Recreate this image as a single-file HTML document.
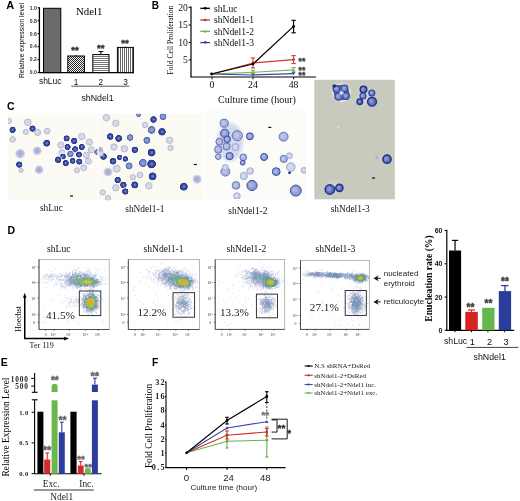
<!DOCTYPE html>
<html><head><meta charset="utf-8"><style>
html,body{margin:0;padding:0;background:#fff;width:520px;height:501px;overflow:hidden;font-family:"Liberation Sans",sans-serif;}
svg{display:block;will-change:transform;filter:blur(0.3px);}
</style></head><body>
<svg width="520" height="501" viewBox="0 0 520 501"><defs>
<pattern id="pCross" width="2" height="2" patternUnits="userSpaceOnUse"><rect width="2" height="2" fill="#fff"/><rect width="1" height="1" fill="#222"/><rect x="1" y="1" width="1" height="1" fill="#222"/></pattern>
<pattern id="pHor" width="2" height="2" patternUnits="userSpaceOnUse"><rect width="2" height="2" fill="#fff"/><rect width="2" height="0.9" fill="#666"/></pattern>
<pattern id="pVer" width="2" height="2" patternUnits="userSpaceOnUse"><rect width="2" height="2" fill="#fff"/><rect width="0.9" height="2" fill="#555"/></pattern>
<filter id="b1" x="-50%" y="-50%" width="200%" height="200%"><feGaussianBlur stdDeviation="0.6"/></filter>
<filter id="b2" x="-50%" y="-50%" width="200%" height="200%"><feGaussianBlur stdDeviation="1.5"/></filter>
<filter id="b3" x="-50%" y="-50%" width="200%" height="200%"><feGaussianBlur stdDeviation="3"/></filter>
<filter id="b05" x="-50%" y="-50%" width="200%" height="200%"><feGaussianBlur stdDeviation="0.35"/></filter>
</defs>
<text x="6.3" y="9" font-family="'Liberation Sans', sans-serif" font-size="11" text-anchor="start" font-weight="bold" fill="#000" >A</text>
<line x1="39.4" y1="7.3" x2="39.4" y2="72.6" stroke="#000" stroke-width="1.3" />
<line x1="38.8" y1="72.6" x2="134" y2="72.6" stroke="#000" stroke-width="1.3" />
<line x1="37.5" y1="7.8" x2="39.4" y2="7.8" stroke="#000" stroke-width="1" />
<text x="36.9" y="9.6" font-family="'Liberation Sans', sans-serif" font-size="5.1" text-anchor="end" font-weight="bold" fill="#333" >1.0</text>
<line x1="37.5" y1="20.76" x2="39.4" y2="20.76" stroke="#000" stroke-width="1" />
<text x="36.9" y="22.560000000000002" font-family="'Liberation Sans', sans-serif" font-size="5.1" text-anchor="end" font-weight="bold" fill="#333" >0.8</text>
<line x1="37.5" y1="33.72" x2="39.4" y2="33.72" stroke="#000" stroke-width="1" />
<text x="36.9" y="35.519999999999996" font-family="'Liberation Sans', sans-serif" font-size="5.1" text-anchor="end" font-weight="bold" fill="#333" >0.6</text>
<line x1="37.5" y1="46.68" x2="39.4" y2="46.68" stroke="#000" stroke-width="1" />
<text x="36.9" y="48.48" font-family="'Liberation Sans', sans-serif" font-size="5.1" text-anchor="end" font-weight="bold" fill="#333" >0.4</text>
<line x1="37.5" y1="59.64" x2="39.4" y2="59.64" stroke="#000" stroke-width="1" />
<text x="36.9" y="61.44" font-family="'Liberation Sans', sans-serif" font-size="5.1" text-anchor="end" font-weight="bold" fill="#333" >0.2</text>
<line x1="37.5" y1="72.60000000000001" x2="39.4" y2="72.60000000000001" stroke="#000" stroke-width="1" />
<text x="36.9" y="74.4" font-family="'Liberation Sans', sans-serif" font-size="5.1" text-anchor="end" font-weight="bold" fill="#333" >0.0</text>
<text x="0" y="0" font-family="'Liberation Sans', sans-serif" font-size="6.8" text-anchor="middle" fill="#000" transform="translate(23.6,40.5) rotate(-90)" fill="#222">Relative expression level</text>
<rect x="43.5" y="8.3" width="17.3" height="64.3" fill="#6a6a6a" stroke="#000" stroke-width="1" />
<rect x="67.8" y="56" width="16.6" height="16.6" fill="url(#pCross)" stroke="#000" stroke-width="1" />
<rect x="92.8" y="54.6" width="16.2" height="18" fill="url(#pHor)" stroke="#000" stroke-width="1" />
<rect x="117.4" y="47.4" width="16" height="25.2" fill="url(#pVer)" stroke="#000" stroke-width="1" />
<line x1="100.9" y1="51.6" x2="100.9" y2="54.6" stroke="#000" stroke-width="1" />
<line x1="98.5" y1="51.6" x2="103.3" y2="51.6" stroke="#000" stroke-width="1" />
<line x1="76" y1="55" x2="76" y2="56" stroke="#000" stroke-width="1" />
<line x1="125.5" y1="46.8" x2="125.5" y2="47.4" stroke="#000" stroke-width="1" />
<text x="75.05" y="53.49" font-family="'Liberation Sans', sans-serif" font-size="9.59" text-anchor="middle" font-weight="bold" fill="#333" stroke="#333" stroke-width="0.45">**</text>
<text x="100.7" y="51.39" font-family="'Liberation Sans', sans-serif" font-size="9.59" text-anchor="middle" font-weight="bold" fill="#333" stroke="#333" stroke-width="0.45">**</text>
<text x="124.95" y="46.29" font-family="'Liberation Sans', sans-serif" font-size="9.59" text-anchor="middle" font-weight="bold" fill="#333" stroke="#333" stroke-width="0.45">**</text>
<text x="50" y="16" font-family="'Liberation Sans', sans-serif" font-size="1" text-anchor="start" fill="#000" ></text>
<text x="76" y="15.2" font-family="'Liberation Serif', serif" font-size="10.8" text-anchor="start" fill="#000" >Ndel1</text>
<text x="38.9" y="83.7" font-family="'Liberation Sans', sans-serif" font-size="8.5" text-anchor="start" fill="#111" >shLuc</text>
<text x="76.1" y="84.8" font-family="'Liberation Sans', sans-serif" font-size="8.2" text-anchor="middle" fill="#111" >1</text>
<text x="100.9" y="84.8" font-family="'Liberation Sans', sans-serif" font-size="8.2" text-anchor="middle" fill="#111" >2</text>
<text x="125.6" y="84.8" font-family="'Liberation Sans', sans-serif" font-size="8.2" text-anchor="middle" fill="#111" >3</text>
<line x1="71.3" y1="86.2" x2="129.4" y2="86.2" stroke="#444" stroke-width="0.9" />
<text x="81.4" y="100.6" font-family="'Liberation Sans', sans-serif" font-size="8.8" text-anchor="start" fill="#111" >shNdel1</text>
<text x="151.8" y="9.2" font-family="'Liberation Sans', sans-serif" font-size="10" text-anchor="start" font-weight="bold" fill="#000" >B</text>
<line x1="191" y1="6.5" x2="191" y2="77.2" stroke="#000" stroke-width="1.2" />
<line x1="190.4" y1="77" x2="316" y2="77" stroke="#000" stroke-width="1.2" />
<line x1="188.6" y1="7.3" x2="191" y2="7.3" stroke="#000" stroke-width="1" />
<text x="187.8" y="10.6" font-family="'Liberation Serif', serif" font-size="9.6" text-anchor="end" fill="#111" >20</text>
<line x1="188.6" y1="25" x2="191" y2="25" stroke="#000" stroke-width="1" />
<text x="187.8" y="28.3" font-family="'Liberation Serif', serif" font-size="9.6" text-anchor="end" fill="#111" >15</text>
<line x1="188.6" y1="42.4" x2="191" y2="42.4" stroke="#000" stroke-width="1" />
<text x="187.8" y="45.699999999999996" font-family="'Liberation Serif', serif" font-size="9.6" text-anchor="end" fill="#111" >10</text>
<line x1="188.6" y1="59.9" x2="191" y2="59.9" stroke="#000" stroke-width="1" />
<text x="187.8" y="63.199999999999996" font-family="'Liberation Serif', serif" font-size="9.6" text-anchor="end" fill="#111" >5</text>
<line x1="212" y1="77" x2="212" y2="79.3" stroke="#000" stroke-width="1" />
<text x="212" y="88.4" font-family="'Liberation Serif', serif" font-size="9.8" text-anchor="middle" fill="#111" >0</text>
<line x1="253" y1="77" x2="253" y2="79.3" stroke="#000" stroke-width="1" />
<text x="253" y="88.4" font-family="'Liberation Serif', serif" font-size="9.8" text-anchor="middle" fill="#111" >24</text>
<line x1="293.6" y1="77" x2="293.6" y2="79.3" stroke="#000" stroke-width="1" />
<text x="293.6" y="88.4" font-family="'Liberation Serif', serif" font-size="9.8" text-anchor="middle" fill="#111" >48</text>
<text x="257" y="103" font-family="'Liberation Serif', serif" font-size="10" text-anchor="middle" fill="#111" >Culture time (hour)</text>
<text x="0" y="0" font-family="'Liberation Serif', serif" font-size="7.6" text-anchor="middle" fill="#000" transform="translate(173.3,40) rotate(-90)" fill="#222">Fold Cell Proliferation</text>
<line x1="200.3" y1="8.3" x2="210" y2="8.3" stroke="#000" stroke-width="1.3" />
<circle cx="205.2" cy="8.3" r="1.36" fill="#000"/>
<text x="214" y="11.5" font-family="'Liberation Serif', serif" font-size="9.6" text-anchor="start" fill="#111" >shLuc</text>
<line x1="200.3" y1="20" x2="210" y2="20" stroke="#d03030" stroke-width="1.3" />
<circle cx="205.2" cy="20" r="1.36" fill="#d03030"/>
<text x="214" y="23.2" font-family="'Liberation Serif', serif" font-size="9.6" text-anchor="start" fill="#111" >shNdel1-1</text>
<line x1="200.3" y1="31.3" x2="210" y2="31.3" stroke="#70b850" stroke-width="1.3" />
<path d="M203.60,32.58 L205.20,29.70 L206.80,32.58 Z" fill="#70b850"/>
<text x="214" y="34.5" font-family="'Liberation Serif', serif" font-size="9.6" text-anchor="start" fill="#111" >shNdel1-2</text>
<line x1="200.3" y1="42.6" x2="210" y2="42.6" stroke="#3040a0" stroke-width="1.3" />
<path d="M203.60,41.32 L205.20,44.20 L206.80,41.32 Z" fill="#3040a0"/>
<text x="214" y="45.800000000000004" font-family="'Liberation Serif', serif" font-size="9.6" text-anchor="start" fill="#111" >shNdel1-3</text>
<polyline points="211.6,74 253,72.3 293.6,69.8" fill="none" stroke="#78b858" stroke-width="1.2"/>
<polyline points="211.6,74 253,75 293.6,73.6" fill="none" stroke="#3848a8" stroke-width="1.2"/>
<polyline points="211.6,74 253,63 293.6,59.6" fill="none" stroke="#d03838" stroke-width="1.2"/>
<polyline points="211.6,74 253,64 293.6,26.4" fill="none" stroke="#000" stroke-width="1.2"/>
<line x1="253" y1="58" x2="253" y2="68" stroke="#d03838" stroke-width="1.1" />
<line x1="250.8" y1="58" x2="255.2" y2="58" stroke="#d03838" stroke-width="1.1" />
<line x1="250.8" y1="68" x2="255.2" y2="68" stroke="#d03838" stroke-width="1.1" />
<line x1="293.6" y1="55.6" x2="293.6" y2="63.6" stroke="#d03838" stroke-width="1.1" />
<line x1="291.40000000000003" y1="55.6" x2="295.8" y2="55.6" stroke="#d03838" stroke-width="1.1" />
<line x1="291.40000000000003" y1="63.6" x2="295.8" y2="63.6" stroke="#d03838" stroke-width="1.1" />
<line x1="293.6" y1="20.3" x2="293.6" y2="32.8" stroke="#000" stroke-width="1.1" />
<line x1="291.40000000000003" y1="20.3" x2="295.8" y2="20.3" stroke="#000" stroke-width="1.1" />
<line x1="291.40000000000003" y1="32.8" x2="295.8" y2="32.8" stroke="#000" stroke-width="1.1" />
<line x1="293.6" y1="67.5" x2="293.6" y2="72" stroke="#78b858" stroke-width="1.1" />
<line x1="291.40000000000003" y1="67.5" x2="295.8" y2="67.5" stroke="#78b858" stroke-width="1.1" />
<line x1="291.40000000000003" y1="72" x2="295.8" y2="72" stroke="#78b858" stroke-width="1.1" />
<line x1="253" y1="70.5" x2="253" y2="74" stroke="#78b858" stroke-width="1.1" />
<line x1="250.8" y1="70.5" x2="255.2" y2="70.5" stroke="#78b858" stroke-width="1.1" />
<line x1="250.8" y1="74" x2="255.2" y2="74" stroke="#78b858" stroke-width="1.1" />
<circle cx="253" cy="63" r="1.44" fill="#d03838"/>
<circle cx="293.6" cy="59.6" r="1.44" fill="#d03838"/>
<circle cx="253" cy="64" r="1.44" fill="#000"/>
<circle cx="293.6" cy="26.4" r="1.44" fill="#000"/>
<path d="M251.30,73.66 L253.00,70.60 L254.70,73.66 Z" fill="#78b858"/>
<path d="M291.90,71.16 L293.60,68.10 L295.30,71.16 Z" fill="#78b858"/>
<path d="M251.30,73.64 L253.00,76.70 L254.70,73.64 Z" fill="#3848a8"/>
<path d="M291.90,72.24 L293.60,75.30 L295.30,72.24 Z" fill="#3848a8"/>
<circle cx="211.6" cy="74" r="1.44" fill="#000"/>
<text x="301.9" y="64.42" font-family="'Liberation Sans', sans-serif" font-size="8.49" text-anchor="middle" font-weight="bold" fill="#444" stroke="#444" stroke-width="0.45">**</text>
<text x="301.9" y="73.22" font-family="'Liberation Sans', sans-serif" font-size="8.49" text-anchor="middle" font-weight="bold" fill="#444" stroke="#444" stroke-width="0.45">**</text>
<text x="301.9" y="78.22" font-family="'Liberation Sans', sans-serif" font-size="8.49" text-anchor="middle" font-weight="bold" fill="#444" stroke="#444" stroke-width="0.45">**</text>
<text x="7" y="110.3" font-family="'Liberation Sans', sans-serif" font-size="10.5" text-anchor="start" font-weight="bold" fill="#000" >C</text>
<defs>
<radialGradient id="gD"><stop offset="0" stop-color="#6272b4"/><stop offset="0.4" stop-color="#3c4c9e"/><stop offset="0.8" stop-color="#2c3c92"/><stop offset="0.92" stop-color="#32429a"/><stop offset="1" stop-color="#7080b8" stop-opacity="0.3"/></radialGradient>
<radialGradient id="gM"><stop offset="0" stop-color="#a0abd6"/><stop offset="0.6" stop-color="#7482c2"/><stop offset="0.88" stop-color="#5566b0"/><stop offset="1" stop-color="#8090c8" stop-opacity="0.3"/></radialGradient>
<radialGradient id="gL"><stop offset="0" stop-color="#dcdee8"/><stop offset="0.6" stop-color="#c8ccdc"/><stop offset="0.86" stop-color="#a6adc8"/><stop offset="1" stop-color="#c4c8d8" stop-opacity="0.3"/></radialGradient>
<radialGradient id="gF"><stop offset="0" stop-color="#98a2d2" stop-opacity="0.95"/><stop offset="0.65" stop-color="#a8b0da" stop-opacity="0.8"/><stop offset="1" stop-color="#c4c9e4" stop-opacity="0"/></radialGradient>
<radialGradient id="gO"><stop offset="0" stop-color="#a8b2e0"/><stop offset="0.55" stop-color="#8e9ad4"/><stop offset="0.78" stop-color="#5363b2"/><stop offset="0.9" stop-color="#34449c"/><stop offset="1" stop-color="#7080c0" stop-opacity="0.3"/></radialGradient>
<radialGradient id="gOL"><stop offset="0" stop-color="#c4cbea"/><stop offset="0.6" stop-color="#a9b3e0"/><stop offset="0.85" stop-color="#7684c4"/><stop offset="1" stop-color="#a0aad8" stop-opacity="0.3"/></radialGradient>
<radialGradient id="gOLL"><stop offset="0" stop-color="#dadff0"/><stop offset="0.6" stop-color="#c8cfea"/><stop offset="0.86" stop-color="#a2acd8"/><stop offset="1" stop-color="#c0c8e4" stop-opacity="0.2"/></radialGradient>
<radialGradient id="g4"><stop offset="0" stop-color="#8494d2"/><stop offset="0.45" stop-color="#5a6cc0"/><stop offset="0.8" stop-color="#3244a2"/><stop offset="0.92" stop-color="#2a3a96"/><stop offset="1" stop-color="#6878b8" stop-opacity="0.3"/></radialGradient>
<radialGradient id="gH"><stop offset="0" stop-color="#e2e4de" stop-opacity="0.9"/><stop offset="1" stop-color="#d6d8d0" stop-opacity="0"/></radialGradient>
<clipPath id="c1"><rect x="8" y="114.7" width="89.5" height="85.5"/></clipPath>
<clipPath id="c2"><rect x="98.8" y="113.8" width="104" height="86.5"/></clipPath>
<clipPath id="c3"><rect x="204.5" y="110" width="101.5" height="89"/></clipPath>
<clipPath id="c4"><rect x="314.3" y="79.8" width="80.5" height="119.5"/></clipPath>
</defs>
<rect x="8" y="114.7" width="89.5" height="85.5" fill="#fbfaf4" stroke="none" stroke-width="0" />
<g clip-path="url(#c1)" filter="url(#b05)">
<circle cx="20.2" cy="153.6" r="5.5" fill="url(#gF)" filter="url(#b1)"/>
<circle cx="37.2" cy="150.8" r="5.0" fill="url(#gF)" filter="url(#b1)"/>
<circle cx="39.1" cy="169.7" r="5.0" fill="url(#gF)" filter="url(#b1)"/>
<circle cx="12.6" cy="129.9" r="4.2" fill="#ffffff" opacity="0.75"/>
<circle cx="12.6" cy="129.9" r="3.3" fill="url(#gD)"/>
<circle cx="12.8" cy="129.8" r="1.1" fill="#8090c8" opacity="0.55"/>
<circle cx="12.6" cy="139.4" r="2.9" fill="#d6d9e6" stroke="#a0a8c6" stroke-width="0.7"/>
<circle cx="27.8" cy="122.3" r="3.4" fill="#d6d9e6" stroke="#a0a8c6" stroke-width="0.7"/>
<circle cx="25.9" cy="131.8" r="2.6" fill="#d6d9e6" stroke="#a0a8c6" stroke-width="0.7"/>
<circle cx="32.5" cy="128.6" r="4.2" fill="#ffffff" opacity="0.75"/>
<circle cx="32.5" cy="128.6" r="3.3" fill="url(#gD)"/>
<circle cx="32.7" cy="128.5" r="1.1" fill="#8090c8" opacity="0.55"/>
<circle cx="37.6" cy="132.4" r="3.1" fill="#d6d9e6" stroke="#a0a8c6" stroke-width="0.7"/>
<circle cx="47.1" cy="131.2" r="2.9" fill="#d6d9e6" stroke="#a0a8c6" stroke-width="0.7"/>
<circle cx="46.7" cy="143.2" r="4.5" fill="#ffffff" opacity="0.75"/>
<circle cx="46.7" cy="143.2" r="3.6" fill="url(#gD)"/>
<circle cx="46.9" cy="143.1" r="1.2" fill="#8090c8" opacity="0.55"/>
<circle cx="19.2" cy="164.6" r="4.2" fill="#ffffff" opacity="0.75"/>
<circle cx="19.2" cy="164.6" r="3.3" fill="url(#gD)"/>
<circle cx="19.4" cy="164.5" r="1.1" fill="#8090c8" opacity="0.55"/>
<circle cx="21.1" cy="170.3" r="2.1" fill="#d6d9e6" stroke="#a0a8c6" stroke-width="0.7"/>
<circle cx="9.0" cy="121.0" r="2.6" fill="#d6d9e6" stroke="#a0a8c6" stroke-width="0.7"/>
<circle cx="66.6" cy="138.4" r="4.1" fill="#ffffff" opacity="0.75"/>
<circle cx="66.6" cy="138.4" r="3.2" fill="url(#gD)"/>
<circle cx="66.8" cy="138.3" r="1.1" fill="#8090c8" opacity="0.55"/>
<circle cx="74.2" cy="140.9" r="4.2" fill="#ffffff" opacity="0.75"/>
<circle cx="74.2" cy="140.9" r="3.3" fill="url(#gD)"/>
<circle cx="74.4" cy="140.8" r="1.1" fill="#8090c8" opacity="0.55"/>
<circle cx="81.8" cy="136.5" r="3.2" fill="#d6d9e6" stroke="#a0a8c6" stroke-width="0.7"/>
<circle cx="89.4" cy="142.2" r="3.1" fill="#d6d9e6" stroke="#a0a8c6" stroke-width="0.7"/>
<circle cx="67.6" cy="147.0" r="4.1" fill="#ffffff" opacity="0.75"/>
<circle cx="67.6" cy="147.0" r="3.2" fill="url(#gD)"/>
<circle cx="67.8" cy="146.9" r="1.1" fill="#8090c8" opacity="0.55"/>
<circle cx="75.2" cy="149.4" r="4.2" fill="#ffffff" opacity="0.75"/>
<circle cx="75.2" cy="149.4" r="3.3" fill="url(#gD)"/>
<circle cx="75.4" cy="149.3" r="1.1" fill="#8090c8" opacity="0.55"/>
<circle cx="81.8" cy="147.0" r="4.1" fill="#ffffff" opacity="0.75"/>
<circle cx="81.8" cy="147.0" r="3.2" fill="url(#gD)"/>
<circle cx="82.0" cy="146.9" r="1.1" fill="#8090c8" opacity="0.55"/>
<circle cx="60.9" cy="145.1" r="3.1" fill="#d6d9e6" stroke="#a0a8c6" stroke-width="0.7"/>
<circle cx="91.3" cy="149.8" r="3.1" fill="#d6d9e6" stroke="#a0a8c6" stroke-width="0.7"/>
<circle cx="61.9" cy="152.7" r="3.0" fill="#d6d9e6" stroke="#a0a8c6" stroke-width="0.7"/>
<circle cx="62.8" cy="156.5" r="4.0" fill="#ffffff" opacity="0.75"/>
<circle cx="62.8" cy="156.5" r="3.1" fill="url(#gD)"/>
<circle cx="63.0" cy="156.4" r="1.0" fill="#8090c8" opacity="0.55"/>
<circle cx="70.4" cy="154.0" r="4.3" fill="#ffffff" opacity="0.75"/>
<circle cx="70.4" cy="154.0" r="3.4" fill="url(#gM)"/>
<circle cx="79.0" cy="154.6" r="4.1" fill="#ffffff" opacity="0.75"/>
<circle cx="79.0" cy="154.6" r="3.2" fill="url(#gD)"/>
<circle cx="79.2" cy="154.5" r="1.1" fill="#8090c8" opacity="0.55"/>
<circle cx="86.5" cy="155.1" r="3.0" fill="#d6d9e6" stroke="#a0a8c6" stroke-width="0.7"/>
<circle cx="58.1" cy="159.7" r="4.3" fill="#ffffff" opacity="0.75"/>
<circle cx="58.1" cy="159.7" r="3.4" fill="url(#gD)"/>
<circle cx="58.3" cy="159.6" r="1.1" fill="#8090c8" opacity="0.55"/>
<circle cx="65.7" cy="163.1" r="4.2" fill="#ffffff" opacity="0.75"/>
<circle cx="65.7" cy="163.1" r="3.3" fill="url(#gD)"/>
<circle cx="65.9" cy="163.0" r="1.1" fill="#8090c8" opacity="0.55"/>
<circle cx="72.7" cy="160.8" r="4.0" fill="#ffffff" opacity="0.75"/>
<circle cx="72.7" cy="160.8" r="3.1" fill="url(#gD)"/>
<circle cx="72.9" cy="160.7" r="1.0" fill="#8090c8" opacity="0.55"/>
<circle cx="79.3" cy="161.6" r="4.1" fill="#ffffff" opacity="0.75"/>
<circle cx="79.3" cy="161.6" r="3.2" fill="url(#gD)"/>
<circle cx="79.5" cy="161.5" r="1.1" fill="#8090c8" opacity="0.55"/>
<circle cx="88.4" cy="161.2" r="3.0" fill="#d6d9e6" stroke="#a0a8c6" stroke-width="0.7"/>
<circle cx="77.0" cy="170.3" r="2.6" fill="#d6d9e6" stroke="#a0a8c6" stroke-width="0.7"/>
<circle cx="83.7" cy="167.8" r="3.0" fill="#d6d9e6" stroke="#a0a8c6" stroke-width="0.7"/>
<circle cx="97.0" cy="152.0" r="3.9" fill="#ffffff" opacity="0.75"/>
<circle cx="97.0" cy="152.0" r="3.0" fill="url(#gM)"/>
</g>
<rect x="70" y="195.4" width="3" height="1.2" fill="#111" stroke="none" stroke-width="0" />
<rect x="98.8" y="113.8" width="104" height="86.5" fill="#fbfaf2" stroke="none" stroke-width="0" />
<g clip-path="url(#c2)" filter="url(#b05)">
<circle cx="197.1" cy="179.2" r="5.1" fill="url(#gF)" filter="url(#b1)"/>
<circle cx="100.0" cy="150.0" r="4.1" fill="url(#gF)" filter="url(#b1)"/>
<circle cx="108.0" cy="172.0" r="5.1" fill="url(#gF)" filter="url(#b1)"/>
<circle cx="110.2" cy="136.5" r="4.4" fill="#ffffff" opacity="0.75"/>
<circle cx="110.2" cy="136.5" r="3.5" fill="url(#gD)"/>
<circle cx="110.4" cy="136.4" r="1.1" fill="#8090c8" opacity="0.55"/>
<circle cx="118.7" cy="138.4" r="4.5" fill="#ffffff" opacity="0.75"/>
<circle cx="118.7" cy="138.4" r="3.6" fill="url(#gD)"/>
<circle cx="118.9" cy="138.3" r="1.2" fill="#8090c8" opacity="0.55"/>
<circle cx="130.1" cy="137.5" r="4.4" fill="#ffffff" opacity="0.75"/>
<circle cx="130.1" cy="137.5" r="3.5" fill="url(#gM)"/>
<circle cx="114.0" cy="147.0" r="3.2" fill="#d6d9e6" stroke="#a0a8c6" stroke-width="0.7"/>
<circle cx="124.4" cy="148.8" r="3.3" fill="#d6d9e6" stroke="#a0a8c6" stroke-width="0.7"/>
<circle cx="134.8" cy="149.8" r="4.3" fill="#ffffff" opacity="0.75"/>
<circle cx="134.8" cy="149.8" r="3.4" fill="url(#gD)"/>
<circle cx="135.0" cy="149.7" r="1.1" fill="#8090c8" opacity="0.55"/>
<circle cx="103.5" cy="156.4" r="4.4" fill="#ffffff" opacity="0.75"/>
<circle cx="103.5" cy="156.4" r="3.5" fill="url(#gD)"/>
<circle cx="103.7" cy="156.3" r="1.1" fill="#8090c8" opacity="0.55"/>
<circle cx="100.7" cy="153.6" r="2.7" fill="#d6d9e6" stroke="#a0a8c6" stroke-width="0.7"/>
<circle cx="119.6" cy="157.4" r="3.8" fill="#ffffff" opacity="0.75"/>
<circle cx="119.6" cy="157.4" r="2.9" fill="url(#gD)"/>
<circle cx="119.8" cy="157.3" r="0.9" fill="#8090c8" opacity="0.55"/>
<circle cx="125.3" cy="158.9" r="3.8" fill="#ffffff" opacity="0.75"/>
<circle cx="125.3" cy="158.9" r="2.9" fill="url(#gD)"/>
<circle cx="125.5" cy="158.8" r="0.9" fill="#8090c8" opacity="0.55"/>
<circle cx="113.0" cy="161.2" r="4.4" fill="#ffffff" opacity="0.75"/>
<circle cx="113.0" cy="161.2" r="3.5" fill="url(#gD)"/>
<circle cx="113.2" cy="161.1" r="1.1" fill="#8090c8" opacity="0.55"/>
<circle cx="116.8" cy="168.7" r="3.5" fill="#d6d9e6" stroke="#a0a8c6" stroke-width="0.7"/>
<circle cx="129.1" cy="165.9" r="4.6" fill="#ffffff" opacity="0.75"/>
<circle cx="129.1" cy="165.9" r="3.7" fill="url(#gM)"/>
<circle cx="117.7" cy="180.1" r="4.3" fill="#ffffff" opacity="0.75"/>
<circle cx="117.7" cy="180.1" r="3.4" fill="url(#gD)"/>
<circle cx="117.9" cy="180.0" r="1.1" fill="#8090c8" opacity="0.55"/>
<circle cx="123.4" cy="184.9" r="4.3" fill="#ffffff" opacity="0.75"/>
<circle cx="123.4" cy="184.9" r="3.4" fill="url(#gD)"/>
<circle cx="123.6" cy="184.8" r="1.1" fill="#8090c8" opacity="0.55"/>
<circle cx="134.8" cy="184.9" r="4.6" fill="#ffffff" opacity="0.75"/>
<circle cx="134.8" cy="184.9" r="3.7" fill="url(#gD)"/>
<circle cx="135.0" cy="184.8" r="1.2" fill="#8090c8" opacity="0.55"/>
<circle cx="125.3" cy="191.5" r="4.2" fill="#ffffff" opacity="0.75"/>
<circle cx="125.3" cy="191.5" r="3.3" fill="url(#gD)"/>
<circle cx="125.5" cy="191.4" r="1.1" fill="#8090c8" opacity="0.55"/>
<circle cx="132.9" cy="177.3" r="2.7" fill="#d6d9e6" stroke="#a0a8c6" stroke-width="0.7"/>
<circle cx="115.8" cy="187.7" r="3.2" fill="#d6d9e6" stroke="#a0a8c6" stroke-width="0.7"/>
<circle cx="102.6" cy="192.4" r="2.7" fill="#d6d9e6" stroke="#a0a8c6" stroke-width="0.7"/>
<circle cx="106.4" cy="117.6" r="3.2" fill="#d6d9e6" stroke="#a0a8c6" stroke-width="0.7"/>
<circle cx="115.8" cy="123.3" r="3.2" fill="#d6d9e6" stroke="#a0a8c6" stroke-width="0.7"/>
<circle cx="138.6" cy="114.7" r="3.4" fill="#ffffff" opacity="0.75"/>
<circle cx="138.6" cy="114.7" r="2.5" fill="url(#gM)"/>
<circle cx="153.5" cy="119.5" r="4.3" fill="#ffffff" opacity="0.75"/>
<circle cx="153.5" cy="119.5" r="3.4" fill="url(#gD)"/>
<circle cx="153.7" cy="119.4" r="1.1" fill="#8090c8" opacity="0.55"/>
<circle cx="163.0" cy="116.6" r="4.5" fill="#ffffff" opacity="0.75"/>
<circle cx="163.0" cy="116.6" r="3.6" fill="url(#gM)"/>
<circle cx="151.6" cy="129.9" r="5.0" fill="#ffffff" opacity="0.75"/>
<circle cx="151.6" cy="129.9" r="4.1" fill="url(#gM)"/>
<circle cx="162.0" cy="131.8" r="4.8" fill="#ffffff" opacity="0.75"/>
<circle cx="162.0" cy="131.8" r="3.9" fill="url(#gD)"/>
<circle cx="162.2" cy="131.7" r="1.3" fill="#8090c8" opacity="0.55"/>
<circle cx="169.6" cy="140.3" r="3.2" fill="#d6d9e6" stroke="#a0a8c6" stroke-width="0.7"/>
<circle cx="170.6" cy="147.9" r="2.7" fill="#d6d9e6" stroke="#a0a8c6" stroke-width="0.7"/>
<circle cx="146.9" cy="140.3" r="4.6" fill="#ffffff" opacity="0.75"/>
<circle cx="146.9" cy="140.3" r="3.7" fill="url(#gM)"/>
<circle cx="151.6" cy="152.6" r="5.0" fill="#ffffff" opacity="0.75"/>
<circle cx="151.6" cy="152.6" r="4.1" fill="url(#gD)"/>
<circle cx="151.8" cy="152.5" r="1.3" fill="#8090c8" opacity="0.55"/>
<circle cx="143.0" cy="163.0" r="5.2" fill="#ffffff" opacity="0.75"/>
<circle cx="143.0" cy="163.0" r="4.3" fill="url(#gM)"/>
<circle cx="151.6" cy="164.0" r="5.5" fill="#ffffff" opacity="0.75"/>
<circle cx="151.6" cy="164.0" r="4.6" fill="url(#gD)"/>
<circle cx="151.8" cy="163.9" r="1.5" fill="#8090c8" opacity="0.55"/>
<circle cx="152.6" cy="176.3" r="5.0" fill="#ffffff" opacity="0.75"/>
<circle cx="152.6" cy="176.3" r="4.1" fill="url(#gD)"/>
<circle cx="152.8" cy="176.2" r="1.3" fill="#8090c8" opacity="0.55"/>
<circle cx="148.8" cy="185.8" r="3.3" fill="#d6d9e6" stroke="#a0a8c6" stroke-width="0.7"/>
<circle cx="183.8" cy="186.7" r="5.0" fill="#ffffff" opacity="0.75"/>
<circle cx="183.8" cy="186.7" r="4.1" fill="url(#gD)"/>
<circle cx="184.0" cy="186.6" r="1.3" fill="#8090c8" opacity="0.55"/>
<circle cx="140.0" cy="175.0" r="2.9" fill="#d6d9e6" stroke="#a0a8c6" stroke-width="0.7"/>
<circle cx="145.0" cy="125.0" r="2.7" fill="#d6d9e6" stroke="#a0a8c6" stroke-width="0.7"/>
<circle cx="108.0" cy="198.0" r="2.7" fill="#d6d9e6" stroke="#a0a8c6" stroke-width="0.7"/>
</g>
<rect x="193.8" y="163.9" width="3" height="1.2" fill="#111" stroke="none" stroke-width="0" />
<rect x="204.5" y="110" width="101.5" height="89" fill="#fbfbf8" stroke="none" stroke-width="0" />
<g clip-path="url(#c3)" filter="url(#b05)">
<ellipse cx="230" cy="142" rx="13" ry="19" fill="#c5cbe8" opacity="0.7" filter="url(#b2)"/>
<circle cx="224.2" cy="123.2" r="4.1" fill="#a9b3e0" stroke="#5464b0" stroke-width="0.85"/>
<circle cx="223.5" cy="122.8" r="2.0" fill="#ffffff" opacity="0.25"/>
<circle cx="224.8" cy="133.4" r="4.2" fill="#8f9bd6" stroke="#3848a0" stroke-width="1.0"/>
<circle cx="224.1" cy="132.9" r="2.1" fill="#ffffff" opacity="0.25"/>
<circle cx="237.3" cy="135.7" r="5.1" fill="#a9b3e0" stroke="#5464b0" stroke-width="0.85"/>
<circle cx="236.5" cy="135.2" r="2.5" fill="#ffffff" opacity="0.25"/>
<circle cx="249.9" cy="136.3" r="3.5" fill="#8f9bd6" stroke="#3848a0" stroke-width="1.0"/>
<circle cx="249.3" cy="135.9" r="1.8" fill="#ffffff" opacity="0.25"/>
<circle cx="219.4" cy="141.7" r="3.5" fill="#a9b3e0" stroke="#5464b0" stroke-width="0.85"/>
<circle cx="218.8" cy="141.3" r="1.8" fill="#ffffff" opacity="0.25"/>
<circle cx="227.2" cy="139.3" r="3.3" fill="#8f9bd6" stroke="#3848a0" stroke-width="1.0"/>
<circle cx="226.6" cy="138.9" r="1.7" fill="#ffffff" opacity="0.25"/>
<circle cx="218.2" cy="149.5" r="3.7" fill="#a9b3e0" stroke="#5464b0" stroke-width="0.85"/>
<circle cx="217.6" cy="149.1" r="1.9" fill="#ffffff" opacity="0.25"/>
<circle cx="226.6" cy="146.5" r="3.6" fill="#a9b3e0" stroke="#5464b0" stroke-width="0.85"/>
<circle cx="226.0" cy="146.1" r="1.8" fill="#ffffff" opacity="0.25"/>
<circle cx="235.5" cy="147.1" r="3.5" fill="#c9cfec" stroke="#8a96cc" stroke-width="0.7"/>
<circle cx="234.9" cy="146.7" r="1.7" fill="#ffffff" opacity="0.25"/>
<circle cx="229.6" cy="156.1" r="3.6" fill="#8f9bd6" stroke="#3848a0" stroke-width="1.0"/>
<circle cx="229.0" cy="155.7" r="1.9" fill="#ffffff" opacity="0.25"/>
<circle cx="218.2" cy="156.7" r="2.8" fill="#a9b3e0" stroke="#5464b0" stroke-width="0.85"/>
<circle cx="217.7" cy="156.4" r="1.5" fill="#ffffff" opacity="0.25"/>
<circle cx="243.3" cy="157.3" r="3.4" fill="#a9b3e0" stroke="#5464b0" stroke-width="0.85"/>
<circle cx="242.7" cy="156.9" r="1.7" fill="#ffffff" opacity="0.25"/>
<circle cx="242.7" cy="162.7" r="2.4" fill="#8f9bd6" stroke="#3848a0" stroke-width="1.0"/>
<circle cx="242.3" cy="162.4" r="1.3" fill="#ffffff" opacity="0.25"/>
<circle cx="264.1" cy="157.0" r="3.5" fill="#8f9bd6" stroke="#3848a0" stroke-width="1.0"/>
<circle cx="263.5" cy="156.6" r="1.8" fill="#ffffff" opacity="0.25"/>
<circle cx="283.6" cy="136.7" r="4.5" fill="#a9b3e0" stroke="#5464b0" stroke-width="0.85"/>
<circle cx="282.9" cy="136.2" r="2.2" fill="#ffffff" opacity="0.25"/>
<circle cx="283.8" cy="158.9" r="3.6" fill="#a9b3e0" stroke="#5464b0" stroke-width="0.85"/>
<circle cx="283.2" cy="158.5" r="1.8" fill="#ffffff" opacity="0.25"/>
<circle cx="289.5" cy="155.7" r="2.9" fill="#c9cfec" stroke="#8a96cc" stroke-width="0.7"/>
<circle cx="289.0" cy="155.4" r="1.5" fill="#ffffff" opacity="0.25"/>
<circle cx="290.8" cy="167.1" r="4.4" fill="#c9cfec" stroke="#8a96cc" stroke-width="0.7"/>
<circle cx="290.1" cy="166.6" r="2.1" fill="#ffffff" opacity="0.25"/>
<circle cx="276.2" cy="171.6" r="3.9" fill="#8f9bd6" stroke="#3848a0" stroke-width="1.0"/>
<circle cx="275.5" cy="171.2" r="2.0" fill="#ffffff" opacity="0.25"/>
<circle cx="225.4" cy="171.6" r="4.5" fill="#a9b3e0" stroke="#5464b0" stroke-width="0.85"/>
<circle cx="224.7" cy="171.1" r="2.2" fill="#ffffff" opacity="0.25"/>
<circle cx="243.8" cy="176.0" r="3.7" fill="#c9cfec" stroke="#8a96cc" stroke-width="0.7"/>
<circle cx="243.2" cy="175.6" r="1.8" fill="#ffffff" opacity="0.25"/>
<circle cx="250.2" cy="171.0" r="3.3" fill="#c9cfec" stroke="#8a96cc" stroke-width="0.7"/>
<circle cx="249.6" cy="170.6" r="1.7" fill="#ffffff" opacity="0.25"/>
<circle cx="236.0" cy="185.4" r="3.8" fill="#a9b3e0" stroke="#5464b0" stroke-width="0.85"/>
<circle cx="235.4" cy="185.0" r="1.9" fill="#ffffff" opacity="0.25"/>
<circle cx="252.0" cy="185.5" r="5.1" fill="#8f9bd6" stroke="#3848a0" stroke-width="1.0"/>
<circle cx="251.2" cy="184.9" r="2.5" fill="#ffffff" opacity="0.25"/>
<circle cx="295.8" cy="190.6" r="5.5" fill="#8f9bd6" stroke="#3848a0" stroke-width="1.0"/>
<circle cx="294.9" cy="190.0" r="2.7" fill="#ffffff" opacity="0.25"/>
<circle cx="237.0" cy="196.0" r="3.3" fill="#c9cfec" stroke="#8a96cc" stroke-width="0.7"/>
<circle cx="236.4" cy="195.6" r="1.7" fill="#ffffff" opacity="0.25"/>
<circle cx="304.0" cy="170.3" r="2.9" fill="#c9cfec" stroke="#8a96cc" stroke-width="0.7"/>
<circle cx="303.5" cy="170.0" r="1.5" fill="#ffffff" opacity="0.25"/>
<circle cx="225.4" cy="167.5" r="3.0" fill="#c9cfec" stroke="#8a96cc" stroke-width="0.7"/>
<circle cx="224.9" cy="167.2" r="1.5" fill="#ffffff" opacity="0.25"/>
<circle cx="289.5" cy="172.8" r="1.4" fill="#233590"/>
</g>
<rect x="268.3" y="126.8" width="3" height="1.2" fill="#111" stroke="none" stroke-width="0" />
<rect x="314.3" y="79.8" width="80.5" height="119.5" fill="#c7cabd" stroke="none" stroke-width="0" />
<circle cx="338.3" cy="127.2" r="0.8" fill="#f4f4ee"/>
<g clip-path="url(#c4)" filter="url(#b05)">
<circle cx="341.0" cy="92.0" r="12.0" fill="url(#gH)" filter="url(#b2)"/>
<circle cx="366.0" cy="96.0" r="12.0" fill="url(#gH)" filter="url(#b2)"/>
<circle cx="386.0" cy="159.0" r="7.0" fill="url(#gH)" filter="url(#b2)"/>
<circle cx="334.0" cy="188.0" r="9.0" fill="url(#gH)" filter="url(#b2)"/>
<circle cx="341.5" cy="92.5" r="9.2" fill="#ffffff" opacity="0.75"/>
<circle cx="341.5" cy="92.5" r="8.3" fill="url(#gM)"/>
<circle cx="336.5" cy="89.0" r="3.3" fill="#7080c6" stroke="#34449c" stroke-width="1.2"/>
<circle cx="335.9" cy="88.6" r="1.8" fill="#ffffff" opacity="0.25"/>
<circle cx="344.5" cy="88.5" r="3.4" fill="#7080c6" stroke="#34449c" stroke-width="1.2"/>
<circle cx="343.9" cy="88.1" r="1.8" fill="#ffffff" opacity="0.25"/>
<circle cx="338.5" cy="96.5" r="3.7" fill="#7080c6" stroke="#34449c" stroke-width="1.2"/>
<circle cx="337.9" cy="96.1" r="1.9" fill="#ffffff" opacity="0.25"/>
<circle cx="346.0" cy="96.0" r="3.4" fill="#7080c6" stroke="#34449c" stroke-width="1.2"/>
<circle cx="345.4" cy="95.6" r="1.8" fill="#ffffff" opacity="0.25"/>
<circle cx="341.5" cy="93.0" r="2.1" fill="#c9cfec" stroke="#8a96cc" stroke-width="0.7"/>
<circle cx="341.1" cy="92.8" r="1.1" fill="#ffffff" opacity="0.25"/>
<circle cx="363.5" cy="89.5" r="3.3" fill="#5e6ebc" stroke="#24328c" stroke-width="1.5"/>
<circle cx="362.9" cy="89.1" r="1.8" fill="#ffffff" opacity="0.25"/>
<circle cx="363.0" cy="96.0" r="3.0" fill="#7080c6" stroke="#34449c" stroke-width="1.2"/>
<circle cx="362.5" cy="95.6" r="1.6" fill="#ffffff" opacity="0.25"/>
<circle cx="371.8" cy="93.0" r="3.0" fill="#7080c6" stroke="#34449c" stroke-width="1.2"/>
<circle cx="371.3" cy="92.6" r="1.6" fill="#ffffff" opacity="0.25"/>
<circle cx="359.8" cy="101.7" r="2.7" fill="#5e6ebc" stroke="#24328c" stroke-width="1.5"/>
<circle cx="359.3" cy="101.4" r="1.6" fill="#ffffff" opacity="0.25"/>
<circle cx="372.0" cy="101.7" r="4.4" fill="#5e6ebc" stroke="#24328c" stroke-width="1.5"/>
<circle cx="371.2" cy="101.2" r="2.3" fill="#ffffff" opacity="0.25"/>
<circle cx="376.6" cy="157.5" r="2.0" fill="url(#gF)" filter="url(#b1)"/>
<circle cx="387.0" cy="159.2" r="4.1" fill="#5e6ebc" stroke="#24328c" stroke-width="1.5"/>
<circle cx="386.3" cy="158.7" r="2.2" fill="#ffffff" opacity="0.25"/>
<circle cx="329.9" cy="189.5" r="4.7" fill="#5e6ebc" stroke="#24328c" stroke-width="1.5"/>
<circle cx="329.1" cy="189.0" r="2.5" fill="#ffffff" opacity="0.25"/>
<circle cx="339.4" cy="187.8" r="3.6" fill="#5e6ebc" stroke="#24328c" stroke-width="1.5"/>
<circle cx="338.7" cy="187.4" r="2.0" fill="#ffffff" opacity="0.25"/>
<circle cx="334.2" cy="86" r="1.8" fill="#1e2a78"/>
</g>
<rect x="372" y="177.4" width="3" height="1.2" fill="#111" stroke="none" stroke-width="0" />
<text x="51.4" y="210.5" font-family="'Liberation Serif', serif" font-size="9.4" text-anchor="middle" fill="#111" >shLuc</text>
<text x="144.8" y="211.6" font-family="'Liberation Serif', serif" font-size="9.4" text-anchor="middle" fill="#111" >shNdel1-1</text>
<text x="247.9" y="213.6" font-family="'Liberation Serif', serif" font-size="9.4" text-anchor="middle" fill="#111" >shNdel1-2</text>
<text x="350.2" y="211.8" font-family="'Liberation Serif', serif" font-size="9.4" text-anchor="middle" fill="#111" >shNdel1-3</text>
<text x="7.5" y="233.6" font-family="'Liberation Sans', sans-serif" font-size="10.5" text-anchor="start" font-weight="bold" fill="#000" >D</text>
<rect x="39" y="259.6" width="70.2" height="69.89999999999998" fill="#fff" stroke="#999" stroke-width="0.7" />
<line x1="39" y1="259.6" x2="39" y2="329.5" stroke="#333" stroke-width="0.8" />
<line x1="39" y1="329.5" x2="109.2" y2="329.5" stroke="#333" stroke-width="0.8" />
<path d="M56.8 281.4h1v1h-1zM56.6 283.0h1v1h-1zM55.3 282.9h1v1h-1zM94.7 272.7h1v1h-1zM65.5 266.2h1v1h-1zM62.7 272.2h1v1h-1zM71.7 290.4h1v1h-1zM104.8 277.6h1v1h-1zM56.6 284.9h1v1h-1zM103.9 270.5h1v1h-1zM75.4 292.7h1v1h-1zM78.1 266.7h1v1h-1zM73.2 269.1h1v1h-1zM100.7 275.8h1v1h-1zM88.7 269.6h1v1h-1zM59.6 273.2h1v1h-1zM55.5 284.0h1v1h-1zM101.9 284.8h1v1h-1zM85.8 270.1h1v1h-1zM98.0 273.9h1v1h-1zM72.1 269.7h1v1h-1zM54.5 273.6h1v1h-1zM64.4 287.8h1v1h-1zM45.9 282.1h1v1h-1zM102.5 277.2h1v1h-1zM51.2 282.1h1v1h-1zM90.1 270.7h1v1h-1zM105.2 282.6h1v1h-1zM54.0 285.3h1v1h-1zM66.7 290.2h1v1h-1zM80.8 289.5h1v1h-1zM73.9 268.6h1v1h-1zM54.6 282.9h1v1h-1zM43.0 278.7h1v1h-1zM105.0 282.9h1v1h-1zM103.3 284.1h1v1h-1zM53.2 270.8h1v1h-1zM65.0 287.5h1v1h-1zM95.5 267.7h1v1h-1zM105.0 283.7h1v1h-1zM102.5 278.0h1v1h-1zM55.3 280.4h1v1h-1zM47.5 282.7h1v1h-1zM79.4 268.1h1v1h-1zM95.3 272.0h1v1h-1zM67.2 288.6h1v1h-1zM60.2 288.2h1v1h-1zM58.5 283.1h1v1h-1zM46.6 282.3h1v1h-1zM87.7 269.2h1v1h-1zM69.9 287.6h1v1h-1zM100.8 268.6h1v1h-1zM85.0 267.2h1v1h-1zM72.3 288.0h1v1h-1zM83.2 288.8h1v1h-1zM43.2 274.4h1v1h-1zM41.6 277.6h1v1h-1zM43.0 277.2h1v1h-1zM45.6 279.2h1v1h-1zM48.6 280.8h1v1h-1zM46.0 273.8h1v1h-1zM42.1 281.3h1v1h-1zM104.3 279.9h1v1h-1zM105.3 283.2h1v1h-1zM92.2 315.5h1v1h-1zM83.1 311.0h1v1h-1zM102.8 300.1h1v1h-1zM91.4 314.9h1v1h-1zM98.3 309.6h1v1h-1zM95.4 291.9h1v1h-1zM100.8 299.0h1v1h-1zM87.5 313.8h1v1h-1zM95.1 311.9h1v1h-1zM83.1 313.8h1v1h-1zM99.4 291.8h1v1h-1zM79.3 296.0h1v1h-1zM80.4 290.6h1v1h-1zM96.0 313.0h1v1h-1zM88.0 314.3h1v1h-1zM102.2 298.0h1v1h-1zM92.1 314.6h1v1h-1zM96.2 311.8h1v1h-1zM83.6 311.5h1v1h-1zM99.8 296.4h1v1h-1zM79.7 293.5h1v1h-1zM98.6 310.1h1v1h-1zM95.8 289.1h1v1h-1zM72.6 298.7h1v1h-1zM68.0 301.7h1v1h-1zM72.4 305.7h1v1h-1zM68.9 303.9h1v1h-1zM68.1 302.6h1v1h-1zM73.3 305.9h1v1h-1zM69.5 306.2h1v1h-1zM68.8 299.2h1v1h-1zM67.9 301.5h1v1h-1zM75.8 305.6h1v1h-1zM60.7 303.0h1v1h-1zM76.6 305.8h1v1h-1zM75.9 296.8h1v1h-1zM68.1 297.5h1v1h-1zM65.5 297.1h1v1h-1zM67.8 304.9h1v1h-1zM64.1 295.3h1v1h-1zM65.6 300.6h1v1h-1zM62.7 301.6h1v1h-1zM66.1 307.6h1v1h-1zM73.7 304.3h1v1h-1zM70.7 296.8h1v1h-1zM66.0 306.0h1v1h-1zM70.0 306.6h1v1h-1zM72.6 298.9h1v1h-1zM74.4 304.2h1v1h-1zM77.6 268.2h1v1h-1zM50.7 270.9h1v1h-1zM101.9 320.7h1v1h-1zM60.4 294.2h1v1h-1zM103.3 299.8h1v1h-1zM43.2 322.2h1v1h-1zM75.5 317.0h1v1h-1zM107.0 276.9h1v1h-1zM42.6 305.8h1v1h-1zM66.8 297.7h1v1h-1zM44.8 319.2h1v1h-1zM46.0 286.8h1v1h-1zM98.9 317.3h1v1h-1zM41.2 281.6h1v1h-1zM42.6 316.4h1v1h-1zM104.6 278.9h1v1h-1zM54.2 310.8h1v1h-1zM68.9 323.8h1v1h-1zM65.0 299.4h1v1h-1zM100.3 289.3h1v1h-1zM68.1 320.4h1v1h-1zM61.9 324.8h1v1h-1zM96.1 269.5h1v1h-1zM102.6 275.9h1v1h-1zM43.3 308.9h1v1h-1zM78.5 324.2h1v1h-1zM84.8 291.0h1v1h-1zM72.5 296.1h1v1h-1zM104.3 303.6h1v1h-1zM76.2 317.7h1v1h-1zM75.9 295.4h1v1h-1zM43.9 322.4h1v1h-1zM50.0 291.7h1v1h-1zM44.4 298.5h1v1h-1zM52.4 301.9h1v1h-1zM100.4 273.5h1v1h-1zM67.4 321.0h1v1h-1zM44.2 282.9h1v1h-1zM58.3 317.7h1v1h-1zM75.1 319.8h1v1h-1zM100.5 308.9h1v1h-1zM59.4 314.5h1v1h-1zM51.9 299.1h1v1h-1zM102.3 321.9h1v1h-1zM88.7 267.6h1v1h-1zM77.0 322.5h1v1h-1zM98.2 269.4h1v1h-1zM52.7 284.2h1v1h-1zM73.6 315.8h1v1h-1zM78.8 321.4h1v1h-1zM76.7 322.5h1v1h-1zM47.6 270.1h1v1h-1zM57.2 294.7h1v1h-1zM54.8 268.0h1v1h-1zM49.7 299.8h1v1h-1z" fill="rgb(140, 152, 199)" opacity="0.34"/>
<path d="M51.2 274.9h1v1h-1zM66.9 285.0h1v1h-1zM75.5 269.5h1v1h-1zM48.3 275.7h1v1h-1zM60.5 285.3h1v1h-1zM80.9 271.2h1v1h-1zM68.3 285.7h1v1h-1zM69.8 272.7h1v1h-1zM51.8 275.6h1v1h-1zM60.8 286.1h1v1h-1zM90.1 288.0h1v1h-1zM60.0 274.2h1v1h-1zM59.8 280.2h1v1h-1zM74.4 286.9h1v1h-1zM54.1 276.1h1v1h-1zM64.3 275.7h1v1h-1zM67.7 284.7h1v1h-1zM99.5 276.4h1v1h-1zM96.5 275.2h1v1h-1zM85.8 288.0h1v1h-1zM64.0 282.8h1v1h-1zM62.0 274.7h1v1h-1zM56.0 277.1h1v1h-1zM94.9 274.3h1v1h-1zM100.8 277.9h1v1h-1zM88.8 271.9h1v1h-1zM79.7 271.8h1v1h-1zM61.1 282.5h1v1h-1zM69.3 272.5h1v1h-1zM65.4 283.8h1v1h-1zM89.8 272.6h1v1h-1zM57.5 276.7h1v1h-1zM76.7 269.8h1v1h-1zM59.4 279.6h1v1h-1zM65.1 283.4h1v1h-1zM102.1 279.5h1v1h-1zM83.9 287.5h1v1h-1zM90.8 272.6h1v1h-1zM58.7 276.9h1v1h-1zM61.9 274.4h1v1h-1zM68.6 285.1h1v1h-1zM97.4 285.3h1v1h-1zM63.9 287.3h1v1h-1zM60.2 283.9h1v1h-1zM64.3 276.9h1v1h-1zM61.5 275.7h1v1h-1zM65.6 272.5h1v1h-1zM94.3 274.3h1v1h-1zM68.7 271.9h1v1h-1zM75.2 270.0h1v1h-1zM92.1 274.5h1v1h-1zM58.0 279.6h1v1h-1zM79.7 289.0h1v1h-1zM92.3 289.2h1v1h-1zM64.0 277.5h1v1h-1zM99.3 276.6h1v1h-1zM56.6 278.4h1v1h-1zM88.3 271.1h1v1h-1zM64.0 282.3h1v1h-1zM66.4 285.7h1v1h-1zM71.8 271.8h1v1h-1zM66.7 273.0h1v1h-1zM59.4 276.1h1v1h-1zM61.4 283.8h1v1h-1zM89.1 287.5h1v1h-1zM61.6 278.7h1v1h-1zM64.9 285.5h1v1h-1zM63.4 275.1h1v1h-1zM63.2 279.2h1v1h-1zM95.0 275.9h1v1h-1zM95.7 274.5h1v1h-1zM75.2 269.9h1v1h-1zM93.1 274.8h1v1h-1zM65.2 274.8h1v1h-1zM62.5 280.1h1v1h-1zM60.0 273.6h1v1h-1zM90.2 272.5h1v1h-1zM73.0 286.0h1v1h-1zM55.2 275.4h1v1h-1zM89.0 272.5h1v1h-1zM69.7 286.1h1v1h-1zM91.3 274.1h1v1h-1zM66.5 273.4h1v1h-1zM75.6 271.2h1v1h-1zM86.6 270.8h1v1h-1zM64.0 279.7h1v1h-1zM59.5 281.5h1v1h-1zM95.3 276.1h1v1h-1zM85.9 271.6h1v1h-1zM92.8 274.9h1v1h-1zM63.3 282.9h1v1h-1zM62.7 285.8h1v1h-1zM56.1 278.1h1v1h-1zM62.9 279.6h1v1h-1zM72.0 272.4h1v1h-1zM63.2 286.1h1v1h-1zM64.6 273.2h1v1h-1zM77.3 287.4h1v1h-1zM76.6 287.2h1v1h-1zM58.8 276.6h1v1h-1zM64.5 281.4h1v1h-1zM60.5 279.6h1v1h-1zM59.9 278.7h1v1h-1zM100.0 284.4h1v1h-1zM65.6 284.7h1v1h-1zM64.4 276.6h1v1h-1zM63.1 285.4h1v1h-1zM74.9 272.1h1v1h-1zM61.4 276.1h1v1h-1zM72.7 271.2h1v1h-1zM62.3 279.0h1v1h-1zM72.3 286.2h1v1h-1zM59.1 278.9h1v1h-1zM78.7 272.2h1v1h-1zM95.1 274.9h1v1h-1zM60.0 279.1h1v1h-1zM64.5 282.1h1v1h-1zM91.5 289.3h1v1h-1zM61.8 287.1h1v1h-1zM60.8 276.6h1v1h-1zM80.7 271.5h1v1h-1zM89.2 288.9h1v1h-1zM79.0 270.8h1v1h-1zM61.5 285.8h1v1h-1zM60.9 274.8h1v1h-1zM60.6 285.6h1v1h-1zM62.2 279.3h1v1h-1zM72.0 286.0h1v1h-1zM57.8 274.8h1v1h-1zM52.9 278.3h1v1h-1zM52.5 279.1h1v1h-1zM45.6 274.4h1v1h-1zM51.3 276.2h1v1h-1zM58.1 278.7h1v1h-1zM45.1 275.9h1v1h-1zM50.5 276.1h1v1h-1zM54.2 275.9h1v1h-1zM49.4 277.1h1v1h-1zM47.0 274.2h1v1h-1zM47.6 277.4h1v1h-1zM48.7 278.9h1v1h-1zM49.0 275.9h1v1h-1zM58.0 275.4h1v1h-1zM44.5 276.1h1v1h-1zM46.9 275.6h1v1h-1zM51.6 275.2h1v1h-1zM45.0 276.2h1v1h-1zM47.9 276.0h1v1h-1zM47.7 275.6h1v1h-1zM52.7 276.3h1v1h-1zM46.3 278.3h1v1h-1zM52.3 278.8h1v1h-1zM51.7 276.3h1v1h-1zM49.3 279.5h1v1h-1zM56.2 275.0h1v1h-1zM50.1 274.9h1v1h-1zM44.1 274.7h1v1h-1zM51.5 278.2h1v1h-1zM50.6 273.9h1v1h-1zM49.8 274.2h1v1h-1zM51.2 279.6h1v1h-1zM61.7 280.4h1v1h-1zM51.2 279.7h1v1h-1zM52.3 274.0h1v1h-1zM48.8 277.0h1v1h-1zM56.6 278.7h1v1h-1zM49.7 277.2h1v1h-1zM43.9 276.3h1v1h-1zM52.6 273.6h1v1h-1zM53.7 274.5h1v1h-1zM46.4 278.3h1v1h-1zM99.9 283.7h1v1h-1zM100.6 280.8h1v1h-1zM76.6 288.0h1v1h-1zM99.9 283.6h1v1h-1zM99.9 276.6h1v1h-1zM101.1 281.2h1v1h-1zM94.3 287.2h1v1h-1zM100.8 278.8h1v1h-1zM99.9 283.1h1v1h-1zM101.2 282.8h1v1h-1zM96.5 285.7h1v1h-1zM87.4 290.8h1v1h-1zM87.7 312.9h1v1h-1zM98.6 295.0h1v1h-1zM85.4 311.1h1v1h-1zM90.2 290.6h1v1h-1zM90.3 288.5h1v1h-1zM89.0 312.0h1v1h-1zM83.2 295.0h1v1h-1zM97.2 293.4h1v1h-1zM81.1 296.8h1v1h-1zM84.2 293.9h1v1h-1zM90.9 289.5h1v1h-1zM92.9 290.0h1v1h-1zM82.0 293.7h1v1h-1zM87.6 289.2h1v1h-1zM91.0 312.0h1v1h-1zM98.4 295.8h1v1h-1zM83.7 308.8h1v1h-1zM92.4 289.1h1v1h-1zM89.1 290.2h1v1h-1zM79.4 299.8h1v1h-1zM99.1 301.1h1v1h-1zM79.6 288.1h1v1h-1zM86.6 312.1h1v1h-1zM81.0 298.9h1v1h-1zM95.1 310.3h1v1h-1zM83.1 308.9h1v1h-1zM98.4 307.2h1v1h-1zM99.2 302.0h1v1h-1zM83.4 308.6h1v1h-1zM86.4 291.2h1v1h-1zM81.0 303.8h1v1h-1zM92.5 288.2h1v1h-1zM90.8 313.4h1v1h-1zM86.2 293.3h1v1h-1zM99.8 302.8h1v1h-1zM88.7 291.4h1v1h-1zM90.3 312.5h1v1h-1zM97.1 294.1h1v1h-1zM85.4 293.8h1v1h-1zM87.0 311.4h1v1h-1zM92.0 311.7h1v1h-1zM96.8 294.2h1v1h-1zM84.9 311.4h1v1h-1zM98.1 294.4h1v1h-1zM83.3 293.4h1v1h-1zM80.8 299.7h1v1h-1zM74.5 299.8h1v1h-1zM76.8 300.4h1v1h-1zM78.9 298.5h1v1h-1zM70.1 298.2h1v1h-1zM78.5 301.3h1v1h-1zM78.3 298.3h1v1h-1zM78.2 300.4h1v1h-1zM77.6 299.5h1v1h-1zM74.8 300.1h1v1h-1zM70.8 301.8h1v1h-1zM80.0 304.4h1v1h-1zM69.8 302.4h1v1h-1zM78.0 301.7h1v1h-1zM76.1 301.2h1v1h-1zM78.3 298.5h1v1h-1zM73.7 302.4h1v1h-1zM73.7 301.7h1v1h-1zM78.0 299.1h1v1h-1zM71.5 301.0h1v1h-1zM75.8 301.3h1v1h-1zM78.4 302.0h1v1h-1zM70.6 299.4h1v1h-1zM79.0 300.7h1v1h-1zM70.1 298.7h1v1h-1zM77.1 300.7h1v1h-1zM76.0 298.2h1v1h-1zM80.8 297.1h1v1h-1zM70.8 299.8h1v1h-1zM76.6 301.0h1v1h-1zM77.7 303.2h1v1h-1zM75.9 299.1h1v1h-1zM79.2 298.4h1v1h-1zM75.4 298.2h1v1h-1zM75.6 303.3h1v1h-1zM81.3 305.4h1v1h-1zM72.9 302.4h1v1h-1zM99.7 297.1h1v1h-1zM81.5 287.5h1v1h-1zM69.4 301.9h1v1h-1z" fill="rgb(122, 137, 187)" opacity="0.43"/>
<path d="M99.4 280.8h1v1h-1zM72.0 273.7h1v1h-1zM75.6 272.8h1v1h-1zM83.1 273.3h1v1h-1zM72.7 273.1h1v1h-1zM75.2 273.1h1v1h-1zM88.7 274.6h1v1h-1zM67.9 274.5h1v1h-1zM66.7 284.1h1v1h-1zM89.7 286.1h1v1h-1zM75.7 273.7h1v1h-1zM67.9 274.3h1v1h-1zM68.4 275.9h1v1h-1zM67.0 274.6h1v1h-1zM92.8 286.7h1v1h-1zM69.6 284.9h1v1h-1zM92.4 286.6h1v1h-1zM64.9 280.7h1v1h-1zM83.7 273.8h1v1h-1zM80.4 286.1h1v1h-1zM93.7 276.1h1v1h-1zM90.3 286.9h1v1h-1zM66.7 276.9h1v1h-1zM73.2 272.9h1v1h-1zM65.7 280.8h1v1h-1zM87.0 274.4h1v1h-1zM79.4 273.7h1v1h-1zM67.9 281.6h1v1h-1zM65.5 280.4h1v1h-1zM75.1 272.4h1v1h-1zM91.3 276.1h1v1h-1zM67.0 279.0h1v1h-1zM66.0 277.4h1v1h-1zM71.1 284.4h1v1h-1zM67.4 280.9h1v1h-1zM69.7 283.6h1v1h-1zM83.4 272.4h1v1h-1zM77.6 273.4h1v1h-1zM79.7 273.3h1v1h-1zM65.6 274.9h1v1h-1zM68.2 274.1h1v1h-1zM88.4 275.7h1v1h-1zM86.8 274.1h1v1h-1zM81.8 272.8h1v1h-1zM69.5 274.6h1v1h-1zM65.9 276.6h1v1h-1zM81.8 272.5h1v1h-1zM87.0 274.3h1v1h-1zM73.0 273.3h1v1h-1zM66.1 281.4h1v1h-1zM72.9 273.8h1v1h-1zM66.4 283.4h1v1h-1zM66.7 275.7h1v1h-1zM79.1 286.8h1v1h-1zM84.4 286.3h1v1h-1zM68.4 283.9h1v1h-1zM70.8 284.6h1v1h-1zM65.2 279.1h1v1h-1zM65.5 275.6h1v1h-1zM82.3 272.4h1v1h-1zM86.3 272.8h1v1h-1zM93.0 286.1h1v1h-1zM85.4 273.3h1v1h-1zM66.9 282.4h1v1h-1zM79.3 287.1h1v1h-1zM64.6 276.3h1v1h-1zM69.6 284.4h1v1h-1zM82.9 272.5h1v1h-1zM72.5 284.3h1v1h-1zM70.7 283.6h1v1h-1zM96.2 285.4h1v1h-1zM89.1 274.0h1v1h-1zM65.3 282.2h1v1h-1zM96.6 278.4h1v1h-1zM85.1 273.5h1v1h-1zM65.1 278.9h1v1h-1zM78.4 273.1h1v1h-1zM65.6 275.6h1v1h-1zM87.4 274.3h1v1h-1zM68.9 274.3h1v1h-1zM68.0 275.4h1v1h-1zM67.1 276.1h1v1h-1zM67.6 277.9h1v1h-1zM74.7 272.3h1v1h-1zM69.4 274.1h1v1h-1zM90.5 275.3h1v1h-1zM76.6 286.1h1v1h-1zM94.0 277.3h1v1h-1zM66.2 276.7h1v1h-1zM69.2 283.8h1v1h-1zM76.8 286.5h1v1h-1zM77.4 272.8h1v1h-1zM83.8 273.7h1v1h-1zM67.0 275.7h1v1h-1zM73.7 273.7h1v1h-1zM87.7 274.8h1v1h-1zM87.1 273.9h1v1h-1zM67.1 280.0h1v1h-1zM66.5 283.6h1v1h-1zM74.2 285.1h1v1h-1zM94.6 275.8h1v1h-1zM65.3 278.8h1v1h-1zM67.9 282.5h1v1h-1zM99.0 280.9h1v1h-1zM89.5 275.5h1v1h-1zM72.7 274.3h1v1h-1zM93.2 275.9h1v1h-1zM87.9 274.6h1v1h-1zM68.2 276.8h1v1h-1zM66.9 282.4h1v1h-1zM68.1 282.3h1v1h-1zM66.1 280.0h1v1h-1zM97.3 278.8h1v1h-1zM95.3 278.2h1v1h-1zM67.1 279.0h1v1h-1zM76.2 286.7h1v1h-1zM66.8 274.6h1v1h-1zM93.6 276.0h1v1h-1zM96.3 278.7h1v1h-1zM98.2 284.4h1v1h-1zM98.3 280.8h1v1h-1zM96.5 284.7h1v1h-1zM77.5 286.7h1v1h-1zM93.5 286.7h1v1h-1zM98.5 284.2h1v1h-1zM99.6 283.3h1v1h-1zM94.2 286.3h1v1h-1zM99.2 280.4h1v1h-1zM84.5 286.6h1v1h-1zM96.9 278.9h1v1h-1zM99.7 280.5h1v1h-1zM99.0 281.6h1v1h-1zM99.3 283.3h1v1h-1zM94.3 294.3h1v1h-1zM85.6 310.0h1v1h-1zM82.1 300.7h1v1h-1zM88.3 311.0h1v1h-1zM97.4 306.4h1v1h-1zM87.7 293.6h1v1h-1zM84.2 307.4h1v1h-1zM82.4 306.9h1v1h-1zM86.0 309.3h1v1h-1zM82.9 296.6h1v1h-1zM82.8 305.6h1v1h-1zM98.3 305.1h1v1h-1zM89.1 292.1h1v1h-1zM97.0 298.0h1v1h-1zM84.7 295.9h1v1h-1zM82.9 307.2h1v1h-1zM83.3 295.4h1v1h-1zM94.2 309.4h1v1h-1zM82.6 298.3h1v1h-1zM95.8 295.9h1v1h-1zM87.2 310.1h1v1h-1zM98.1 307.0h1v1h-1zM89.6 310.9h1v1h-1zM83.3 307.4h1v1h-1zM98.2 299.5h1v1h-1zM82.0 305.4h1v1h-1zM84.7 295.1h1v1h-1zM86.7 293.4h1v1h-1zM97.9 303.4h1v1h-1zM87.7 293.6h1v1h-1zM97.5 305.2h1v1h-1zM98.5 304.7h1v1h-1zM98.3 305.2h1v1h-1zM86.6 311.0h1v1h-1zM97.6 299.2h1v1h-1zM83.9 294.6h1v1h-1zM82.4 299.3h1v1h-1zM81.9 302.5h1v1h-1zM98.3 300.9h1v1h-1zM91.7 292.1h1v1h-1zM97.7 303.1h1v1h-1zM82.8 297.4h1v1h-1zM97.2 297.3h1v1h-1zM96.5 308.9h1v1h-1zM98.0 299.8h1v1h-1zM90.0 292.9h1v1h-1zM92.2 291.3h1v1h-1zM93.4 310.5h1v1h-1zM93.6 310.5h1v1h-1zM97.2 298.4h1v1h-1zM81.7 303.2h1v1h-1zM88.0 293.8h1v1h-1zM83.4 295.1h1v1h-1zM82.0 298.1h1v1h-1zM96.9 296.8h1v1h-1zM97.8 299.4h1v1h-1zM95.8 308.3h1v1h-1zM96.1 295.8h1v1h-1zM87.5 293.2h1v1h-1zM91.9 310.7h1v1h-1zM83.8 296.2h1v1h-1zM94.6 293.5h1v1h-1zM92.6 292.6h1v1h-1zM93.0 292.3h1v1h-1zM91.8 291.1h1v1h-1zM97.9 305.3h1v1h-1zM81.5 303.2h1v1h-1zM82.4 300.2h1v1h-1zM88.9 293.1h1v1h-1zM85.6 295.2h1v1h-1zM91.9 292.2h1v1h-1zM89.6 293.2h1v1h-1zM90.2 291.5h1v1h-1zM92.4 310.5h1v1h-1zM95.8 295.4h1v1h-1zM82.5 305.1h1v1h-1zM83.3 295.9h1v1h-1zM83.0 298.4h1v1h-1zM81.1 303.1h1v1h-1zM82.0 298.7h1v1h-1zM82.4 304.4h1v1h-1zM81.6 303.0h1v1h-1zM98.3 279.1h1v1h-1zM76.7 286.4h1v1h-1z" fill="rgb(104, 122, 175)" opacity="0.52"/>
<path d="M73.2 274.9h1v1h-1zM68.9 276.7h1v1h-1zM74.3 275.4h1v1h-1zM98.3 281.9h1v1h-1zM88.5 276.3h1v1h-1zM68.7 282.5h1v1h-1zM74.9 276.5h1v1h-1zM87.3 276.4h1v1h-1zM85.4 275.3h1v1h-1zM84.1 274.3h1v1h-1zM83.2 274.5h1v1h-1zM81.7 276.4h1v1h-1zM74.1 275.0h1v1h-1zM85.9 275.7h1v1h-1zM80.3 275.0h1v1h-1zM69.7 278.1h1v1h-1zM76.8 274.6h1v1h-1zM69.6 280.9h1v1h-1zM69.5 282.3h1v1h-1zM70.6 277.3h1v1h-1zM68.2 279.3h1v1h-1zM72.2 275.5h1v1h-1zM81.5 274.6h1v1h-1zM79.5 275.3h1v1h-1zM69.8 281.4h1v1h-1zM73.0 275.3h1v1h-1zM69.4 278.6h1v1h-1zM95.8 279.2h1v1h-1zM72.9 276.4h1v1h-1zM77.7 275.2h1v1h-1zM79.5 274.3h1v1h-1zM95.1 284.8h1v1h-1zM80.0 274.8h1v1h-1zM69.4 282.9h1v1h-1zM72.1 275.0h1v1h-1zM76.0 274.8h1v1h-1zM76.3 285.3h1v1h-1zM73.2 275.0h1v1h-1zM75.2 284.2h1v1h-1zM72.1 276.0h1v1h-1zM80.2 275.9h1v1h-1zM70.3 281.7h1v1h-1zM84.2 275.3h1v1h-1zM93.6 278.4h1v1h-1zM97.2 283.2h1v1h-1zM72.0 276.7h1v1h-1zM70.8 276.5h1v1h-1zM87.8 276.0h1v1h-1zM94.0 285.6h1v1h-1zM80.8 275.2h1v1h-1zM67.9 281.0h1v1h-1zM81.7 274.1h1v1h-1zM70.8 275.6h1v1h-1zM69.9 277.1h1v1h-1zM71.5 276.8h1v1h-1zM71.2 276.9h1v1h-1zM69.5 278.4h1v1h-1zM73.8 283.6h1v1h-1zM79.9 275.6h1v1h-1zM71.3 275.4h1v1h-1zM96.2 283.5h1v1h-1zM75.4 284.2h1v1h-1zM87.0 276.6h1v1h-1zM86.5 274.7h1v1h-1zM68.1 279.7h1v1h-1zM93.1 277.7h1v1h-1zM70.4 276.4h1v1h-1zM83.7 275.2h1v1h-1zM74.4 284.6h1v1h-1zM82.8 275.2h1v1h-1zM85.9 276.1h1v1h-1zM72.3 283.7h1v1h-1zM88.7 276.9h1v1h-1zM79.0 275.1h1v1h-1zM83.1 274.4h1v1h-1zM84.7 275.3h1v1h-1zM70.5 283.0h1v1h-1zM73.0 282.8h1v1h-1zM77.6 275.0h1v1h-1zM73.9 274.5h1v1h-1zM75.7 274.8h1v1h-1zM73.4 276.7h1v1h-1zM77.9 274.3h1v1h-1zM98.2 280.9h1v1h-1zM68.9 279.1h1v1h-1zM68.1 278.8h1v1h-1zM74.7 285.0h1v1h-1zM81.1 274.2h1v1h-1zM95.8 283.5h1v1h-1zM76.5 285.0h1v1h-1zM84.1 274.0h1v1h-1zM96.1 279.5h1v1h-1zM68.7 278.5h1v1h-1zM71.7 275.6h1v1h-1zM83.4 275.3h1v1h-1zM69.8 281.4h1v1h-1zM86.0 275.8h1v1h-1zM85.4 274.2h1v1h-1zM86.2 274.6h1v1h-1zM90.9 277.4h1v1h-1zM75.2 285.1h1v1h-1zM70.4 283.5h1v1h-1zM75.6 274.1h1v1h-1zM81.6 274.2h1v1h-1zM68.6 279.0h1v1h-1zM77.8 274.2h1v1h-1zM79.7 275.2h1v1h-1zM74.9 274.6h1v1h-1zM69.6 276.9h1v1h-1zM83.6 285.8h1v1h-1zM80.8 285.3h1v1h-1zM69.4 281.3h1v1h-1zM72.8 283.2h1v1h-1zM69.2 278.6h1v1h-1zM76.3 275.4h1v1h-1zM72.7 276.9h1v1h-1zM74.3 275.7h1v1h-1zM69.0 278.9h1v1h-1zM69.7 276.2h1v1h-1zM92.0 277.7h1v1h-1zM96.1 279.2h1v1h-1zM77.1 274.5h1v1h-1zM80.7 275.1h1v1h-1zM96.5 280.5h1v1h-1zM83.0 274.7h1v1h-1zM77.8 285.5h1v1h-1zM74.2 276.0h1v1h-1zM76.3 285.6h1v1h-1zM80.4 286.0h1v1h-1zM92.3 277.1h1v1h-1zM80.7 275.7h1v1h-1zM79.4 275.2h1v1h-1zM70.8 276.4h1v1h-1zM74.2 277.3h1v1h-1zM75.7 274.8h1v1h-1zM69.1 280.1h1v1h-1zM84.9 274.6h1v1h-1zM69.2 276.8h1v1h-1zM83.0 275.2h1v1h-1zM72.4 282.9h1v1h-1zM71.5 282.4h1v1h-1zM75.4 276.2h1v1h-1zM75.7 285.2h1v1h-1zM85.4 285.8h1v1h-1zM80.1 276.0h1v1h-1zM79.6 275.8h1v1h-1zM69.7 280.7h1v1h-1zM78.7 285.3h1v1h-1zM93.7 285.5h1v1h-1zM92.9 285.0h1v1h-1zM93.7 277.3h1v1h-1zM70.2 281.5h1v1h-1zM81.6 285.6h1v1h-1zM93.5 285.7h1v1h-1zM97.5 281.9h1v1h-1zM98.0 281.5h1v1h-1zM88.7 285.4h1v1h-1zM98.3 281.3h1v1h-1zM96.5 283.1h1v1h-1zM86.6 285.8h1v1h-1zM95.3 278.4h1v1h-1zM93.4 278.4h1v1h-1zM97.1 280.8h1v1h-1zM91.9 277.1h1v1h-1zM97.1 279.9h1v1h-1zM97.8 282.4h1v1h-1zM97.6 282.0h1v1h-1zM95.0 284.8h1v1h-1zM79.3 285.1h1v1h-1zM87.2 286.1h1v1h-1zM95.3 283.8h1v1h-1zM90.8 285.8h1v1h-1zM96.1 279.6h1v1h-1zM79.7 286.0h1v1h-1zM92.9 286.0h1v1h-1zM90.7 276.7h1v1h-1zM96.4 282.6h1v1h-1zM93.2 285.3h1v1h-1zM96.8 282.3h1v1h-1zM95.1 284.1h1v1h-1zM95.5 283.5h1v1h-1zM97.3 301.2h1v1h-1zM96.7 303.2h1v1h-1zM97.2 303.6h1v1h-1zM82.6 301.3h1v1h-1zM88.2 310.2h1v1h-1zM93.5 294.9h1v1h-1zM96.4 306.4h1v1h-1zM85.3 295.9h1v1h-1zM96.3 306.9h1v1h-1zM91.0 310.1h1v1h-1zM92.9 294.4h1v1h-1zM93.2 309.3h1v1h-1zM89.3 293.9h1v1h-1zM97.5 300.5h1v1h-1zM96.4 306.3h1v1h-1zM96.5 304.8h1v1h-1zM83.1 301.2h1v1h-1zM84.3 305.7h1v1h-1zM86.9 309.2h1v1h-1zM93.0 294.1h1v1h-1zM92.3 294.3h1v1h-1zM88.0 309.9h1v1h-1zM91.0 293.9h1v1h-1zM87.9 294.3h1v1h-1zM95.5 307.7h1v1h-1zM96.8 300.5h1v1h-1zM83.9 305.5h1v1h-1zM88.7 309.4h1v1h-1zM85.5 296.3h1v1h-1zM88.5 295.1h1v1h-1zM86.2 295.9h1v1h-1zM89.7 294.8h1v1h-1zM93.2 294.8h1v1h-1zM85.9 295.9h1v1h-1zM93.9 294.9h1v1h-1zM96.4 307.1h1v1h-1zM96.6 303.5h1v1h-1zM82.7 304.3h1v1h-1zM91.9 294.3h1v1h-1zM88.8 293.9h1v1h-1zM83.1 305.6h1v1h-1zM93.1 293.8h1v1h-1zM84.1 305.4h1v1h-1zM96.3 307.8h1v1h-1zM92.0 293.9h1v1h-1zM87.4 294.9h1v1h-1zM85.5 307.3h1v1h-1zM87.9 309.7h1v1h-1zM83.0 298.8h1v1h-1zM95.5 307.8h1v1h-1zM96.1 296.5h1v1h-1zM95.8 307.3h1v1h-1zM88.7 309.6h1v1h-1zM87.2 295.3h1v1h-1zM93.0 294.7h1v1h-1zM86.6 295.1h1v1h-1zM90.1 310.6h1v1h-1zM94.1 295.4h1v1h-1zM86.8 309.6h1v1h-1zM97.0 299.1h1v1h-1zM92.3 285.9h1v1h-1zM90.9 292.9h1v1h-1zM83.4 304.5h1v1h-1zM84.1 305.7h1v1h-1zM92.5 309.2h1v1h-1zM96.4 307.6h1v1h-1zM94.2 308.5h1v1h-1zM84.3 306.6h1v1h-1zM91.2 309.9h1v1h-1zM92.1 293.7h1v1h-1zM95.6 297.2h1v1h-1zM90.3 293.5h1v1h-1zM89.4 310.0h1v1h-1zM89.2 293.8h1v1h-1zM96.5 304.9h1v1h-1zM82.8 302.6h1v1h-1zM96.8 300.2h1v1h-1zM85.0 296.9h1v1h-1zM91.5 310.2h1v1h-1zM97.1 306.3h1v1h-1zM91.9 293.0h1v1h-1zM95.3 296.4h1v1h-1zM89.9 294.3h1v1h-1zM95.3 308.0h1v1h-1zM92.9 293.5h1v1h-1zM83.8 306.7h1v1h-1zM84.4 297.5h1v1h-1zM77.4 285.2h1v1h-1zM85.2 275.1h1v1h-1zM90.6 293.3h1v1h-1z" fill="rgb(90, 120, 165)" opacity="0.61"/>
<path d="M71.0 277.9h1v1h-1zM73.9 281.4h1v1h-1zM75.9 284.1h1v1h-1zM83.7 276.9h1v1h-1zM84.1 276.5h1v1h-1zM79.0 284.4h1v1h-1zM73.3 281.7h1v1h-1zM72.8 279.2h1v1h-1zM81.4 276.8h1v1h-1zM71.6 281.7h1v1h-1zM95.7 281.4h1v1h-1zM85.9 276.8h1v1h-1zM71.3 279.7h1v1h-1zM69.6 279.8h1v1h-1zM80.4 284.7h1v1h-1zM84.0 276.1h1v1h-1zM74.7 278.8h1v1h-1zM93.7 279.7h1v1h-1zM71.6 278.4h1v1h-1zM75.9 277.0h1v1h-1zM92.4 278.4h1v1h-1zM76.0 276.3h1v1h-1zM93.8 283.5h1v1h-1zM74.8 283.0h1v1h-1zM83.1 277.7h1v1h-1zM79.2 284.4h1v1h-1zM74.5 278.7h1v1h-1zM73.7 278.0h1v1h-1zM89.4 277.5h1v1h-1zM72.2 280.8h1v1h-1zM74.0 282.8h1v1h-1zM85.7 276.8h1v1h-1zM71.8 279.3h1v1h-1zM82.0 284.9h1v1h-1zM77.8 284.0h1v1h-1zM95.0 280.7h1v1h-1zM71.0 280.9h1v1h-1zM89.0 277.9h1v1h-1zM71.2 278.5h1v1h-1zM70.5 278.6h1v1h-1zM84.6 277.2h1v1h-1zM89.8 284.8h1v1h-1zM76.1 278.1h1v1h-1zM78.4 276.1h1v1h-1zM77.2 277.0h1v1h-1zM96.3 282.1h1v1h-1zM72.4 280.7h1v1h-1zM96.6 281.1h1v1h-1zM74.3 283.0h1v1h-1zM85.5 277.2h1v1h-1zM72.2 279.7h1v1h-1zM80.1 285.0h1v1h-1zM71.2 277.3h1v1h-1zM83.7 277.2h1v1h-1zM73.3 280.0h1v1h-1zM73.1 278.9h1v1h-1zM71.4 277.7h1v1h-1zM80.1 277.1h1v1h-1zM90.3 277.8h1v1h-1zM71.1 280.8h1v1h-1zM77.0 277.6h1v1h-1zM70.6 281.7h1v1h-1zM76.8 275.8h1v1h-1zM72.6 279.0h1v1h-1zM77.3 276.2h1v1h-1zM73.0 277.6h1v1h-1zM74.0 282.1h1v1h-1zM72.8 277.6h1v1h-1zM76.4 277.1h1v1h-1zM93.0 278.8h1v1h-1zM69.8 279.2h1v1h-1zM93.7 279.1h1v1h-1zM84.1 285.2h1v1h-1zM76.5 276.9h1v1h-1zM73.7 280.6h1v1h-1zM73.3 281.4h1v1h-1zM77.4 276.4h1v1h-1zM90.3 277.8h1v1h-1zM77.1 275.8h1v1h-1zM77.0 275.8h1v1h-1zM79.5 276.3h1v1h-1zM77.7 275.9h1v1h-1zM74.9 277.0h1v1h-1zM82.0 277.3h1v1h-1zM79.9 277.6h1v1h-1zM73.7 283.2h1v1h-1zM70.7 281.0h1v1h-1zM77.6 277.7h1v1h-1zM77.5 275.9h1v1h-1zM72.7 279.9h1v1h-1zM81.4 276.7h1v1h-1zM82.7 284.4h1v1h-1zM75.2 278.9h1v1h-1zM75.2 277.6h1v1h-1zM94.9 282.3h1v1h-1zM73.1 278.5h1v1h-1zM91.3 278.5h1v1h-1zM72.9 279.0h1v1h-1zM77.8 275.9h1v1h-1zM89.1 277.7h1v1h-1zM73.5 280.7h1v1h-1zM70.2 279.2h1v1h-1zM73.5 281.6h1v1h-1zM70.5 281.2h1v1h-1zM76.4 278.0h1v1h-1zM71.3 277.5h1v1h-1zM74.6 282.3h1v1h-1zM72.4 281.3h1v1h-1zM80.0 276.2h1v1h-1zM73.4 279.2h1v1h-1zM70.6 277.8h1v1h-1zM77.2 276.2h1v1h-1zM76.6 284.0h1v1h-1zM88.6 277.4h1v1h-1zM71.9 279.6h1v1h-1zM95.0 282.5h1v1h-1zM83.2 285.1h1v1h-1zM87.7 277.3h1v1h-1zM72.2 282.0h1v1h-1zM78.8 284.3h1v1h-1zM81.9 284.8h1v1h-1zM85.7 276.2h1v1h-1zM80.2 285.1h1v1h-1zM79.5 276.7h1v1h-1zM96.6 281.3h1v1h-1zM82.9 277.7h1v1h-1zM72.3 279.3h1v1h-1zM72.6 279.4h1v1h-1zM86.5 276.8h1v1h-1zM77.0 276.5h1v1h-1zM93.6 284.4h1v1h-1zM81.0 277.5h1v1h-1zM73.5 278.1h1v1h-1zM71.6 282.2h1v1h-1zM84.3 285.1h1v1h-1zM70.3 278.3h1v1h-1zM70.5 280.8h1v1h-1zM76.7 277.2h1v1h-1zM71.1 281.7h1v1h-1zM69.9 279.9h1v1h-1zM95.4 282.6h1v1h-1zM95.0 280.3h1v1h-1zM83.3 277.1h1v1h-1zM86.9 285.0h1v1h-1zM83.3 285.1h1v1h-1zM81.6 284.9h1v1h-1zM82.7 284.7h1v1h-1zM95.5 283.0h1v1h-1zM95.1 280.0h1v1h-1zM75.8 283.9h1v1h-1zM81.5 277.5h1v1h-1zM91.2 278.1h1v1h-1zM90.1 284.7h1v1h-1zM74.0 281.4h1v1h-1zM93.2 279.4h1v1h-1zM93.5 283.6h1v1h-1zM95.8 281.7h1v1h-1zM90.9 277.6h1v1h-1zM95.8 283.1h1v1h-1zM71.9 281.8h1v1h-1zM90.4 284.8h1v1h-1zM95.9 281.4h1v1h-1zM85.7 285.3h1v1h-1zM91.4 277.8h1v1h-1zM91.7 284.5h1v1h-1zM75.4 283.2h1v1h-1zM95.3 283.3h1v1h-1zM93.1 279.3h1v1h-1zM93.2 284.6h1v1h-1zM95.7 280.6h1v1h-1zM80.6 284.4h1v1h-1zM91.7 284.4h1v1h-1zM95.8 281.2h1v1h-1zM73.0 280.6h1v1h-1zM75.4 283.5h1v1h-1zM77.2 283.8h1v1h-1zM95.8 280.2h1v1h-1zM73.9 283.3h1v1h-1zM74.6 278.9h1v1h-1zM93.4 284.6h1v1h-1zM82.4 284.6h1v1h-1zM95.8 280.5h1v1h-1zM93.1 283.9h1v1h-1zM91.4 278.5h1v1h-1zM73.1 281.8h1v1h-1zM94.6 280.6h1v1h-1zM93.4 283.7h1v1h-1zM84.0 284.5h1v1h-1zM92.3 278.8h1v1h-1zM83.9 302.0h1v1h-1zM84.2 303.7h1v1h-1zM88.8 309.1h1v1h-1zM96.1 301.6h1v1h-1zM94.7 296.7h1v1h-1zM91.3 309.0h1v1h-1zM95.3 305.9h1v1h-1zM96.1 301.4h1v1h-1zM96.3 300.7h1v1h-1zM94.3 296.1h1v1h-1zM83.9 302.5h1v1h-1zM93.6 307.9h1v1h-1zM85.3 305.8h1v1h-1zM92.2 295.5h1v1h-1zM88.8 296.0h1v1h-1zM84.4 298.6h1v1h-1zM95.9 306.3h1v1h-1zM95.1 306.3h1v1h-1zM86.6 308.0h1v1h-1zM84.0 299.7h1v1h-1zM96.1 298.3h1v1h-1zM91.7 295.1h1v1h-1zM95.3 305.4h1v1h-1zM94.8 307.8h1v1h-1zM85.1 298.1h1v1h-1zM88.9 295.7h1v1h-1zM92.8 295.3h1v1h-1zM95.0 306.3h1v1h-1zM86.4 307.9h1v1h-1zM85.4 306.0h1v1h-1zM89.9 309.2h1v1h-1zM91.6 294.5h1v1h-1zM85.5 307.1h1v1h-1zM85.5 297.2h1v1h-1zM94.4 297.0h1v1h-1zM89.4 295.9h1v1h-1zM88.2 296.2h1v1h-1zM96.1 305.3h1v1h-1zM83.9 304.3h1v1h-1zM96.0 306.0h1v1h-1zM86.2 307.0h1v1h-1zM94.4 307.2h1v1h-1zM94.2 296.0h1v1h-1zM85.8 306.6h1v1h-1zM96.5 301.0h1v1h-1zM94.2 307.1h1v1h-1zM96.1 298.3h1v1h-1zM96.0 303.9h1v1h-1zM87.4 308.1h1v1h-1zM95.4 304.9h1v1h-1zM84.1 299.6h1v1h-1zM90.5 308.9h1v1h-1zM96.0 302.5h1v1h-1zM86.0 307.3h1v1h-1zM86.9 307.7h1v1h-1zM94.9 296.6h1v1h-1zM89.7 296.0h1v1h-1zM83.7 303.7h1v1h-1zM83.8 304.1h1v1h-1zM94.8 296.3h1v1h-1zM90.7 295.8h1v1h-1zM86.8 307.5h1v1h-1zM95.7 304.9h1v1h-1zM86.7 308.0h1v1h-1zM83.6 301.2h1v1h-1zM83.9 304.3h1v1h-1zM86.8 308.3h1v1h-1zM95.5 305.3h1v1h-1zM96.0 302.6h1v1h-1zM96.1 300.0h1v1h-1zM89.0 308.7h1v1h-1zM85.3 298.1h1v1h-1zM90.6 309.1h1v1h-1zM90.3 309.1h1v1h-1zM89.8 296.0h1v1h-1zM93.3 295.4h1v1h-1zM92.7 294.8h1v1h-1zM90.1 308.9h1v1h-1zM91.4 309.5h1v1h-1zM83.9 300.0h1v1h-1zM83.8 301.5h1v1h-1zM84.0 302.5h1v1h-1zM92.5 308.3h1v1h-1zM92.3 308.6h1v1h-1zM91.0 295.4h1v1h-1zM83.9 302.3h1v1h-1zM86.7 308.3h1v1h-1zM95.0 306.6h1v1h-1zM84.8 297.9h1v1h-1zM85.2 297.3h1v1h-1zM95.8 304.9h1v1h-1zM84.0 300.1h1v1h-1zM95.7 303.4h1v1h-1zM84.2 304.0h1v1h-1zM84.0 300.2h1v1h-1z" fill="rgb(80, 130, 155)" opacity="0.71"/>
<path d="M75.7 279.0h1v1h-1zM75.0 279.4h1v1h-1zM94.2 282.8h1v1h-1zM76.1 282.2h1v1h-1zM75.4 279.8h1v1h-1zM78.3 278.4h1v1h-1zM77.4 282.4h1v1h-1zM75.8 279.9h1v1h-1zM89.9 278.9h1v1h-1zM74.6 279.9h1v1h-1zM75.4 282.3h1v1h-1zM86.6 277.9h1v1h-1zM79.4 278.7h1v1h-1zM84.8 284.6h1v1h-1zM75.0 281.8h1v1h-1zM80.8 284.2h1v1h-1zM76.6 282.6h1v1h-1zM76.0 282.0h1v1h-1zM76.4 279.2h1v1h-1zM79.1 283.6h1v1h-1zM76.1 283.0h1v1h-1zM85.9 284.7h1v1h-1zM78.3 278.8h1v1h-1zM76.9 282.4h1v1h-1zM91.5 284.4h1v1h-1zM75.8 280.0h1v1h-1zM76.6 279.5h1v1h-1zM77.7 282.8h1v1h-1zM81.2 284.2h1v1h-1zM74.6 281.3h1v1h-1zM93.6 280.1h1v1h-1zM93.2 279.6h1v1h-1zM79.2 283.1h1v1h-1zM86.8 284.7h1v1h-1zM84.1 284.3h1v1h-1zM74.5 280.5h1v1h-1zM94.1 280.6h1v1h-1zM85.0 277.7h1v1h-1zM80.7 278.6h1v1h-1zM79.7 283.9h1v1h-1zM88.3 278.6h1v1h-1zM91.4 278.8h1v1h-1zM78.9 283.0h1v1h-1zM83.7 277.8h1v1h-1zM77.7 278.5h1v1h-1zM76.4 279.1h1v1h-1zM80.2 278.8h1v1h-1zM87.0 278.3h1v1h-1zM79.0 278.1h1v1h-1zM80.9 278.6h1v1h-1zM75.9 282.6h1v1h-1zM85.1 278.2h1v1h-1zM83.7 277.7h1v1h-1zM83.4 278.2h1v1h-1zM82.2 278.5h1v1h-1zM74.1 281.2h1v1h-1zM75.7 279.1h1v1h-1zM82.2 278.3h1v1h-1zM80.6 283.9h1v1h-1zM82.7 278.8h1v1h-1zM75.7 282.4h1v1h-1zM77.7 282.6h1v1h-1zM86.6 278.2h1v1h-1zM79.9 278.7h1v1h-1zM74.5 279.9h1v1h-1zM75.9 281.9h1v1h-1zM76.5 283.0h1v1h-1zM81.9 278.0h1v1h-1zM92.1 283.7h1v1h-1zM74.4 280.7h1v1h-1zM81.6 278.5h1v1h-1zM77.7 282.6h1v1h-1zM82.3 278.5h1v1h-1zM75.4 279.2h1v1h-1zM75.8 282.9h1v1h-1zM74.1 280.7h1v1h-1zM90.3 278.3h1v1h-1zM80.7 278.9h1v1h-1zM83.9 277.6h1v1h-1zM78.4 282.9h1v1h-1zM87.0 284.8h1v1h-1zM80.8 284.1h1v1h-1zM76.1 281.6h1v1h-1zM87.5 284.6h1v1h-1zM86.1 278.2h1v1h-1zM79.2 283.7h1v1h-1zM94.3 281.2h1v1h-1zM93.6 280.1h1v1h-1zM86.1 284.7h1v1h-1zM75.7 281.5h1v1h-1zM94.4 281.5h1v1h-1zM80.3 278.7h1v1h-1zM78.1 283.5h1v1h-1zM92.9 279.8h1v1h-1zM91.6 283.9h1v1h-1zM85.8 284.3h1v1h-1zM93.9 280.6h1v1h-1zM88.5 284.5h1v1h-1zM81.2 284.0h1v1h-1zM91.1 283.9h1v1h-1zM87.5 284.7h1v1h-1zM93.4 282.9h1v1h-1zM90.5 278.5h1v1h-1zM88.3 284.5h1v1h-1zM79.8 284.1h1v1h-1zM93.2 282.9h1v1h-1zM88.0 284.3h1v1h-1zM93.1 280.4h1v1h-1zM94.6 280.8h1v1h-1zM93.0 279.8h1v1h-1zM93.3 281.8h1v1h-1zM93.3 281.8h1v1h-1zM82.7 278.1h1v1h-1zM84.3 284.1h1v1h-1zM87.5 278.3h1v1h-1zM86.5 278.3h1v1h-1zM93.8 282.3h1v1h-1zM94.7 282.1h1v1h-1zM81.0 283.5h1v1h-1zM91.2 278.6h1v1h-1zM83.8 283.9h1v1h-1zM91.9 279.1h1v1h-1zM94.3 281.6h1v1h-1zM90.6 279.0h1v1h-1zM93.4 280.7h1v1h-1zM93.4 281.7h1v1h-1zM87.1 284.5h1v1h-1zM89.3 296.7h1v1h-1zM91.7 296.6h1v1h-1zM85.4 304.8h1v1h-1zM84.6 303.4h1v1h-1zM91.3 296.2h1v1h-1zM93.0 296.6h1v1h-1zM89.5 296.7h1v1h-1zM95.0 303.2h1v1h-1zM87.9 307.7h1v1h-1zM91.6 308.4h1v1h-1zM95.6 299.7h1v1h-1zM90.2 308.1h1v1h-1zM93.8 306.3h1v1h-1zM85.5 298.9h1v1h-1zM87.7 296.9h1v1h-1zM86.3 306.4h1v1h-1zM84.6 302.2h1v1h-1zM90.5 296.6h1v1h-1zM92.2 307.4h1v1h-1zM88.6 296.5h1v1h-1zM84.4 299.9h1v1h-1zM95.4 299.0h1v1h-1zM95.8 299.8h1v1h-1zM86.4 306.6h1v1h-1zM95.6 299.9h1v1h-1zM95.5 299.9h1v1h-1zM85.6 298.0h1v1h-1zM87.6 307.8h1v1h-1zM94.1 305.5h1v1h-1zM88.9 308.2h1v1h-1zM93.8 306.8h1v1h-1zM93.8 306.6h1v1h-1zM91.5 308.1h1v1h-1zM85.6 298.6h1v1h-1zM92.2 308.0h1v1h-1zM94.6 304.7h1v1h-1zM95.7 301.3h1v1h-1zM92.7 296.5h1v1h-1zM94.3 298.0h1v1h-1zM89.5 307.7h1v1h-1zM92.9 296.2h1v1h-1zM94.5 297.8h1v1h-1zM89.4 308.5h1v1h-1zM95.0 298.5h1v1h-1zM90.3 308.6h1v1h-1zM93.9 306.5h1v1h-1zM94.3 304.2h1v1h-1zM92.2 308.0h1v1h-1zM93.5 307.2h1v1h-1zM92.5 307.9h1v1h-1zM87.6 307.6h1v1h-1zM85.6 298.4h1v1h-1zM85.6 305.5h1v1h-1zM89.9 308.5h1v1h-1zM94.6 297.7h1v1h-1zM87.0 306.8h1v1h-1zM95.1 301.1h1v1h-1zM90.0 296.3h1v1h-1zM94.4 305.1h1v1h-1zM87.7 297.3h1v1h-1zM94.9 304.3h1v1h-1zM87.3 307.2h1v1h-1zM95.3 300.4h1v1h-1zM93.9 306.7h1v1h-1zM94.8 302.5h1v1h-1zM86.2 305.8h1v1h-1zM91.0 295.8h1v1h-1zM92.2 307.9h1v1h-1zM88.7 296.9h1v1h-1zM94.6 306.0h1v1h-1zM95.2 299.2h1v1h-1zM85.9 298.5h1v1h-1zM91.3 308.0h1v1h-1zM95.3 301.6h1v1h-1zM94.8 306.1h1v1h-1zM95.7 300.8h1v1h-1zM93.2 296.7h1v1h-1zM84.9 298.9h1v1h-1zM86.9 297.4h1v1h-1zM90.9 308.0h1v1h-1zM95.2 300.3h1v1h-1zM93.8 306.9h1v1h-1zM89.9 308.5h1v1h-1zM95.1 299.0h1v1h-1zM88.0 297.1h1v1h-1zM94.0 297.6h1v1h-1zM90.5 308.3h1v1h-1zM87.8 296.9h1v1h-1zM84.5 300.8h1v1h-1zM91.0 308.3h1v1h-1zM77.0 278.3h1v1h-1z" fill="rgb(86, 144, 133)" opacity="0.79"/>
<path d="M80.4 280.0h1v1h-1zM78.3 279.7h1v1h-1zM83.7 279.4h1v1h-1zM85.0 279.1h1v1h-1zM92.8 282.3h1v1h-1zM80.0 279.2h1v1h-1zM84.1 283.1h1v1h-1zM78.6 279.2h1v1h-1zM77.8 279.8h1v1h-1zM81.7 279.6h1v1h-1zM78.0 279.8h1v1h-1zM81.1 282.5h1v1h-1zM79.6 279.1h1v1h-1zM83.5 282.9h1v1h-1zM79.2 282.5h1v1h-1zM76.4 280.2h1v1h-1zM86.8 284.0h1v1h-1zM88.9 279.6h1v1h-1zM79.6 281.9h1v1h-1zM76.5 281.0h1v1h-1zM86.4 278.7h1v1h-1zM84.9 283.6h1v1h-1zM77.8 279.8h1v1h-1zM77.3 280.5h1v1h-1zM79.5 279.0h1v1h-1zM77.4 279.4h1v1h-1zM79.3 282.3h1v1h-1zM84.5 279.2h1v1h-1zM76.7 279.4h1v1h-1zM90.7 283.3h1v1h-1zM80.5 283.2h1v1h-1zM77.0 281.3h1v1h-1zM90.5 279.7h1v1h-1zM77.1 280.3h1v1h-1zM78.5 279.6h1v1h-1zM85.0 278.7h1v1h-1zM76.9 280.3h1v1h-1zM89.6 279.7h1v1h-1zM86.3 279.0h1v1h-1zM77.2 281.5h1v1h-1zM79.4 282.2h1v1h-1zM84.1 279.1h1v1h-1zM83.8 279.0h1v1h-1zM78.8 281.5h1v1h-1zM80.1 279.8h1v1h-1zM76.7 279.6h1v1h-1zM78.1 280.1h1v1h-1zM77.9 280.8h1v1h-1zM86.2 279.0h1v1h-1zM87.0 278.6h1v1h-1zM76.9 280.7h1v1h-1zM76.5 281.4h1v1h-1zM92.4 281.3h1v1h-1zM91.9 281.3h1v1h-1zM85.4 283.6h1v1h-1zM78.8 279.7h1v1h-1zM81.5 280.2h1v1h-1zM81.2 282.4h1v1h-1zM79.7 280.0h1v1h-1zM77.7 281.6h1v1h-1zM91.7 279.8h1v1h-1zM77.2 280.6h1v1h-1zM80.2 280.0h1v1h-1zM82.9 278.9h1v1h-1zM81.1 283.1h1v1h-1zM81.0 279.8h1v1h-1zM83.2 279.6h1v1h-1zM76.4 280.9h1v1h-1zM87.1 279.2h1v1h-1zM92.4 280.9h1v1h-1zM88.6 279.3h1v1h-1zM78.4 279.6h1v1h-1zM82.7 279.8h1v1h-1zM86.0 279.1h1v1h-1zM78.1 281.2h1v1h-1zM77.4 279.9h1v1h-1zM77.5 279.8h1v1h-1zM79.3 279.5h1v1h-1zM83.7 278.6h1v1h-1zM80.2 282.2h1v1h-1zM77.5 280.3h1v1h-1zM80.8 279.7h1v1h-1zM82.7 283.1h1v1h-1zM78.5 281.9h1v1h-1zM80.4 282.3h1v1h-1zM76.8 280.5h1v1h-1zM77.5 279.4h1v1h-1zM79.1 280.0h1v1h-1zM90.7 280.2h1v1h-1zM91.4 280.4h1v1h-1zM76.4 280.3h1v1h-1zM91.0 283.3h1v1h-1zM90.1 283.4h1v1h-1zM91.8 282.3h1v1h-1zM80.9 282.7h1v1h-1zM91.9 280.9h1v1h-1zM83.5 278.8h1v1h-1zM90.3 283.4h1v1h-1zM85.6 283.8h1v1h-1zM93.1 281.7h1v1h-1zM82.8 283.3h1v1h-1zM80.8 282.9h1v1h-1zM79.2 281.8h1v1h-1zM78.9 279.0h1v1h-1zM81.6 282.7h1v1h-1zM84.2 283.3h1v1h-1zM84.4 283.8h1v1h-1zM85.7 283.9h1v1h-1zM87.6 278.6h1v1h-1zM86.3 284.3h1v1h-1zM78.9 282.0h1v1h-1zM81.7 283.2h1v1h-1zM86.5 283.9h1v1h-1zM78.0 280.4h1v1h-1zM81.1 283.1h1v1h-1zM92.7 282.8h1v1h-1zM87.6 279.3h1v1h-1zM77.8 282.3h1v1h-1zM82.3 280.0h1v1h-1zM92.5 282.0h1v1h-1zM88.9 279.3h1v1h-1zM84.2 279.3h1v1h-1zM90.6 283.4h1v1h-1zM82.6 279.6h1v1h-1zM82.2 282.5h1v1h-1zM90.6 279.4h1v1h-1zM87.7 279.3h1v1h-1zM80.9 282.7h1v1h-1zM91.9 280.0h1v1h-1zM91.7 280.7h1v1h-1zM91.9 282.8h1v1h-1zM89.8 283.9h1v1h-1zM92.8 281.2h1v1h-1zM87.9 283.9h1v1h-1zM84.3 279.3h1v1h-1zM91.5 280.0h1v1h-1zM91.3 283.5h1v1h-1zM80.8 282.6h1v1h-1zM92.7 281.7h1v1h-1zM77.2 281.6h1v1h-1zM91.8 282.4h1v1h-1zM88.2 284.0h1v1h-1zM90.9 279.7h1v1h-1zM81.9 279.8h1v1h-1zM89.3 279.3h1v1h-1zM92.4 282.8h1v1h-1zM80.1 279.1h1v1h-1zM89.6 283.5h1v1h-1zM80.0 282.8h1v1h-1zM92.6 282.6h1v1h-1zM83.9 279.4h1v1h-1zM91.6 283.0h1v1h-1zM91.6 283.5h1v1h-1zM91.3 283.6h1v1h-1zM91.9 282.5h1v1h-1zM80.6 282.6h1v1h-1zM88.2 306.6h1v1h-1zM88.3 307.3h1v1h-1zM87.6 297.7h1v1h-1zM94.7 302.2h1v1h-1zM86.6 298.4h1v1h-1zM91.1 307.1h1v1h-1zM94.4 302.5h1v1h-1zM91.8 307.0h1v1h-1zM86.4 298.5h1v1h-1zM92.5 306.8h1v1h-1zM91.8 296.9h1v1h-1zM88.9 307.2h1v1h-1zM94.1 305.2h1v1h-1zM87.8 297.8h1v1h-1zM94.7 301.8h1v1h-1zM84.9 302.1h1v1h-1zM85.6 299.2h1v1h-1zM87.4 306.4h1v1h-1zM94.3 303.8h1v1h-1zM94.1 298.0h1v1h-1zM84.8 301.4h1v1h-1zM92.1 297.6h1v1h-1zM94.6 299.3h1v1h-1zM92.9 305.5h1v1h-1zM85.8 304.3h1v1h-1zM85.5 300.2h1v1h-1zM85.5 300.1h1v1h-1zM85.3 301.1h1v1h-1zM90.7 307.1h1v1h-1zM92.8 297.4h1v1h-1zM93.7 306.0h1v1h-1zM93.6 303.6h1v1h-1zM94.3 301.9h1v1h-1zM93.7 305.7h1v1h-1zM86.1 304.7h1v1h-1zM94.4 300.5h1v1h-1zM92.1 297.4h1v1h-1zM89.9 297.3h1v1h-1zM90.8 306.9h1v1h-1zM91.3 297.3h1v1h-1zM84.9 303.0h1v1h-1zM94.3 300.3h1v1h-1zM87.2 306.0h1v1h-1zM85.0 302.0h1v1h-1zM91.3 306.7h1v1h-1zM90.4 297.6h1v1h-1zM94.1 298.7h1v1h-1zM94.1 302.1h1v1h-1zM93.5 297.4h1v1h-1zM92.5 297.1h1v1h-1zM90.7 296.9h1v1h-1zM94.7 302.2h1v1h-1zM94.3 299.9h1v1h-1zM86.0 299.2h1v1h-1zM94.2 304.4h1v1h-1zM90.9 296.8h1v1h-1zM93.7 298.6h1v1h-1zM90.8 306.9h1v1h-1zM85.9 305.0h1v1h-1zM91.2 296.7h1v1h-1zM85.4 301.1h1v1h-1zM86.1 298.8h1v1h-1zM94.6 299.5h1v1h-1zM90.9 307.2h1v1h-1zM89.7 297.5h1v1h-1zM88.1 297.5h1v1h-1zM89.2 297.6h1v1h-1zM93.9 298.3h1v1h-1zM94.2 303.7h1v1h-1zM88.9 306.8h1v1h-1zM85.0 303.1h1v1h-1zM87.7 306.2h1v1h-1zM95.1 300.5h1v1h-1zM88.2 307.2h1v1h-1zM85.3 303.8h1v1h-1zM93.5 305.6h1v1h-1zM87.0 306.0h1v1h-1zM88.8 306.8h1v1h-1zM86.9 297.9h1v1h-1zM92.6 297.4h1v1h-1zM87.6 297.8h1v1h-1zM88.2 306.4h1v1h-1zM94.5 298.8h1v1h-1zM84.8 301.8h1v1h-1zM94.9 300.0h1v1h-1zM85.7 298.9h1v1h-1zM84.8 301.1h1v1h-1zM85.9 304.0h1v1h-1zM93.5 297.7h1v1h-1zM88.6 306.6h1v1h-1zM93.7 297.6h1v1h-1zM93.7 305.2h1v1h-1zM91.4 297.1h1v1h-1zM86.2 298.6h1v1h-1zM86.7 298.2h1v1h-1z" fill="rgb(108, 164, 100)" opacity="0.89"/>
<path d="M82.4 282.1h1v1h-1zM88.1 279.4h1v1h-1zM85.8 283.2h1v1h-1zM80.4 281.3h1v1h-1zM90.7 283.0h1v1h-1zM83.6 281.5h1v1h-1zM89.2 283.3h1v1h-1zM78.5 281.1h1v1h-1zM83.1 281.4h1v1h-1zM79.8 280.2h1v1h-1zM81.8 280.4h1v1h-1zM83.6 280.2h1v1h-1zM78.4 281.2h1v1h-1zM85.6 283.3h1v1h-1zM83.6 280.5h1v1h-1zM80.0 281.3h1v1h-1zM78.3 280.9h1v1h-1zM87.3 279.6h1v1h-1zM81.0 280.9h1v1h-1zM85.9 283.4h1v1h-1zM81.1 282.1h1v1h-1zM82.9 282.1h1v1h-1zM86.3 283.3h1v1h-1zM80.4 280.9h1v1h-1zM88.9 279.7h1v1h-1zM91.5 281.3h1v1h-1zM84.3 282.4h1v1h-1zM89.3 279.8h1v1h-1zM83.5 280.8h1v1h-1zM80.0 280.6h1v1h-1zM89.8 280.6h1v1h-1zM78.8 280.6h1v1h-1zM88.3 280.3h1v1h-1zM84.4 280.3h1v1h-1zM91.7 282.1h1v1h-1zM82.0 281.6h1v1h-1zM78.1 280.8h1v1h-1zM81.2 280.8h1v1h-1zM90.2 280.5h1v1h-1zM90.9 280.9h1v1h-1zM90.9 282.4h1v1h-1zM88.1 283.5h1v1h-1zM87.0 279.5h1v1h-1zM86.4 279.4h1v1h-1zM87.3 283.4h1v1h-1zM81.4 281.5h1v1h-1zM80.2 280.9h1v1h-1zM78.3 281.1h1v1h-1zM78.9 280.3h1v1h-1zM84.1 282.9h1v1h-1zM86.7 279.8h1v1h-1zM81.7 281.2h1v1h-1zM83.7 282.2h1v1h-1zM86.7 283.1h1v1h-1zM87.5 283.4h1v1h-1zM82.6 281.8h1v1h-1zM83.5 282.0h1v1h-1zM87.5 283.3h1v1h-1zM85.5 279.4h1v1h-1zM85.8 283.4h1v1h-1zM87.1 283.5h1v1h-1zM90.5 280.2h1v1h-1zM79.5 280.7h1v1h-1zM83.4 281.4h1v1h-1zM88.5 283.4h1v1h-1zM84.4 283.2h1v1h-1zM82.5 282.3h1v1h-1zM81.1 280.8h1v1h-1zM89.2 283.5h1v1h-1zM83.4 281.0h1v1h-1zM83.2 281.4h1v1h-1zM81.3 282.3h1v1h-1zM91.4 281.5h1v1h-1zM91.2 280.7h1v1h-1zM91.6 282.4h1v1h-1zM83.8 282.9h1v1h-1zM90.5 282.4h1v1h-1zM83.0 280.6h1v1h-1zM80.5 280.4h1v1h-1zM83.1 281.2h1v1h-1zM81.1 282.3h1v1h-1zM83.1 281.8h1v1h-1zM88.3 279.9h1v1h-1zM84.0 282.6h1v1h-1zM80.8 281.5h1v1h-1zM90.2 281.1h1v1h-1zM89.5 280.1h1v1h-1zM84.7 279.4h1v1h-1zM80.2 280.6h1v1h-1zM91.0 281.3h1v1h-1zM79.3 280.4h1v1h-1zM81.8 280.8h1v1h-1zM79.9 281.3h1v1h-1zM90.2 283.0h1v1h-1zM82.4 281.3h1v1h-1zM88.0 279.8h1v1h-1zM79.6 281.8h1v1h-1zM83.4 282.1h1v1h-1zM89.2 280.2h1v1h-1zM81.4 282.0h1v1h-1zM82.8 280.1h1v1h-1zM91.0 282.8h1v1h-1zM88.6 283.5h1v1h-1zM88.9 279.7h1v1h-1zM83.6 280.3h1v1h-1zM88.4 283.0h1v1h-1zM91.4 281.9h1v1h-1zM91.3 281.3h1v1h-1zM90.6 281.2h1v1h-1zM86.8 279.2h1v1h-1zM91.6 282.3h1v1h-1zM82.2 281.0h1v1h-1zM82.3 281.3h1v1h-1zM88.2 280.3h1v1h-1zM89.0 282.9h1v1h-1zM83.4 280.4h1v1h-1zM87.7 283.5h1v1h-1zM82.3 281.4h1v1h-1zM89.3 283.1h1v1h-1zM84.3 283.0h1v1h-1zM87.9 283.0h1v1h-1zM91.8 282.0h1v1h-1zM84.7 283.2h1v1h-1zM89.5 280.1h1v1h-1zM88.4 280.3h1v1h-1zM91.1 280.6h1v1h-1zM90.7 282.9h1v1h-1zM89.3 280.4h1v1h-1zM85.0 283.2h1v1h-1zM85.5 283.1h1v1h-1zM82.9 281.0h1v1h-1zM84.5 282.7h1v1h-1zM85.8 279.3h1v1h-1zM91.3 282.5h1v1h-1zM81.6 281.9h1v1h-1zM87.6 298.7h1v1h-1zM88.7 298.2h1v1h-1zM85.3 302.2h1v1h-1zM92.4 305.8h1v1h-1zM88.0 306.2h1v1h-1zM86.5 299.7h1v1h-1zM93.3 300.4h1v1h-1zM86.2 303.1h1v1h-1zM92.2 305.4h1v1h-1zM94.0 301.7h1v1h-1zM86.6 303.8h1v1h-1zM93.4 300.9h1v1h-1zM93.6 298.9h1v1h-1zM91.0 306.2h1v1h-1zM92.6 304.8h1v1h-1zM85.7 300.5h1v1h-1zM92.2 305.9h1v1h-1zM89.0 298.1h1v1h-1zM88.9 298.5h1v1h-1zM91.3 297.8h1v1h-1zM93.0 298.6h1v1h-1zM91.3 298.2h1v1h-1zM91.4 306.5h1v1h-1zM91.9 305.9h1v1h-1zM89.1 306.3h1v1h-1zM89.1 305.9h1v1h-1zM93.6 299.5h1v1h-1zM89.8 306.5h1v1h-1zM92.0 305.2h1v1h-1zM92.2 298.0h1v1h-1zM87.4 305.7h1v1h-1zM89.6 298.2h1v1h-1zM93.2 303.2h1v1h-1zM91.3 298.3h1v1h-1zM85.8 302.7h1v1h-1zM91.3 297.9h1v1h-1zM91.5 306.6h1v1h-1zM90.7 306.6h1v1h-1zM88.7 298.3h1v1h-1zM85.9 301.1h1v1h-1zM92.5 304.0h1v1h-1zM93.5 301.3h1v1h-1zM87.3 299.1h1v1h-1zM89.3 305.8h1v1h-1zM86.2 304.3h1v1h-1zM93.0 304.1h1v1h-1zM86.9 304.2h1v1h-1zM93.8 299.5h1v1h-1zM86.6 304.1h1v1h-1zM90.2 305.9h1v1h-1zM88.6 305.7h1v1h-1zM92.6 299.0h1v1h-1zM86.3 299.9h1v1h-1zM93.5 298.9h1v1h-1zM93.0 303.2h1v1h-1zM93.2 304.0h1v1h-1zM93.8 301.8h1v1h-1zM92.4 298.1h1v1h-1zM94.0 300.3h1v1h-1zM89.5 298.5h1v1h-1zM89.5 306.0h1v1h-1zM89.7 298.2h1v1h-1zM93.4 300.8h1v1h-1zM87.6 298.4h1v1h-1zM86.7 299.0h1v1h-1zM91.2 306.2h1v1h-1zM93.8 301.0h1v1h-1zM92.3 298.0h1v1h-1zM92.3 305.9h1v1h-1zM90.1 306.7h1v1h-1zM86.1 303.8h1v1h-1zM87.6 305.5h1v1h-1zM89.8 305.9h1v1h-1zM93.8 301.4h1v1h-1zM85.8 302.3h1v1h-1zM91.7 306.4h1v1h-1zM85.5 302.8h1v1h-1zM87.2 298.8h1v1h-1zM85.4 302.4h1v1h-1zM93.2 300.4h1v1h-1zM93.1 303.6h1v1h-1zM92.0 298.3h1v1h-1zM93.2 299.2h1v1h-1zM93.8 301.6h1v1h-1zM87.9 298.4h1v1h-1zM93.1 303.1h1v1h-1zM93.7 301.2h1v1h-1zM91.7 305.7h1v1h-1zM92.7 297.9h1v1h-1zM92.3 305.0h1v1h-1zM90.5 306.6h1v1h-1zM92.6 298.5h1v1h-1zM93.3 301.8h1v1h-1zM86.8 298.8h1v1h-1zM86.0 302.4h1v1h-1zM86.7 304.8h1v1h-1zM91.5 298.2h1v1h-1zM93.2 299.8h1v1h-1zM89.6 298.2h1v1h-1zM85.6 302.0h1v1h-1zM86.4 303.5h1v1h-1zM91.9 297.7h1v1h-1zM93.6 301.4h1v1h-1zM86.0 303.6h1v1h-1zM86.2 300.4h1v1h-1zM91.7 306.2h1v1h-1zM88.0 305.5h1v1h-1zM88.5 298.0h1v1h-1zM89.9 297.7h1v1h-1zM87.7 305.5h1v1h-1zM94.2 300.8h1v1h-1zM89.7 298.5h1v1h-1zM86.7 303.9h1v1h-1zM90.4 298.3h1v1h-1zM92.0 298.5h1v1h-1zM90.9 297.6h1v1h-1zM91.7 305.3h1v1h-1zM88.6 306.1h1v1h-1zM88.6 306.2h1v1h-1zM90.8 306.3h1v1h-1zM87.2 298.9h1v1h-1zM93.4 303.8h1v1h-1zM92.7 303.7h1v1h-1zM87.3 304.7h1v1h-1zM87.0 304.4h1v1h-1zM92.6 298.7h1v1h-1zM87.5 305.7h1v1h-1zM78.6 280.8h1v1h-1zM89.0 282.9h1v1h-1z" fill="rgb(147, 178, 77)" opacity="0.90"/>
<path d="M85.2 281.1h1v1h-1zM86.0 279.9h1v1h-1zM85.5 281.4h1v1h-1zM85.9 282.0h1v1h-1zM84.7 280.9h1v1h-1zM86.1 282.0h1v1h-1zM84.9 280.4h1v1h-1zM86.9 280.3h1v1h-1zM86.5 281.5h1v1h-1zM87.0 280.8h1v1h-1zM86.0 281.1h1v1h-1zM84.5 280.8h1v1h-1zM85.7 280.7h1v1h-1zM85.5 281.9h1v1h-1zM88.4 281.4h1v1h-1zM87.7 281.4h1v1h-1zM86.2 282.6h1v1h-1zM85.7 280.2h1v1h-1zM84.1 281.5h1v1h-1zM89.3 281.0h1v1h-1zM86.1 281.8h1v1h-1zM86.4 282.2h1v1h-1zM88.4 281.2h1v1h-1zM87.0 281.6h1v1h-1zM86.7 282.6h1v1h-1zM85.6 282.4h1v1h-1zM86.7 281.7h1v1h-1zM86.2 279.9h1v1h-1zM86.3 280.8h1v1h-1zM89.3 282.4h1v1h-1zM89.4 282.3h1v1h-1zM85.9 280.4h1v1h-1zM85.3 281.1h1v1h-1zM89.2 280.9h1v1h-1zM87.3 283.0h1v1h-1zM84.3 280.6h1v1h-1zM85.5 280.9h1v1h-1zM85.4 281.5h1v1h-1zM84.3 281.6h1v1h-1zM89.4 281.9h1v1h-1zM87.6 281.5h1v1h-1zM89.0 282.5h1v1h-1zM89.0 282.5h1v1h-1zM86.9 280.2h1v1h-1zM89.2 281.5h1v1h-1zM85.4 281.2h1v1h-1zM87.9 282.9h1v1h-1zM89.0 281.8h1v1h-1zM85.9 280.1h1v1h-1zM87.1 281.1h1v1h-1zM85.4 281.9h1v1h-1zM89.5 282.1h1v1h-1zM87.4 280.9h1v1h-1zM90.2 282.0h1v1h-1zM88.0 281.6h1v1h-1zM84.9 280.9h1v1h-1zM89.1 281.1h1v1h-1zM88.5 281.4h1v1h-1zM88.9 280.7h1v1h-1zM86.4 280.2h1v1h-1zM84.1 281.8h1v1h-1zM86.4 280.8h1v1h-1zM89.3 282.0h1v1h-1zM88.8 281.1h1v1h-1zM84.8 281.0h1v1h-1zM86.9 280.9h1v1h-1zM87.1 280.3h1v1h-1zM87.9 282.8h1v1h-1zM85.2 282.5h1v1h-1zM87.8 283.0h1v1h-1zM85.2 280.0h1v1h-1zM85.6 280.5h1v1h-1zM84.6 281.1h1v1h-1zM88.7 281.4h1v1h-1zM88.2 281.9h1v1h-1zM90.2 282.0h1v1h-1zM87.5 282.8h1v1h-1zM86.5 281.2h1v1h-1zM85.4 280.8h1v1h-1zM86.8 282.3h1v1h-1zM87.9 281.7h1v1h-1zM88.8 282.4h1v1h-1zM87.6 282.2h1v1h-1zM88.8 282.4h1v1h-1zM85.6 280.0h1v1h-1zM89.4 282.1h1v1h-1zM86.7 281.8h1v1h-1zM88.5 280.5h1v1h-1zM86.3 282.6h1v1h-1zM89.1 281.6h1v1h-1zM85.5 280.4h1v1h-1zM86.7 282.6h1v1h-1zM89.3 282.5h1v1h-1zM83.7 281.4h1v1h-1zM89.9 281.7h1v1h-1zM87.6 281.5h1v1h-1zM89.3 282.0h1v1h-1zM84.8 280.9h1v1h-1zM89.2 282.4h1v1h-1zM86.6 281.2h1v1h-1zM87.2 282.1h1v1h-1zM89.8 282.3h1v1h-1zM89.9 281.9h1v1h-1zM84.7 280.6h1v1h-1zM85.6 282.4h1v1h-1zM88.4 281.8h1v1h-1zM85.5 280.2h1v1h-1zM86.3 282.0h1v1h-1zM86.5 281.5h1v1h-1zM91.5 300.6h1v1h-1zM91.1 298.6h1v1h-1zM91.3 299.0h1v1h-1zM89.9 304.7h1v1h-1zM92.1 303.6h1v1h-1zM87.2 299.5h1v1h-1zM88.7 304.9h1v1h-1zM92.5 302.3h1v1h-1zM91.7 299.6h1v1h-1zM92.3 302.7h1v1h-1zM88.8 299.3h1v1h-1zM88.3 304.4h1v1h-1zM91.4 304.2h1v1h-1zM86.6 300.1h1v1h-1zM93.0 302.1h1v1h-1zM91.6 299.3h1v1h-1zM92.5 302.6h1v1h-1zM86.6 301.5h1v1h-1zM88.5 304.9h1v1h-1zM91.4 304.5h1v1h-1zM93.2 300.3h1v1h-1zM89.0 299.3h1v1h-1zM89.2 299.1h1v1h-1zM91.8 304.5h1v1h-1zM91.1 305.6h1v1h-1zM86.9 303.6h1v1h-1zM91.6 303.9h1v1h-1zM92.2 302.3h1v1h-1zM91.9 300.9h1v1h-1zM92.3 299.8h1v1h-1zM91.9 299.1h1v1h-1zM90.4 299.6h1v1h-1zM92.2 300.7h1v1h-1zM86.3 302.1h1v1h-1zM88.1 304.7h1v1h-1zM86.8 302.0h1v1h-1zM92.6 299.3h1v1h-1zM91.2 305.5h1v1h-1zM92.1 300.8h1v1h-1zM91.6 300.0h1v1h-1zM87.5 299.5h1v1h-1zM92.0 303.4h1v1h-1zM91.5 304.8h1v1h-1zM90.3 305.0h1v1h-1zM93.0 301.5h1v1h-1zM92.4 299.1h1v1h-1zM91.6 300.2h1v1h-1zM87.5 304.7h1v1h-1zM92.4 303.1h1v1h-1zM86.3 303.0h1v1h-1zM92.2 301.7h1v1h-1zM91.4 304.9h1v1h-1zM86.4 301.3h1v1h-1zM91.8 300.9h1v1h-1zM88.1 304.0h1v1h-1zM91.6 303.1h1v1h-1zM91.5 304.1h1v1h-1zM88.1 299.3h1v1h-1zM87.5 304.7h1v1h-1zM90.2 305.2h1v1h-1zM89.4 304.6h1v1h-1zM86.2 302.5h1v1h-1zM87.1 304.0h1v1h-1zM92.0 302.2h1v1h-1zM92.1 298.8h1v1h-1zM91.7 303.3h1v1h-1zM92.9 302.3h1v1h-1zM89.8 299.2h1v1h-1zM90.6 298.6h1v1h-1zM92.2 302.9h1v1h-1zM91.3 305.2h1v1h-1zM90.7 305.6h1v1h-1zM86.2 301.7h1v1h-1zM92.7 301.4h1v1h-1zM91.1 305.7h1v1h-1zM92.9 301.6h1v1h-1zM88.5 305.1h1v1h-1zM88.0 304.1h1v1h-1zM91.1 298.9h1v1h-1zM91.9 301.5h1v1h-1zM87.5 299.3h1v1h-1zM92.3 303.5h1v1h-1zM91.0 304.4h1v1h-1zM89.3 304.4h1v1h-1zM90.2 299.1h1v1h-1zM92.9 299.9h1v1h-1zM88.2 305.1h1v1h-1zM92.3 302.8h1v1h-1zM91.5 304.2h1v1h-1zM91.1 299.3h1v1h-1zM88.9 304.6h1v1h-1zM87.7 299.4h1v1h-1zM90.3 299.2h1v1h-1zM92.1 299.5h1v1h-1zM86.7 302.8h1v1h-1zM92.0 304.8h1v1h-1zM92.0 302.7h1v1h-1zM91.7 298.8h1v1h-1zM90.3 304.5h1v1h-1zM92.7 299.9h1v1h-1zM86.7 301.9h1v1h-1zM91.9 304.5h1v1h-1zM91.6 298.6h1v1h-1zM93.2 301.7h1v1h-1zM87.6 303.9h1v1h-1zM91.5 304.9h1v1h-1zM91.6 304.1h1v1h-1zM87.1 299.8h1v1h-1zM86.0 302.1h1v1h-1zM86.9 300.1h1v1h-1zM86.4 302.1h1v1h-1zM90.3 304.8h1v1h-1zM88.1 304.1h1v1h-1zM88.9 305.1h1v1h-1zM90.9 305.2h1v1h-1zM89.5 304.5h1v1h-1zM93.2 301.5h1v1h-1zM92.9 300.4h1v1h-1zM88.7 304.6h1v1h-1zM92.9 302.1h1v1h-1zM88.3 304.9h1v1h-1zM89.9 305.1h1v1h-1zM91.5 300.0h1v1h-1zM91.0 304.4h1v1h-1zM86.2 301.9h1v1h-1zM91.1 304.1h1v1h-1zM92.0 301.0h1v1h-1zM91.2 299.6h1v1h-1zM89.3 304.6h1v1h-1zM91.8 299.9h1v1h-1zM91.7 304.4h1v1h-1zM92.1 303.1h1v1h-1zM88.5 304.3h1v1h-1zM87.0 303.4h1v1h-1zM87.4 303.5h1v1h-1zM86.6 302.0h1v1h-1zM86.5 301.2h1v1h-1zM86.8 299.8h1v1h-1zM92.0 300.7h1v1h-1z" fill="rgb(195, 190, 60)" opacity="0.90"/>
<path d="M89.5 303.0h1v1h-1zM89.4 300.0h1v1h-1zM88.3 303.8h1v1h-1zM90.4 303.1h1v1h-1zM88.6 303.3h1v1h-1zM87.4 301.8h1v1h-1zM91.1 303.0h1v1h-1zM90.3 300.5h1v1h-1zM89.3 300.9h1v1h-1zM89.2 301.6h1v1h-1zM90.6 302.1h1v1h-1zM88.0 303.9h1v1h-1zM88.2 300.8h1v1h-1zM89.6 302.5h1v1h-1zM87.3 301.3h1v1h-1zM88.1 303.8h1v1h-1zM88.3 299.8h1v1h-1zM87.2 302.0h1v1h-1zM89.7 303.3h1v1h-1zM89.7 300.7h1v1h-1zM87.2 302.1h1v1h-1zM91.0 303.5h1v1h-1zM89.9 304.4h1v1h-1zM91.3 301.1h1v1h-1zM87.4 303.0h1v1h-1zM90.9 303.0h1v1h-1zM91.1 300.6h1v1h-1zM89.7 303.4h1v1h-1zM87.8 303.1h1v1h-1zM90.2 301.8h1v1h-1zM87.3 301.5h1v1h-1zM89.7 300.4h1v1h-1zM89.5 303.8h1v1h-1zM88.3 299.8h1v1h-1zM88.2 303.3h1v1h-1zM89.7 299.7h1v1h-1zM87.7 300.2h1v1h-1zM90.7 300.7h1v1h-1zM89.3 300.6h1v1h-1zM87.5 300.7h1v1h-1zM91.4 303.3h1v1h-1zM88.5 299.9h1v1h-1zM88.5 301.5h1v1h-1zM89.8 301.9h1v1h-1zM88.9 299.8h1v1h-1zM89.0 304.2h1v1h-1zM90.7 303.4h1v1h-1zM91.2 300.4h1v1h-1zM89.2 299.7h1v1h-1zM89.9 303.3h1v1h-1zM89.0 301.0h1v1h-1zM88.2 301.4h1v1h-1zM89.4 301.7h1v1h-1zM89.0 303.0h1v1h-1zM86.8 302.0h1v1h-1zM88.6 300.7h1v1h-1zM89.8 299.6h1v1h-1zM91.6 302.1h1v1h-1zM88.2 301.7h1v1h-1zM90.8 301.7h1v1h-1zM88.5 303.8h1v1h-1zM89.6 299.9h1v1h-1zM87.9 302.7h1v1h-1zM89.3 299.8h1v1h-1zM88.8 301.7h1v1h-1zM89.2 301.7h1v1h-1zM88.2 300.0h1v1h-1zM88.0 300.3h1v1h-1zM90.4 301.5h1v1h-1zM88.7 301.2h1v1h-1zM88.1 301.8h1v1h-1zM88.5 302.4h1v1h-1zM90.6 301.9h1v1h-1zM88.7 301.4h1v1h-1zM88.3 303.2h1v1h-1zM89.0 300.6h1v1h-1zM89.4 301.4h1v1h-1zM88.0 300.3h1v1h-1zM87.1 301.5h1v1h-1zM89.8 303.5h1v1h-1zM88.4 300.1h1v1h-1zM88.7 301.6h1v1h-1zM89.5 301.9h1v1h-1zM91.6 302.7h1v1h-1zM90.7 300.4h1v1h-1zM87.8 301.1h1v1h-1zM89.1 303.1h1v1h-1zM90.8 301.5h1v1h-1zM90.2 302.6h1v1h-1zM90.6 302.3h1v1h-1zM88.9 299.5h1v1h-1zM89.9 302.2h1v1h-1zM89.7 301.3h1v1h-1zM88.5 303.1h1v1h-1zM87.5 302.6h1v1h-1zM88.7 301.0h1v1h-1zM87.9 302.4h1v1h-1zM89.2 299.7h1v1h-1zM87.6 302.2h1v1h-1zM90.7 302.5h1v1h-1zM90.2 304.3h1v1h-1zM91.2 300.8h1v1h-1zM87.2 300.5h1v1h-1zM90.0 300.4h1v1h-1zM91.4 302.1h1v1h-1zM88.5 301.6h1v1h-1zM87.2 301.1h1v1h-1zM89.7 302.3h1v1h-1zM91.0 301.5h1v1h-1zM88.5 301.5h1v1h-1zM89.2 304.2h1v1h-1zM90.5 299.8h1v1h-1zM87.1 303.0h1v1h-1zM87.3 300.3h1v1h-1zM91.4 301.9h1v1h-1zM87.1 300.6h1v1h-1zM87.8 302.7h1v1h-1zM90.7 303.1h1v1h-1zM87.8 301.1h1v1h-1zM89.1 300.9h1v1h-1zM89.6 300.1h1v1h-1zM90.2 300.4h1v1h-1zM87.8 300.8h1v1h-1zM89.1 301.0h1v1h-1zM87.2 302.6h1v1h-1zM89.9 300.0h1v1h-1zM87.3 300.4h1v1h-1zM89.5 301.9h1v1h-1zM89.4 303.0h1v1h-1zM90.7 303.0h1v1h-1zM87.2 301.3h1v1h-1zM88.9 300.3h1v1h-1zM90.4 303.2h1v1h-1zM86.8 301.9h1v1h-1zM89.5 301.9h1v1h-1zM88.6 303.3h1v1h-1zM87.5 300.6h1v1h-1z" fill="rgb(211, 163, 46)" opacity="0.90"/>
<rect x="79.3" y="291" width="21.5" height="24.600000000000023" fill="none" stroke="#222" stroke-width="0.9" />
<text x="46" y="318.6" font-family="'Liberation Serif', serif" font-size="11.2" text-anchor="start" fill="#222" >41.5%</text>
<text x="58.8" y="252" font-family="'Liberation Serif', serif" font-size="9.6" text-anchor="middle" fill="#111" >shLuc</text>
<line x1="37.8" y1="267.2" x2="39" y2="267.2" stroke="#333" stroke-width="0.7" />
<text x="36.4" y="268.6" font-family="Liberation Serif, serif" font-size="3.8" text-anchor="end" fill="#333">10<tspan font-size="2.8" dy="-1.3">5</tspan></text>
<line x1="37.8" y1="282.6" x2="39" y2="282.6" stroke="#333" stroke-width="0.7" />
<text x="36.4" y="284.0" font-family="Liberation Serif, serif" font-size="3.8" text-anchor="end" fill="#333">10<tspan font-size="2.8" dy="-1.3">4</tspan></text>
<line x1="37.8" y1="298.2" x2="39" y2="298.2" stroke="#333" stroke-width="0.7" />
<text x="36.4" y="299.6" font-family="Liberation Serif, serif" font-size="3.8" text-anchor="end" fill="#333">10<tspan font-size="2.8" dy="-1.3">3</tspan></text>
<line x1="37.8" y1="314.6" x2="39" y2="314.6" stroke="#333" stroke-width="0.7" />
<text x="36.4" y="316.0" font-family="Liberation Serif, serif" font-size="3.8" text-anchor="end" fill="#333">10<tspan font-size="2.8" dy="-1.3">2</tspan></text>
<text x="35.0" y="323.7" font-family="Liberation Serif, serif" font-size="3.8" text-anchor="end" fill="#333">0</text>
<line x1="37.8" y1="322.3" x2="39" y2="322.3" stroke="#333" stroke-width="0.7" />
<line x1="45.6" y1="329.5" x2="45.6" y2="330.7" stroke="#333" stroke-width="0.7" />
<text x="45.6" y="336.4" font-family="Liberation Serif, serif" font-size="3.8" text-anchor="middle" fill="#333">0</text>
<line x1="53.9" y1="329.5" x2="53.9" y2="330.7" stroke="#333" stroke-width="0.7" />
<text x="53.3" y="336.4" font-family="Liberation Serif, serif" font-size="3.8" text-anchor="middle" fill="#333">10<tspan font-size="2.8" dy="-1.3">2</tspan></text>
<line x1="69.2" y1="329.5" x2="69.2" y2="330.7" stroke="#333" stroke-width="0.7" />
<text x="68.6" y="336.4" font-family="Liberation Serif, serif" font-size="3.8" text-anchor="middle" fill="#333">10<tspan font-size="2.8" dy="-1.3">3</tspan></text>
<line x1="85.8" y1="329.5" x2="85.8" y2="330.7" stroke="#333" stroke-width="0.7" />
<text x="85.2" y="336.4" font-family="Liberation Serif, serif" font-size="3.8" text-anchor="middle" fill="#333">10<tspan font-size="2.8" dy="-1.3">4</tspan></text>
<line x1="98.2" y1="329.5" x2="98.2" y2="330.7" stroke="#333" stroke-width="0.7" />
<text x="97.6" y="336.4" font-family="Liberation Serif, serif" font-size="3.8" text-anchor="middle" fill="#333">10<tspan font-size="2.8" dy="-1.3">5</tspan></text>
<rect x="128.3" y="259.5" width="71.19999999999999" height="70.0" fill="#fff" stroke="#999" stroke-width="0.7" />
<line x1="128.3" y1="259.5" x2="128.3" y2="329.5" stroke="#333" stroke-width="0.8" />
<line x1="128.3" y1="329.5" x2="199.5" y2="329.5" stroke="#333" stroke-width="0.8" />
<path d="M196.7 291.0h1v1h-1zM153.0 278.5h1v1h-1zM147.8 277.4h1v1h-1zM147.3 269.9h1v1h-1zM160.2 263.4h1v1h-1zM147.9 272.0h1v1h-1zM196.2 287.1h1v1h-1zM146.4 281.4h1v1h-1zM157.7 282.3h1v1h-1zM188.7 271.7h1v1h-1zM195.3 286.4h1v1h-1zM150.4 278.0h1v1h-1zM155.5 270.6h1v1h-1zM171.0 267.5h1v1h-1zM185.5 270.9h1v1h-1zM157.4 267.1h1v1h-1zM168.3 266.2h1v1h-1zM196.9 280.4h1v1h-1zM195.1 273.3h1v1h-1zM182.7 268.2h1v1h-1zM161.4 284.6h1v1h-1zM195.0 284.4h1v1h-1zM186.2 269.1h1v1h-1zM152.4 272.2h1v1h-1zM187.7 270.1h1v1h-1zM153.5 279.7h1v1h-1zM152.5 273.3h1v1h-1zM197.9 281.9h1v1h-1zM157.1 283.5h1v1h-1zM170.7 267.2h1v1h-1zM167.9 265.9h1v1h-1zM171.5 290.4h1v1h-1zM146.9 275.8h1v1h-1zM184.7 268.1h1v1h-1zM160.2 284.8h1v1h-1zM174.4 267.7h1v1h-1zM165.3 287.0h1v1h-1zM152.7 281.7h1v1h-1zM154.1 278.4h1v1h-1zM190.8 289.8h1v1h-1zM152.6 279.3h1v1h-1zM154.3 283.5h1v1h-1zM192.4 274.3h1v1h-1zM148.6 271.0h1v1h-1zM150.0 272.9h1v1h-1zM148.6 272.5h1v1h-1zM149.7 271.1h1v1h-1zM150.2 278.5h1v1h-1zM146.6 277.0h1v1h-1zM167.0 288.5h1v1h-1zM151.0 280.2h1v1h-1zM145.2 275.8h1v1h-1zM152.7 265.2h1v1h-1zM154.4 270.1h1v1h-1zM188.0 270.2h1v1h-1zM152.9 274.3h1v1h-1zM183.8 267.8h1v1h-1zM156.7 269.2h1v1h-1zM192.4 288.8h1v1h-1zM145.5 278.4h1v1h-1zM160.8 262.9h1v1h-1zM164.5 286.4h1v1h-1zM160.4 268.3h1v1h-1zM174.1 266.8h1v1h-1zM151.0 277.5h1v1h-1zM195.5 277.0h1v1h-1zM191.3 290.0h1v1h-1zM157.5 285.4h1v1h-1zM142.2 276.9h1v1h-1zM153.5 266.7h1v1h-1zM157.5 283.5h1v1h-1zM192.0 274.3h1v1h-1zM176.5 267.2h1v1h-1zM193.7 276.9h1v1h-1zM174.3 267.2h1v1h-1zM152.0 273.4h1v1h-1zM166.2 266.4h1v1h-1zM150.1 276.1h1v1h-1zM196.8 287.0h1v1h-1zM153.3 275.6h1v1h-1zM146.0 268.6h1v1h-1zM179.8 291.3h1v1h-1zM192.8 288.9h1v1h-1zM195.5 282.7h1v1h-1zM197.7 283.0h1v1h-1zM196.9 280.0h1v1h-1zM197.1 281.8h1v1h-1zM187.6 292.5h1v1h-1zM174.9 313.7h1v1h-1zM172.4 309.4h1v1h-1zM173.5 302.9h1v1h-1zM184.2 317.2h1v1h-1zM188.4 313.8h1v1h-1zM173.2 300.5h1v1h-1zM168.2 306.1h1v1h-1zM174.8 313.9h1v1h-1zM187.3 313.8h1v1h-1zM193.4 288.9h1v1h-1zM191.3 296.5h1v1h-1zM184.5 316.3h1v1h-1zM193.3 312.8h1v1h-1zM182.5 317.4h1v1h-1zM179.7 316.0h1v1h-1zM181.2 319.3h1v1h-1zM172.8 313.5h1v1h-1zM181.0 314.2h1v1h-1zM178.3 294.0h1v1h-1zM193.0 306.6h1v1h-1zM191.0 308.6h1v1h-1zM189.4 311.4h1v1h-1zM189.7 312.8h1v1h-1zM182.6 317.3h1v1h-1zM185.3 315.0h1v1h-1zM172.8 293.4h1v1h-1zM180.3 314.4h1v1h-1zM177.7 313.5h1v1h-1zM187.6 293.3h1v1h-1zM175.6 296.1h1v1h-1zM173.2 309.3h1v1h-1zM173.6 300.4h1v1h-1zM175.7 313.9h1v1h-1zM176.9 294.1h1v1h-1zM192.4 302.8h1v1h-1zM174.5 297.3h1v1h-1zM189.5 295.3h1v1h-1zM171.7 296.4h1v1h-1zM190.3 298.7h1v1h-1zM176.5 317.2h1v1h-1zM176.1 293.3h1v1h-1zM174.1 299.4h1v1h-1zM191.4 306.2h1v1h-1zM154.1 291.6h1v1h-1zM185.7 291.5h1v1h-1zM174.1 314.8h1v1h-1zM139.7 307.5h1v1h-1zM153.3 302.6h1v1h-1zM166.8 321.7h1v1h-1zM134.7 294.9h1v1h-1zM140.0 272.2h1v1h-1zM139.3 301.7h1v1h-1zM147.9 285.7h1v1h-1zM179.6 318.9h1v1h-1zM132.4 289.4h1v1h-1zM136.2 299.2h1v1h-1zM139.8 301.0h1v1h-1zM149.3 309.8h1v1h-1zM157.9 302.4h1v1h-1zM195.2 273.7h1v1h-1zM155.5 294.9h1v1h-1zM168.4 294.8h1v1h-1zM176.2 320.3h1v1h-1zM133.9 289.6h1v1h-1zM138.0 283.3h1v1h-1zM140.4 279.7h1v1h-1zM150.9 267.5h1v1h-1zM149.8 312.3h1v1h-1zM193.0 271.3h1v1h-1zM139.0 280.7h1v1h-1zM154.2 286.4h1v1h-1zM157.0 313.5h1v1h-1zM139.7 280.4h1v1h-1zM156.7 297.3h1v1h-1zM142.8 303.6h1v1h-1zM135.2 286.1h1v1h-1zM154.9 314.3h1v1h-1zM136.7 315.2h1v1h-1zM192.2 308.8h1v1h-1zM189.2 317.1h1v1h-1zM134.3 324.6h1v1h-1zM163.5 306.8h1v1h-1zM169.6 288.7h1v1h-1zM174.6 321.1h1v1h-1zM145.7 320.3h1v1h-1zM148.2 275.0h1v1h-1zM171.4 317.9h1v1h-1zM145.6 307.4h1v1h-1zM192.2 319.4h1v1h-1zM153.2 300.9h1v1h-1zM150.5 306.5h1v1h-1zM141.8 324.3h1v1h-1zM154.7 280.9h1v1h-1zM133.1 287.2h1v1h-1z" fill="rgb(140, 152, 199)" opacity="0.34"/>
<path d="M156.5 278.0h1v1h-1zM157.5 276.5h1v1h-1zM192.9 286.2h1v1h-1zM168.9 285.8h1v1h-1zM158.9 272.3h1v1h-1zM189.4 274.4h1v1h-1zM157.6 274.1h1v1h-1zM175.9 288.0h1v1h-1zM171.9 269.3h1v1h-1zM159.5 269.9h1v1h-1zM171.1 270.3h1v1h-1zM194.9 281.0h1v1h-1zM179.7 270.0h1v1h-1zM155.7 272.9h1v1h-1zM176.3 287.9h1v1h-1zM154.6 275.3h1v1h-1zM175.7 289.2h1v1h-1zM173.8 287.5h1v1h-1zM179.4 271.0h1v1h-1zM162.6 268.8h1v1h-1zM157.6 269.6h1v1h-1zM189.3 273.5h1v1h-1zM154.6 276.2h1v1h-1zM173.3 287.2h1v1h-1zM157.7 275.3h1v1h-1zM169.6 268.1h1v1h-1zM159.6 280.2h1v1h-1zM191.1 276.8h1v1h-1zM155.4 275.9h1v1h-1zM175.1 269.5h1v1h-1zM161.1 270.6h1v1h-1zM189.2 298.5h1v1h-1zM168.4 268.6h1v1h-1zM170.2 288.3h1v1h-1zM166.1 267.6h1v1h-1zM181.7 271.3h1v1h-1zM164.6 285.3h1v1h-1zM157.7 279.4h1v1h-1zM165.0 284.8h1v1h-1zM161.7 270.0h1v1h-1zM181.4 295.0h1v1h-1zM157.0 279.8h1v1h-1zM176.5 270.1h1v1h-1zM157.6 278.6h1v1h-1zM185.5 271.9h1v1h-1zM167.4 285.6h1v1h-1zM175.0 270.0h1v1h-1zM174.5 270.5h1v1h-1zM184.7 290.0h1v1h-1zM157.8 278.5h1v1h-1zM173.8 288.8h1v1h-1zM158.7 273.9h1v1h-1zM191.0 276.0h1v1h-1zM166.1 284.7h1v1h-1zM163.4 283.2h1v1h-1zM159.5 271.8h1v1h-1zM181.9 272.2h1v1h-1zM157.4 276.3h1v1h-1zM159.2 272.6h1v1h-1zM180.6 270.2h1v1h-1zM158.4 272.8h1v1h-1zM192.1 275.3h1v1h-1zM169.8 286.8h1v1h-1zM182.7 271.6h1v1h-1zM169.6 288.0h1v1h-1zM188.1 288.9h1v1h-1zM157.2 279.5h1v1h-1zM159.9 271.6h1v1h-1zM182.3 288.7h1v1h-1zM162.9 268.5h1v1h-1zM181.2 270.8h1v1h-1zM155.2 275.1h1v1h-1zM164.1 269.1h1v1h-1zM178.6 269.9h1v1h-1zM180.5 290.5h1v1h-1zM161.3 270.9h1v1h-1zM164.2 267.5h1v1h-1zM182.4 272.5h1v1h-1zM159.6 280.0h1v1h-1zM166.5 284.5h1v1h-1zM186.7 274.0h1v1h-1zM173.9 287.8h1v1h-1zM191.8 287.1h1v1h-1zM168.0 269.2h1v1h-1zM189.0 274.2h1v1h-1zM172.3 269.0h1v1h-1zM184.3 273.1h1v1h-1zM158.4 270.5h1v1h-1zM162.7 282.0h1v1h-1zM170.6 287.0h1v1h-1zM162.0 282.8h1v1h-1zM157.7 270.5h1v1h-1zM158.8 280.7h1v1h-1zM158.4 280.7h1v1h-1zM167.6 284.8h1v1h-1zM181.8 270.2h1v1h-1zM156.1 270.6h1v1h-1zM157.5 273.9h1v1h-1zM162.9 281.8h1v1h-1zM182.3 272.7h1v1h-1zM189.6 288.6h1v1h-1zM183.2 289.2h1v1h-1zM167.8 268.1h1v1h-1zM154.7 272.6h1v1h-1zM186.0 273.0h1v1h-1zM185.2 272.4h1v1h-1zM180.1 270.4h1v1h-1zM171.0 270.5h1v1h-1zM160.8 280.5h1v1h-1zM158.1 270.6h1v1h-1zM162.3 283.7h1v1h-1zM154.8 275.8h1v1h-1zM169.2 267.1h1v1h-1zM173.1 270.6h1v1h-1zM158.7 272.9h1v1h-1zM158.2 273.1h1v1h-1zM170.8 288.3h1v1h-1zM164.9 268.2h1v1h-1zM156.0 273.5h1v1h-1zM160.6 272.3h1v1h-1zM155.7 272.4h1v1h-1zM154.1 273.5h1v1h-1zM155.4 277.5h1v1h-1zM165.3 285.2h1v1h-1zM161.5 281.1h1v1h-1zM164.7 285.3h1v1h-1zM159.7 272.4h1v1h-1zM169.3 287.9h1v1h-1zM176.1 289.3h1v1h-1zM195.7 279.5h1v1h-1zM195.4 278.9h1v1h-1zM178.2 289.8h1v1h-1zM193.6 278.5h1v1h-1zM187.0 289.0h1v1h-1zM192.2 285.6h1v1h-1zM193.4 283.0h1v1h-1zM192.1 288.2h1v1h-1zM190.6 274.6h1v1h-1zM195.2 279.9h1v1h-1zM194.3 281.2h1v1h-1zM184.3 289.7h1v1h-1zM184.3 288.6h1v1h-1zM183.7 312.2h1v1h-1zM190.5 302.4h1v1h-1zM181.3 311.0h1v1h-1zM176.9 309.2h1v1h-1zM178.8 289.2h1v1h-1zM187.6 300.6h1v1h-1zM186.3 310.3h1v1h-1zM183.1 312.0h1v1h-1zM181.6 294.3h1v1h-1zM188.2 308.8h1v1h-1zM189.8 309.4h1v1h-1zM175.9 302.0h1v1h-1zM186.5 310.4h1v1h-1zM190.3 301.9h1v1h-1zM175.1 306.0h1v1h-1zM177.9 311.2h1v1h-1zM190.8 301.3h1v1h-1zM179.2 295.9h1v1h-1zM189.4 302.1h1v1h-1zM175.6 305.8h1v1h-1zM175.3 297.7h1v1h-1zM188.3 311.4h1v1h-1zM180.2 292.4h1v1h-1zM174.0 304.5h1v1h-1zM187.7 312.5h1v1h-1zM174.8 305.5h1v1h-1zM185.9 295.5h1v1h-1zM188.5 300.2h1v1h-1zM181.0 310.1h1v1h-1zM184.3 313.1h1v1h-1zM184.7 292.8h1v1h-1zM181.5 313.1h1v1h-1zM182.7 312.9h1v1h-1zM181.5 290.5h1v1h-1zM179.8 295.7h1v1h-1zM189.1 304.1h1v1h-1zM182.1 310.6h1v1h-1zM184.4 292.9h1v1h-1zM178.8 295.9h1v1h-1zM175.8 297.9h1v1h-1zM178.8 312.6h1v1h-1zM183.3 294.9h1v1h-1zM180.4 312.6h1v1h-1zM177.3 311.2h1v1h-1zM176.4 311.4h1v1h-1zM180.7 310.8h1v1h-1zM176.9 307.6h1v1h-1zM186.4 310.1h1v1h-1zM188.2 312.7h1v1h-1zM176.1 306.8h1v1h-1zM177.6 295.7h1v1h-1zM187.2 294.2h1v1h-1zM185.5 297.3h1v1h-1zM187.3 296.2h1v1h-1zM175.2 304.2h1v1h-1zM186.8 296.6h1v1h-1zM190.5 302.0h1v1h-1zM184.3 310.9h1v1h-1zM188.2 301.1h1v1h-1zM175.2 307.7h1v1h-1zM186.9 299.8h1v1h-1zM177.5 308.9h1v1h-1zM178.4 309.3h1v1h-1zM177.3 311.7h1v1h-1zM190.8 307.9h1v1h-1zM188.0 298.2h1v1h-1zM182.5 294.1h1v1h-1zM185.7 298.4h1v1h-1zM184.0 294.8h1v1h-1zM188.5 306.2h1v1h-1zM190.7 308.3h1v1h-1zM177.2 298.5h1v1h-1zM183.4 295.0h1v1h-1zM187.9 309.4h1v1h-1zM181.0 295.0h1v1h-1zM187.7 297.9h1v1h-1zM176.5 308.7h1v1h-1zM186.3 295.5h1v1h-1zM174.1 307.2h1v1h-1zM180.9 292.1h1v1h-1zM185.1 295.1h1v1h-1zM188.8 297.5h1v1h-1zM175.7 310.4h1v1h-1zM183.1 311.4h1v1h-1zM182.5 291.0h1v1h-1zM182.8 311.0h1v1h-1zM176.0 305.3h1v1h-1zM181.2 295.2h1v1h-1zM178.0 294.5h1v1h-1zM181.7 310.2h1v1h-1zM180.3 292.0h1v1h-1zM176.1 307.0h1v1h-1zM178.5 296.4h1v1h-1zM178.4 312.9h1v1h-1zM180.1 309.3h1v1h-1zM188.7 298.4h1v1h-1zM182.2 312.7h1v1h-1zM183.6 295.2h1v1h-1zM175.6 308.6h1v1h-1zM187.9 294.7h1v1h-1zM190.1 307.8h1v1h-1zM180.6 309.6h1v1h-1zM186.6 293.6h1v1h-1zM186.6 295.3h1v1h-1zM181.9 290.4h1v1h-1zM190.2 305.4h1v1h-1zM189.9 300.5h1v1h-1zM189.7 299.3h1v1h-1zM175.3 305.5h1v1h-1zM190.4 303.4h1v1h-1zM190.4 302.1h1v1h-1zM189.4 306.3h1v1h-1zM189.8 306.7h1v1h-1zM184.2 293.8h1v1h-1zM188.6 313.2h1v1h-1zM160.8 282.3h1v1h-1zM174.5 288.4h1v1h-1zM172.4 269.5h1v1h-1zM188.2 313.3h1v1h-1zM176.8 311.3h1v1h-1zM181.5 312.5h1v1h-1zM167.4 267.9h1v1h-1zM180.8 271.9h1v1h-1z" fill="rgb(122, 137, 187)" opacity="0.43"/>
<path d="M191.4 277.8h1v1h-1zM184.9 273.9h1v1h-1zM165.1 270.8h1v1h-1zM161.2 277.5h1v1h-1zM158.4 277.3h1v1h-1zM170.4 286.3h1v1h-1zM163.2 279.7h1v1h-1zM182.2 287.5h1v1h-1zM165.0 281.9h1v1h-1zM168.1 283.1h1v1h-1zM165.8 269.0h1v1h-1zM168.4 284.2h1v1h-1zM192.8 280.9h1v1h-1zM159.5 276.3h1v1h-1zM163.4 271.9h1v1h-1zM164.3 283.6h1v1h-1zM192.1 279.1h1v1h-1zM182.4 273.3h1v1h-1zM174.6 286.0h1v1h-1zM168.3 270.8h1v1h-1zM160.6 277.1h1v1h-1zM162.7 271.7h1v1h-1zM188.0 276.0h1v1h-1zM162.3 277.9h1v1h-1zM158.9 276.9h1v1h-1zM185.2 287.8h1v1h-1zM173.6 285.3h1v1h-1zM163.1 271.2h1v1h-1zM193.2 279.4h1v1h-1zM162.5 278.8h1v1h-1zM169.7 271.5h1v1h-1zM185.1 274.2h1v1h-1zM159.5 276.7h1v1h-1zM162.9 279.8h1v1h-1zM162.8 272.0h1v1h-1zM171.4 285.3h1v1h-1zM162.0 274.9h1v1h-1zM166.3 271.3h1v1h-1zM158.5 276.3h1v1h-1zM164.3 282.5h1v1h-1zM159.3 275.2h1v1h-1zM171.7 284.9h1v1h-1zM164.1 283.2h1v1h-1zM173.6 271.1h1v1h-1zM173.8 272.7h1v1h-1zM178.1 272.9h1v1h-1zM162.0 271.4h1v1h-1zM168.1 270.4h1v1h-1zM178.7 272.6h1v1h-1zM191.3 278.8h1v1h-1zM165.6 270.0h1v1h-1zM161.3 275.7h1v1h-1zM188.8 276.4h1v1h-1zM169.7 270.8h1v1h-1zM166.5 269.8h1v1h-1zM191.1 284.6h1v1h-1zM161.2 279.1h1v1h-1zM159.6 276.0h1v1h-1zM188.7 288.0h1v1h-1zM165.8 283.0h1v1h-1zM190.3 278.0h1v1h-1zM171.6 285.1h1v1h-1zM169.7 271.7h1v1h-1zM165.1 281.4h1v1h-1zM183.0 274.4h1v1h-1zM175.5 272.0h1v1h-1zM170.0 284.3h1v1h-1zM165.3 269.8h1v1h-1zM176.0 271.5h1v1h-1zM163.3 271.4h1v1h-1zM159.7 276.9h1v1h-1zM166.7 271.4h1v1h-1zM170.8 284.7h1v1h-1zM173.9 286.2h1v1h-1zM171.8 271.3h1v1h-1zM158.4 276.9h1v1h-1zM184.8 274.4h1v1h-1zM163.8 282.5h1v1h-1zM169.8 270.7h1v1h-1zM186.2 274.4h1v1h-1zM164.9 269.7h1v1h-1zM164.0 270.4h1v1h-1zM177.8 272.3h1v1h-1zM187.5 275.5h1v1h-1zM161.1 279.4h1v1h-1zM170.3 284.1h1v1h-1zM159.3 274.5h1v1h-1zM169.8 284.3h1v1h-1zM162.4 279.1h1v1h-1zM177.5 271.1h1v1h-1zM166.9 270.3h1v1h-1zM164.4 281.9h1v1h-1zM160.2 278.1h1v1h-1zM165.3 283.3h1v1h-1zM190.6 277.1h1v1h-1zM174.2 271.4h1v1h-1zM184.9 287.6h1v1h-1zM161.6 276.2h1v1h-1zM168.3 284.3h1v1h-1zM162.4 273.0h1v1h-1zM164.5 283.3h1v1h-1zM173.9 270.9h1v1h-1zM166.0 270.1h1v1h-1zM169.5 270.9h1v1h-1zM187.5 288.3h1v1h-1zM163.0 269.9h1v1h-1zM158.5 276.4h1v1h-1zM159.9 278.6h1v1h-1zM182.1 274.3h1v1h-1zM184.8 275.1h1v1h-1zM162.4 279.0h1v1h-1zM162.1 280.1h1v1h-1zM192.1 284.4h1v1h-1zM162.5 274.1h1v1h-1zM169.6 285.0h1v1h-1zM175.7 271.4h1v1h-1zM162.2 270.4h1v1h-1zM164.7 281.5h1v1h-1zM166.6 270.2h1v1h-1zM166.6 282.9h1v1h-1zM171.9 272.1h1v1h-1zM188.2 287.7h1v1h-1zM178.5 287.3h1v1h-1zM163.3 270.3h1v1h-1zM186.8 275.4h1v1h-1zM187.5 274.9h1v1h-1zM160.8 277.4h1v1h-1zM171.8 285.1h1v1h-1zM175.4 287.8h1v1h-1zM160.2 277.6h1v1h-1zM161.0 272.5h1v1h-1zM158.5 274.6h1v1h-1zM169.0 283.6h1v1h-1zM165.6 268.8h1v1h-1zM175.9 286.8h1v1h-1zM173.2 272.4h1v1h-1zM163.4 271.0h1v1h-1zM179.6 272.7h1v1h-1zM181.7 287.6h1v1h-1zM171.7 285.6h1v1h-1zM171.8 284.9h1v1h-1zM191.9 283.2h1v1h-1zM170.0 285.8h1v1h-1zM168.8 283.3h1v1h-1zM161.4 276.2h1v1h-1zM178.1 271.3h1v1h-1zM167.2 269.2h1v1h-1zM163.7 271.3h1v1h-1zM178.9 272.4h1v1h-1zM168.6 269.8h1v1h-1zM165.6 269.5h1v1h-1zM169.6 285.9h1v1h-1zM165.3 269.0h1v1h-1zM168.2 271.0h1v1h-1zM186.1 287.4h1v1h-1zM167.1 282.8h1v1h-1zM192.7 280.9h1v1h-1zM191.5 278.3h1v1h-1zM176.1 271.2h1v1h-1zM163.7 279.4h1v1h-1zM162.4 273.0h1v1h-1zM163.3 271.0h1v1h-1zM172.8 272.2h1v1h-1zM192.3 281.4h1v1h-1zM165.4 283.2h1v1h-1zM158.0 277.9h1v1h-1zM158.1 278.6h1v1h-1zM158.9 278.5h1v1h-1zM160.4 273.7h1v1h-1zM161.4 279.6h1v1h-1zM184.3 288.2h1v1h-1zM182.4 274.4h1v1h-1zM176.6 271.8h1v1h-1zM169.2 284.9h1v1h-1zM159.6 275.3h1v1h-1zM164.0 283.4h1v1h-1zM162.0 274.0h1v1h-1zM164.9 281.0h1v1h-1zM176.6 271.8h1v1h-1zM161.4 278.4h1v1h-1zM190.8 277.2h1v1h-1zM192.4 280.7h1v1h-1zM185.6 287.7h1v1h-1zM188.9 276.7h1v1h-1zM187.3 287.8h1v1h-1zM186.6 287.6h1v1h-1zM175.5 287.6h1v1h-1zM170.5 284.6h1v1h-1zM192.1 279.3h1v1h-1zM179.5 287.7h1v1h-1zM186.5 275.5h1v1h-1zM175.5 287.5h1v1h-1zM189.5 276.6h1v1h-1zM192.8 282.6h1v1h-1zM190.8 278.6h1v1h-1zM192.3 281.3h1v1h-1zM179.6 287.9h1v1h-1zM190.3 277.9h1v1h-1zM191.4 283.8h1v1h-1zM193.8 280.6h1v1h-1zM193.0 280.3h1v1h-1zM190.7 286.5h1v1h-1zM187.4 288.3h1v1h-1zM193.2 282.2h1v1h-1zM178.0 300.8h1v1h-1zM176.7 304.9h1v1h-1zM178.6 307.3h1v1h-1zM187.0 309.1h1v1h-1zM187.6 308.2h1v1h-1zM184.1 309.1h1v1h-1zM178.0 300.8h1v1h-1zM179.7 299.3h1v1h-1zM185.2 299.8h1v1h-1zM185.5 297.6h1v1h-1zM183.9 308.6h1v1h-1zM179.8 308.9h1v1h-1zM186.3 308.1h1v1h-1zM186.7 307.9h1v1h-1zM177.4 303.1h1v1h-1zM177.3 302.5h1v1h-1zM179.7 306.2h1v1h-1zM178.4 306.2h1v1h-1zM186.6 309.7h1v1h-1zM180.5 306.7h1v1h-1zM177.6 300.3h1v1h-1zM183.1 310.7h1v1h-1zM183.3 296.9h1v1h-1zM180.5 306.3h1v1h-1zM184.5 298.2h1v1h-1zM183.4 296.1h1v1h-1zM184.1 310.5h1v1h-1zM187.3 306.0h1v1h-1zM186.9 305.0h1v1h-1zM176.2 301.2h1v1h-1zM176.2 301.4h1v1h-1zM180.4 308.2h1v1h-1zM184.8 297.1h1v1h-1zM181.3 297.2h1v1h-1zM182.6 297.4h1v1h-1zM176.5 303.0h1v1h-1zM178.7 305.1h1v1h-1zM178.0 305.9h1v1h-1zM183.1 298.0h1v1h-1zM187.2 309.2h1v1h-1zM179.6 308.7h1v1h-1zM184.6 308.1h1v1h-1zM177.8 300.4h1v1h-1zM176.5 305.7h1v1h-1zM179.0 298.6h1v1h-1zM178.8 308.5h1v1h-1zM177.4 300.8h1v1h-1zM185.4 299.9h1v1h-1zM178.3 297.7h1v1h-1zM184.4 308.6h1v1h-1zM178.7 305.0h1v1h-1zM178.3 304.7h1v1h-1zM187.7 303.4h1v1h-1zM183.9 310.0h1v1h-1zM181.6 296.2h1v1h-1zM180.6 298.0h1v1h-1zM188.2 303.5h1v1h-1zM176.9 299.4h1v1h-1zM179.5 298.8h1v1h-1zM180.0 308.3h1v1h-1zM180.3 298.3h1v1h-1zM178.2 299.9h1v1h-1zM185.0 297.1h1v1h-1zM184.3 308.4h1v1h-1zM178.1 300.0h1v1h-1zM177.8 307.8h1v1h-1zM176.2 302.4h1v1h-1zM177.3 299.5h1v1h-1zM181.8 298.7h1v1h-1zM176.4 301.8h1v1h-1zM186.8 300.0h1v1h-1zM186.5 307.8h1v1h-1zM182.6 297.0h1v1h-1zM184.1 297.4h1v1h-1zM186.4 305.5h1v1h-1zM177.2 301.3h1v1h-1zM178.2 298.3h1v1h-1zM188.3 301.8h1v1h-1zM183.0 298.5h1v1h-1zM180.3 298.5h1v1h-1zM182.8 295.8h1v1h-1zM187.3 305.0h1v1h-1zM177.9 301.5h1v1h-1zM181.1 296.6h1v1h-1zM188.2 304.5h1v1h-1zM179.9 306.2h1v1h-1zM186.9 306.0h1v1h-1zM182.0 296.3h1v1h-1zM178.9 306.0h1v1h-1zM178.2 304.8h1v1h-1zM177.9 298.1h1v1h-1zM187.4 308.9h1v1h-1zM179.0 307.6h1v1h-1zM181.9 307.1h1v1h-1zM185.4 297.3h1v1h-1zM185.3 309.6h1v1h-1zM186.7 301.5h1v1h-1zM188.5 303.7h1v1h-1zM183.0 309.7h1v1h-1zM183.1 310.0h1v1h-1zM185.3 309.0h1v1h-1zM182.5 309.9h1v1h-1zM180.5 308.0h1v1h-1zM181.3 306.8h1v1h-1zM180.6 296.2h1v1h-1zM187.0 308.9h1v1h-1zM184.3 308.8h1v1h-1zM180.1 297.3h1v1h-1zM180.4 299.4h1v1h-1zM187.9 303.5h1v1h-1zM184.8 297.9h1v1h-1zM180.5 297.0h1v1h-1zM177.6 307.1h1v1h-1zM179.6 297.2h1v1h-1zM186.9 306.0h1v1h-1zM184.9 287.8h1v1h-1zM179.6 306.7h1v1h-1zM177.4 300.2h1v1h-1zM179.8 307.4h1v1h-1zM176.5 304.2h1v1h-1zM185.4 307.8h1v1h-1zM187.4 301.3h1v1h-1zM178.2 299.3h1v1h-1zM179.8 306.3h1v1h-1zM183.3 295.7h1v1h-1zM184.7 307.6h1v1h-1zM183.3 307.2h1v1h-1zM178.4 306.6h1v1h-1zM178.0 298.9h1v1h-1zM158.0 278.1h1v1h-1zM176.2 305.0h1v1h-1zM186.9 302.5h1v1h-1zM187.7 306.4h1v1h-1zM181.8 298.7h1v1h-1z" fill="rgb(104, 122, 175)" opacity="0.52"/>
<path d="M189.0 286.6h1v1h-1zM168.7 282.1h1v1h-1zM166.9 276.4h1v1h-1zM165.8 280.5h1v1h-1zM167.7 277.7h1v1h-1zM166.6 273.5h1v1h-1zM163.2 275.3h1v1h-1zM169.5 272.4h1v1h-1zM173.8 273.2h1v1h-1zM168.2 273.6h1v1h-1zM163.8 272.9h1v1h-1zM169.3 283.0h1v1h-1zM174.2 273.3h1v1h-1zM164.9 272.3h1v1h-1zM179.0 286.7h1v1h-1zM169.2 273.6h1v1h-1zM169.5 273.0h1v1h-1zM184.6 275.2h1v1h-1zM191.0 280.2h1v1h-1zM180.4 274.3h1v1h-1zM163.7 278.0h1v1h-1zM174.5 284.7h1v1h-1zM169.2 281.3h1v1h-1zM164.9 273.0h1v1h-1zM163.3 276.9h1v1h-1zM164.3 275.8h1v1h-1zM180.1 287.2h1v1h-1zM168.2 281.7h1v1h-1zM165.6 273.3h1v1h-1zM169.7 282.7h1v1h-1zM162.6 277.0h1v1h-1zM167.2 273.4h1v1h-1zM165.8 276.9h1v1h-1zM183.0 275.5h1v1h-1zM167.5 278.0h1v1h-1zM164.1 277.0h1v1h-1zM164.8 272.6h1v1h-1zM177.2 272.8h1v1h-1zM171.3 283.7h1v1h-1zM181.2 274.3h1v1h-1zM176.4 272.8h1v1h-1zM189.0 286.0h1v1h-1zM176.6 272.5h1v1h-1zM170.3 272.5h1v1h-1zM164.5 278.5h1v1h-1zM162.8 273.7h1v1h-1zM169.4 273.2h1v1h-1zM166.4 276.7h1v1h-1zM177.7 273.2h1v1h-1zM175.3 273.3h1v1h-1zM172.8 274.3h1v1h-1zM172.4 282.9h1v1h-1zM172.1 283.9h1v1h-1zM165.5 279.5h1v1h-1zM170.0 281.7h1v1h-1zM163.2 274.7h1v1h-1zM168.9 274.4h1v1h-1zM181.4 274.8h1v1h-1zM165.5 273.5h1v1h-1zM165.8 272.9h1v1h-1zM175.9 272.4h1v1h-1zM165.5 279.5h1v1h-1zM166.4 277.1h1v1h-1zM165.4 279.5h1v1h-1zM166.0 273.2h1v1h-1zM167.5 281.0h1v1h-1zM167.0 280.5h1v1h-1zM168.0 279.3h1v1h-1zM170.7 273.7h1v1h-1zM168.8 272.8h1v1h-1zM166.5 276.8h1v1h-1zM172.7 282.7h1v1h-1zM167.8 273.7h1v1h-1zM164.6 278.0h1v1h-1zM189.8 278.6h1v1h-1zM186.9 276.2h1v1h-1zM168.3 281.5h1v1h-1zM177.9 274.6h1v1h-1zM164.1 272.2h1v1h-1zM172.5 284.6h1v1h-1zM179.1 286.5h1v1h-1zM166.3 281.0h1v1h-1zM173.7 274.0h1v1h-1zM166.9 280.8h1v1h-1zM162.6 275.0h1v1h-1zM168.0 272.2h1v1h-1zM167.3 275.5h1v1h-1zM174.6 284.1h1v1h-1zM165.7 271.7h1v1h-1zM183.5 275.1h1v1h-1zM164.9 278.5h1v1h-1zM169.3 282.3h1v1h-1zM164.7 278.4h1v1h-1zM179.5 274.8h1v1h-1zM176.6 272.2h1v1h-1zM165.9 280.8h1v1h-1zM180.8 274.2h1v1h-1zM166.1 281.0h1v1h-1zM180.8 274.5h1v1h-1zM168.3 274.3h1v1h-1zM176.7 286.5h1v1h-1zM166.2 280.6h1v1h-1zM169.0 273.9h1v1h-1zM167.3 281.5h1v1h-1zM181.4 275.2h1v1h-1zM171.6 283.5h1v1h-1zM179.8 274.1h1v1h-1zM175.8 274.2h1v1h-1zM187.9 277.3h1v1h-1zM173.5 283.5h1v1h-1zM173.6 284.5h1v1h-1zM167.3 273.2h1v1h-1zM179.9 274.6h1v1h-1zM188.1 276.8h1v1h-1zM176.4 285.8h1v1h-1zM163.4 276.8h1v1h-1zM170.8 283.0h1v1h-1zM167.8 280.3h1v1h-1zM163.1 276.3h1v1h-1zM163.4 273.6h1v1h-1zM167.6 272.7h1v1h-1zM184.4 275.8h1v1h-1zM180.4 275.0h1v1h-1zM169.8 273.8h1v1h-1zM187.4 286.4h1v1h-1zM163.8 274.4h1v1h-1zM162.6 275.4h1v1h-1zM168.2 280.9h1v1h-1zM170.9 273.2h1v1h-1zM167.4 275.8h1v1h-1zM163.9 273.5h1v1h-1zM176.9 272.1h1v1h-1zM175.4 286.1h1v1h-1zM162.7 277.5h1v1h-1zM166.6 272.7h1v1h-1zM177.4 274.3h1v1h-1zM167.7 280.5h1v1h-1zM175.9 272.9h1v1h-1zM167.2 279.8h1v1h-1zM172.4 283.9h1v1h-1zM165.9 279.7h1v1h-1zM173.9 283.6h1v1h-1zM177.7 273.6h1v1h-1zM167.3 278.6h1v1h-1zM164.8 279.1h1v1h-1zM169.7 273.1h1v1h-1zM171.0 272.9h1v1h-1zM171.7 284.6h1v1h-1zM166.1 279.7h1v1h-1zM179.4 274.8h1v1h-1zM164.6 272.5h1v1h-1zM163.6 277.6h1v1h-1zM175.8 285.2h1v1h-1zM168.9 280.6h1v1h-1zM163.1 274.6h1v1h-1zM175.9 272.3h1v1h-1zM179.2 274.6h1v1h-1zM167.5 277.4h1v1h-1zM167.8 274.3h1v1h-1zM182.1 274.8h1v1h-1zM175.6 272.1h1v1h-1zM165.8 273.4h1v1h-1zM182.0 274.6h1v1h-1zM165.5 277.1h1v1h-1zM168.0 276.7h1v1h-1zM167.7 276.7h1v1h-1zM165.5 276.2h1v1h-1zM163.8 278.2h1v1h-1zM167.3 278.2h1v1h-1zM163.7 278.2h1v1h-1zM167.5 273.4h1v1h-1zM164.3 276.6h1v1h-1zM166.8 281.4h1v1h-1zM165.9 281.4h1v1h-1zM177.4 273.9h1v1h-1zM173.3 284.1h1v1h-1zM176.9 273.4h1v1h-1zM170.5 273.7h1v1h-1zM177.1 274.5h1v1h-1zM170.5 273.9h1v1h-1zM166.2 277.9h1v1h-1zM168.2 273.5h1v1h-1zM170.2 273.7h1v1h-1zM169.0 274.7h1v1h-1zM169.9 274.0h1v1h-1zM172.5 273.4h1v1h-1zM191.9 279.9h1v1h-1zM168.4 279.8h1v1h-1zM164.3 275.6h1v1h-1zM175.2 274.2h1v1h-1zM190.6 279.6h1v1h-1zM165.6 279.4h1v1h-1zM169.1 280.9h1v1h-1zM163.1 276.6h1v1h-1zM166.3 277.6h1v1h-1zM168.4 272.4h1v1h-1zM178.2 274.4h1v1h-1zM189.7 278.0h1v1h-1zM164.7 276.5h1v1h-1zM167.2 273.0h1v1h-1zM166.4 281.2h1v1h-1zM164.0 275.3h1v1h-1zM174.4 284.6h1v1h-1zM162.7 276.9h1v1h-1zM164.2 274.0h1v1h-1zM185.7 276.1h1v1h-1zM167.0 276.7h1v1h-1zM176.9 273.1h1v1h-1zM164.5 274.0h1v1h-1zM167.4 273.9h1v1h-1zM182.0 274.8h1v1h-1zM175.4 273.3h1v1h-1zM166.7 279.0h1v1h-1zM168.6 272.8h1v1h-1zM178.6 274.8h1v1h-1zM167.1 272.9h1v1h-1zM181.4 274.8h1v1h-1zM171.6 273.8h1v1h-1zM175.2 273.5h1v1h-1zM164.4 274.1h1v1h-1zM163.6 278.2h1v1h-1zM166.0 276.5h1v1h-1zM175.6 285.5h1v1h-1zM165.7 279.9h1v1h-1zM173.8 283.5h1v1h-1zM176.0 272.9h1v1h-1zM174.9 285.0h1v1h-1zM165.0 273.2h1v1h-1zM167.3 280.4h1v1h-1zM164.6 278.5h1v1h-1zM174.5 285.1h1v1h-1zM172.6 273.5h1v1h-1zM175.9 274.2h1v1h-1zM166.6 281.0h1v1h-1zM167.5 275.7h1v1h-1zM188.4 286.5h1v1h-1zM171.5 283.1h1v1h-1zM189.4 285.5h1v1h-1zM181.0 274.5h1v1h-1zM191.8 281.9h1v1h-1zM182.9 286.9h1v1h-1zM188.8 285.8h1v1h-1zM184.5 286.8h1v1h-1zM190.0 284.8h1v1h-1zM191.2 281.4h1v1h-1zM188.2 286.9h1v1h-1zM191.6 282.1h1v1h-1zM190.5 284.2h1v1h-1zM186.0 276.2h1v1h-1zM189.7 285.5h1v1h-1zM186.4 286.9h1v1h-1zM187.6 277.2h1v1h-1zM190.3 284.5h1v1h-1zM187.7 277.0h1v1h-1zM189.7 286.0h1v1h-1zM190.2 284.5h1v1h-1zM177.8 286.0h1v1h-1zM187.2 286.9h1v1h-1zM190.0 285.2h1v1h-1zM191.0 280.7h1v1h-1zM189.9 285.7h1v1h-1zM176.2 286.0h1v1h-1zM181.2 286.8h1v1h-1zM183.5 287.1h1v1h-1zM188.2 286.8h1v1h-1zM191.7 282.6h1v1h-1zM173.3 284.0h1v1h-1zM185.1 275.8h1v1h-1zM179.7 287.3h1v1h-1zM176.2 285.9h1v1h-1zM191.8 281.0h1v1h-1zM191.9 280.2h1v1h-1zM178.3 286.9h1v1h-1zM187.9 277.3h1v1h-1zM181.3 287.2h1v1h-1zM191.3 280.1h1v1h-1zM181.1 303.0h1v1h-1zM178.2 303.1h1v1h-1zM180.2 302.4h1v1h-1zM182.3 299.8h1v1h-1zM183.8 306.1h1v1h-1zM184.1 305.9h1v1h-1zM185.0 303.7h1v1h-1zM179.5 302.1h1v1h-1zM185.3 302.4h1v1h-1zM185.5 304.8h1v1h-1zM186.8 304.2h1v1h-1zM178.7 303.3h1v1h-1zM183.3 301.3h1v1h-1zM182.7 304.7h1v1h-1zM180.3 301.1h1v1h-1zM186.7 304.7h1v1h-1zM182.0 299.2h1v1h-1zM182.6 299.3h1v1h-1zM181.2 299.8h1v1h-1zM185.8 302.0h1v1h-1zM183.0 303.7h1v1h-1zM184.7 303.6h1v1h-1zM179.5 300.1h1v1h-1zM180.9 303.9h1v1h-1zM178.5 302.1h1v1h-1zM183.8 306.0h1v1h-1zM181.1 301.4h1v1h-1zM181.8 303.3h1v1h-1zM184.0 306.5h1v1h-1zM186.2 301.8h1v1h-1zM184.7 306.7h1v1h-1zM184.9 304.7h1v1h-1zM186.7 303.4h1v1h-1zM181.7 300.1h1v1h-1zM180.8 304.6h1v1h-1zM180.3 303.4h1v1h-1zM180.1 301.3h1v1h-1zM183.7 303.9h1v1h-1zM180.4 304.5h1v1h-1zM181.3 302.0h1v1h-1zM179.6 303.6h1v1h-1zM185.7 302.8h1v1h-1zM185.5 306.8h1v1h-1zM184.3 306.0h1v1h-1zM181.3 300.9h1v1h-1zM183.0 305.3h1v1h-1zM181.8 300.6h1v1h-1zM184.6 300.7h1v1h-1zM179.8 304.0h1v1h-1zM184.7 307.1h1v1h-1zM180.9 303.1h1v1h-1zM181.7 303.6h1v1h-1zM186.7 303.5h1v1h-1zM183.9 301.9h1v1h-1zM181.5 303.3h1v1h-1zM183.1 306.4h1v1h-1zM181.0 303.1h1v1h-1zM180.6 302.5h1v1h-1zM179.8 303.6h1v1h-1zM186.7 304.2h1v1h-1zM180.3 302.2h1v1h-1zM183.4 299.3h1v1h-1zM184.1 301.4h1v1h-1zM184.9 307.0h1v1h-1zM183.0 305.8h1v1h-1zM181.4 303.2h1v1h-1zM182.4 304.4h1v1h-1zM185.3 303.6h1v1h-1zM183.4 301.3h1v1h-1zM178.1 301.9h1v1h-1zM179.0 303.2h1v1h-1zM185.1 301.9h1v1h-1zM182.7 306.3h1v1h-1zM180.5 304.2h1v1h-1zM186.3 301.8h1v1h-1zM181.4 305.0h1v1h-1zM185.3 301.5h1v1h-1zM178.8 303.7h1v1h-1zM182.7 300.7h1v1h-1zM182.7 299.1h1v1h-1zM183.5 299.7h1v1h-1zM183.0 304.9h1v1h-1zM186.6 303.0h1v1h-1zM179.4 300.8h1v1h-1zM182.1 305.8h1v1h-1zM179.3 301.1h1v1h-1zM181.0 305.6h1v1h-1zM182.6 306.3h1v1h-1zM185.2 303.6h1v1h-1zM178.8 304.3h1v1h-1zM178.2 303.3h1v1h-1zM182.8 299.8h1v1h-1zM182.6 300.5h1v1h-1zM184.7 304.9h1v1h-1zM178.2 302.7h1v1h-1zM185.6 303.3h1v1h-1zM185.1 305.4h1v1h-1zM182.0 300.0h1v1h-1zM181.8 300.6h1v1h-1zM186.1 302.3h1v1h-1zM180.3 301.5h1v1h-1zM185.5 303.0h1v1h-1zM185.0 302.0h1v1h-1zM184.0 306.3h1v1h-1zM180.0 301.9h1v1h-1zM182.4 300.5h1v1h-1zM184.7 303.6h1v1h-1zM183.1 299.9h1v1h-1zM185.9 303.1h1v1h-1zM183.5 299.3h1v1h-1zM179.3 303.9h1v1h-1zM185.5 306.2h1v1h-1zM178.8 302.6h1v1h-1zM183.9 299.9h1v1h-1zM184.7 305.8h1v1h-1zM185.3 302.1h1v1h-1zM185.4 307.1h1v1h-1zM182.5 305.4h1v1h-1zM184.5 305.2h1v1h-1zM180.6 304.9h1v1h-1zM185.1 306.2h1v1h-1zM182.3 287.2h1v1h-1zM168.1 275.8h1v1h-1z" fill="rgb(90, 120, 165)" opacity="0.61"/>
<path d="M178.8 276.1h1v1h-1zM178.6 276.6h1v1h-1zM175.1 276.1h1v1h-1zM179.2 286.1h1v1h-1zM170.4 275.7h1v1h-1zM172.0 281.2h1v1h-1zM177.1 275.4h1v1h-1zM173.8 282.1h1v1h-1zM164.8 275.6h1v1h-1zM174.9 283.8h1v1h-1zM173.1 280.3h1v1h-1zM175.4 275.4h1v1h-1zM170.9 277.9h1v1h-1zM171.5 281.8h1v1h-1zM187.0 277.0h1v1h-1zM170.9 278.1h1v1h-1zM168.1 278.9h1v1h-1zM164.9 274.2h1v1h-1zM170.6 281.0h1v1h-1zM174.4 275.6h1v1h-1zM172.7 275.2h1v1h-1zM165.2 274.5h1v1h-1zM169.2 276.4h1v1h-1zM173.3 275.6h1v1h-1zM170.4 280.7h1v1h-1zM170.1 278.8h1v1h-1zM172.2 280.7h1v1h-1zM171.2 275.7h1v1h-1zM170.3 277.5h1v1h-1zM182.9 276.5h1v1h-1zM173.1 276.1h1v1h-1zM170.4 279.4h1v1h-1zM166.3 274.4h1v1h-1zM178.4 275.3h1v1h-1zM169.2 278.2h1v1h-1zM173.1 281.3h1v1h-1zM172.1 275.3h1v1h-1zM172.5 282.5h1v1h-1zM165.8 275.9h1v1h-1zM166.4 274.9h1v1h-1zM165.0 274.1h1v1h-1zM171.2 274.5h1v1h-1zM179.8 276.7h1v1h-1zM164.5 275.3h1v1h-1zM168.6 277.4h1v1h-1zM189.5 284.4h1v1h-1zM169.2 278.5h1v1h-1zM170.5 274.6h1v1h-1zM175.2 283.7h1v1h-1zM186.8 277.2h1v1h-1zM189.3 284.4h1v1h-1zM177.5 276.6h1v1h-1zM165.3 275.7h1v1h-1zM165.9 274.1h1v1h-1zM164.4 274.8h1v1h-1zM170.5 277.0h1v1h-1zM166.6 274.9h1v1h-1zM177.6 275.7h1v1h-1zM169.0 276.2h1v1h-1zM170.5 277.9h1v1h-1zM169.5 277.3h1v1h-1zM171.2 280.2h1v1h-1zM171.6 274.7h1v1h-1zM178.3 275.8h1v1h-1zM176.6 284.3h1v1h-1zM171.0 279.6h1v1h-1zM171.2 279.8h1v1h-1zM171.3 274.8h1v1h-1zM165.0 275.8h1v1h-1zM177.5 285.3h1v1h-1zM190.3 280.5h1v1h-1zM172.5 280.8h1v1h-1zM170.4 277.3h1v1h-1zM174.4 283.5h1v1h-1zM176.0 275.2h1v1h-1zM175.5 276.1h1v1h-1zM170.4 280.8h1v1h-1zM170.1 277.3h1v1h-1zM171.6 280.9h1v1h-1zM174.0 281.8h1v1h-1zM181.2 276.9h1v1h-1zM171.2 277.1h1v1h-1zM175.9 275.5h1v1h-1zM181.0 276.5h1v1h-1zM182.9 276.4h1v1h-1zM179.9 275.9h1v1h-1zM170.2 280.9h1v1h-1zM172.3 275.2h1v1h-1zM165.8 273.9h1v1h-1zM184.3 276.4h1v1h-1zM172.6 275.4h1v1h-1zM172.9 280.1h1v1h-1zM173.2 276.3h1v1h-1zM170.4 277.5h1v1h-1zM177.0 275.1h1v1h-1zM168.4 276.6h1v1h-1zM172.5 280.2h1v1h-1zM169.5 279.0h1v1h-1zM175.2 275.5h1v1h-1zM170.2 276.7h1v1h-1zM168.4 278.7h1v1h-1zM172.9 275.1h1v1h-1zM175.9 275.2h1v1h-1zM169.0 279.2h1v1h-1zM169.8 276.1h1v1h-1zM168.7 277.5h1v1h-1zM168.7 278.0h1v1h-1zM172.8 281.2h1v1h-1zM173.3 275.8h1v1h-1zM172.2 274.6h1v1h-1zM171.1 279.7h1v1h-1zM171.6 281.4h1v1h-1zM180.7 276.1h1v1h-1zM170.9 280.1h1v1h-1zM184.0 276.9h1v1h-1zM167.9 277.9h1v1h-1zM187.2 278.0h1v1h-1zM170.3 274.7h1v1h-1zM172.1 281.9h1v1h-1zM170.1 274.6h1v1h-1zM170.9 275.5h1v1h-1zM169.0 279.9h1v1h-1zM170.0 274.8h1v1h-1zM185.8 276.9h1v1h-1zM178.7 276.6h1v1h-1zM175.1 275.1h1v1h-1zM188.6 278.3h1v1h-1zM170.0 280.7h1v1h-1zM165.4 275.7h1v1h-1zM177.7 285.2h1v1h-1zM171.2 281.6h1v1h-1zM166.6 274.0h1v1h-1zM170.6 281.3h1v1h-1zM175.6 284.6h1v1h-1zM174.0 275.1h1v1h-1zM169.6 277.3h1v1h-1zM178.0 275.5h1v1h-1zM183.2 286.1h1v1h-1zM172.8 274.9h1v1h-1zM171.0 277.3h1v1h-1zM176.8 276.6h1v1h-1zM171.5 274.5h1v1h-1zM171.1 281.2h1v1h-1zM173.4 275.8h1v1h-1zM170.1 277.6h1v1h-1zM173.2 275.2h1v1h-1zM178.8 275.6h1v1h-1zM164.7 275.3h1v1h-1zM173.9 275.6h1v1h-1zM177.9 285.9h1v1h-1zM168.9 280.0h1v1h-1zM184.7 276.9h1v1h-1zM173.6 275.3h1v1h-1zM170.9 281.0h1v1h-1zM169.5 278.3h1v1h-1zM171.2 276.8h1v1h-1zM187.1 277.1h1v1h-1zM169.4 276.9h1v1h-1zM172.3 275.4h1v1h-1zM180.9 276.9h1v1h-1zM172.6 275.2h1v1h-1zM172.1 280.7h1v1h-1zM171.8 276.7h1v1h-1zM173.3 280.7h1v1h-1zM170.3 274.3h1v1h-1zM171.2 279.5h1v1h-1zM186.4 286.2h1v1h-1zM175.2 275.6h1v1h-1zM173.5 281.7h1v1h-1zM172.7 280.5h1v1h-1zM171.4 281.5h1v1h-1zM170.9 279.3h1v1h-1zM171.3 281.6h1v1h-1zM171.4 275.3h1v1h-1zM170.4 278.6h1v1h-1zM170.9 275.2h1v1h-1zM173.1 280.9h1v1h-1zM173.8 282.9h1v1h-1zM168.7 277.8h1v1h-1zM170.7 275.4h1v1h-1zM181.7 276.5h1v1h-1zM173.0 281.2h1v1h-1zM165.1 274.2h1v1h-1zM173.9 274.6h1v1h-1zM171.0 278.9h1v1h-1zM187.7 278.5h1v1h-1zM189.7 283.3h1v1h-1zM190.7 280.3h1v1h-1zM190.5 281.7h1v1h-1zM186.3 277.1h1v1h-1zM179.9 286.3h1v1h-1zM189.3 284.8h1v1h-1zM185.3 286.2h1v1h-1zM173.2 282.5h1v1h-1zM177.4 285.1h1v1h-1zM174.0 282.9h1v1h-1zM184.6 276.5h1v1h-1zM190.5 281.5h1v1h-1zM182.6 276.5h1v1h-1zM188.1 278.4h1v1h-1zM174.0 282.2h1v1h-1zM190.2 280.6h1v1h-1zM190.1 280.0h1v1h-1zM189.9 279.9h1v1h-1zM179.4 285.9h1v1h-1zM190.5 282.5h1v1h-1zM190.3 281.7h1v1h-1zM187.0 277.4h1v1h-1zM175.5 283.7h1v1h-1zM188.4 285.7h1v1h-1zM181.3 286.1h1v1h-1zM189.3 285.3h1v1h-1zM189.9 283.0h1v1h-1zM186.6 286.1h1v1h-1zM180.1 286.2h1v1h-1zM189.2 285.2h1v1h-1zM188.1 278.2h1v1h-1zM186.7 277.7h1v1h-1zM187.6 278.2h1v1h-1zM190.1 282.3h1v1h-1zM177.6 285.7h1v1h-1zM188.7 279.4h1v1h-1zM178.3 286.0h1v1h-1zM170.4 281.1h1v1h-1zM190.1 281.6h1v1h-1zM190.6 281.5h1v1h-1zM190.8 280.7h1v1h-1zM175.8 284.7h1v1h-1zM178.9 286.1h1v1h-1zM180.5 276.6h1v1h-1zM182.4 276.8h1v1h-1zM176.0 284.6h1v1h-1zM184.5 302.6h1v1h-1zM182.9 301.5h1v1h-1zM183.4 301.7h1v1h-1zM183.9 302.1h1v1h-1zM182.6 302.6h1v1h-1zM181.5 302.5h1v1h-1zM184.2 302.1h1v1h-1zM182.1 302.0h1v1h-1zM182.0 302.9h1v1h-1zM183.9 303.7h1v1h-1zM182.4 302.9h1v1h-1zM183.6 303.6h1v1h-1zM183.4 301.9h1v1h-1zM184.6 303.5h1v1h-1zM181.5 302.2h1v1h-1zM183.7 303.7h1v1h-1zM184.1 303.5h1v1h-1zM183.1 302.1h1v1h-1zM182.5 301.5h1v1h-1zM183.8 302.1h1v1h-1zM182.9 302.2h1v1h-1zM181.5 302.1h1v1h-1zM184.7 302.9h1v1h-1zM165.1 275.4h1v1h-1z" fill="rgb(80, 130, 155)" opacity="0.71"/>
<path d="M176.2 277.6h1v1h-1zM186.2 278.4h1v1h-1zM173.4 277.0h1v1h-1zM174.3 280.1h1v1h-1zM174.0 279.2h1v1h-1zM172.1 277.8h1v1h-1zM180.1 285.5h1v1h-1zM179.1 277.1h1v1h-1zM175.9 276.4h1v1h-1zM174.1 279.0h1v1h-1zM183.4 285.8h1v1h-1zM180.1 285.7h1v1h-1zM173.0 278.2h1v1h-1zM174.9 277.8h1v1h-1zM174.0 279.2h1v1h-1zM178.8 284.7h1v1h-1zM189.4 281.5h1v1h-1zM185.4 278.2h1v1h-1zM182.1 277.7h1v1h-1zM175.8 282.7h1v1h-1zM177.9 277.4h1v1h-1zM171.8 277.9h1v1h-1zM174.5 278.8h1v1h-1zM172.2 277.1h1v1h-1zM188.6 284.4h1v1h-1zM175.7 282.4h1v1h-1zM174.5 277.6h1v1h-1zM178.2 277.0h1v1h-1zM185.5 277.8h1v1h-1zM188.8 280.9h1v1h-1zM176.1 283.5h1v1h-1zM176.5 276.5h1v1h-1zM172.8 279.5h1v1h-1zM174.4 279.4h1v1h-1zM173.3 277.2h1v1h-1zM178.4 277.0h1v1h-1zM174.2 277.2h1v1h-1zM173.8 279.2h1v1h-1zM175.5 280.6h1v1h-1zM174.7 280.5h1v1h-1zM186.7 278.8h1v1h-1zM174.1 278.3h1v1h-1zM175.2 279.5h1v1h-1zM178.0 284.6h1v1h-1zM174.4 276.2h1v1h-1zM176.2 283.0h1v1h-1zM172.0 279.3h1v1h-1zM177.7 277.2h1v1h-1zM174.2 279.0h1v1h-1zM172.2 277.9h1v1h-1zM174.3 279.3h1v1h-1zM184.1 277.4h1v1h-1zM171.1 278.3h1v1h-1zM176.0 278.5h1v1h-1zM179.6 277.9h1v1h-1zM175.4 277.6h1v1h-1zM176.0 278.0h1v1h-1zM177.2 277.3h1v1h-1zM174.1 278.1h1v1h-1zM175.7 277.3h1v1h-1zM172.2 279.7h1v1h-1zM176.4 278.2h1v1h-1zM174.4 278.6h1v1h-1zM172.2 279.1h1v1h-1zM172.8 277.7h1v1h-1zM178.9 277.6h1v1h-1zM171.7 277.7h1v1h-1zM175.8 277.7h1v1h-1zM175.5 276.3h1v1h-1zM182.3 277.5h1v1h-1zM174.8 278.3h1v1h-1zM178.3 276.8h1v1h-1zM183.4 277.4h1v1h-1zM179.3 277.6h1v1h-1zM175.1 277.4h1v1h-1zM180.4 277.7h1v1h-1zM174.3 278.3h1v1h-1zM171.8 277.2h1v1h-1zM180.3 277.1h1v1h-1zM175.8 282.8h1v1h-1zM183.2 277.1h1v1h-1zM174.2 276.2h1v1h-1zM176.3 278.0h1v1h-1zM174.4 277.3h1v1h-1zM175.3 278.8h1v1h-1zM174.5 278.2h1v1h-1zM171.6 279.0h1v1h-1zM174.5 277.2h1v1h-1zM189.1 280.3h1v1h-1zM173.7 278.4h1v1h-1zM182.7 277.7h1v1h-1zM175.4 281.3h1v1h-1zM175.7 280.9h1v1h-1zM179.3 285.6h1v1h-1zM174.8 276.7h1v1h-1zM184.5 277.8h1v1h-1zM189.8 281.6h1v1h-1zM176.3 283.6h1v1h-1zM174.7 277.4h1v1h-1zM178.1 277.9h1v1h-1zM178.1 278.1h1v1h-1zM179.0 277.1h1v1h-1zM172.3 279.0h1v1h-1zM175.9 282.7h1v1h-1zM183.6 277.0h1v1h-1zM173.4 277.6h1v1h-1zM184.2 277.4h1v1h-1zM171.5 279.3h1v1h-1zM171.0 278.5h1v1h-1zM175.0 278.6h1v1h-1zM175.3 276.7h1v1h-1zM171.4 277.8h1v1h-1zM175.4 276.7h1v1h-1zM189.3 280.9h1v1h-1zM178.5 276.8h1v1h-1zM185.7 277.8h1v1h-1zM173.4 278.7h1v1h-1zM175.9 282.5h1v1h-1zM171.6 277.7h1v1h-1zM181.8 285.8h1v1h-1zM178.4 277.0h1v1h-1zM174.2 277.0h1v1h-1zM176.9 283.6h1v1h-1zM173.8 279.0h1v1h-1zM175.7 278.2h1v1h-1zM172.3 277.1h1v1h-1zM175.5 277.5h1v1h-1zM186.5 278.6h1v1h-1zM176.5 283.6h1v1h-1zM180.3 277.2h1v1h-1zM189.1 280.1h1v1h-1zM189.3 282.6h1v1h-1zM180.6 285.9h1v1h-1zM185.6 277.6h1v1h-1zM175.5 282.0h1v1h-1zM182.2 285.5h1v1h-1zM180.8 285.7h1v1h-1zM186.8 285.5h1v1h-1zM187.7 278.8h1v1h-1zM183.0 277.7h1v1h-1zM188.8 280.0h1v1h-1zM176.1 281.6h1v1h-1zM187.8 285.3h1v1h-1zM188.9 282.9h1v1h-1zM176.4 277.3h1v1h-1zM189.5 282.3h1v1h-1zM189.1 284.0h1v1h-1zM179.6 285.1h1v1h-1zM179.0 276.9h1v1h-1zM178.2 285.2h1v1h-1zM186.9 285.1h1v1h-1zM187.6 279.1h1v1h-1zM189.0 281.0h1v1h-1zM188.7 280.6h1v1h-1zM179.0 285.0h1v1h-1zM189.7 282.1h1v1h-1zM184.0 285.6h1v1h-1zM176.1 283.6h1v1h-1zM186.4 277.8h1v1h-1zM183.1 277.5h1v1h-1zM176.8 278.3h1v1h-1zM186.0 277.9h1v1h-1zM188.6 283.8h1v1h-1zM189.4 283.7h1v1h-1zM186.2 285.7h1v1h-1zM180.3 277.4h1v1h-1zM175.0 279.4h1v1h-1zM175.7 280.1h1v1h-1zM181.1 277.1h1v1h-1zM175.6 282.2h1v1h-1zM175.2 281.7h1v1h-1zM188.4 284.2h1v1h-1zM176.2 282.6h1v1h-1zM182.6 285.6h1v1h-1zM176.3 282.6h1v1h-1zM189.0 283.8h1v1h-1zM175.7 280.1h1v1h-1zM188.7 280.6h1v1h-1zM175.6 277.4h1v1h-1zM184.1 277.5h1v1h-1zM186.2 278.5h1v1h-1zM178.2 277.4h1v1h-1zM188.2 284.7h1v1h-1zM180.9 277.7h1v1h-1zM188.5 280.3h1v1h-1zM188.0 279.2h1v1h-1zM188.7 280.1h1v1h-1zM176.7 283.4h1v1h-1zM189.1 284.1h1v1h-1zM175.2 276.5h1v1h-1z" fill="rgb(86, 144, 133)" opacity="0.79"/>
<path d="M176.6 279.1h1v1h-1zM177.1 282.4h1v1h-1zM176.0 279.0h1v1h-1zM184.1 285.2h1v1h-1zM179.6 278.2h1v1h-1zM179.3 278.5h1v1h-1zM180.9 278.1h1v1h-1zM178.1 278.2h1v1h-1zM187.8 280.1h1v1h-1zM177.3 279.7h1v1h-1zM177.5 279.6h1v1h-1zM180.6 278.6h1v1h-1zM176.8 278.7h1v1h-1zM182.7 278.5h1v1h-1zM175.9 279.3h1v1h-1zM176.1 279.0h1v1h-1zM179.5 278.4h1v1h-1zM176.0 280.2h1v1h-1zM178.0 283.3h1v1h-1zM184.9 278.6h1v1h-1zM184.4 285.4h1v1h-1zM176.7 280.8h1v1h-1zM179.8 284.9h1v1h-1zM183.8 278.5h1v1h-1zM187.6 284.3h1v1h-1zM187.6 284.0h1v1h-1zM177.7 278.5h1v1h-1zM185.8 279.3h1v1h-1zM176.5 279.1h1v1h-1zM181.0 278.6h1v1h-1zM177.2 279.5h1v1h-1zM176.3 279.8h1v1h-1zM188.8 281.7h1v1h-1zM177.0 279.7h1v1h-1zM183.9 278.6h1v1h-1zM184.0 278.4h1v1h-1zM177.4 283.3h1v1h-1zM178.8 279.1h1v1h-1zM177.3 282.3h1v1h-1zM177.8 279.2h1v1h-1zM183.2 277.8h1v1h-1zM182.5 285.1h1v1h-1zM176.8 282.8h1v1h-1zM175.9 280.0h1v1h-1zM175.9 280.3h1v1h-1zM187.4 279.9h1v1h-1zM177.3 282.3h1v1h-1zM178.9 278.4h1v1h-1zM180.3 284.8h1v1h-1zM183.3 277.9h1v1h-1zM186.6 279.7h1v1h-1zM177.5 279.9h1v1h-1zM179.5 278.3h1v1h-1zM178.6 278.9h1v1h-1zM184.1 277.9h1v1h-1zM188.4 281.4h1v1h-1zM179.0 284.7h1v1h-1zM185.1 278.7h1v1h-1zM179.3 284.9h1v1h-1zM176.3 279.6h1v1h-1zM183.2 278.3h1v1h-1zM176.6 281.0h1v1h-1zM181.0 284.8h1v1h-1zM188.5 280.8h1v1h-1zM183.5 285.4h1v1h-1zM188.2 282.0h1v1h-1zM183.8 285.0h1v1h-1zM177.3 279.7h1v1h-1zM185.4 279.2h1v1h-1zM186.1 285.1h1v1h-1zM188.1 283.3h1v1h-1zM185.1 279.0h1v1h-1zM188.4 281.3h1v1h-1zM187.6 284.2h1v1h-1zM176.3 282.1h1v1h-1zM179.3 278.9h1v1h-1zM186.6 279.6h1v1h-1zM187.1 280.1h1v1h-1zM188.0 281.2h1v1h-1zM178.7 284.3h1v1h-1zM184.4 285.3h1v1h-1zM180.7 285.3h1v1h-1zM177.2 280.7h1v1h-1zM187.8 280.1h1v1h-1zM181.9 284.9h1v1h-1zM188.0 281.6h1v1h-1zM181.5 285.2h1v1h-1zM188.6 281.5h1v1h-1zM186.9 284.9h1v1h-1zM183.1 285.3h1v1h-1zM186.4 284.8h1v1h-1zM178.3 284.0h1v1h-1zM186.4 279.5h1v1h-1zM183.3 278.6h1v1h-1zM185.7 284.8h1v1h-1zM184.4 285.3h1v1h-1zM188.5 282.4h1v1h-1zM177.1 282.4h1v1h-1zM179.0 284.8h1v1h-1zM176.6 280.8h1v1h-1zM178.4 283.7h1v1h-1zM176.8 282.5h1v1h-1zM179.0 278.2h1v1h-1zM177.4 283.2h1v1h-1zM179.2 284.6h1v1h-1zM177.3 282.0h1v1h-1zM188.2 283.3h1v1h-1zM185.4 278.7h1v1h-1zM181.4 284.8h1v1h-1zM185.3 279.0h1v1h-1zM177.2 281.1h1v1h-1zM183.3 278.5h1v1h-1zM177.6 283.6h1v1h-1zM182.7 277.9h1v1h-1zM188.7 283.4h1v1h-1zM178.4 283.5h1v1h-1zM177.3 281.7h1v1h-1zM180.0 285.0h1v1h-1zM188.5 281.2h1v1h-1zM176.1 280.0h1v1h-1zM181.6 278.2h1v1h-1zM180.5 278.2h1v1h-1zM178.2 278.6h1v1h-1zM181.9 285.2h1v1h-1zM176.8 279.1h1v1h-1zM186.4 279.2h1v1h-1zM185.2 278.6h1v1h-1zM188.3 281.5h1v1h-1zM181.2 285.0h1v1h-1zM185.2 279.0h1v1h-1zM187.1 284.4h1v1h-1zM177.2 282.9h1v1h-1zM183.6 278.4h1v1h-1zM186.8 279.4h1v1h-1zM187.8 284.0h1v1h-1zM178.7 284.2h1v1h-1zM177.4 279.8h1v1h-1zM176.9 280.7h1v1h-1zM187.6 280.7h1v1h-1zM184.1 285.1h1v1h-1zM182.6 278.2h1v1h-1zM186.6 279.3h1v1h-1zM177.0 279.6h1v1h-1zM179.0 279.1h1v1h-1zM180.0 285.1h1v1h-1zM180.5 284.9h1v1h-1zM176.8 283.1h1v1h-1zM176.2 281.6h1v1h-1zM188.4 282.8h1v1h-1zM178.6 283.8h1v1h-1zM182.8 285.3h1v1h-1zM187.9 283.5h1v1h-1zM187.6 280.2h1v1h-1zM184.2 278.2h1v1h-1zM182.5 278.5h1v1h-1zM178.6 278.5h1v1h-1zM177.3 279.9h1v1h-1zM183.5 278.2h1v1h-1z" fill="rgb(108, 164, 100)" opacity="0.89"/>
<path d="M184.9 279.8h1v1h-1zM187.5 281.4h1v1h-1zM182.2 284.3h1v1h-1zM177.3 281.2h1v1h-1zM179.5 283.3h1v1h-1zM177.7 281.5h1v1h-1zM187.3 282.9h1v1h-1zM182.4 284.6h1v1h-1zM183.0 279.0h1v1h-1zM177.7 282.2h1v1h-1zM180.0 279.0h1v1h-1zM178.4 282.0h1v1h-1zM186.7 283.7h1v1h-1zM183.5 279.1h1v1h-1zM180.4 279.3h1v1h-1zM178.6 282.7h1v1h-1zM184.6 279.1h1v1h-1zM186.7 283.6h1v1h-1zM178.6 279.6h1v1h-1zM181.6 278.9h1v1h-1zM177.5 281.1h1v1h-1zM177.4 281.5h1v1h-1zM184.8 284.6h1v1h-1zM186.2 279.8h1v1h-1zM182.7 284.5h1v1h-1zM179.4 283.4h1v1h-1zM178.3 281.1h1v1h-1zM182.9 284.5h1v1h-1zM187.2 281.4h1v1h-1zM177.4 281.0h1v1h-1zM177.9 281.5h1v1h-1zM181.8 279.0h1v1h-1zM180.9 279.5h1v1h-1zM187.4 283.1h1v1h-1zM180.8 279.3h1v1h-1zM180.9 279.1h1v1h-1zM178.3 279.9h1v1h-1zM179.8 283.9h1v1h-1zM186.5 281.1h1v1h-1zM186.4 284.1h1v1h-1zM178.1 280.4h1v1h-1zM180.7 279.4h1v1h-1zM185.7 280.3h1v1h-1zM187.7 281.5h1v1h-1zM180.4 284.1h1v1h-1zM186.4 284.5h1v1h-1zM187.5 283.7h1v1h-1zM187.3 283.8h1v1h-1zM182.1 284.7h1v1h-1zM185.5 279.9h1v1h-1zM183.8 284.5h1v1h-1zM179.3 283.5h1v1h-1zM180.9 284.5h1v1h-1zM178.0 279.9h1v1h-1zM188.0 281.8h1v1h-1zM182.5 284.3h1v1h-1zM187.3 283.3h1v1h-1zM180.9 279.2h1v1h-1zM185.9 284.7h1v1h-1zM183.8 279.4h1v1h-1zM187.9 282.1h1v1h-1zM178.0 282.7h1v1h-1zM184.4 284.9h1v1h-1zM186.6 280.6h1v1h-1zM187.1 283.1h1v1h-1zM187.8 282.5h1v1h-1zM186.9 284.0h1v1h-1zM185.7 280.3h1v1h-1zM179.6 283.9h1v1h-1zM182.8 278.6h1v1h-1zM187.9 282.1h1v1h-1zM183.3 284.9h1v1h-1zM181.1 284.3h1v1h-1zM186.0 280.3h1v1h-1zM178.9 280.4h1v1h-1zM186.9 280.6h1v1h-1zM177.9 280.8h1v1h-1zM181.9 284.3h1v1h-1zM180.6 283.9h1v1h-1zM178.9 283.4h1v1h-1zM180.7 279.1h1v1h-1zM178.3 279.9h1v1h-1zM183.4 284.9h1v1h-1zM184.2 284.5h1v1h-1zM187.9 281.8h1v1h-1zM187.2 283.3h1v1h-1zM183.0 284.9h1v1h-1zM181.4 284.6h1v1h-1zM180.1 279.3h1v1h-1zM182.2 284.3h1v1h-1zM179.7 284.1h1v1h-1zM178.0 280.6h1v1h-1zM185.8 280.2h1v1h-1zM186.0 279.6h1v1h-1zM178.8 279.6h1v1h-1zM183.1 279.3h1v1h-1zM179.4 283.4h1v1h-1zM186.3 280.1h1v1h-1zM185.3 279.8h1v1h-1zM186.7 281.1h1v1h-1zM185.6 284.8h1v1h-1zM179.4 283.8h1v1h-1zM187.7 281.2h1v1h-1zM187.4 283.9h1v1h-1zM177.6 282.5h1v1h-1zM184.1 284.8h1v1h-1zM187.1 280.5h1v1h-1zM187.4 282.2h1v1h-1zM185.6 279.7h1v1h-1zM181.0 284.4h1v1h-1zM182.1 284.4h1v1h-1zM186.0 284.5h1v1h-1zM178.2 282.3h1v1h-1zM186.9 284.1h1v1h-1zM184.4 284.8h1v1h-1zM178.4 281.9h1v1h-1zM181.8 284.5h1v1h-1zM185.9 284.6h1v1h-1zM187.6 282.9h1v1h-1zM180.0 279.4h1v1h-1z" fill="rgb(147, 178, 77)" opacity="0.90"/>
<path d="M180.7 279.8h1v1h-1zM179.5 281.0h1v1h-1zM179.2 282.3h1v1h-1zM178.8 280.9h1v1h-1zM181.6 279.8h1v1h-1zM184.8 283.9h1v1h-1zM179.4 280.6h1v1h-1zM178.6 281.7h1v1h-1zM186.2 283.3h1v1h-1zM179.3 281.2h1v1h-1zM183.9 279.7h1v1h-1zM179.3 281.1h1v1h-1zM179.9 280.7h1v1h-1zM179.6 280.5h1v1h-1zM183.0 284.1h1v1h-1zM181.4 280.1h1v1h-1zM181.7 283.6h1v1h-1zM178.6 281.1h1v1h-1zM183.6 280.1h1v1h-1zM179.2 282.9h1v1h-1zM180.7 280.2h1v1h-1zM182.4 279.4h1v1h-1zM185.1 280.7h1v1h-1zM184.8 280.9h1v1h-1zM181.4 283.4h1v1h-1zM184.8 283.8h1v1h-1zM183.8 279.9h1v1h-1zM180.7 279.6h1v1h-1zM185.3 284.1h1v1h-1zM184.7 283.9h1v1h-1zM178.9 281.4h1v1h-1zM186.0 283.3h1v1h-1zM179.2 282.4h1v1h-1zM185.4 281.3h1v1h-1zM179.7 281.5h1v1h-1zM185.9 283.2h1v1h-1zM182.7 279.9h1v1h-1zM186.4 282.1h1v1h-1zM179.1 281.5h1v1h-1zM183.1 279.8h1v1h-1zM183.0 279.9h1v1h-1zM179.5 281.4h1v1h-1zM179.2 281.4h1v1h-1zM182.3 279.7h1v1h-1zM184.2 279.8h1v1h-1zM180.4 283.5h1v1h-1zM182.9 279.9h1v1h-1zM185.5 280.3h1v1h-1zM185.0 284.2h1v1h-1zM178.8 282.5h1v1h-1zM184.8 284.3h1v1h-1zM179.8 280.7h1v1h-1zM179.4 283.0h1v1h-1zM181.8 280.0h1v1h-1zM179.6 282.3h1v1h-1zM185.0 284.2h1v1h-1zM184.8 283.9h1v1h-1zM186.3 281.8h1v1h-1zM179.5 280.8h1v1h-1zM181.9 284.0h1v1h-1zM182.9 280.0h1v1h-1zM184.7 283.9h1v1h-1zM184.8 283.8h1v1h-1zM180.2 280.7h1v1h-1zM184.0 284.4h1v1h-1zM183.3 279.8h1v1h-1zM187.0 282.1h1v1h-1zM182.7 284.0h1v1h-1zM179.2 282.7h1v1h-1zM184.7 280.5h1v1h-1zM181.8 283.5h1v1h-1zM179.6 281.1h1v1h-1zM180.0 283.3h1v1h-1zM179.4 280.9h1v1h-1zM182.3 279.5h1v1h-1zM186.6 281.7h1v1h-1zM180.1 280.6h1v1h-1zM186.6 283.3h1v1h-1zM179.6 280.5h1v1h-1zM179.7 281.1h1v1h-1zM186.6 282.3h1v1h-1zM186.1 283.9h1v1h-1zM181.5 279.4h1v1h-1zM186.5 283.4h1v1h-1zM181.0 283.7h1v1h-1zM186.5 283.8h1v1h-1zM179.1 282.9h1v1h-1zM182.3 283.8h1v1h-1zM179.2 282.5h1v1h-1zM183.1 280.0h1v1h-1zM180.1 283.1h1v1h-1zM182.3 280.1h1v1h-1zM186.2 282.7h1v1h-1zM186.8 282.3h1v1h-1zM185.2 283.9h1v1h-1zM187.0 282.0h1v1h-1zM179.3 280.7h1v1h-1zM184.2 280.4h1v1h-1zM180.3 280.5h1v1h-1zM182.4 280.1h1v1h-1zM185.9 283.9h1v1h-1zM186.4 283.3h1v1h-1zM182.9 284.2h1v1h-1zM186.5 282.9h1v1h-1zM178.8 281.6h1v1h-1zM186.2 281.7h1v1h-1zM185.6 284.2h1v1h-1zM180.2 282.7h1v1h-1zM186.8 283.2h1v1h-1zM182.5 280.0h1v1h-1zM178.9 282.0h1v1h-1zM185.8 284.1h1v1h-1zM181.1 283.2h1v1h-1zM186.1 281.6h1v1h-1zM180.5 280.2h1v1h-1zM183.4 284.0h1v1h-1zM180.2 283.2h1v1h-1zM179.3 282.4h1v1h-1z" fill="rgb(195, 190, 60)" opacity="0.90"/>
<path d="M184.2 282.5h1v1h-1zM183.1 282.2h1v1h-1zM182.4 280.4h1v1h-1zM181.5 281.3h1v1h-1zM183.7 281.0h1v1h-1zM182.1 282.7h1v1h-1zM184.9 283.1h1v1h-1zM180.7 281.0h1v1h-1zM182.1 281.0h1v1h-1zM181.7 281.8h1v1h-1zM183.6 281.0h1v1h-1zM180.2 280.8h1v1h-1zM183.3 282.8h1v1h-1zM182.9 283.2h1v1h-1zM180.7 281.0h1v1h-1zM185.7 282.8h1v1h-1zM181.0 282.2h1v1h-1zM183.3 283.4h1v1h-1zM183.1 281.8h1v1h-1zM182.3 281.9h1v1h-1zM184.5 282.9h1v1h-1zM185.7 281.5h1v1h-1zM180.5 281.4h1v1h-1zM179.9 281.6h1v1h-1zM182.1 283.4h1v1h-1zM181.2 282.8h1v1h-1zM181.2 283.0h1v1h-1zM181.6 280.4h1v1h-1zM185.0 283.1h1v1h-1zM181.0 280.8h1v1h-1zM184.9 281.9h1v1h-1zM181.3 281.9h1v1h-1zM180.9 282.3h1v1h-1zM181.5 280.3h1v1h-1zM185.7 281.9h1v1h-1zM185.7 282.4h1v1h-1zM182.4 281.6h1v1h-1zM181.7 282.6h1v1h-1zM183.6 281.8h1v1h-1zM183.6 283.4h1v1h-1zM182.2 281.1h1v1h-1zM181.1 280.4h1v1h-1zM182.7 280.3h1v1h-1zM184.2 282.2h1v1h-1zM181.2 281.9h1v1h-1zM180.8 281.9h1v1h-1zM185.0 283.7h1v1h-1zM183.2 282.4h1v1h-1zM183.8 283.3h1v1h-1zM183.2 280.7h1v1h-1zM181.3 281.8h1v1h-1zM180.8 283.0h1v1h-1zM180.8 282.4h1v1h-1zM185.0 283.3h1v1h-1zM183.0 281.5h1v1h-1zM185.5 282.9h1v1h-1zM181.6 282.6h1v1h-1zM181.9 282.9h1v1h-1zM180.1 282.5h1v1h-1zM184.9 282.3h1v1h-1zM184.5 283.3h1v1h-1zM184.7 283.4h1v1h-1zM184.0 282.4h1v1h-1zM184.7 282.0h1v1h-1zM184.0 280.5h1v1h-1zM185.6 282.9h1v1h-1zM180.5 282.3h1v1h-1zM185.3 282.2h1v1h-1zM182.1 281.7h1v1h-1zM183.2 281.2h1v1h-1zM183.8 282.9h1v1h-1zM185.3 281.4h1v1h-1zM183.4 283.3h1v1h-1zM182.3 281.7h1v1h-1zM181.7 281.9h1v1h-1zM180.7 281.6h1v1h-1zM184.7 282.3h1v1h-1zM181.2 280.8h1v1h-1zM185.6 283.1h1v1h-1zM182.3 282.3h1v1h-1zM180.9 282.1h1v1h-1zM182.8 280.7h1v1h-1zM183.6 282.7h1v1h-1zM181.3 281.0h1v1h-1zM185.2 281.2h1v1h-1zM185.6 282.5h1v1h-1zM183.2 282.8h1v1h-1zM182.4 283.1h1v1h-1zM181.2 282.1h1v1h-1zM185.0 283.2h1v1h-1zM184.4 281.8h1v1h-1zM184.5 281.8h1v1h-1zM184.9 282.3h1v1h-1zM182.0 282.5h1v1h-1zM184.1 283.6h1v1h-1zM183.4 280.7h1v1h-1zM184.2 280.8h1v1h-1zM185.3 282.5h1v1h-1zM184.6 281.3h1v1h-1zM183.4 281.7h1v1h-1zM185.8 282.8h1v1h-1zM180.5 282.6h1v1h-1zM180.3 282.3h1v1h-1zM183.7 282.2h1v1h-1zM185.4 281.9h1v1h-1zM182.4 280.6h1v1h-1zM185.3 282.3h1v1h-1zM185.6 281.8h1v1h-1zM181.6 280.9h1v1h-1zM181.9 281.0h1v1h-1zM183.5 282.8h1v1h-1zM181.0 281.5h1v1h-1zM183.3 280.8h1v1h-1zM185.4 282.4h1v1h-1zM184.4 282.8h1v1h-1zM181.6 281.5h1v1h-1zM181.4 280.9h1v1h-1zM184.6 282.7h1v1h-1zM182.5 282.4h1v1h-1zM184.3 282.8h1v1h-1zM181.4 282.8h1v1h-1zM182.6 280.6h1v1h-1zM183.2 283.1h1v1h-1zM183.2 281.2h1v1h-1zM180.6 281.8h1v1h-1zM185.2 281.9h1v1h-1zM180.5 282.7h1v1h-1zM184.4 281.0h1v1h-1zM179.9 281.8h1v1h-1zM184.9 283.1h1v1h-1zM181.5 282.5h1v1h-1zM181.8 282.8h1v1h-1zM185.2 282.8h1v1h-1zM182.6 280.4h1v1h-1zM184.4 282.0h1v1h-1zM183.6 280.8h1v1h-1zM184.0 280.8h1v1h-1zM182.2 283.4h1v1h-1zM180.8 280.5h1v1h-1zM181.8 281.3h1v1h-1zM183.7 281.8h1v1h-1zM185.5 282.6h1v1h-1zM181.1 280.6h1v1h-1zM184.6 282.3h1v1h-1zM183.4 282.0h1v1h-1zM185.2 282.4h1v1h-1zM183.9 281.6h1v1h-1zM182.9 282.3h1v1h-1zM180.5 281.0h1v1h-1zM179.9 281.6h1v1h-1zM185.2 283.0h1v1h-1zM183.4 281.0h1v1h-1zM183.0 282.1h1v1h-1zM181.5 283.2h1v1h-1zM184.4 282.3h1v1h-1zM181.4 281.3h1v1h-1zM180.6 281.0h1v1h-1zM185.6 281.7h1v1h-1zM185.6 282.1h1v1h-1zM183.1 282.9h1v1h-1zM183.3 281.3h1v1h-1zM181.0 280.4h1v1h-1zM183.3 280.4h1v1h-1zM181.6 282.5h1v1h-1zM184.8 281.6h1v1h-1zM183.5 280.5h1v1h-1zM183.1 282.2h1v1h-1zM183.9 281.7h1v1h-1zM184.5 282.6h1v1h-1zM183.6 281.7h1v1h-1zM180.7 281.6h1v1h-1zM180.1 281.5h1v1h-1zM181.6 280.8h1v1h-1z" fill="rgb(211, 163, 46)" opacity="0.90"/>
<rect x="173" y="292.7" width="21.599999999999994" height="24.5" fill="none" stroke="#222" stroke-width="0.9" />
<text x="137.5" y="315.9" font-family="'Liberation Serif', serif" font-size="11.2" text-anchor="start" fill="#222" >12.2%</text>
<text x="163.5" y="252" font-family="'Liberation Serif', serif" font-size="9.6" text-anchor="middle" fill="#111" >shNdel1-1</text>
<line x1="127.10000000000001" y1="267.09999999999997" x2="128.3" y2="267.09999999999997" stroke="#333" stroke-width="0.7" />
<text x="125.7" y="268.5" font-family="Liberation Serif, serif" font-size="3.8" text-anchor="end" fill="#333">10<tspan font-size="2.8" dy="-1.3">5</tspan></text>
<line x1="127.10000000000001" y1="282.5" x2="128.3" y2="282.5" stroke="#333" stroke-width="0.7" />
<text x="125.7" y="283.9" font-family="Liberation Serif, serif" font-size="3.8" text-anchor="end" fill="#333">10<tspan font-size="2.8" dy="-1.3">4</tspan></text>
<line x1="127.10000000000001" y1="298.09999999999997" x2="128.3" y2="298.09999999999997" stroke="#333" stroke-width="0.7" />
<text x="125.7" y="299.5" font-family="Liberation Serif, serif" font-size="3.8" text-anchor="end" fill="#333">10<tspan font-size="2.8" dy="-1.3">3</tspan></text>
<line x1="127.10000000000001" y1="314.5" x2="128.3" y2="314.5" stroke="#333" stroke-width="0.7" />
<text x="125.7" y="315.9" font-family="Liberation Serif, serif" font-size="3.8" text-anchor="end" fill="#333">10<tspan font-size="2.8" dy="-1.3">2</tspan></text>
<text x="124.3" y="323.6" font-family="Liberation Serif, serif" font-size="3.8" text-anchor="end" fill="#333">0</text>
<line x1="127.10000000000001" y1="322.2" x2="128.3" y2="322.2" stroke="#333" stroke-width="0.7" />
<line x1="134.9940170940171" y1="329.5" x2="134.9940170940171" y2="330.7" stroke="#333" stroke-width="0.7" />
<text x="135.0" y="336.4" font-family="Liberation Serif, serif" font-size="3.8" text-anchor="middle" fill="#333">0</text>
<line x1="143.4122507122507" y1="329.5" x2="143.4122507122507" y2="330.7" stroke="#333" stroke-width="0.7" />
<text x="142.8" y="336.4" font-family="Liberation Serif, serif" font-size="3.8" text-anchor="middle" fill="#333">10<tspan font-size="2.8" dy="-1.3">2</tspan></text>
<line x1="158.93019943019942" y1="329.5" x2="158.93019943019942" y2="330.7" stroke="#333" stroke-width="0.7" />
<text x="158.3" y="336.4" font-family="Liberation Serif, serif" font-size="3.8" text-anchor="middle" fill="#333">10<tspan font-size="2.8" dy="-1.3">3</tspan></text>
<line x1="175.76666666666665" y1="329.5" x2="175.76666666666665" y2="330.7" stroke="#333" stroke-width="0.7" />
<text x="175.2" y="336.4" font-family="Liberation Serif, serif" font-size="3.8" text-anchor="middle" fill="#333">10<tspan font-size="2.8" dy="-1.3">4</tspan></text>
<line x1="188.34330484330485" y1="329.5" x2="188.34330484330485" y2="330.7" stroke="#333" stroke-width="0.7" />
<text x="187.7" y="336.4" font-family="Liberation Serif, serif" font-size="3.8" text-anchor="middle" fill="#333">10<tspan font-size="2.8" dy="-1.3">5</tspan></text>
<rect x="215.2" y="259.5" width="69.5" height="69.89999999999998" fill="#fff" stroke="#999" stroke-width="0.7" />
<line x1="215.2" y1="259.5" x2="215.2" y2="329.4" stroke="#333" stroke-width="0.8" />
<line x1="215.2" y1="329.4" x2="284.7" y2="329.4" stroke="#333" stroke-width="0.8" />
<path d="M241.1 274.3h1v1h-1zM270.0 267.3h1v1h-1zM252.1 286.0h1v1h-1zM242.7 274.2h1v1h-1zM241.9 284.8h1v1h-1zM251.3 267.4h1v1h-1zM271.2 271.1h1v1h-1zM252.3 267.1h1v1h-1zM261.3 288.9h1v1h-1zM238.6 272.3h1v1h-1zM265.7 265.9h1v1h-1zM275.0 273.8h1v1h-1zM245.5 283.0h1v1h-1zM240.3 271.6h1v1h-1zM277.7 276.1h1v1h-1zM261.3 268.3h1v1h-1zM241.1 278.5h1v1h-1zM264.9 268.4h1v1h-1zM257.5 288.5h1v1h-1zM233.7 285.6h1v1h-1zM258.9 261.1h1v1h-1zM245.3 268.8h1v1h-1zM256.4 267.7h1v1h-1zM256.2 287.2h1v1h-1zM263.7 289.5h1v1h-1zM241.0 276.9h1v1h-1zM246.3 283.5h1v1h-1zM240.6 274.1h1v1h-1zM239.7 264.8h1v1h-1zM241.3 272.2h1v1h-1zM281.7 282.1h1v1h-1zM263.5 264.6h1v1h-1zM261.4 291.4h1v1h-1zM255.9 289.6h1v1h-1zM250.4 286.1h1v1h-1zM277.1 273.9h1v1h-1zM261.6 268.7h1v1h-1zM280.6 277.9h1v1h-1zM276.7 271.8h1v1h-1zM278.5 277.0h1v1h-1zM259.9 289.3h1v1h-1zM275.9 272.2h1v1h-1zM244.3 285.7h1v1h-1zM243.4 285.2h1v1h-1zM249.5 285.3h1v1h-1zM262.6 266.8h1v1h-1zM243.3 271.7h1v1h-1zM249.1 265.2h1v1h-1zM241.1 277.2h1v1h-1zM281.6 275.1h1v1h-1zM244.2 280.5h1v1h-1zM241.8 271.1h1v1h-1zM238.8 268.2h1v1h-1zM241.6 276.9h1v1h-1zM245.4 268.7h1v1h-1zM275.2 273.7h1v1h-1zM239.4 281.6h1v1h-1zM245.5 283.3h1v1h-1zM277.9 272.5h1v1h-1zM279.0 271.5h1v1h-1zM283.7 281.8h1v1h-1zM282.9 280.2h1v1h-1zM268.0 269.2h1v1h-1zM248.3 286.5h1v1h-1zM264.6 290.8h1v1h-1zM272.0 270.7h1v1h-1zM261.6 269.1h1v1h-1zM271.7 289.8h1v1h-1zM242.0 287.0h1v1h-1zM249.6 286.2h1v1h-1zM244.0 269.9h1v1h-1zM242.6 274.5h1v1h-1zM244.4 281.7h1v1h-1zM266.6 290.5h1v1h-1zM243.1 270.9h1v1h-1zM265.7 291.6h1v1h-1zM261.0 266.8h1v1h-1zM277.1 273.2h1v1h-1zM268.4 270.2h1v1h-1zM229.0 270.6h1v1h-1zM255.5 286.8h1v1h-1zM242.2 281.3h1v1h-1zM268.9 265.7h1v1h-1zM278.0 286.8h1v1h-1zM278.4 287.0h1v1h-1zM282.6 278.4h1v1h-1zM281.8 280.8h1v1h-1zM261.5 313.8h1v1h-1zM258.5 297.5h1v1h-1zM263.8 293.7h1v1h-1zM266.4 293.8h1v1h-1zM262.3 313.2h1v1h-1zM270.1 291.7h1v1h-1zM257.6 310.2h1v1h-1zM259.2 311.5h1v1h-1zM258.9 297.7h1v1h-1zM274.5 298.2h1v1h-1zM275.7 303.6h1v1h-1zM276.1 306.9h1v1h-1zM275.4 303.6h1v1h-1zM269.9 312.4h1v1h-1zM272.1 313.8h1v1h-1zM257.3 309.3h1v1h-1zM275.4 305.6h1v1h-1zM270.6 315.6h1v1h-1zM271.4 294.9h1v1h-1zM263.4 294.7h1v1h-1zM271.8 289.9h1v1h-1zM276.3 300.9h1v1h-1zM265.2 292.1h1v1h-1zM274.2 297.2h1v1h-1zM271.2 294.3h1v1h-1zM269.0 315.5h1v1h-1zM259.5 307.7h1v1h-1zM266.3 291.2h1v1h-1zM271.1 293.9h1v1h-1zM256.8 298.9h1v1h-1zM268.5 294.2h1v1h-1zM256.4 295.0h1v1h-1zM221.7 281.9h1v1h-1zM234.9 296.5h1v1h-1zM245.2 302.3h1v1h-1zM224.8 321.7h1v1h-1zM277.7 301.3h1v1h-1zM239.7 290.8h1v1h-1zM218.7 279.2h1v1h-1zM237.7 301.3h1v1h-1zM218.4 301.6h1v1h-1zM247.0 314.8h1v1h-1zM273.4 271.3h1v1h-1zM230.8 322.9h1v1h-1zM252.8 306.3h1v1h-1zM232.8 284.1h1v1h-1zM238.3 275.5h1v1h-1zM259.4 311.9h1v1h-1zM242.4 305.3h1v1h-1zM251.5 304.8h1v1h-1zM217.9 280.4h1v1h-1zM275.8 304.4h1v1h-1zM273.9 323.0h1v1h-1zM227.5 288.5h1v1h-1zM258.7 315.5h1v1h-1zM232.2 293.0h1v1h-1zM222.8 300.0h1v1h-1zM282.3 291.6h1v1h-1zM218.5 284.9h1v1h-1zM244.6 297.8h1v1h-1zM227.1 324.7h1v1h-1zM260.0 294.2h1v1h-1zM222.9 313.1h1v1h-1zM228.9 283.3h1v1h-1zM229.7 297.6h1v1h-1zM228.6 277.8h1v1h-1zM235.3 271.5h1v1h-1zM241.0 303.7h1v1h-1zM225.3 302.4h1v1h-1zM248.3 287.8h1v1h-1zM254.6 296.2h1v1h-1zM227.3 290.1h1v1h-1zM217.4 322.9h1v1h-1zM252.0 286.7h1v1h-1zM244.3 323.6h1v1h-1zM240.3 316.1h1v1h-1zM249.7 269.5h1v1h-1zM247.9 298.2h1v1h-1zM221.7 313.8h1v1h-1zM235.6 274.0h1v1h-1zM234.1 275.1h1v1h-1zM278.5 309.6h1v1h-1zM235.8 276.6h1v1h-1zM253.3 288.4h1v1h-1zM268.5 318.6h1v1h-1zM279.1 270.6h1v1h-1z" fill="rgb(141, 153, 199)" opacity="0.34"/>
<path d="M259.8 286.9h1v1h-1zM242.9 276.4h1v1h-1zM271.7 272.8h1v1h-1zM248.8 272.0h1v1h-1zM252.1 268.4h1v1h-1zM247.0 281.6h1v1h-1zM279.3 282.9h1v1h-1zM247.3 276.8h1v1h-1zM251.7 282.5h1v1h-1zM244.4 275.2h1v1h-1zM246.8 281.2h1v1h-1zM248.7 281.2h1v1h-1zM247.8 282.8h1v1h-1zM270.9 271.5h1v1h-1zM278.2 278.1h1v1h-1zM261.5 287.7h1v1h-1zM259.2 285.1h1v1h-1zM271.3 274.1h1v1h-1zM254.7 284.4h1v1h-1zM258.9 285.4h1v1h-1zM271.8 274.0h1v1h-1zM254.7 285.4h1v1h-1zM252.3 267.6h1v1h-1zM252.3 269.3h1v1h-1zM247.2 275.1h1v1h-1zM265.4 270.4h1v1h-1zM251.6 281.5h1v1h-1zM247.6 273.9h1v1h-1zM279.4 279.7h1v1h-1zM243.9 278.5h1v1h-1zM248.5 280.6h1v1h-1zM243.9 278.3h1v1h-1zM263.0 287.1h1v1h-1zM245.5 278.1h1v1h-1zM246.8 279.5h1v1h-1zM256.0 269.3h1v1h-1zM250.6 281.4h1v1h-1zM253.8 284.7h1v1h-1zM246.6 279.0h1v1h-1zM251.0 281.1h1v1h-1zM272.6 274.7h1v1h-1zM264.3 270.6h1v1h-1zM245.6 281.6h1v1h-1zM246.1 272.9h1v1h-1zM247.9 283.3h1v1h-1zM246.1 270.4h1v1h-1zM262.5 270.1h1v1h-1zM257.9 285.0h1v1h-1zM267.6 271.1h1v1h-1zM245.5 277.0h1v1h-1zM247.5 273.0h1v1h-1zM271.9 273.4h1v1h-1zM248.0 271.1h1v1h-1zM272.4 273.6h1v1h-1zM259.8 270.2h1v1h-1zM252.1 283.0h1v1h-1zM247.2 278.1h1v1h-1zM247.6 279.5h1v1h-1zM252.4 268.9h1v1h-1zM244.9 270.1h1v1h-1zM252.7 267.9h1v1h-1zM246.9 277.5h1v1h-1zM250.5 285.0h1v1h-1zM259.7 286.0h1v1h-1zM277.0 287.0h1v1h-1zM245.4 272.5h1v1h-1zM248.2 270.2h1v1h-1zM274.8 275.3h1v1h-1zM245.7 276.5h1v1h-1zM247.7 272.5h1v1h-1zM245.3 278.8h1v1h-1zM252.9 282.7h1v1h-1zM255.2 269.0h1v1h-1zM247.1 277.3h1v1h-1zM278.8 282.5h1v1h-1zM265.2 269.4h1v1h-1zM244.8 270.7h1v1h-1zM249.2 271.8h1v1h-1zM254.4 283.3h1v1h-1zM272.3 273.2h1v1h-1zM246.0 271.8h1v1h-1zM262.8 270.3h1v1h-1zM250.6 284.7h1v1h-1zM249.7 271.5h1v1h-1zM247.4 273.3h1v1h-1zM249.3 281.2h1v1h-1zM245.0 275.7h1v1h-1zM247.2 272.2h1v1h-1zM246.2 271.6h1v1h-1zM251.5 268.9h1v1h-1zM255.8 269.4h1v1h-1zM249.9 283.2h1v1h-1zM274.4 287.7h1v1h-1zM263.8 270.0h1v1h-1zM254.3 268.5h1v1h-1zM256.5 269.0h1v1h-1zM245.8 274.2h1v1h-1zM246.1 270.1h1v1h-1zM247.7 271.8h1v1h-1zM256.3 284.8h1v1h-1zM245.7 275.3h1v1h-1zM271.7 273.4h1v1h-1zM275.2 274.6h1v1h-1zM272.5 273.2h1v1h-1zM252.5 282.5h1v1h-1zM246.0 273.5h1v1h-1zM255.8 284.3h1v1h-1zM273.9 287.8h1v1h-1zM250.6 284.2h1v1h-1zM259.7 270.4h1v1h-1zM244.2 278.4h1v1h-1zM256.0 269.4h1v1h-1zM247.4 270.5h1v1h-1zM258.2 269.5h1v1h-1zM258.6 285.0h1v1h-1zM257.6 285.8h1v1h-1zM248.8 281.4h1v1h-1zM274.4 276.2h1v1h-1zM254.7 285.1h1v1h-1zM244.0 275.4h1v1h-1zM245.9 275.4h1v1h-1zM248.0 278.0h1v1h-1zM243.9 279.1h1v1h-1zM246.5 278.0h1v1h-1zM246.3 272.6h1v1h-1zM248.3 283.1h1v1h-1zM277.9 278.2h1v1h-1zM243.6 277.9h1v1h-1zM272.6 275.9h1v1h-1zM277.5 278.2h1v1h-1zM245.1 272.9h1v1h-1zM252.8 282.3h1v1h-1zM255.3 285.6h1v1h-1zM253.4 283.3h1v1h-1zM261.3 286.2h1v1h-1zM267.3 288.3h1v1h-1zM270.3 288.3h1v1h-1zM278.5 285.6h1v1h-1zM278.9 280.0h1v1h-1zM279.5 279.9h1v1h-1zM275.7 277.3h1v1h-1zM279.1 283.1h1v1h-1zM272.6 288.2h1v1h-1zM268.2 288.8h1v1h-1zM276.8 286.2h1v1h-1zM263.1 287.9h1v1h-1zM276.9 277.6h1v1h-1zM279.8 283.6h1v1h-1zM279.1 279.6h1v1h-1zM266.0 287.9h1v1h-1zM279.3 284.2h1v1h-1zM278.0 285.5h1v1h-1zM267.7 296.3h1v1h-1zM273.9 298.9h1v1h-1zM269.5 310.2h1v1h-1zM267.1 311.9h1v1h-1zM268.7 297.1h1v1h-1zM261.0 312.0h1v1h-1zM262.5 309.3h1v1h-1zM267.3 311.5h1v1h-1zM263.6 311.0h1v1h-1zM271.6 298.7h1v1h-1zM264.1 311.1h1v1h-1zM265.6 312.9h1v1h-1zM272.1 299.0h1v1h-1zM264.9 295.9h1v1h-1zM267.8 297.2h1v1h-1zM270.4 298.9h1v1h-1zM272.8 298.3h1v1h-1zM258.5 302.6h1v1h-1zM273.2 305.7h1v1h-1zM272.9 297.7h1v1h-1zM265.4 295.4h1v1h-1zM271.3 297.0h1v1h-1zM259.1 299.1h1v1h-1zM261.7 307.7h1v1h-1zM265.2 296.6h1v1h-1zM272.0 297.3h1v1h-1zM265.5 295.5h1v1h-1zM264.4 312.3h1v1h-1zM273.0 302.1h1v1h-1zM273.7 300.9h1v1h-1zM259.9 303.7h1v1h-1zM259.8 308.6h1v1h-1zM263.6 312.3h1v1h-1zM259.9 302.5h1v1h-1zM272.5 308.8h1v1h-1zM261.9 309.4h1v1h-1zM273.3 306.7h1v1h-1zM267.7 296.9h1v1h-1zM267.3 311.4h1v1h-1zM271.9 297.5h1v1h-1zM260.4 307.5h1v1h-1zM273.3 302.4h1v1h-1zM269.8 297.1h1v1h-1zM270.6 298.7h1v1h-1zM273.3 300.2h1v1h-1zM274.2 300.4h1v1h-1zM263.9 312.3h1v1h-1zM261.5 312.1h1v1h-1zM265.0 311.4h1v1h-1zM262.3 297.6h1v1h-1zM274.1 302.5h1v1h-1zM259.5 308.6h1v1h-1zM272.1 308.8h1v1h-1zM269.7 310.0h1v1h-1zM260.8 309.7h1v1h-1zM259.9 311.1h1v1h-1zM268.1 311.4h1v1h-1zM264.3 297.1h1v1h-1zM264.9 295.5h1v1h-1zM262.6 311.2h1v1h-1zM261.9 311.2h1v1h-1zM269.8 296.8h1v1h-1zM260.1 298.4h1v1h-1zM261.6 310.1h1v1h-1zM259.8 304.0h1v1h-1zM270.5 309.0h1v1h-1zM274.6 299.7h1v1h-1zM269.2 295.7h1v1h-1zM267.3 311.9h1v1h-1zM273.1 307.9h1v1h-1zM271.5 298.9h1v1h-1zM265.4 295.4h1v1h-1zM260.8 309.4h1v1h-1zM259.9 299.7h1v1h-1zM266.1 296.8h1v1h-1zM272.9 304.8h1v1h-1zM273.3 305.6h1v1h-1zM273.6 303.8h1v1h-1zM263.9 295.1h1v1h-1zM267.3 294.6h1v1h-1zM259.8 299.3h1v1h-1zM271.6 309.1h1v1h-1zM264.6 311.8h1v1h-1zM269.5 295.5h1v1h-1zM262.3 298.5h1v1h-1zM272.2 297.1h1v1h-1zM245.2 272.9h1v1h-1zM275.9 286.9h1v1h-1zM270.4 288.8h1v1h-1zM242.1 276.9h1v1h-1z" fill="rgb(124, 139, 188)" opacity="0.43"/>
<path d="M261.8 272.6h1v1h-1zM258.4 282.9h1v1h-1zM249.7 273.0h1v1h-1zM263.2 286.4h1v1h-1zM251.9 279.2h1v1h-1zM260.6 272.6h1v1h-1zM268.7 272.8h1v1h-1zM253.7 281.7h1v1h-1zM250.9 280.3h1v1h-1zM252.8 271.1h1v1h-1zM249.7 274.0h1v1h-1zM262.0 272.9h1v1h-1zM274.4 286.5h1v1h-1zM257.8 271.4h1v1h-1zM256.8 283.4h1v1h-1zM266.6 272.9h1v1h-1zM251.2 279.2h1v1h-1zM253.9 281.4h1v1h-1zM266.6 272.9h1v1h-1zM264.8 271.8h1v1h-1zM250.0 276.5h1v1h-1zM249.0 275.4h1v1h-1zM265.1 287.2h1v1h-1zM267.9 273.6h1v1h-1zM249.4 276.6h1v1h-1zM257.6 272.0h1v1h-1zM249.1 277.5h1v1h-1zM253.2 271.0h1v1h-1zM253.9 269.8h1v1h-1zM254.8 281.2h1v1h-1zM251.3 274.3h1v1h-1zM268.6 273.1h1v1h-1zM253.0 280.2h1v1h-1zM264.1 271.2h1v1h-1zM263.6 272.1h1v1h-1zM248.9 275.2h1v1h-1zM251.2 276.0h1v1h-1zM254.7 283.3h1v1h-1zM249.9 272.4h1v1h-1zM256.7 283.8h1v1h-1zM256.3 282.8h1v1h-1zM252.6 279.6h1v1h-1zM251.3 280.7h1v1h-1zM252.8 271.1h1v1h-1zM250.2 272.2h1v1h-1zM261.0 284.8h1v1h-1zM250.8 276.4h1v1h-1zM259.2 283.8h1v1h-1zM255.0 269.6h1v1h-1zM251.0 276.4h1v1h-1zM250.9 273.3h1v1h-1zM269.4 274.5h1v1h-1zM260.2 272.5h1v1h-1zM263.9 272.2h1v1h-1zM262.9 272.5h1v1h-1zM260.5 272.4h1v1h-1zM250.9 278.3h1v1h-1zM262.7 286.3h1v1h-1zM251.9 272.8h1v1h-1zM253.9 271.1h1v1h-1zM251.4 277.6h1v1h-1zM247.6 276.8h1v1h-1zM262.8 285.8h1v1h-1zM255.2 270.4h1v1h-1zM268.1 273.3h1v1h-1zM255.7 282.2h1v1h-1zM263.2 286.7h1v1h-1zM262.4 286.2h1v1h-1zM269.1 274.5h1v1h-1zM250.8 274.8h1v1h-1zM265.7 271.1h1v1h-1zM253.0 279.9h1v1h-1zM250.4 278.3h1v1h-1zM268.2 272.3h1v1h-1zM255.1 269.8h1v1h-1zM264.2 272.0h1v1h-1zM247.6 277.3h1v1h-1zM251.1 274.9h1v1h-1zM278.1 281.7h1v1h-1zM260.8 284.2h1v1h-1zM269.8 274.2h1v1h-1zM251.0 272.1h1v1h-1zM269.9 273.6h1v1h-1zM262.2 285.4h1v1h-1zM258.2 283.2h1v1h-1zM253.6 280.8h1v1h-1zM252.4 272.1h1v1h-1zM270.8 274.5h1v1h-1zM260.8 284.3h1v1h-1zM251.0 277.9h1v1h-1zM271.6 287.4h1v1h-1zM249.3 275.8h1v1h-1zM276.8 279.3h1v1h-1zM268.5 272.6h1v1h-1zM250.4 273.2h1v1h-1zM256.7 271.2h1v1h-1zM250.1 278.4h1v1h-1zM260.6 284.7h1v1h-1zM250.2 273.8h1v1h-1zM248.2 276.9h1v1h-1zM267.4 272.5h1v1h-1zM254.6 281.5h1v1h-1zM248.1 276.7h1v1h-1zM262.1 285.0h1v1h-1zM250.8 279.9h1v1h-1zM261.6 285.6h1v1h-1zM250.8 278.5h1v1h-1zM257.9 270.7h1v1h-1zM253.7 282.7h1v1h-1zM267.7 272.0h1v1h-1zM253.3 270.9h1v1h-1zM256.4 282.9h1v1h-1zM253.2 271.1h1v1h-1zM266.9 287.7h1v1h-1zM250.0 278.6h1v1h-1zM251.9 272.0h1v1h-1zM260.3 272.4h1v1h-1zM250.4 277.3h1v1h-1zM248.2 276.4h1v1h-1zM251.1 275.5h1v1h-1zM258.6 282.9h1v1h-1zM266.4 271.5h1v1h-1zM256.0 270.3h1v1h-1zM252.2 279.3h1v1h-1zM258.7 271.5h1v1h-1zM251.5 272.1h1v1h-1zM250.0 273.5h1v1h-1zM269.1 274.2h1v1h-1zM250.5 272.4h1v1h-1zM250.1 277.4h1v1h-1zM256.3 271.5h1v1h-1zM250.2 272.3h1v1h-1zM252.4 280.9h1v1h-1zM250.8 278.8h1v1h-1zM251.8 272.3h1v1h-1zM258.5 271.2h1v1h-1zM262.8 286.2h1v1h-1zM264.2 271.5h1v1h-1zM270.7 275.4h1v1h-1zM255.0 282.8h1v1h-1zM260.7 283.5h1v1h-1zM265.4 271.1h1v1h-1zM252.8 279.9h1v1h-1zM248.4 277.6h1v1h-1zM269.0 288.0h1v1h-1zM260.4 272.0h1v1h-1zM275.2 278.3h1v1h-1zM273.1 277.2h1v1h-1zM278.0 283.6h1v1h-1zM277.7 281.9h1v1h-1zM262.0 284.8h1v1h-1zM270.4 275.3h1v1h-1zM276.6 284.5h1v1h-1zM274.4 277.5h1v1h-1zM270.2 287.5h1v1h-1zM277.3 279.2h1v1h-1zM271.6 276.5h1v1h-1zM277.8 281.8h1v1h-1zM265.8 287.1h1v1h-1zM277.1 279.7h1v1h-1zM277.5 279.8h1v1h-1zM269.8 288.0h1v1h-1zM274.1 277.4h1v1h-1zM269.7 274.6h1v1h-1zM278.1 281.2h1v1h-1zM272.7 277.0h1v1h-1zM265.4 297.4h1v1h-1zM272.4 303.2h1v1h-1zM265.9 297.6h1v1h-1zM271.2 301.6h1v1h-1zM271.7 302.3h1v1h-1zM261.5 303.6h1v1h-1zM272.9 302.7h1v1h-1zM272.8 303.9h1v1h-1zM264.2 309.2h1v1h-1zM264.0 299.2h1v1h-1zM264.2 309.1h1v1h-1zM265.5 297.8h1v1h-1zM261.1 299.4h1v1h-1zM264.1 299.5h1v1h-1zM260.9 299.7h1v1h-1zM265.2 297.8h1v1h-1zM269.0 308.5h1v1h-1zM261.7 301.9h1v1h-1zM260.6 303.1h1v1h-1zM265.3 298.3h1v1h-1zM260.6 299.8h1v1h-1zM261.8 305.7h1v1h-1zM270.8 299.8h1v1h-1zM260.8 304.0h1v1h-1zM261.7 303.7h1v1h-1zM260.3 301.1h1v1h-1zM266.8 298.7h1v1h-1zM261.8 301.4h1v1h-1zM266.0 299.0h1v1h-1zM270.1 299.2h1v1h-1zM270.1 307.6h1v1h-1zM265.5 298.6h1v1h-1zM268.7 299.7h1v1h-1zM272.2 304.3h1v1h-1zM263.1 299.6h1v1h-1zM270.3 301.2h1v1h-1zM267.6 309.2h1v1h-1zM269.0 308.9h1v1h-1zM266.3 310.9h1v1h-1zM264.4 308.9h1v1h-1zM272.5 303.9h1v1h-1zM267.0 311.0h1v1h-1zM269.5 299.1h1v1h-1zM260.4 301.0h1v1h-1zM267.4 299.1h1v1h-1zM267.2 297.5h1v1h-1zM262.4 300.1h1v1h-1zM267.8 309.8h1v1h-1zM270.6 307.6h1v1h-1zM262.2 299.4h1v1h-1zM271.5 302.6h1v1h-1zM271.2 307.2h1v1h-1zM271.1 305.6h1v1h-1zM271.7 304.1h1v1h-1zM270.5 307.7h1v1h-1zM265.4 298.8h1v1h-1zM271.7 303.4h1v1h-1zM262.9 306.4h1v1h-1zM268.9 300.3h1v1h-1zM269.4 309.3h1v1h-1zM266.3 310.9h1v1h-1zM261.7 303.6h1v1h-1zM260.3 303.5h1v1h-1zM267.0 310.5h1v1h-1zM270.8 307.1h1v1h-1zM261.5 301.8h1v1h-1zM263.1 306.6h1v1h-1zM267.4 309.3h1v1h-1zM272.4 302.9h1v1h-1zM264.3 308.5h1v1h-1zM261.8 298.9h1v1h-1zM271.7 300.8h1v1h-1zM261.0 300.7h1v1h-1zM260.2 302.1h1v1h-1zM260.7 303.4h1v1h-1zM265.1 311.0h1v1h-1zM262.4 308.0h1v1h-1zM262.3 301.1h1v1h-1zM262.7 308.0h1v1h-1zM271.3 300.4h1v1h-1zM266.7 308.9h1v1h-1zM260.7 300.6h1v1h-1zM271.1 301.7h1v1h-1zM263.7 307.5h1v1h-1zM263.1 307.3h1v1h-1zM272.7 304.7h1v1h-1zM266.3 310.5h1v1h-1zM272.8 304.7h1v1h-1zM261.8 299.5h1v1h-1zM264.8 309.7h1v1h-1zM270.3 300.8h1v1h-1zM271.7 306.2h1v1h-1zM268.1 310.0h1v1h-1zM261.7 301.3h1v1h-1zM260.7 300.1h1v1h-1zM261.6 305.5h1v1h-1zM266.6 308.9h1v1h-1zM269.2 308.3h1v1h-1zM262.5 300.1h1v1h-1zM270.7 302.3h1v1h-1zM269.5 307.9h1v1h-1zM271.8 302.7h1v1h-1zM264.8 297.2h1v1h-1zM261.8 304.6h1v1h-1zM270.6 306.7h1v1h-1zM261.4 302.9h1v1h-1zM260.9 303.0h1v1h-1zM263.5 298.3h1v1h-1zM261.9 306.6h1v1h-1zM264.0 310.0h1v1h-1zM264.7 308.7h1v1h-1zM263.2 306.6h1v1h-1zM266.1 298.7h1v1h-1zM269.4 307.8h1v1h-1zM264.5 309.2h1v1h-1zM267.6 310.0h1v1h-1zM268.2 299.0h1v1h-1zM267.5 309.4h1v1h-1zM261.8 299.2h1v1h-1zM262.4 304.9h1v1h-1zM270.2 301.7h1v1h-1zM265.2 310.7h1v1h-1zM259.0 283.7h1v1h-1zM269.3 299.1h1v1h-1zM266.7 309.5h1v1h-1z" fill="rgb(107, 125, 178)" opacity="0.52"/>
<path d="M266.0 273.4h1v1h-1zM252.5 273.9h1v1h-1zM253.5 278.0h1v1h-1zM252.0 275.7h1v1h-1zM262.5 282.4h1v1h-1zM264.1 285.9h1v1h-1zM265.2 272.8h1v1h-1zM256.9 272.7h1v1h-1zM266.4 273.6h1v1h-1zM262.1 273.8h1v1h-1zM257.3 279.8h1v1h-1zM264.6 272.7h1v1h-1zM259.2 281.6h1v1h-1zM276.9 281.3h1v1h-1zM253.1 276.6h1v1h-1zM267.0 275.1h1v1h-1zM257.5 282.0h1v1h-1zM262.9 284.6h1v1h-1zM260.6 274.2h1v1h-1zM266.9 273.7h1v1h-1zM257.2 279.4h1v1h-1zM265.3 274.0h1v1h-1zM262.0 281.7h1v1h-1zM265.4 273.4h1v1h-1zM257.1 280.1h1v1h-1zM252.7 273.4h1v1h-1zM256.8 282.2h1v1h-1zM262.8 273.7h1v1h-1zM252.2 274.1h1v1h-1zM261.1 281.2h1v1h-1zM255.7 279.4h1v1h-1zM255.0 272.2h1v1h-1zM277.2 282.4h1v1h-1zM275.1 279.2h1v1h-1zM260.8 281.4h1v1h-1zM262.7 274.0h1v1h-1zM259.2 281.5h1v1h-1zM258.5 282.2h1v1h-1zM257.4 280.7h1v1h-1zM258.4 272.7h1v1h-1zM260.3 280.3h1v1h-1zM265.3 273.0h1v1h-1zM253.1 277.4h1v1h-1zM257.2 272.4h1v1h-1zM253.6 277.1h1v1h-1zM256.1 279.4h1v1h-1zM259.9 272.6h1v1h-1zM256.6 280.0h1v1h-1zM257.3 279.5h1v1h-1zM267.4 275.3h1v1h-1zM256.7 280.6h1v1h-1zM256.7 281.4h1v1h-1zM253.1 276.2h1v1h-1zM258.0 279.0h1v1h-1zM267.8 273.8h1v1h-1zM252.7 279.0h1v1h-1zM259.6 280.3h1v1h-1zM267.5 274.9h1v1h-1zM257.4 279.9h1v1h-1zM264.9 273.6h1v1h-1zM262.9 273.8h1v1h-1zM252.3 274.1h1v1h-1zM261.4 282.6h1v1h-1zM255.0 278.1h1v1h-1zM269.7 286.8h1v1h-1zM257.0 281.9h1v1h-1zM259.4 282.9h1v1h-1zM258.5 281.8h1v1h-1zM262.4 283.4h1v1h-1zM257.5 281.8h1v1h-1zM252.2 278.0h1v1h-1zM255.4 272.5h1v1h-1zM253.8 272.8h1v1h-1zM265.4 273.5h1v1h-1zM256.2 271.7h1v1h-1zM262.2 283.4h1v1h-1zM254.7 278.9h1v1h-1zM252.7 276.1h1v1h-1zM264.3 285.6h1v1h-1zM257.8 273.1h1v1h-1zM254.8 271.8h1v1h-1zM263.1 272.7h1v1h-1zM266.6 274.4h1v1h-1zM253.8 272.3h1v1h-1zM262.3 274.3h1v1h-1zM256.4 272.7h1v1h-1zM259.0 272.6h1v1h-1zM257.9 281.5h1v1h-1zM258.5 281.3h1v1h-1zM252.8 276.9h1v1h-1zM276.1 279.9h1v1h-1zM258.5 282.6h1v1h-1zM259.5 278.8h1v1h-1zM257.1 279.7h1v1h-1zM263.9 273.6h1v1h-1zM259.8 272.7h1v1h-1zM267.8 275.1h1v1h-1zM254.5 280.0h1v1h-1zM257.1 281.0h1v1h-1zM260.1 282.2h1v1h-1zM267.7 275.7h1v1h-1zM255.9 279.5h1v1h-1zM276.6 283.3h1v1h-1zM257.8 280.8h1v1h-1zM257.3 279.4h1v1h-1zM261.2 281.9h1v1h-1zM264.7 273.4h1v1h-1zM254.1 279.8h1v1h-1zM265.0 273.1h1v1h-1zM275.1 279.1h1v1h-1zM267.3 287.2h1v1h-1zM252.1 277.3h1v1h-1zM263.5 273.9h1v1h-1zM255.9 272.4h1v1h-1zM259.7 282.2h1v1h-1zM253.8 277.4h1v1h-1zM255.8 281.8h1v1h-1zM251.9 273.8h1v1h-1zM266.0 273.2h1v1h-1zM253.9 277.9h1v1h-1zM252.7 279.0h1v1h-1zM258.2 280.2h1v1h-1zM266.5 275.0h1v1h-1zM262.1 282.4h1v1h-1zM263.1 274.2h1v1h-1zM254.6 278.5h1v1h-1zM256.8 279.7h1v1h-1zM258.6 279.2h1v1h-1zM255.0 271.4h1v1h-1zM256.6 281.1h1v1h-1zM258.7 273.1h1v1h-1zM270.2 276.8h1v1h-1zM253.3 271.5h1v1h-1zM256.9 280.5h1v1h-1zM273.1 278.2h1v1h-1zM255.6 278.4h1v1h-1zM259.7 281.9h1v1h-1zM267.6 273.7h1v1h-1zM259.1 280.0h1v1h-1zM253.9 273.3h1v1h-1zM259.6 279.0h1v1h-1zM262.6 274.6h1v1h-1zM263.9 285.5h1v1h-1zM259.7 281.2h1v1h-1zM254.4 277.8h1v1h-1zM258.5 279.3h1v1h-1zM258.1 272.7h1v1h-1zM253.5 278.8h1v1h-1zM261.7 273.6h1v1h-1zM274.1 278.6h1v1h-1zM258.6 280.5h1v1h-1zM268.2 275.0h1v1h-1zM269.8 275.9h1v1h-1zM264.6 272.8h1v1h-1zM253.3 274.1h1v1h-1zM261.6 282.0h1v1h-1zM253.4 277.3h1v1h-1zM253.7 271.7h1v1h-1zM256.2 281.6h1v1h-1zM260.5 282.3h1v1h-1zM255.8 279.5h1v1h-1zM263.3 274.0h1v1h-1zM257.3 281.8h1v1h-1zM254.5 272.3h1v1h-1zM253.1 272.4h1v1h-1zM263.8 274.1h1v1h-1zM256.8 281.6h1v1h-1zM260.1 280.9h1v1h-1zM253.7 273.0h1v1h-1zM257.4 279.4h1v1h-1zM253.4 273.2h1v1h-1zM265.6 274.3h1v1h-1zM262.2 284.2h1v1h-1zM267.9 275.8h1v1h-1zM254.0 271.8h1v1h-1zM254.6 279.3h1v1h-1zM254.4 271.7h1v1h-1zM261.5 281.0h1v1h-1zM260.3 274.1h1v1h-1zM267.8 273.9h1v1h-1zM253.7 271.5h1v1h-1zM259.0 278.6h1v1h-1zM256.3 281.5h1v1h-1zM262.1 281.9h1v1h-1zM258.7 282.5h1v1h-1zM252.0 275.8h1v1h-1zM261.0 282.2h1v1h-1zM265.6 274.7h1v1h-1zM252.3 275.1h1v1h-1zM262.0 282.8h1v1h-1zM255.2 272.9h1v1h-1zM260.7 281.1h1v1h-1zM273.4 285.9h1v1h-1zM262.7 284.9h1v1h-1zM257.3 282.1h1v1h-1zM256.1 280.2h1v1h-1zM264.0 273.1h1v1h-1zM252.8 272.4h1v1h-1zM261.7 283.7h1v1h-1zM252.4 275.2h1v1h-1zM253.3 279.4h1v1h-1zM268.3 286.7h1v1h-1zM276.0 279.7h1v1h-1zM276.4 284.1h1v1h-1zM275.1 285.5h1v1h-1zM274.7 285.4h1v1h-1zM276.9 283.3h1v1h-1zM265.1 286.5h1v1h-1zM275.2 278.7h1v1h-1zM264.0 285.4h1v1h-1zM275.1 278.8h1v1h-1zM267.3 286.7h1v1h-1zM270.6 286.4h1v1h-1zM276.4 280.0h1v1h-1zM273.3 277.7h1v1h-1zM276.5 282.9h1v1h-1zM271.2 286.8h1v1h-1zM276.7 281.0h1v1h-1zM276.3 283.7h1v1h-1zM263.0 283.7h1v1h-1zM268.7 276.4h1v1h-1zM271.5 277.5h1v1h-1zM277.1 280.3h1v1h-1zM275.5 285.3h1v1h-1zM276.3 280.2h1v1h-1zM272.8 286.1h1v1h-1zM267.8 300.6h1v1h-1zM266.5 300.1h1v1h-1zM269.5 305.7h1v1h-1zM266.6 307.4h1v1h-1zM269.8 303.2h1v1h-1zM267.1 306.8h1v1h-1zM264.5 304.2h1v1h-1zM264.3 300.5h1v1h-1zM268.3 301.6h1v1h-1zM269.6 306.7h1v1h-1zM269.1 303.3h1v1h-1zM268.6 300.6h1v1h-1zM263.1 303.1h1v1h-1zM270.2 305.5h1v1h-1zM267.2 301.1h1v1h-1zM262.2 302.0h1v1h-1zM270.0 302.3h1v1h-1zM270.7 302.9h1v1h-1zM265.0 303.4h1v1h-1zM264.7 305.8h1v1h-1zM267.7 307.1h1v1h-1zM267.3 307.0h1v1h-1zM262.2 302.5h1v1h-1zM269.3 303.9h1v1h-1zM265.4 303.9h1v1h-1zM263.6 306.5h1v1h-1zM267.3 306.5h1v1h-1zM270.0 303.9h1v1h-1zM268.0 300.4h1v1h-1zM267.0 299.7h1v1h-1zM266.9 300.8h1v1h-1zM264.6 304.5h1v1h-1zM268.0 300.2h1v1h-1zM270.3 304.0h1v1h-1zM263.9 301.3h1v1h-1zM269.4 307.4h1v1h-1zM264.1 305.0h1v1h-1zM268.4 301.1h1v1h-1zM265.6 307.9h1v1h-1zM264.1 301.3h1v1h-1zM264.2 307.1h1v1h-1zM263.0 301.5h1v1h-1zM265.6 299.4h1v1h-1zM266.1 305.8h1v1h-1zM262.8 303.6h1v1h-1zM264.8 303.7h1v1h-1zM263.1 304.0h1v1h-1zM268.0 307.3h1v1h-1zM270.0 304.7h1v1h-1zM267.8 306.5h1v1h-1zM263.8 305.7h1v1h-1zM265.5 300.9h1v1h-1zM265.7 306.5h1v1h-1zM263.8 304.9h1v1h-1zM268.8 306.9h1v1h-1zM262.5 303.8h1v1h-1zM269.7 303.9h1v1h-1zM265.2 306.7h1v1h-1zM267.7 301.5h1v1h-1zM268.9 302.8h1v1h-1zM267.8 306.4h1v1h-1zM266.7 306.1h1v1h-1zM265.0 305.6h1v1h-1zM268.8 301.4h1v1h-1zM270.6 302.7h1v1h-1zM263.9 304.0h1v1h-1zM268.3 302.1h1v1h-1zM263.3 304.1h1v1h-1zM264.3 300.0h1v1h-1zM266.5 300.0h1v1h-1zM265.3 301.1h1v1h-1zM269.6 305.1h1v1h-1zM264.8 301.5h1v1h-1zM265.7 299.7h1v1h-1zM269.0 304.6h1v1h-1zM265.1 307.9h1v1h-1zM266.1 308.4h1v1h-1zM269.2 302.3h1v1h-1zM262.8 303.5h1v1h-1zM264.6 306.7h1v1h-1zM269.5 307.3h1v1h-1zM269.9 302.4h1v1h-1zM268.1 306.5h1v1h-1zM264.9 303.0h1v1h-1zM263.7 301.5h1v1h-1zM269.7 304.0h1v1h-1zM269.5 304.1h1v1h-1zM264.5 302.0h1v1h-1zM265.5 301.2h1v1h-1zM263.0 301.1h1v1h-1zM268.7 301.7h1v1h-1zM268.0 307.8h1v1h-1zM264.9 306.6h1v1h-1zM262.6 302.7h1v1h-1zM263.7 300.9h1v1h-1zM269.0 307.0h1v1h-1zM265.9 306.0h1v1h-1zM266.1 306.2h1v1h-1zM267.6 301.7h1v1h-1zM264.7 300.8h1v1h-1zM269.0 304.6h1v1h-1zM264.7 304.7h1v1h-1zM268.2 306.7h1v1h-1zM267.3 301.3h1v1h-1zM267.2 300.4h1v1h-1zM262.8 302.4h1v1h-1zM264.1 304.8h1v1h-1zM264.6 306.4h1v1h-1zM264.6 307.0h1v1h-1zM264.8 306.7h1v1h-1zM264.9 301.7h1v1h-1zM264.6 305.8h1v1h-1zM264.4 306.8h1v1h-1zM264.3 304.8h1v1h-1zM264.5 300.0h1v1h-1zM264.9 299.3h1v1h-1zM265.3 301.8h1v1h-1zM267.8 306.3h1v1h-1zM265.1 306.7h1v1h-1zM264.2 303.4h1v1h-1zM265.2 308.0h1v1h-1zM266.0 308.3h1v1h-1zM270.5 303.6h1v1h-1zM264.3 307.3h1v1h-1zM265.8 299.2h1v1h-1zM269.0 306.0h1v1h-1zM262.1 303.2h1v1h-1zM269.5 306.2h1v1h-1zM266.5 301.1h1v1h-1zM264.8 306.8h1v1h-1zM263.6 304.1h1v1h-1zM264.9 300.1h1v1h-1zM264.7 303.3h1v1h-1zM263.5 305.8h1v1h-1zM256.0 278.9h1v1h-1zM277.2 280.9h1v1h-1z" fill="rgb(92, 117, 167)" opacity="0.61"/>
<path d="M268.3 276.3h1v1h-1zM259.3 275.5h1v1h-1zM264.1 275.1h1v1h-1zM256.0 273.4h1v1h-1zM253.9 275.5h1v1h-1zM256.2 275.5h1v1h-1zM263.3 282.9h1v1h-1zM269.5 277.0h1v1h-1zM253.6 276.3h1v1h-1zM255.5 276.9h1v1h-1zM260.4 276.2h1v1h-1zM267.5 276.8h1v1h-1zM260.7 275.1h1v1h-1zM256.1 275.3h1v1h-1zM262.3 279.0h1v1h-1zM275.3 280.0h1v1h-1zM256.4 275.1h1v1h-1zM267.2 276.2h1v1h-1zM255.9 276.7h1v1h-1zM256.4 275.0h1v1h-1zM256.6 278.0h1v1h-1zM256.2 278.4h1v1h-1zM264.5 284.8h1v1h-1zM258.9 275.6h1v1h-1zM261.0 279.6h1v1h-1zM262.8 280.6h1v1h-1zM256.9 275.7h1v1h-1zM261.0 277.5h1v1h-1zM261.2 276.4h1v1h-1zM261.7 276.2h1v1h-1zM256.9 277.8h1v1h-1zM257.7 277.4h1v1h-1zM267.3 276.2h1v1h-1zM257.8 276.0h1v1h-1zM263.2 279.2h1v1h-1zM266.9 276.0h1v1h-1zM261.4 276.5h1v1h-1zM259.9 275.9h1v1h-1zM253.9 277.3h1v1h-1zM256.0 276.3h1v1h-1zM256.4 274.1h1v1h-1zM261.2 276.6h1v1h-1zM258.7 277.9h1v1h-1zM260.2 275.9h1v1h-1zM255.0 273.2h1v1h-1zM271.3 278.0h1v1h-1zM253.8 274.0h1v1h-1zM258.2 274.7h1v1h-1zM262.6 277.2h1v1h-1zM262.7 275.6h1v1h-1zM262.5 278.0h1v1h-1zM260.9 278.1h1v1h-1zM264.5 275.5h1v1h-1zM262.6 277.2h1v1h-1zM266.3 277.0h1v1h-1zM262.1 278.4h1v1h-1zM266.4 275.7h1v1h-1zM254.2 276.0h1v1h-1zM264.9 276.4h1v1h-1zM261.0 278.1h1v1h-1zM257.4 274.4h1v1h-1zM266.6 276.8h1v1h-1zM266.4 276.9h1v1h-1zM255.4 277.4h1v1h-1zM258.6 276.9h1v1h-1zM257.6 276.2h1v1h-1zM256.0 275.8h1v1h-1zM253.8 277.0h1v1h-1zM259.8 274.3h1v1h-1zM254.9 273.7h1v1h-1zM259.7 277.8h1v1h-1zM266.5 276.6h1v1h-1zM258.7 276.7h1v1h-1zM258.9 274.0h1v1h-1zM255.1 275.2h1v1h-1zM259.8 274.1h1v1h-1zM263.6 277.1h1v1h-1zM266.4 276.9h1v1h-1zM256.4 278.7h1v1h-1zM257.7 274.9h1v1h-1zM255.0 274.8h1v1h-1zM262.2 277.6h1v1h-1zM263.0 275.7h1v1h-1zM267.2 285.8h1v1h-1zM258.7 275.9h1v1h-1zM256.8 273.6h1v1h-1zM264.2 274.6h1v1h-1zM264.2 275.0h1v1h-1zM258.7 275.0h1v1h-1zM258.2 275.2h1v1h-1zM264.0 276.8h1v1h-1zM254.4 273.4h1v1h-1zM263.5 274.4h1v1h-1zM264.1 283.6h1v1h-1zM254.7 274.3h1v1h-1zM264.4 274.8h1v1h-1zM259.4 277.0h1v1h-1zM257.0 275.0h1v1h-1zM262.1 277.7h1v1h-1zM259.7 274.9h1v1h-1zM265.9 285.8h1v1h-1zM260.0 276.8h1v1h-1zM262.6 281.5h1v1h-1zM257.2 277.7h1v1h-1zM263.0 277.0h1v1h-1zM262.0 278.0h1v1h-1zM262.5 280.7h1v1h-1zM260.3 278.6h1v1h-1zM260.3 277.3h1v1h-1zM262.7 275.4h1v1h-1zM260.1 274.6h1v1h-1zM262.6 275.1h1v1h-1zM256.1 273.5h1v1h-1zM265.2 277.0h1v1h-1zM258.5 274.3h1v1h-1zM261.9 276.4h1v1h-1zM256.3 276.2h1v1h-1zM264.0 277.0h1v1h-1zM262.0 280.8h1v1h-1zM261.7 278.9h1v1h-1zM261.3 278.9h1v1h-1zM259.2 277.1h1v1h-1zM263.4 282.0h1v1h-1zM261.9 275.3h1v1h-1zM275.8 280.8h1v1h-1zM270.4 277.5h1v1h-1zM257.2 275.3h1v1h-1zM256.3 274.3h1v1h-1zM276.4 281.0h1v1h-1zM253.6 275.8h1v1h-1zM255.8 276.1h1v1h-1zM253.6 275.3h1v1h-1zM253.9 276.9h1v1h-1zM259.7 276.0h1v1h-1zM262.8 276.6h1v1h-1zM265.1 285.0h1v1h-1zM260.9 278.7h1v1h-1zM268.1 276.2h1v1h-1zM263.1 274.6h1v1h-1zM259.5 275.4h1v1h-1zM265.8 276.1h1v1h-1zM263.1 281.1h1v1h-1zM258.5 276.2h1v1h-1zM262.5 280.6h1v1h-1zM262.2 279.4h1v1h-1zM259.3 276.8h1v1h-1zM263.0 282.1h1v1h-1zM260.2 274.9h1v1h-1zM258.9 273.7h1v1h-1zM260.0 274.5h1v1h-1zM256.8 278.4h1v1h-1zM262.8 277.7h1v1h-1zM256.7 274.1h1v1h-1zM263.5 276.4h1v1h-1zM256.8 273.9h1v1h-1zM257.2 276.0h1v1h-1zM264.4 283.9h1v1h-1zM255.6 273.0h1v1h-1zM254.5 277.4h1v1h-1zM265.9 276.0h1v1h-1zM256.8 274.4h1v1h-1zM261.0 277.2h1v1h-1zM258.4 275.2h1v1h-1zM260.8 279.3h1v1h-1zM262.0 280.1h1v1h-1zM255.9 273.4h1v1h-1zM262.4 280.1h1v1h-1zM263.4 275.3h1v1h-1zM262.5 277.6h1v1h-1zM254.7 277.3h1v1h-1zM253.8 276.9h1v1h-1zM254.1 275.6h1v1h-1zM263.0 278.9h1v1h-1zM256.3 274.6h1v1h-1zM260.4 274.6h1v1h-1zM255.6 273.5h1v1h-1zM255.4 273.6h1v1h-1zM263.7 282.4h1v1h-1zM254.0 274.1h1v1h-1zM253.8 276.1h1v1h-1zM259.6 278.3h1v1h-1zM258.3 274.3h1v1h-1zM263.2 277.1h1v1h-1zM256.0 277.3h1v1h-1zM254.3 275.1h1v1h-1zM259.6 273.9h1v1h-1zM262.6 277.5h1v1h-1zM255.2 278.0h1v1h-1zM263.2 279.8h1v1h-1zM256.3 274.9h1v1h-1zM263.2 280.5h1v1h-1zM263.3 277.4h1v1h-1zM256.9 278.5h1v1h-1zM264.8 275.3h1v1h-1zM266.1 276.7h1v1h-1zM262.6 277.8h1v1h-1zM258.0 275.1h1v1h-1zM264.2 276.2h1v1h-1zM262.6 276.8h1v1h-1zM268.4 276.8h1v1h-1zM258.0 275.5h1v1h-1zM260.5 275.1h1v1h-1zM273.2 285.7h1v1h-1zM258.9 273.7h1v1h-1zM263.4 280.4h1v1h-1zM263.1 280.8h1v1h-1zM258.0 277.1h1v1h-1zM259.7 277.6h1v1h-1zM259.5 277.5h1v1h-1zM259.3 274.0h1v1h-1zM257.0 277.0h1v1h-1zM264.5 276.9h1v1h-1zM258.7 274.4h1v1h-1zM263.6 275.8h1v1h-1zM253.9 275.5h1v1h-1zM253.8 274.9h1v1h-1zM254.6 274.3h1v1h-1zM259.7 273.9h1v1h-1zM255.8 275.7h1v1h-1zM261.2 275.3h1v1h-1zM254.7 275.2h1v1h-1zM255.9 273.4h1v1h-1zM261.3 278.4h1v1h-1zM254.3 274.6h1v1h-1zM253.9 276.6h1v1h-1zM261.3 278.2h1v1h-1zM258.8 274.9h1v1h-1zM259.6 277.5h1v1h-1zM265.8 275.1h1v1h-1zM264.1 284.0h1v1h-1zM256.5 278.8h1v1h-1zM265.0 284.6h1v1h-1zM255.5 276.5h1v1h-1zM263.9 275.9h1v1h-1zM256.3 273.8h1v1h-1zM275.5 280.6h1v1h-1zM262.9 280.8h1v1h-1zM263.2 275.0h1v1h-1zM259.0 277.2h1v1h-1zM262.9 277.9h1v1h-1zM263.6 276.7h1v1h-1zM259.5 275.5h1v1h-1zM259.2 275.5h1v1h-1zM254.5 275.2h1v1h-1zM257.9 274.0h1v1h-1zM254.9 275.9h1v1h-1zM255.3 277.4h1v1h-1zM262.3 278.2h1v1h-1zM253.3 275.6h1v1h-1zM260.0 275.1h1v1h-1zM260.1 277.5h1v1h-1zM270.4 277.7h1v1h-1zM269.2 286.5h1v1h-1zM272.6 278.7h1v1h-1zM268.5 286.1h1v1h-1zM275.1 284.4h1v1h-1zM265.3 285.4h1v1h-1zM263.3 280.6h1v1h-1zM275.9 282.2h1v1h-1zM272.5 285.9h1v1h-1zM264.3 283.4h1v1h-1zM274.2 285.0h1v1h-1zM275.7 281.0h1v1h-1zM276.5 282.1h1v1h-1zM271.4 285.8h1v1h-1zM272.1 286.0h1v1h-1zM268.1 277.1h1v1h-1zM267.1 285.9h1v1h-1zM269.8 277.5h1v1h-1zM265.1 276.6h1v1h-1zM264.8 284.6h1v1h-1zM274.5 284.9h1v1h-1zM266.9 286.0h1v1h-1zM275.9 281.1h1v1h-1zM267.4 277.0h1v1h-1zM275.7 283.8h1v1h-1zM273.0 285.6h1v1h-1zM266.5 286.2h1v1h-1zM264.8 285.1h1v1h-1zM275.0 284.9h1v1h-1zM271.2 278.0h1v1h-1zM261.4 280.1h1v1h-1zM263.8 284.4h1v1h-1zM261.8 278.4h1v1h-1zM264.3 283.9h1v1h-1zM266.3 285.5h1v1h-1zM267.1 285.8h1v1h-1zM275.3 279.8h1v1h-1zM274.5 285.0h1v1h-1zM274.6 284.6h1v1h-1zM275.9 283.2h1v1h-1zM263.0 282.8h1v1h-1zM265.4 285.1h1v1h-1zM265.2 285.5h1v1h-1zM272.1 285.8h1v1h-1zM275.2 279.4h1v1h-1zM271.9 286.0h1v1h-1zM268.4 286.0h1v1h-1zM275.7 282.8h1v1h-1zM271.8 285.8h1v1h-1zM269.1 286.5h1v1h-1zM266.1 302.2h1v1h-1zM266.4 304.9h1v1h-1zM268.4 303.9h1v1h-1zM268.3 304.4h1v1h-1zM266.3 304.8h1v1h-1zM267.9 305.3h1v1h-1zM265.6 303.2h1v1h-1zM267.9 305.5h1v1h-1zM265.6 303.0h1v1h-1zM266.3 303.2h1v1h-1zM265.8 301.9h1v1h-1zM266.7 301.6h1v1h-1zM266.8 303.2h1v1h-1zM267.6 303.2h1v1h-1zM267.3 304.0h1v1h-1zM267.9 304.4h1v1h-1zM268.1 303.4h1v1h-1zM267.1 302.2h1v1h-1zM265.6 302.7h1v1h-1zM266.4 301.7h1v1h-1zM267.4 302.0h1v1h-1zM266.3 302.1h1v1h-1zM268.4 305.8h1v1h-1zM266.7 303.7h1v1h-1zM266.3 303.5h1v1h-1zM267.1 304.3h1v1h-1zM266.4 303.0h1v1h-1zM267.0 302.0h1v1h-1zM265.8 301.9h1v1h-1zM267.8 304.5h1v1h-1zM266.8 305.3h1v1h-1zM266.9 305.8h1v1h-1zM267.3 304.8h1v1h-1zM268.6 305.5h1v1h-1zM265.9 302.1h1v1h-1zM267.6 305.5h1v1h-1zM266.9 301.7h1v1h-1zM267.9 305.1h1v1h-1zM267.4 305.5h1v1h-1zM267.8 305.4h1v1h-1zM267.5 302.5h1v1h-1zM267.8 305.1h1v1h-1zM267.5 304.6h1v1h-1zM266.1 301.5h1v1h-1zM266.2 304.5h1v1h-1zM268.4 303.0h1v1h-1zM268.2 303.6h1v1h-1zM268.7 304.0h1v1h-1zM268.4 305.4h1v1h-1zM267.9 303.2h1v1h-1zM257.8 276.8h1v1h-1z" fill="rgb(83, 126, 158)" opacity="0.71"/>
<path d="M263.9 277.4h1v1h-1zM266.2 285.0h1v1h-1zM272.1 285.2h1v1h-1zM266.5 285.4h1v1h-1zM268.7 278.2h1v1h-1zM264.2 279.9h1v1h-1zM264.0 278.4h1v1h-1zM266.6 277.9h1v1h-1zM263.5 277.7h1v1h-1zM275.1 280.7h1v1h-1zM265.4 278.9h1v1h-1zM264.6 280.8h1v1h-1zM263.7 279.5h1v1h-1zM275.6 282.7h1v1h-1zM264.9 278.7h1v1h-1zM265.7 278.9h1v1h-1zM265.7 278.3h1v1h-1zM268.5 278.0h1v1h-1zM264.3 282.5h1v1h-1zM265.0 282.8h1v1h-1zM272.1 278.8h1v1h-1zM264.9 281.9h1v1h-1zM268.1 277.6h1v1h-1zM266.9 277.2h1v1h-1zM266.5 284.8h1v1h-1zM264.7 282.2h1v1h-1zM275.4 283.2h1v1h-1zM269.4 278.2h1v1h-1zM264.2 279.1h1v1h-1zM267.5 277.8h1v1h-1zM264.6 281.7h1v1h-1zM264.2 279.2h1v1h-1zM264.4 281.2h1v1h-1zM263.4 279.9h1v1h-1zM264.1 278.6h1v1h-1zM264.7 281.4h1v1h-1zM270.7 278.4h1v1h-1zM265.1 278.3h1v1h-1zM267.1 277.5h1v1h-1zM264.9 278.5h1v1h-1zM273.5 284.9h1v1h-1zM267.8 277.8h1v1h-1zM264.8 278.6h1v1h-1zM268.4 277.4h1v1h-1zM263.0 278.0h1v1h-1zM264.0 277.3h1v1h-1zM270.2 278.4h1v1h-1zM272.3 278.9h1v1h-1zM264.3 282.8h1v1h-1zM274.8 284.2h1v1h-1zM266.4 285.0h1v1h-1zM268.0 285.8h1v1h-1zM264.2 278.1h1v1h-1zM274.7 284.2h1v1h-1zM266.5 285.0h1v1h-1zM268.2 285.3h1v1h-1zM272.8 278.9h1v1h-1zM268.2 285.6h1v1h-1zM265.0 282.8h1v1h-1zM263.6 277.8h1v1h-1zM275.1 281.9h1v1h-1zM271.2 285.5h1v1h-1zM264.7 281.8h1v1h-1zM266.5 284.7h1v1h-1zM265.3 283.2h1v1h-1zM264.9 280.0h1v1h-1zM272.0 278.8h1v1h-1zM268.8 285.6h1v1h-1zM267.7 277.3h1v1h-1zM274.7 280.7h1v1h-1zM264.7 282.4h1v1h-1zM274.5 280.5h1v1h-1zM265.1 279.5h1v1h-1zM270.2 285.3h1v1h-1zM275.4 283.1h1v1h-1zM274.0 284.6h1v1h-1zM265.1 284.0h1v1h-1zM273.3 284.8h1v1h-1zM268.0 285.3h1v1h-1zM267.4 278.1h1v1h-1zM275.1 281.5h1v1h-1zM275.3 282.3h1v1h-1zM275.2 280.5h1v1h-1zM263.4 278.7h1v1h-1zM268.4 285.3h1v1h-1zM268.2 285.5h1v1h-1zM269.3 277.9h1v1h-1zM267.3 277.5h1v1h-1zM265.5 284.1h1v1h-1zM274.4 284.4h1v1h-1zM271.5 285.4h1v1h-1zM275.6 282.6h1v1h-1zM264.9 280.2h1v1h-1zM275.4 282.0h1v1h-1zM275.3 282.7h1v1h-1zM274.9 280.5h1v1h-1zM265.5 284.7h1v1h-1zM268.4 285.3h1v1h-1zM274.7 284.0h1v1h-1zM265.2 278.9h1v1h-1zM269.5 285.6h1v1h-1zM275.1 283.7h1v1h-1zM267.3 285.5h1v1h-1zM265.5 283.6h1v1h-1zM274.2 279.9h1v1h-1zM265.1 284.2h1v1h-1zM266.0 278.1h1v1h-1zM268.8 285.9h1v1h-1zM274.9 283.6h1v1h-1zM272.3 279.1h1v1h-1zM274.4 280.4h1v1h-1zM274.8 280.0h1v1h-1zM266.3 277.3h1v1h-1zM275.4 280.9h1v1h-1zM274.0 284.8h1v1h-1zM269.1 278.0h1v1h-1zM272.9 285.1h1v1h-1zM265.2 277.8h1v1h-1zM265.7 278.4h1v1h-1z" fill="rgb(76, 136, 147)" opacity="0.79"/>
<path d="M266.0 279.6h1v1h-1zM266.8 278.4h1v1h-1zM266.4 283.7h1v1h-1zM264.9 281.5h1v1h-1zM266.3 279.2h1v1h-1zM266.6 283.9h1v1h-1zM265.4 279.3h1v1h-1zM265.0 281.5h1v1h-1zM265.5 279.6h1v1h-1zM272.6 279.8h1v1h-1zM267.8 284.4h1v1h-1zM266.9 278.9h1v1h-1zM274.3 281.9h1v1h-1zM268.2 278.2h1v1h-1zM266.5 284.4h1v1h-1zM274.0 283.4h1v1h-1zM265.3 281.0h1v1h-1zM268.5 278.3h1v1h-1zM272.3 279.2h1v1h-1zM265.8 282.5h1v1h-1zM270.9 279.0h1v1h-1zM266.5 278.4h1v1h-1zM267.9 278.7h1v1h-1zM266.8 284.5h1v1h-1zM273.7 284.0h1v1h-1zM267.9 278.6h1v1h-1zM266.0 283.2h1v1h-1zM266.0 278.7h1v1h-1zM274.4 283.1h1v1h-1zM265.4 280.4h1v1h-1zM265.2 281.4h1v1h-1zM266.2 278.5h1v1h-1zM265.6 279.8h1v1h-1zM271.9 285.0h1v1h-1zM272.5 279.6h1v1h-1zM274.7 281.6h1v1h-1zM269.6 284.8h1v1h-1zM265.5 281.5h1v1h-1zM265.3 282.2h1v1h-1zM273.6 280.4h1v1h-1zM270.7 284.8h1v1h-1zM274.3 283.5h1v1h-1zM265.1 281.4h1v1h-1zM267.2 278.7h1v1h-1zM270.8 285.2h1v1h-1zM267.8 285.0h1v1h-1zM267.0 279.1h1v1h-1zM269.3 285.3h1v1h-1zM272.6 279.8h1v1h-1zM273.7 283.9h1v1h-1zM269.0 284.7h1v1h-1zM266.4 284.4h1v1h-1zM268.8 285.1h1v1h-1zM265.4 281.6h1v1h-1zM267.8 284.9h1v1h-1zM267.0 284.1h1v1h-1zM273.3 284.0h1v1h-1zM265.9 282.1h1v1h-1zM274.2 283.5h1v1h-1zM266.3 283.6h1v1h-1zM271.7 279.3h1v1h-1zM274.2 280.9h1v1h-1zM265.2 279.4h1v1h-1zM265.1 280.7h1v1h-1zM265.2 281.1h1v1h-1zM270.8 285.1h1v1h-1zM274.2 282.1h1v1h-1zM274.9 281.6h1v1h-1zM274.9 281.9h1v1h-1zM274.1 280.7h1v1h-1zM266.5 283.5h1v1h-1zM272.9 279.7h1v1h-1zM274.1 282.8h1v1h-1zM270.9 279.0h1v1h-1zM266.4 284.3h1v1h-1zM274.2 282.8h1v1h-1zM271.8 284.7h1v1h-1zM273.9 283.7h1v1h-1zM273.1 284.3h1v1h-1zM269.0 278.8h1v1h-1zM274.2 280.6h1v1h-1zM268.3 284.6h1v1h-1zM273.9 281.0h1v1h-1zM266.8 284.7h1v1h-1zM265.3 280.9h1v1h-1zM273.2 279.9h1v1h-1zM265.7 280.5h1v1h-1zM266.4 283.7h1v1h-1zM266.9 278.3h1v1h-1zM266.5 283.5h1v1h-1zM271.0 284.6h1v1h-1zM274.1 281.2h1v1h-1zM265.1 280.6h1v1h-1zM269.1 284.8h1v1h-1zM266.5 284.0h1v1h-1zM269.2 278.3h1v1h-1zM267.2 278.5h1v1h-1zM269.2 285.0h1v1h-1zM274.2 283.1h1v1h-1zM267.5 284.8h1v1h-1zM270.4 278.7h1v1h-1zM274.6 283.1h1v1h-1zM274.1 280.5h1v1h-1zM267.9 284.8h1v1h-1zM265.5 281.9h1v1h-1zM274.3 281.1h1v1h-1zM274.4 281.0h1v1h-1zM265.2 279.9h1v1h-1zM265.6 282.0h1v1h-1z" fill="rgb(96, 154, 117)" opacity="0.89"/>
<path d="M272.6 280.3h1v1h-1zM270.1 279.1h1v1h-1zM270.1 279.1h1v1h-1zM268.6 279.3h1v1h-1zM269.1 284.3h1v1h-1zM266.7 281.7h1v1h-1zM266.9 281.7h1v1h-1zM267.1 279.9h1v1h-1zM266.6 281.1h1v1h-1zM266.7 279.8h1v1h-1zM266.6 280.1h1v1h-1zM267.3 282.8h1v1h-1zM272.8 280.1h1v1h-1zM267.4 283.2h1v1h-1zM273.5 282.7h1v1h-1zM267.0 279.4h1v1h-1zM266.0 281.4h1v1h-1zM266.8 282.5h1v1h-1zM269.0 279.3h1v1h-1zM270.6 284.1h1v1h-1zM272.0 279.9h1v1h-1zM272.7 283.9h1v1h-1zM266.7 280.5h1v1h-1zM271.9 280.0h1v1h-1zM266.7 280.7h1v1h-1zM267.1 283.6h1v1h-1zM273.5 283.7h1v1h-1zM270.9 279.5h1v1h-1zM266.6 282.6h1v1h-1zM272.7 283.8h1v1h-1zM272.2 279.7h1v1h-1zM273.1 280.9h1v1h-1zM266.6 280.9h1v1h-1zM269.1 279.2h1v1h-1zM267.7 283.6h1v1h-1zM267.8 279.7h1v1h-1zM269.8 284.6h1v1h-1zM266.8 281.7h1v1h-1zM266.8 282.9h1v1h-1zM267.0 280.4h1v1h-1zM268.6 284.6h1v1h-1zM267.9 278.9h1v1h-1zM267.9 279.3h1v1h-1zM272.8 280.8h1v1h-1zM272.7 280.0h1v1h-1zM272.2 280.3h1v1h-1zM274.0 282.0h1v1h-1zM267.7 283.2h1v1h-1zM273.7 283.1h1v1h-1zM272.7 284.1h1v1h-1zM266.2 281.1h1v1h-1zM273.2 283.9h1v1h-1zM269.2 284.1h1v1h-1zM269.8 279.4h1v1h-1zM272.4 279.9h1v1h-1zM273.5 281.0h1v1h-1zM267.0 280.7h1v1h-1zM266.7 279.6h1v1h-1zM269.0 284.6h1v1h-1zM273.5 282.8h1v1h-1zM266.8 281.6h1v1h-1zM269.0 284.1h1v1h-1zM273.3 283.7h1v1h-1zM271.5 284.3h1v1h-1zM266.4 282.7h1v1h-1zM273.8 283.3h1v1h-1zM270.3 284.2h1v1h-1zM270.6 279.2h1v1h-1zM267.4 283.7h1v1h-1zM267.1 280.2h1v1h-1zM271.4 284.2h1v1h-1zM267.2 280.0h1v1h-1zM272.1 280.2h1v1h-1zM272.3 283.8h1v1h-1zM270.9 284.1h1v1h-1zM267.8 284.2h1v1h-1zM271.0 279.2h1v1h-1zM267.4 283.6h1v1h-1zM267.9 279.0h1v1h-1zM266.7 281.6h1v1h-1zM271.9 284.0h1v1h-1zM273.6 283.1h1v1h-1zM268.1 283.7h1v1h-1zM270.5 284.1h1v1h-1zM271.7 279.6h1v1h-1zM267.0 280.8h1v1h-1zM266.7 281.6h1v1h-1zM270.3 279.4h1v1h-1zM268.6 284.3h1v1h-1zM272.8 283.9h1v1h-1zM272.1 284.2h1v1h-1zM266.6 282.3h1v1h-1zM270.0 279.2h1v1h-1zM273.5 282.7h1v1h-1zM266.4 280.5h1v1h-1zM274.0 282.3h1v1h-1zM273.1 280.7h1v1h-1zM266.5 282.4h1v1h-1zM273.5 283.4h1v1h-1zM267.6 284.2h1v1h-1zM273.3 281.7h1v1h-1zM271.3 284.3h1v1h-1zM271.6 284.1h1v1h-1zM269.5 279.3h1v1h-1zM271.2 284.5h1v1h-1zM269.2 284.4h1v1h-1zM266.8 281.0h1v1h-1zM270.7 284.2h1v1h-1zM272.4 284.1h1v1h-1zM273.0 280.7h1v1h-1zM273.0 283.5h1v1h-1zM268.7 284.6h1v1h-1zM267.2 280.3h1v1h-1zM273.5 281.8h1v1h-1zM266.3 282.6h1v1h-1zM270.9 279.3h1v1h-1zM273.5 283.4h1v1h-1zM273.6 281.6h1v1h-1z" fill="rgb(119, 171, 88)" opacity="0.90"/>
<path d="M268.2 280.2h1v1h-1zM267.3 280.6h1v1h-1zM267.7 281.3h1v1h-1zM267.4 280.6h1v1h-1zM268.6 282.7h1v1h-1zM268.6 282.7h1v1h-1zM271.6 280.5h1v1h-1zM268.2 282.2h1v1h-1zM271.8 280.2h1v1h-1zM267.9 280.6h1v1h-1zM272.2 281.0h1v1h-1zM269.8 280.1h1v1h-1zM269.5 280.0h1v1h-1zM267.6 280.3h1v1h-1zM271.7 280.8h1v1h-1zM267.0 281.7h1v1h-1zM270.0 279.9h1v1h-1zM271.6 280.3h1v1h-1zM268.4 280.6h1v1h-1zM272.1 282.9h1v1h-1zM271.7 280.3h1v1h-1zM268.3 279.9h1v1h-1zM269.3 283.7h1v1h-1zM268.5 282.7h1v1h-1zM272.7 281.7h1v1h-1zM272.7 282.4h1v1h-1zM268.4 279.9h1v1h-1zM271.1 280.2h1v1h-1zM268.1 282.3h1v1h-1zM271.0 280.0h1v1h-1zM272.2 283.6h1v1h-1zM271.6 283.8h1v1h-1zM268.9 280.2h1v1h-1zM272.7 283.2h1v1h-1zM268.8 283.8h1v1h-1zM272.5 280.9h1v1h-1zM267.4 282.2h1v1h-1zM272.4 282.6h1v1h-1zM269.8 284.0h1v1h-1zM271.2 280.3h1v1h-1zM273.1 282.0h1v1h-1zM273.2 282.6h1v1h-1zM268.3 282.7h1v1h-1zM268.6 280.0h1v1h-1zM270.3 280.2h1v1h-1zM272.4 282.0h1v1h-1zM270.9 279.9h1v1h-1zM269.7 279.9h1v1h-1zM272.8 283.1h1v1h-1zM271.0 283.3h1v1h-1zM268.2 282.8h1v1h-1zM267.9 282.3h1v1h-1zM271.0 283.7h1v1h-1zM270.8 280.0h1v1h-1zM269.2 283.7h1v1h-1zM267.3 282.4h1v1h-1zM269.6 280.1h1v1h-1zM269.0 279.7h1v1h-1zM267.5 280.8h1v1h-1zM269.9 284.0h1v1h-1zM270.9 283.9h1v1h-1zM267.8 280.0h1v1h-1zM268.7 280.0h1v1h-1zM273.1 281.6h1v1h-1zM270.5 280.2h1v1h-1zM272.5 282.8h1v1h-1zM268.5 283.5h1v1h-1zM268.2 280.7h1v1h-1zM268.4 280.0h1v1h-1zM268.4 283.1h1v1h-1zM271.6 283.3h1v1h-1zM272.5 282.2h1v1h-1zM267.8 283.1h1v1h-1zM269.0 280.2h1v1h-1zM270.5 283.6h1v1h-1zM269.6 283.7h1v1h-1zM267.9 282.0h1v1h-1zM268.2 280.6h1v1h-1zM271.3 283.8h1v1h-1zM271.9 280.3h1v1h-1zM271.6 280.1h1v1h-1zM269.7 279.6h1v1h-1zM270.3 283.4h1v1h-1zM270.6 280.0h1v1h-1zM267.9 281.5h1v1h-1zM267.9 280.4h1v1h-1zM269.1 280.1h1v1h-1zM270.0 283.4h1v1h-1zM272.7 281.8h1v1h-1zM267.9 282.2h1v1h-1zM270.2 280.0h1v1h-1zM268.7 283.6h1v1h-1zM273.0 282.3h1v1h-1zM267.7 281.7h1v1h-1zM271.5 280.3h1v1h-1zM269.2 283.2h1v1h-1zM267.8 280.9h1v1h-1zM268.1 280.4h1v1h-1zM267.8 282.9h1v1h-1zM270.1 283.9h1v1h-1zM271.9 280.6h1v1h-1zM272.3 281.1h1v1h-1zM272.6 282.2h1v1h-1zM271.7 283.6h1v1h-1zM270.8 283.9h1v1h-1zM271.8 283.3h1v1h-1zM267.7 280.5h1v1h-1z" fill="rgb(163, 182, 72)" opacity="0.90"/>
<path d="M270.7 283.0h1v1h-1zM270.1 282.6h1v1h-1zM269.3 280.7h1v1h-1zM271.4 282.8h1v1h-1zM269.0 281.7h1v1h-1zM269.0 280.7h1v1h-1zM271.6 281.9h1v1h-1zM269.4 282.4h1v1h-1zM268.9 280.9h1v1h-1zM269.0 281.2h1v1h-1zM268.5 281.0h1v1h-1zM270.1 280.3h1v1h-1zM270.9 280.9h1v1h-1zM271.1 283.2h1v1h-1zM270.8 280.9h1v1h-1zM270.2 282.7h1v1h-1zM270.0 283.3h1v1h-1zM270.1 281.9h1v1h-1zM271.1 282.6h1v1h-1zM269.4 283.1h1v1h-1zM269.6 280.7h1v1h-1zM271.1 281.0h1v1h-1zM269.4 281.5h1v1h-1zM270.0 280.7h1v1h-1zM271.4 281.2h1v1h-1zM271.1 283.0h1v1h-1zM269.0 282.5h1v1h-1zM269.0 280.9h1v1h-1zM270.5 282.1h1v1h-1zM268.7 282.4h1v1h-1zM270.0 282.8h1v1h-1zM270.1 280.8h1v1h-1zM271.7 282.1h1v1h-1zM270.9 282.2h1v1h-1zM270.7 282.3h1v1h-1zM270.6 283.1h1v1h-1zM269.5 282.2h1v1h-1zM272.1 282.0h1v1h-1zM270.0 280.8h1v1h-1zM268.3 281.3h1v1h-1zM271.2 281.8h1v1h-1zM270.2 283.3h1v1h-1zM270.6 281.9h1v1h-1zM268.9 280.7h1v1h-1zM271.6 282.3h1v1h-1zM269.7 281.9h1v1h-1zM271.1 282.4h1v1h-1zM269.4 281.4h1v1h-1zM270.4 281.9h1v1h-1zM269.3 281.4h1v1h-1zM271.0 281.7h1v1h-1zM271.8 281.2h1v1h-1zM270.6 283.1h1v1h-1zM269.6 281.2h1v1h-1zM269.1 281.2h1v1h-1zM271.7 283.0h1v1h-1zM270.1 282.3h1v1h-1zM268.1 281.5h1v1h-1zM269.1 281.8h1v1h-1zM272.1 282.7h1v1h-1zM271.8 282.9h1v1h-1zM270.1 280.6h1v1h-1zM269.8 282.9h1v1h-1zM271.1 282.0h1v1h-1zM271.9 282.2h1v1h-1zM269.9 282.4h1v1h-1zM270.7 282.4h1v1h-1zM269.6 282.3h1v1h-1zM270.9 281.3h1v1h-1zM271.1 281.6h1v1h-1zM270.9 282.1h1v1h-1zM271.5 281.6h1v1h-1zM268.6 281.9h1v1h-1zM270.3 281.9h1v1h-1zM271.2 281.3h1v1h-1zM271.6 282.5h1v1h-1zM268.8 280.9h1v1h-1zM268.9 280.4h1v1h-1zM269.1 281.6h1v1h-1zM271.9 282.5h1v1h-1zM269.2 281.6h1v1h-1zM271.9 282.5h1v1h-1zM269.3 281.6h1v1h-1zM269.6 283.1h1v1h-1zM271.0 280.6h1v1h-1zM271.5 282.3h1v1h-1zM270.4 281.1h1v1h-1zM268.8 281.3h1v1h-1zM271.3 282.6h1v1h-1zM270.6 281.8h1v1h-1zM268.4 280.8h1v1h-1zM270.4 281.1h1v1h-1zM270.1 281.7h1v1h-1zM270.5 282.6h1v1h-1zM269.4 281.3h1v1h-1zM269.3 282.3h1v1h-1zM271.0 280.9h1v1h-1zM272.2 282.4h1v1h-1zM270.1 280.3h1v1h-1zM269.5 281.5h1v1h-1zM271.4 280.9h1v1h-1zM271.5 283.1h1v1h-1zM271.7 281.6h1v1h-1zM268.9 282.2h1v1h-1zM269.6 280.8h1v1h-1zM271.3 281.4h1v1h-1zM272.1 281.6h1v1h-1zM271.0 283.1h1v1h-1zM268.6 282.4h1v1h-1zM270.2 280.6h1v1h-1zM270.8 282.1h1v1h-1zM271.2 280.7h1v1h-1zM268.7 281.9h1v1h-1zM268.8 281.1h1v1h-1z" fill="rgb(199, 183, 56)" opacity="0.90"/>
<rect x="256.4" y="294.1" width="21.100000000000023" height="23.69999999999999" fill="none" stroke="#222" stroke-width="0.9" />
<text x="220" y="316.2" font-family="'Liberation Serif', serif" font-size="11.2" text-anchor="start" fill="#222" >13.3%</text>
<text x="246.4" y="252" font-family="'Liberation Serif', serif" font-size="9.6" text-anchor="middle" fill="#111" >shNdel1-2</text>
<line x1="214.0" y1="267.09999999999997" x2="215.2" y2="267.09999999999997" stroke="#333" stroke-width="0.7" />
<text x="212.6" y="268.5" font-family="Liberation Serif, serif" font-size="3.8" text-anchor="end" fill="#333">10<tspan font-size="2.8" dy="-1.3">5</tspan></text>
<line x1="214.0" y1="282.5" x2="215.2" y2="282.5" stroke="#333" stroke-width="0.7" />
<text x="212.6" y="283.9" font-family="Liberation Serif, serif" font-size="3.8" text-anchor="end" fill="#333">10<tspan font-size="2.8" dy="-1.3">4</tspan></text>
<line x1="214.0" y1="298.09999999999997" x2="215.2" y2="298.09999999999997" stroke="#333" stroke-width="0.7" />
<text x="212.6" y="299.5" font-family="Liberation Serif, serif" font-size="3.8" text-anchor="end" fill="#333">10<tspan font-size="2.8" dy="-1.3">3</tspan></text>
<line x1="214.0" y1="314.5" x2="215.2" y2="314.5" stroke="#333" stroke-width="0.7" />
<text x="212.6" y="315.9" font-family="Liberation Serif, serif" font-size="3.8" text-anchor="end" fill="#333">10<tspan font-size="2.8" dy="-1.3">2</tspan></text>
<text x="211.2" y="323.6" font-family="Liberation Serif, serif" font-size="3.8" text-anchor="end" fill="#333">0</text>
<line x1="214.0" y1="322.2" x2="215.2" y2="322.2" stroke="#333" stroke-width="0.7" />
<line x1="221.73418803418804" y1="329.4" x2="221.73418803418804" y2="330.59999999999997" stroke="#333" stroke-width="0.7" />
<text x="221.7" y="336.4" font-family="Liberation Serif, serif" font-size="3.8" text-anchor="middle" fill="#333">0</text>
<line x1="229.9514245014245" y1="329.4" x2="229.9514245014245" y2="330.59999999999997" stroke="#333" stroke-width="0.7" />
<text x="229.4" y="336.4" font-family="Liberation Serif, serif" font-size="3.8" text-anchor="middle" fill="#333">10<tspan font-size="2.8" dy="-1.3">2</tspan></text>
<line x1="245.09886039886038" y1="329.4" x2="245.09886039886038" y2="330.59999999999997" stroke="#333" stroke-width="0.7" />
<text x="244.5" y="336.4" font-family="Liberation Serif, serif" font-size="3.8" text-anchor="middle" fill="#333">10<tspan font-size="2.8" dy="-1.3">3</tspan></text>
<line x1="261.5333333333333" y1="329.4" x2="261.5333333333333" y2="330.59999999999997" stroke="#333" stroke-width="0.7" />
<text x="260.9" y="336.4" font-family="Liberation Serif, serif" font-size="3.8" text-anchor="middle" fill="#333">10<tspan font-size="2.8" dy="-1.3">4</tspan></text>
<line x1="273.8096866096866" y1="329.4" x2="273.8096866096866" y2="330.59999999999997" stroke="#333" stroke-width="0.7" />
<text x="273.2" y="336.4" font-family="Liberation Serif, serif" font-size="3.8" text-anchor="middle" fill="#333">10<tspan font-size="2.8" dy="-1.3">5</tspan></text>
<rect x="300.5" y="260.5" width="68.80000000000001" height="68.89999999999998" fill="#fff" stroke="#999" stroke-width="0.7" />
<line x1="300.5" y1="260.5" x2="300.5" y2="329.4" stroke="#333" stroke-width="0.8" />
<line x1="300.5" y1="329.4" x2="369.3" y2="329.4" stroke="#333" stroke-width="0.8" />
<path d="M302.4 273.1h1v1h-1zM301.7 273.8h1v1h-1zM305.5 269.8h1v1h-1zM305.2 271.0h1v1h-1zM353.5 270.7h1v1h-1zM314.9 278.1h1v1h-1zM351.7 281.3h1v1h-1zM365.4 302.1h1v1h-1zM351.4 319.4h1v1h-1zM359.2 324.6h1v1h-1zM364.6 295.9h1v1h-1zM358.6 315.4h1v1h-1zM356.4 288.3h1v1h-1zM359.4 287.8h1v1h-1zM360.4 288.2h1v1h-1zM348.1 311.8h1v1h-1zM365.6 306.8h1v1h-1zM361.0 312.9h1v1h-1zM353.9 283.2h1v1h-1zM347.8 296.0h1v1h-1zM360.6 289.5h1v1h-1zM366.6 296.8h1v1h-1zM360.5 286.2h1v1h-1zM349.7 289.7h1v1h-1zM346.8 299.8h1v1h-1zM361.6 289.2h1v1h-1zM366.1 301.1h1v1h-1zM346.1 303.1h1v1h-1zM357.5 318.7h1v1h-1zM367.2 302.7h1v1h-1zM365.7 303.2h1v1h-1zM353.8 320.3h1v1h-1zM352.7 288.2h1v1h-1zM358.2 315.5h1v1h-1zM364.8 298.7h1v1h-1zM350.1 285.8h1v1h-1zM361.1 291.3h1v1h-1zM346.8 297.2h1v1h-1zM363.6 295.5h1v1h-1zM357.8 316.0h1v1h-1zM353.2 287.5h1v1h-1zM355.5 287.0h1v1h-1zM363.4 290.3h1v1h-1zM366.6 291.0h1v1h-1zM349.7 291.0h1v1h-1zM360.4 316.7h1v1h-1zM363.4 292.7h1v1h-1zM344.3 302.5h1v1h-1zM348.6 312.3h1v1h-1zM365.5 307.4h1v1h-1zM343.8 291.6h1v1h-1zM341.5 287.8h1v1h-1zM347.4 323.5h1v1h-1zM310.0 304.2h1v1h-1zM339.2 295.2h1v1h-1zM337.3 293.9h1v1h-1zM366.3 296.6h1v1h-1zM364.1 325.0h1v1h-1zM321.6 300.9h1v1h-1zM319.3 314.5h1v1h-1zM343.3 306.7h1v1h-1zM321.6 320.0h1v1h-1zM341.7 288.4h1v1h-1zM348.1 294.9h1v1h-1zM329.2 290.8h1v1h-1zM322.1 302.2h1v1h-1zM341.7 316.6h1v1h-1zM314.1 322.6h1v1h-1zM305.8 270.4h1v1h-1zM339.2 320.4h1v1h-1zM318.8 269.1h1v1h-1zM320.8 269.0h1v1h-1zM358.2 324.4h1v1h-1zM337.5 302.0h1v1h-1zM332.4 315.7h1v1h-1zM348.3 311.4h1v1h-1zM337.0 306.0h1v1h-1zM355.6 286.1h1v1h-1zM320.0 281.8h1v1h-1zM303.0 278.7h1v1h-1zM322.1 283.7h1v1h-1zM316.3 292.9h1v1h-1zM309.3 317.3h1v1h-1zM354.1 270.6h1v1h-1zM362.1 292.2h1v1h-1zM331.8 288.6h1v1h-1zM322.2 268.8h1v1h-1zM340.3 325.2h1v1h-1zM341.5 318.0h1v1h-1zM337.8 302.1h1v1h-1zM311.4 313.1h1v1h-1zM332.6 289.7h1v1h-1zM341.6 301.2h1v1h-1zM358.2 321.2h1v1h-1zM332.5 284.6h1v1h-1zM316.7 302.2h1v1h-1zM365.0 286.4h1v1h-1zM349.2 282.2h1v1h-1zM318.4 290.9h1v1h-1zM335.7 319.4h1v1h-1zM352.1 324.6h1v1h-1zM330.8 298.7h1v1h-1zM339.3 295.5h1v1h-1zM357.4 286.4h1v1h-1zM334.6 322.4h1v1h-1zM331.8 311.1h1v1h-1zM347.6 311.1h1v1h-1z" fill="rgb(142, 153, 199)" opacity="0.34"/>
<path d="M304.5 272.8h1v1h-1zM321.5 277.6h1v1h-1zM304.7 276.3h1v1h-1zM330.3 278.0h1v1h-1zM344.4 278.7h1v1h-1zM348.0 272.3h1v1h-1zM307.6 271.0h1v1h-1zM344.3 278.0h1v1h-1zM307.6 272.5h1v1h-1zM352.5 272.2h1v1h-1zM368.2 276.0h1v1h-1zM347.0 278.2h1v1h-1zM303.4 273.8h1v1h-1zM321.9 271.4h1v1h-1zM305.1 273.7h1v1h-1zM306.8 272.3h1v1h-1zM366.4 274.4h1v1h-1zM315.4 270.8h1v1h-1zM327.4 271.1h1v1h-1zM303.5 274.4h1v1h-1zM305.0 274.9h1v1h-1zM306.0 275.0h1v1h-1zM303.0 274.7h1v1h-1zM305.3 273.8h1v1h-1zM312.3 277.0h1v1h-1zM304.9 273.6h1v1h-1zM306.6 275.3h1v1h-1zM307.2 275.9h1v1h-1zM304.6 276.0h1v1h-1zM306.2 275.3h1v1h-1zM306.6 273.0h1v1h-1zM367.5 275.2h1v1h-1zM350.2 278.9h1v1h-1zM368.1 277.1h1v1h-1zM349.5 278.9h1v1h-1zM358.4 272.5h1v1h-1zM362.5 282.4h1v1h-1zM359.7 283.0h1v1h-1zM367.5 278.8h1v1h-1zM367.8 278.3h1v1h-1zM367.5 280.2h1v1h-1zM367.9 278.2h1v1h-1zM357.3 282.8h1v1h-1zM364.8 281.1h1v1h-1zM366.4 279.9h1v1h-1zM359.2 291.0h1v1h-1zM355.4 313.3h1v1h-1zM361.9 295.2h1v1h-1zM354.7 315.0h1v1h-1zM352.0 311.6h1v1h-1zM357.7 291.0h1v1h-1zM348.6 308.3h1v1h-1zM348.0 298.9h1v1h-1zM352.2 312.6h1v1h-1zM362.5 298.4h1v1h-1zM363.1 304.4h1v1h-1zM347.5 297.3h1v1h-1zM348.4 306.6h1v1h-1zM360.2 290.8h1v1h-1zM355.7 313.5h1v1h-1zM350.5 311.8h1v1h-1zM358.0 313.0h1v1h-1zM353.6 292.3h1v1h-1zM362.4 301.0h1v1h-1zM347.5 303.3h1v1h-1zM363.9 308.2h1v1h-1zM364.4 307.2h1v1h-1zM351.0 311.4h1v1h-1zM348.8 303.6h1v1h-1zM348.9 304.2h1v1h-1zM359.9 293.8h1v1h-1zM356.6 291.4h1v1h-1zM352.9 292.5h1v1h-1zM351.8 292.0h1v1h-1zM353.2 291.0h1v1h-1zM362.0 307.9h1v1h-1zM358.1 312.9h1v1h-1zM349.5 297.4h1v1h-1zM359.7 294.7h1v1h-1zM350.1 294.4h1v1h-1zM348.4 301.4h1v1h-1zM364.8 304.8h1v1h-1zM353.9 313.3h1v1h-1zM360.5 295.2h1v1h-1zM352.8 312.8h1v1h-1zM350.5 310.3h1v1h-1zM362.5 298.0h1v1h-1zM362.6 310.2h1v1h-1zM354.9 314.5h1v1h-1zM363.7 305.9h1v1h-1zM362.9 297.3h1v1h-1zM347.6 305.7h1v1h-1zM362.4 311.3h1v1h-1zM349.6 294.5h1v1h-1zM347.7 304.0h1v1h-1zM352.7 313.3h1v1h-1zM363.0 300.6h1v1h-1zM348.9 302.9h1v1h-1zM360.4 311.8h1v1h-1zM356.2 314.3h1v1h-1zM361.9 296.3h1v1h-1zM362.5 299.6h1v1h-1zM362.3 308.9h1v1h-1zM353.9 313.2h1v1h-1zM363.0 303.4h1v1h-1zM349.3 294.9h1v1h-1zM362.3 300.1h1v1h-1zM349.8 293.6h1v1h-1zM363.7 303.1h1v1h-1zM357.5 314.4h1v1h-1zM365.1 305.6h1v1h-1zM348.6 308.7h1v1h-1zM362.5 310.2h1v1h-1zM358.1 291.8h1v1h-1zM362.5 311.3h1v1h-1zM359.7 292.2h1v1h-1zM357.2 291.1h1v1h-1zM349.1 307.2h1v1h-1zM347.8 307.5h1v1h-1zM359.8 312.2h1v1h-1zM365.7 304.7h1v1h-1zM352.6 291.7h1v1h-1zM364.5 306.4h1v1h-1zM348.5 307.5h1v1h-1zM358.3 291.2h1v1h-1zM349.6 298.2h1v1h-1zM360.0 295.0h1v1h-1zM348.5 302.1h1v1h-1zM363.5 309.4h1v1h-1zM351.9 291.9h1v1h-1zM363.6 306.3h1v1h-1zM357.7 283.2h1v1h-1zM355.0 315.1h1v1h-1zM358.5 292.6h1v1h-1zM363.8 305.0h1v1h-1zM348.0 305.6h1v1h-1zM362.3 311.4h1v1h-1zM348.6 303.6h1v1h-1zM360.5 310.3h1v1h-1zM350.0 293.2h1v1h-1zM348.9 297.3h1v1h-1zM351.1 293.1h1v1h-1zM347.7 303.9h1v1h-1zM361.2 295.6h1v1h-1zM350.4 292.2h1v1h-1zM359.1 311.2h1v1h-1zM361.9 296.9h1v1h-1zM363.7 303.5h1v1h-1zM362.3 307.8h1v1h-1zM345.6 278.4h1v1h-1zM335.8 271.3h1v1h-1zM348.6 298.9h1v1h-1zM335.9 279.4h1v1h-1zM349.2 298.9h1v1h-1zM348.4 307.6h1v1h-1z" fill="rgb(126, 140, 189)" opacity="0.43"/>
<path d="M344.0 277.1h1v1h-1zM349.1 278.4h1v1h-1zM319.5 276.3h1v1h-1zM318.0 271.5h1v1h-1zM356.9 273.5h1v1h-1zM351.8 272.9h1v1h-1zM324.3 272.0h1v1h-1zM317.3 276.2h1v1h-1zM347.2 272.6h1v1h-1zM351.8 273.0h1v1h-1zM308.6 275.5h1v1h-1zM366.2 278.2h1v1h-1zM354.9 273.4h1v1h-1zM325.2 272.8h1v1h-1zM309.1 273.2h1v1h-1zM344.9 272.9h1v1h-1zM342.0 273.2h1v1h-1zM316.6 276.2h1v1h-1zM322.0 275.9h1v1h-1zM348.6 278.1h1v1h-1zM309.4 273.6h1v1h-1zM322.9 275.6h1v1h-1zM310.5 275.7h1v1h-1zM346.1 273.0h1v1h-1zM344.7 277.3h1v1h-1zM346.7 273.4h1v1h-1zM339.8 272.3h1v1h-1zM307.2 273.5h1v1h-1zM349.0 273.3h1v1h-1zM350.7 278.2h1v1h-1zM311.4 272.1h1v1h-1zM337.2 277.7h1v1h-1zM321.0 276.6h1v1h-1zM349.9 278.6h1v1h-1zM309.1 274.0h1v1h-1zM320.2 275.8h1v1h-1zM311.4 275.2h1v1h-1zM322.6 272.3h1v1h-1zM350.4 273.7h1v1h-1zM321.7 275.9h1v1h-1zM310.4 272.8h1v1h-1zM326.8 271.5h1v1h-1zM317.4 271.6h1v1h-1zM345.5 277.5h1v1h-1zM347.7 277.1h1v1h-1zM323.6 272.8h1v1h-1zM344.8 273.1h1v1h-1zM343.6 276.8h1v1h-1zM325.4 277.2h1v1h-1zM345.5 277.1h1v1h-1zM353.2 273.9h1v1h-1zM332.4 272.2h1v1h-1zM326.2 272.0h1v1h-1zM321.8 276.0h1v1h-1zM353.2 274.0h1v1h-1zM309.4 273.5h1v1h-1zM307.8 275.3h1v1h-1zM349.6 278.4h1v1h-1zM330.0 272.1h1v1h-1zM319.6 275.9h1v1h-1zM325.0 277.0h1v1h-1zM334.4 272.4h1v1h-1zM366.6 275.0h1v1h-1zM326.1 272.0h1v1h-1zM307.9 273.9h1v1h-1zM348.7 273.3h1v1h-1zM342.5 272.6h1v1h-1zM313.6 276.4h1v1h-1zM367.7 277.9h1v1h-1zM318.8 276.3h1v1h-1zM356.9 273.5h1v1h-1zM307.1 273.4h1v1h-1zM348.2 273.5h1v1h-1zM351.3 272.8h1v1h-1zM350.7 273.4h1v1h-1zM324.7 272.0h1v1h-1zM346.4 277.5h1v1h-1zM355.0 274.0h1v1h-1zM310.5 272.4h1v1h-1zM308.2 273.8h1v1h-1zM307.8 273.8h1v1h-1zM308.4 273.2h1v1h-1zM316.8 276.2h1v1h-1zM314.6 276.8h1v1h-1zM309.0 275.6h1v1h-1zM308.8 275.1h1v1h-1zM308.9 274.6h1v1h-1zM309.3 273.5h1v1h-1zM309.7 271.8h1v1h-1zM308.7 272.4h1v1h-1zM320.3 275.9h1v1h-1zM312.1 272.2h1v1h-1zM309.5 274.7h1v1h-1zM311.0 274.9h1v1h-1zM306.7 274.6h1v1h-1zM306.5 274.2h1v1h-1zM310.2 274.8h1v1h-1zM309.5 272.7h1v1h-1zM367.6 276.6h1v1h-1zM361.9 281.6h1v1h-1zM354.7 281.4h1v1h-1zM355.9 273.6h1v1h-1zM356.9 281.5h1v1h-1zM353.8 281.0h1v1h-1zM356.0 281.7h1v1h-1zM361.6 273.0h1v1h-1zM365.4 280.1h1v1h-1zM366.1 279.3h1v1h-1zM367.5 276.2h1v1h-1zM360.5 282.0h1v1h-1zM357.4 273.2h1v1h-1zM364.8 280.9h1v1h-1zM352.6 279.2h1v1h-1zM353.7 280.7h1v1h-1zM366.0 275.3h1v1h-1zM357.5 281.9h1v1h-1zM347.3 278.0h1v1h-1zM367.1 277.1h1v1h-1zM363.0 273.3h1v1h-1zM367.2 275.7h1v1h-1zM352.6 279.7h1v1h-1zM365.2 280.4h1v1h-1zM364.7 274.3h1v1h-1zM365.0 274.0h1v1h-1zM365.9 280.0h1v1h-1zM362.4 272.8h1v1h-1zM353.8 311.7h1v1h-1zM354.9 312.1h1v1h-1zM357.4 310.4h1v1h-1zM360.8 308.3h1v1h-1zM349.1 302.0h1v1h-1zM359.2 309.6h1v1h-1zM361.6 303.7h1v1h-1zM361.7 302.7h1v1h-1zM351.6 308.3h1v1h-1zM351.8 294.4h1v1h-1zM358.7 294.2h1v1h-1zM358.4 310.1h1v1h-1zM359.8 307.6h1v1h-1zM361.2 304.5h1v1h-1zM352.2 293.9h1v1h-1zM350.2 307.1h1v1h-1zM361.5 308.2h1v1h-1zM360.3 309.3h1v1h-1zM350.4 298.4h1v1h-1zM350.6 306.5h1v1h-1zM360.8 305.2h1v1h-1zM350.1 301.3h1v1h-1zM349.5 305.6h1v1h-1zM360.8 299.7h1v1h-1zM353.0 311.4h1v1h-1zM359.8 309.6h1v1h-1zM352.9 312.1h1v1h-1zM350.6 296.0h1v1h-1zM352.3 296.6h1v1h-1zM355.3 293.2h1v1h-1zM361.2 297.1h1v1h-1zM349.3 305.0h1v1h-1zM352.2 309.2h1v1h-1zM353.0 310.8h1v1h-1zM360.5 306.5h1v1h-1zM351.6 297.6h1v1h-1zM353.9 312.9h1v1h-1zM351.0 296.4h1v1h-1zM362.2 300.3h1v1h-1zM361.5 298.6h1v1h-1zM361.7 305.8h1v1h-1zM357.5 293.2h1v1h-1zM353.0 309.6h1v1h-1zM350.8 300.3h1v1h-1zM357.4 292.9h1v1h-1zM361.3 302.3h1v1h-1zM357.5 293.5h1v1h-1zM353.9 293.4h1v1h-1zM357.2 311.5h1v1h-1zM355.4 292.6h1v1h-1zM354.5 294.3h1v1h-1zM361.4 307.8h1v1h-1zM349.9 307.8h1v1h-1zM353.7 312.1h1v1h-1zM351.0 297.4h1v1h-1zM358.0 295.1h1v1h-1zM352.7 310.5h1v1h-1zM353.2 292.7h1v1h-1zM350.7 299.6h1v1h-1zM349.6 307.8h1v1h-1zM358.1 309.8h1v1h-1zM361.6 306.2h1v1h-1zM354.1 293.9h1v1h-1zM354.1 293.0h1v1h-1zM351.0 299.3h1v1h-1zM352.0 294.3h1v1h-1zM357.5 310.6h1v1h-1zM354.9 312.0h1v1h-1zM360.8 299.5h1v1h-1zM358.8 295.2h1v1h-1zM359.4 308.7h1v1h-1zM352.8 292.8h1v1h-1zM360.1 297.1h1v1h-1zM351.4 297.4h1v1h-1zM354.8 312.7h1v1h-1zM360.7 305.7h1v1h-1zM350.1 298.0h1v1h-1zM354.0 293.9h1v1h-1zM359.1 296.5h1v1h-1zM357.8 295.4h1v1h-1zM362.4 304.5h1v1h-1zM355.0 294.2h1v1h-1zM350.9 297.7h1v1h-1zM362.0 300.7h1v1h-1zM352.2 296.0h1v1h-1zM351.8 310.8h1v1h-1zM357.2 293.4h1v1h-1zM351.0 305.8h1v1h-1zM360.9 304.8h1v1h-1zM352.0 296.8h1v1h-1zM353.4 294.3h1v1h-1zM349.9 301.8h1v1h-1zM356.9 294.5h1v1h-1zM350.0 300.0h1v1h-1zM356.4 293.3h1v1h-1zM360.3 297.5h1v1h-1zM358.3 309.6h1v1h-1zM355.5 311.8h1v1h-1zM351.5 309.0h1v1h-1zM357.9 311.2h1v1h-1zM361.8 297.6h1v1h-1zM357.2 311.9h1v1h-1zM357.2 294.3h1v1h-1zM351.1 296.0h1v1h-1zM350.9 307.9h1v1h-1zM361.5 301.3h1v1h-1zM349.5 301.9h1v1h-1zM356.1 311.3h1v1h-1zM361.8 298.0h1v1h-1zM361.3 304.8h1v1h-1zM350.8 308.3h1v1h-1zM357.4 311.9h1v1h-1zM357.1 294.9h1v1h-1zM354.8 312.4h1v1h-1zM349.1 301.6h1v1h-1zM361.0 299.8h1v1h-1zM351.3 309.3h1v1h-1zM349.3 301.4h1v1h-1zM356.1 293.5h1v1h-1zM360.0 307.0h1v1h-1zM356.8 311.6h1v1h-1zM351.6 295.2h1v1h-1zM356.6 293.6h1v1h-1zM360.6 306.0h1v1h-1zM358.8 295.3h1v1h-1zM351.1 308.7h1v1h-1zM359.3 296.0h1v1h-1zM359.2 296.0h1v1h-1zM360.4 307.2h1v1h-1zM355.9 310.8h1v1h-1zM360.4 297.8h1v1h-1zM354.0 311.2h1v1h-1zM355.0 292.5h1v1h-1zM350.2 300.3h1v1h-1zM349.6 305.4h1v1h-1zM353.6 311.0h1v1h-1zM355.3 311.1h1v1h-1zM351.7 308.6h1v1h-1zM360.8 306.9h1v1h-1zM361.0 297.2h1v1h-1zM362.4 281.5h1v1h-1zM353.9 292.7h1v1h-1z" fill="rgb(110, 127, 179)" opacity="0.52"/>
<path d="M345.4 276.8h1v1h-1zM345.1 276.2h1v1h-1zM352.3 275.2h1v1h-1zM344.5 276.0h1v1h-1zM324.3 274.7h1v1h-1zM340.7 273.4h1v1h-1zM314.3 273.0h1v1h-1zM341.3 275.7h1v1h-1zM313.3 273.6h1v1h-1zM327.7 272.6h1v1h-1zM343.4 275.1h1v1h-1zM329.1 272.3h1v1h-1zM314.2 274.7h1v1h-1zM341.8 276.3h1v1h-1zM310.9 273.9h1v1h-1zM316.1 271.8h1v1h-1zM348.9 275.0h1v1h-1zM344.6 274.3h1v1h-1zM348.9 274.8h1v1h-1zM320.2 273.4h1v1h-1zM352.2 275.3h1v1h-1zM313.4 273.2h1v1h-1zM341.7 274.6h1v1h-1zM325.3 274.6h1v1h-1zM324.8 275.2h1v1h-1zM338.1 276.9h1v1h-1zM318.4 275.2h1v1h-1zM340.2 276.5h1v1h-1zM352.0 275.1h1v1h-1zM362.7 274.2h1v1h-1zM322.7 274.4h1v1h-1zM322.8 273.2h1v1h-1zM314.2 275.3h1v1h-1zM332.2 277.0h1v1h-1zM336.8 277.2h1v1h-1zM339.6 273.4h1v1h-1zM348.7 274.9h1v1h-1zM314.1 273.1h1v1h-1zM341.5 273.5h1v1h-1zM334.4 273.0h1v1h-1zM330.9 273.1h1v1h-1zM317.1 272.3h1v1h-1zM323.8 275.4h1v1h-1zM327.9 276.7h1v1h-1zM365.1 275.0h1v1h-1zM350.6 276.6h1v1h-1zM346.4 275.7h1v1h-1zM321.1 273.0h1v1h-1zM313.2 273.1h1v1h-1zM346.0 274.4h1v1h-1zM365.1 275.7h1v1h-1zM347.9 274.9h1v1h-1zM319.8 272.4h1v1h-1zM344.7 275.4h1v1h-1zM344.2 275.1h1v1h-1zM345.2 276.8h1v1h-1zM315.3 275.5h1v1h-1zM348.3 274.7h1v1h-1zM321.9 273.2h1v1h-1zM316.9 275.3h1v1h-1zM345.6 275.2h1v1h-1zM337.1 276.8h1v1h-1zM333.9 272.9h1v1h-1zM319.0 272.1h1v1h-1zM342.4 276.0h1v1h-1zM344.2 275.3h1v1h-1zM326.2 276.3h1v1h-1zM310.2 274.0h1v1h-1zM340.6 276.8h1v1h-1zM322.4 274.3h1v1h-1zM350.9 274.6h1v1h-1zM339.6 276.5h1v1h-1zM343.4 274.6h1v1h-1zM347.4 277.0h1v1h-1zM346.8 275.2h1v1h-1zM319.2 273.4h1v1h-1zM330.2 276.4h1v1h-1zM328.1 276.4h1v1h-1zM338.1 273.0h1v1h-1zM319.3 272.5h1v1h-1zM312.8 274.3h1v1h-1zM323.7 275.4h1v1h-1zM333.0 272.9h1v1h-1zM346.3 275.3h1v1h-1zM345.5 275.1h1v1h-1zM326.2 275.8h1v1h-1zM350.9 275.0h1v1h-1zM343.6 275.8h1v1h-1zM344.6 273.6h1v1h-1zM349.5 274.8h1v1h-1zM326.7 276.1h1v1h-1zM346.7 275.3h1v1h-1zM321.0 273.8h1v1h-1zM321.8 275.3h1v1h-1zM338.8 276.7h1v1h-1zM321.4 274.4h1v1h-1zM344.9 275.5h1v1h-1zM312.9 273.2h1v1h-1zM352.8 275.4h1v1h-1zM332.5 276.9h1v1h-1zM340.0 273.0h1v1h-1zM331.6 273.0h1v1h-1zM323.9 274.1h1v1h-1zM330.0 272.5h1v1h-1zM316.9 275.4h1v1h-1zM351.6 274.8h1v1h-1zM321.6 272.8h1v1h-1zM318.4 274.7h1v1h-1zM347.8 274.9h1v1h-1zM326.9 273.1h1v1h-1zM312.1 273.8h1v1h-1zM315.5 272.2h1v1h-1zM319.1 275.7h1v1h-1zM348.4 275.9h1v1h-1zM351.9 278.2h1v1h-1zM322.2 274.3h1v1h-1zM342.6 275.6h1v1h-1zM350.4 276.4h1v1h-1zM320.7 275.2h1v1h-1zM323.4 273.6h1v1h-1zM343.3 273.9h1v1h-1zM348.0 276.2h1v1h-1zM345.0 274.8h1v1h-1zM340.5 273.3h1v1h-1zM340.8 275.9h1v1h-1zM345.8 275.2h1v1h-1zM343.9 274.9h1v1h-1zM341.0 276.5h1v1h-1zM326.9 272.7h1v1h-1zM347.7 276.7h1v1h-1zM347.5 275.4h1v1h-1zM344.7 275.3h1v1h-1zM328.6 272.7h1v1h-1zM312.7 274.0h1v1h-1zM322.5 274.2h1v1h-1zM347.9 274.8h1v1h-1zM345.8 275.0h1v1h-1zM331.3 272.8h1v1h-1zM349.1 275.9h1v1h-1zM339.1 277.0h1v1h-1zM350.8 274.4h1v1h-1zM324.4 275.8h1v1h-1zM333.6 276.7h1v1h-1zM342.2 274.8h1v1h-1zM333.8 272.6h1v1h-1zM339.4 273.4h1v1h-1zM351.7 278.0h1v1h-1zM352.0 277.1h1v1h-1zM349.8 275.3h1v1h-1zM344.9 275.5h1v1h-1zM321.9 275.0h1v1h-1zM351.7 275.0h1v1h-1zM339.9 276.5h1v1h-1zM312.1 272.5h1v1h-1zM322.6 273.2h1v1h-1zM312.3 273.0h1v1h-1zM342.8 274.8h1v1h-1zM323.3 274.4h1v1h-1zM349.5 276.5h1v1h-1zM317.0 275.2h1v1h-1zM349.0 276.3h1v1h-1zM329.3 276.4h1v1h-1zM342.1 273.8h1v1h-1zM348.3 276.3h1v1h-1zM331.4 273.0h1v1h-1zM322.3 274.2h1v1h-1zM351.3 274.4h1v1h-1zM352.6 274.3h1v1h-1zM311.8 273.1h1v1h-1zM320.6 273.2h1v1h-1zM351.1 276.9h1v1h-1zM340.0 276.8h1v1h-1zM322.7 272.9h1v1h-1zM344.9 275.2h1v1h-1zM328.1 272.8h1v1h-1zM329.9 276.8h1v1h-1zM344.4 274.3h1v1h-1zM319.6 274.2h1v1h-1zM322.2 273.5h1v1h-1zM344.5 274.9h1v1h-1zM314.4 274.8h1v1h-1zM345.1 274.3h1v1h-1zM350.4 274.5h1v1h-1zM340.4 273.0h1v1h-1zM323.0 273.2h1v1h-1zM324.0 274.1h1v1h-1zM314.6 275.0h1v1h-1zM333.9 272.9h1v1h-1zM340.4 276.3h1v1h-1zM321.2 272.4h1v1h-1zM315.5 275.3h1v1h-1zM319.1 272.9h1v1h-1zM318.6 273.0h1v1h-1zM336.0 272.9h1v1h-1zM317.8 272.6h1v1h-1zM335.4 273.0h1v1h-1zM323.1 274.1h1v1h-1zM347.0 274.1h1v1h-1zM320.5 272.4h1v1h-1zM335.5 277.2h1v1h-1zM316.7 271.9h1v1h-1zM317.6 275.5h1v1h-1zM340.4 276.8h1v1h-1zM342.8 275.4h1v1h-1zM319.8 272.3h1v1h-1zM344.9 273.7h1v1h-1zM320.0 275.1h1v1h-1zM351.2 277.1h1v1h-1zM349.0 274.1h1v1h-1zM344.6 276.1h1v1h-1zM325.3 275.1h1v1h-1zM321.4 274.0h1v1h-1zM353.3 279.3h1v1h-1zM337.2 277.5h1v1h-1zM342.6 273.6h1v1h-1zM344.5 274.1h1v1h-1zM356.0 274.5h1v1h-1zM324.3 275.8h1v1h-1zM333.8 273.1h1v1h-1zM325.2 274.1h1v1h-1zM315.2 275.3h1v1h-1zM347.6 275.8h1v1h-1zM347.6 275.5h1v1h-1zM346.7 274.7h1v1h-1zM349.5 276.1h1v1h-1zM330.1 272.7h1v1h-1zM349.0 277.2h1v1h-1zM329.8 276.8h1v1h-1zM345.6 273.9h1v1h-1zM365.3 275.0h1v1h-1zM319.1 274.6h1v1h-1zM350.5 273.8h1v1h-1zM334.3 272.7h1v1h-1zM348.0 275.1h1v1h-1zM322.4 273.9h1v1h-1zM337.7 277.5h1v1h-1zM335.9 277.2h1v1h-1zM324.2 275.3h1v1h-1zM347.4 275.1h1v1h-1zM345.7 274.3h1v1h-1zM324.9 274.3h1v1h-1zM349.3 274.3h1v1h-1zM343.8 274.9h1v1h-1zM346.5 274.4h1v1h-1zM315.9 272.5h1v1h-1zM329.4 272.7h1v1h-1zM318.7 274.6h1v1h-1zM336.3 277.1h1v1h-1zM324.8 274.5h1v1h-1zM351.3 273.8h1v1h-1zM321.9 273.1h1v1h-1zM336.6 272.7h1v1h-1zM322.1 272.8h1v1h-1zM317.4 272.0h1v1h-1zM318.1 272.3h1v1h-1zM343.9 276.2h1v1h-1zM343.1 274.0h1v1h-1zM316.8 272.4h1v1h-1zM323.5 275.0h1v1h-1zM347.0 274.4h1v1h-1zM326.9 272.9h1v1h-1zM350.9 276.5h1v1h-1zM341.6 274.7h1v1h-1zM326.5 276.0h1v1h-1zM348.3 275.5h1v1h-1zM323.5 274.2h1v1h-1zM328.3 272.7h1v1h-1zM335.3 277.4h1v1h-1zM351.3 277.4h1v1h-1zM348.2 275.6h1v1h-1zM318.9 275.7h1v1h-1zM336.5 277.0h1v1h-1zM322.2 273.3h1v1h-1zM313.2 273.9h1v1h-1zM312.0 273.3h1v1h-1zM313.7 275.3h1v1h-1zM318.2 275.9h1v1h-1zM309.5 273.7h1v1h-1zM312.0 274.0h1v1h-1zM312.1 274.2h1v1h-1zM315.0 275.8h1v1h-1zM314.2 272.5h1v1h-1zM321.4 273.3h1v1h-1zM321.1 273.1h1v1h-1zM310.6 273.8h1v1h-1zM315.1 275.4h1v1h-1zM320.5 274.8h1v1h-1zM319.6 272.7h1v1h-1zM314.2 272.7h1v1h-1zM320.6 273.0h1v1h-1zM312.4 272.5h1v1h-1zM311.0 274.3h1v1h-1zM312.7 275.2h1v1h-1zM313.6 274.4h1v1h-1zM312.2 273.2h1v1h-1zM310.9 272.9h1v1h-1zM319.1 273.8h1v1h-1zM309.5 273.9h1v1h-1zM310.8 274.0h1v1h-1zM319.0 274.1h1v1h-1zM317.0 275.3h1v1h-1zM312.3 272.9h1v1h-1zM313.8 275.0h1v1h-1zM312.3 273.4h1v1h-1zM313.5 274.6h1v1h-1zM314.7 272.3h1v1h-1zM317.0 271.9h1v1h-1zM318.5 273.1h1v1h-1zM310.2 273.1h1v1h-1zM311.7 274.0h1v1h-1zM313.6 273.3h1v1h-1zM313.5 272.8h1v1h-1zM317.6 275.1h1v1h-1zM312.1 272.7h1v1h-1zM312.1 273.8h1v1h-1zM354.9 274.4h1v1h-1zM354.2 279.9h1v1h-1zM364.7 279.3h1v1h-1zM359.1 281.7h1v1h-1zM354.0 279.8h1v1h-1zM355.4 280.4h1v1h-1zM353.4 278.4h1v1h-1zM352.8 278.5h1v1h-1zM365.8 275.9h1v1h-1zM355.3 280.6h1v1h-1zM350.0 276.3h1v1h-1zM365.2 275.9h1v1h-1zM361.8 281.2h1v1h-1zM354.1 275.1h1v1h-1zM354.6 275.1h1v1h-1zM353.8 279.5h1v1h-1zM365.7 277.2h1v1h-1zM359.8 273.6h1v1h-1zM361.0 273.7h1v1h-1zM365.4 276.3h1v1h-1zM365.7 277.4h1v1h-1zM365.4 277.6h1v1h-1zM365.7 277.7h1v1h-1zM355.2 280.6h1v1h-1zM359.0 281.4h1v1h-1zM364.6 274.8h1v1h-1zM354.4 275.0h1v1h-1zM355.7 296.5h1v1h-1zM355.5 295.4h1v1h-1zM357.0 308.4h1v1h-1zM358.1 307.3h1v1h-1zM360.3 299.2h1v1h-1zM360.1 299.2h1v1h-1zM352.8 308.2h1v1h-1zM360.7 302.5h1v1h-1zM353.0 299.5h1v1h-1zM352.9 299.6h1v1h-1zM360.1 304.2h1v1h-1zM353.3 309.3h1v1h-1zM358.4 297.8h1v1h-1zM354.8 310.7h1v1h-1zM360.3 301.7h1v1h-1zM353.7 308.5h1v1h-1zM354.2 295.0h1v1h-1zM355.1 294.6h1v1h-1zM358.1 297.3h1v1h-1zM359.4 298.9h1v1h-1zM358.3 307.3h1v1h-1zM353.4 295.0h1v1h-1zM355.7 309.6h1v1h-1zM352.7 307.5h1v1h-1zM358.6 297.2h1v1h-1zM351.4 306.7h1v1h-1zM354.4 309.7h1v1h-1zM352.1 305.5h1v1h-1zM352.7 306.8h1v1h-1zM353.3 296.4h1v1h-1zM354.6 296.7h1v1h-1zM354.7 309.4h1v1h-1zM354.8 309.1h1v1h-1zM358.1 297.7h1v1h-1zM356.9 310.1h1v1h-1zM354.7 295.0h1v1h-1zM355.9 308.6h1v1h-1zM351.8 304.3h1v1h-1zM353.3 295.5h1v1h-1zM354.4 296.8h1v1h-1zM353.3 296.0h1v1h-1zM354.5 308.3h1v1h-1zM356.8 309.4h1v1h-1zM353.9 297.2h1v1h-1zM350.9 302.3h1v1h-1zM354.4 309.8h1v1h-1zM358.4 306.5h1v1h-1zM352.9 307.0h1v1h-1zM360.0 298.1h1v1h-1zM352.2 308.6h1v1h-1zM354.3 309.0h1v1h-1zM353.6 295.6h1v1h-1zM359.1 305.7h1v1h-1zM351.5 305.2h1v1h-1zM354.2 308.6h1v1h-1zM359.7 304.2h1v1h-1zM359.3 306.9h1v1h-1zM356.2 296.1h1v1h-1zM351.8 301.5h1v1h-1zM353.1 299.2h1v1h-1zM355.2 296.7h1v1h-1zM354.7 297.0h1v1h-1zM352.0 308.4h1v1h-1zM354.5 297.1h1v1h-1zM351.6 300.6h1v1h-1zM354.7 294.9h1v1h-1zM359.8 300.9h1v1h-1zM357.1 296.1h1v1h-1zM357.5 297.5h1v1h-1zM358.4 306.4h1v1h-1zM352.0 304.8h1v1h-1zM358.7 296.4h1v1h-1zM357.4 307.7h1v1h-1zM356.9 309.0h1v1h-1zM351.8 298.3h1v1h-1zM354.6 297.0h1v1h-1zM351.7 306.3h1v1h-1zM352.9 308.5h1v1h-1zM354.4 295.8h1v1h-1zM357.2 310.1h1v1h-1zM356.4 297.0h1v1h-1zM360.1 300.5h1v1h-1zM358.8 307.7h1v1h-1zM359.1 305.8h1v1h-1zM352.2 300.6h1v1h-1zM359.3 304.7h1v1h-1zM351.5 304.2h1v1h-1zM357.5 297.6h1v1h-1zM352.2 306.3h1v1h-1zM351.8 306.4h1v1h-1zM353.7 294.8h1v1h-1zM352.5 307.1h1v1h-1zM359.0 308.2h1v1h-1zM359.7 307.0h1v1h-1zM352.6 298.9h1v1h-1zM359.4 307.4h1v1h-1zM357.8 296.7h1v1h-1zM352.0 307.1h1v1h-1zM359.2 305.3h1v1h-1zM352.8 307.8h1v1h-1zM352.6 298.1h1v1h-1zM352.5 300.3h1v1h-1zM351.4 304.6h1v1h-1zM360.4 304.7h1v1h-1zM360.0 302.6h1v1h-1zM356.0 310.5h1v1h-1zM358.4 308.0h1v1h-1zM359.9 302.0h1v1h-1zM360.0 299.6h1v1h-1zM357.3 297.3h1v1h-1zM359.6 304.2h1v1h-1zM351.4 302.2h1v1h-1zM357.1 308.7h1v1h-1zM352.4 297.3h1v1h-1zM351.9 303.8h1v1h-1zM354.4 296.3h1v1h-1zM350.9 301.4h1v1h-1zM356.9 297.0h1v1h-1zM355.4 309.3h1v1h-1zM360.0 303.2h1v1h-1zM358.8 296.9h1v1h-1zM355.5 308.7h1v1h-1zM357.8 308.4h1v1h-1zM353.2 297.4h1v1h-1zM360.8 303.5h1v1h-1zM352.0 298.1h1v1h-1zM357.6 309.1h1v1h-1zM356.4 308.8h1v1h-1zM351.4 301.3h1v1h-1zM357.0 296.7h1v1h-1zM351.4 301.6h1v1h-1zM351.1 300.4h1v1h-1zM352.7 298.0h1v1h-1zM360.5 301.7h1v1h-1zM351.9 305.2h1v1h-1zM354.2 308.4h1v1h-1zM355.8 308.9h1v1h-1zM354.2 295.0h1v1h-1zM357.4 309.3h1v1h-1zM357.4 296.6h1v1h-1zM354.1 295.8h1v1h-1zM351.2 304.1h1v1h-1zM363.8 274.4h1v1h-1z" fill="rgb(94, 115, 169)" opacity="0.61"/>
<path d="M350.7 275.2h1v1h-1zM339.8 274.1h1v1h-1zM340.4 275.8h1v1h-1zM330.7 276.1h1v1h-1zM327.2 275.0h1v1h-1zM327.2 275.8h1v1h-1zM335.3 276.1h1v1h-1zM326.9 274.8h1v1h-1zM339.2 273.6h1v1h-1zM329.5 273.5h1v1h-1zM328.6 274.1h1v1h-1zM339.0 273.6h1v1h-1zM332.1 275.4h1v1h-1zM338.9 274.6h1v1h-1zM337.4 276.4h1v1h-1zM332.8 275.7h1v1h-1zM328.5 275.2h1v1h-1zM330.7 274.7h1v1h-1zM356.4 274.5h1v1h-1zM326.1 275.1h1v1h-1zM317.0 273.9h1v1h-1zM338.0 275.8h1v1h-1zM317.0 273.8h1v1h-1zM330.5 275.2h1v1h-1zM327.3 276.0h1v1h-1zM327.4 274.2h1v1h-1zM338.4 275.5h1v1h-1zM339.2 274.1h1v1h-1zM327.7 275.1h1v1h-1zM340.4 274.6h1v1h-1zM316.8 274.6h1v1h-1zM329.2 273.2h1v1h-1zM351.0 276.0h1v1h-1zM328.6 272.9h1v1h-1zM336.4 273.3h1v1h-1zM317.6 273.6h1v1h-1zM360.0 274.0h1v1h-1zM327.4 274.3h1v1h-1zM326.7 275.6h1v1h-1zM330.0 273.9h1v1h-1zM356.2 274.8h1v1h-1zM338.9 273.6h1v1h-1zM325.7 274.7h1v1h-1zM327.8 273.7h1v1h-1zM315.7 274.6h1v1h-1zM340.5 275.6h1v1h-1zM332.4 276.1h1v1h-1zM325.8 275.2h1v1h-1zM330.1 273.0h1v1h-1zM334.6 273.9h1v1h-1zM317.7 273.8h1v1h-1zM335.5 276.5h1v1h-1zM313.3 273.8h1v1h-1zM330.2 273.8h1v1h-1zM328.7 273.5h1v1h-1zM327.3 274.8h1v1h-1zM328.8 275.0h1v1h-1zM330.9 273.8h1v1h-1zM328.8 272.9h1v1h-1zM331.4 274.0h1v1h-1zM326.3 275.6h1v1h-1zM338.8 275.9h1v1h-1zM338.6 274.8h1v1h-1zM330.2 273.4h1v1h-1zM329.4 275.2h1v1h-1zM331.3 275.3h1v1h-1zM340.6 275.0h1v1h-1zM326.2 274.4h1v1h-1zM335.5 274.0h1v1h-1zM337.8 276.4h1v1h-1zM332.5 276.4h1v1h-1zM330.1 275.4h1v1h-1zM337.1 274.0h1v1h-1zM364.5 276.3h1v1h-1zM331.6 275.3h1v1h-1zM314.8 273.8h1v1h-1zM340.8 274.2h1v1h-1zM326.8 274.5h1v1h-1zM339.1 275.2h1v1h-1zM329.9 273.6h1v1h-1zM338.9 276.5h1v1h-1zM317.8 273.9h1v1h-1zM318.0 274.2h1v1h-1zM351.1 275.5h1v1h-1zM340.5 274.1h1v1h-1zM315.9 273.8h1v1h-1zM315.7 273.3h1v1h-1zM330.3 275.6h1v1h-1zM339.8 273.6h1v1h-1zM336.7 273.8h1v1h-1zM328.0 273.9h1v1h-1zM315.5 274.5h1v1h-1zM315.7 272.8h1v1h-1zM326.3 275.1h1v1h-1zM328.3 274.1h1v1h-1zM330.4 276.2h1v1h-1zM339.5 276.2h1v1h-1zM337.7 275.7h1v1h-1zM331.8 274.7h1v1h-1zM328.1 273.9h1v1h-1zM333.1 274.2h1v1h-1zM350.2 275.5h1v1h-1zM316.1 274.0h1v1h-1zM351.2 276.1h1v1h-1zM336.5 274.1h1v1h-1zM337.2 275.8h1v1h-1zM351.9 275.8h1v1h-1zM356.3 274.8h1v1h-1zM327.1 273.5h1v1h-1zM333.6 276.1h1v1h-1zM332.1 276.5h1v1h-1zM331.7 275.0h1v1h-1zM351.9 275.8h1v1h-1zM330.6 273.1h1v1h-1zM327.4 274.4h1v1h-1zM331.3 276.2h1v1h-1zM315.8 273.9h1v1h-1zM326.3 273.6h1v1h-1zM337.6 274.4h1v1h-1zM355.6 275.3h1v1h-1zM340.5 275.2h1v1h-1zM328.1 275.4h1v1h-1zM330.1 274.1h1v1h-1zM327.0 275.1h1v1h-1zM353.9 277.0h1v1h-1zM339.7 273.9h1v1h-1zM335.4 273.2h1v1h-1zM329.1 275.9h1v1h-1zM338.1 273.9h1v1h-1zM328.5 273.5h1v1h-1zM337.7 274.2h1v1h-1zM318.6 273.9h1v1h-1zM353.4 276.0h1v1h-1zM338.9 274.4h1v1h-1zM327.8 275.2h1v1h-1zM356.5 274.9h1v1h-1zM333.1 276.2h1v1h-1zM326.9 274.3h1v1h-1zM340.1 274.2h1v1h-1zM336.6 275.9h1v1h-1zM333.0 274.0h1v1h-1zM332.6 273.4h1v1h-1zM338.5 274.8h1v1h-1zM315.5 274.6h1v1h-1zM350.9 275.9h1v1h-1zM340.5 275.2h1v1h-1zM317.1 272.8h1v1h-1zM328.1 275.6h1v1h-1zM340.0 274.2h1v1h-1zM327.0 275.3h1v1h-1zM339.2 275.4h1v1h-1zM317.1 273.2h1v1h-1zM336.7 273.6h1v1h-1zM316.2 274.9h1v1h-1zM336.1 273.8h1v1h-1zM339.9 274.1h1v1h-1zM326.7 274.1h1v1h-1zM329.4 275.2h1v1h-1zM329.6 274.9h1v1h-1zM339.4 275.3h1v1h-1zM339.5 275.1h1v1h-1zM340.5 274.1h1v1h-1zM329.3 273.9h1v1h-1zM327.2 274.6h1v1h-1zM337.2 276.6h1v1h-1zM327.1 275.8h1v1h-1zM338.9 274.1h1v1h-1zM317.5 274.9h1v1h-1zM331.3 273.7h1v1h-1zM335.7 274.0h1v1h-1zM334.1 276.2h1v1h-1zM317.0 272.9h1v1h-1zM315.3 273.2h1v1h-1zM336.3 273.9h1v1h-1zM331.1 275.9h1v1h-1zM317.8 273.6h1v1h-1zM318.5 273.8h1v1h-1zM351.2 275.5h1v1h-1zM354.0 275.8h1v1h-1zM332.2 276.2h1v1h-1zM316.1 273.0h1v1h-1zM331.5 275.3h1v1h-1zM333.6 276.2h1v1h-1zM331.7 275.3h1v1h-1zM334.4 276.2h1v1h-1zM332.0 275.9h1v1h-1zM340.1 275.3h1v1h-1zM352.6 277.3h1v1h-1zM315.7 272.9h1v1h-1zM353.7 276.3h1v1h-1zM327.7 274.5h1v1h-1zM315.0 274.3h1v1h-1zM333.5 273.7h1v1h-1zM329.9 275.3h1v1h-1zM326.5 274.7h1v1h-1zM351.4 276.1h1v1h-1zM328.4 273.4h1v1h-1zM329.4 275.8h1v1h-1zM331.4 273.2h1v1h-1zM340.9 275.6h1v1h-1zM314.6 274.8h1v1h-1zM352.0 276.5h1v1h-1zM351.9 276.5h1v1h-1zM329.7 275.2h1v1h-1zM328.9 273.2h1v1h-1zM317.5 274.5h1v1h-1zM340.9 274.4h1v1h-1zM330.4 275.0h1v1h-1zM335.7 276.8h1v1h-1zM340.7 275.0h1v1h-1zM331.9 274.4h1v1h-1zM330.0 274.2h1v1h-1zM333.3 276.0h1v1h-1zM327.0 274.9h1v1h-1zM333.9 274.0h1v1h-1zM330.8 274.6h1v1h-1zM325.5 274.9h1v1h-1zM336.6 274.2h1v1h-1zM330.7 275.3h1v1h-1zM353.5 276.9h1v1h-1zM340.6 275.8h1v1h-1zM354.2 276.8h1v1h-1zM337.0 275.9h1v1h-1zM337.7 275.8h1v1h-1zM331.1 275.9h1v1h-1zM327.5 276.0h1v1h-1zM317.3 273.0h1v1h-1zM316.0 273.2h1v1h-1zM315.9 273.6h1v1h-1zM316.3 274.4h1v1h-1zM315.0 274.8h1v1h-1zM315.1 274.8h1v1h-1zM317.8 274.0h1v1h-1zM314.9 273.7h1v1h-1zM352.5 275.5h1v1h-1zM356.2 279.8h1v1h-1zM353.0 277.4h1v1h-1zM354.0 276.2h1v1h-1zM363.5 274.6h1v1h-1zM365.2 276.3h1v1h-1zM360.8 274.2h1v1h-1zM362.2 274.1h1v1h-1zM359.3 281.3h1v1h-1zM352.2 276.3h1v1h-1zM361.8 280.7h1v1h-1zM364.8 278.3h1v1h-1zM356.1 280.0h1v1h-1zM362.0 274.4h1v1h-1zM361.1 281.2h1v1h-1zM365.3 277.1h1v1h-1zM358.2 274.5h1v1h-1zM364.8 277.7h1v1h-1zM355.4 279.8h1v1h-1zM363.8 279.8h1v1h-1zM363.3 275.0h1v1h-1zM362.0 281.0h1v1h-1zM364.4 275.9h1v1h-1zM353.7 277.2h1v1h-1zM364.6 278.8h1v1h-1zM353.2 277.8h1v1h-1zM365.3 277.1h1v1h-1zM363.9 279.7h1v1h-1zM364.0 279.0h1v1h-1zM360.5 281.2h1v1h-1zM362.9 274.5h1v1h-1zM353.5 277.5h1v1h-1zM353.9 275.6h1v1h-1zM357.8 274.6h1v1h-1zM353.5 277.5h1v1h-1zM354.7 279.4h1v1h-1zM364.7 279.0h1v1h-1zM353.4 277.5h1v1h-1zM355.8 274.9h1v1h-1zM352.7 277.0h1v1h-1zM354.3 279.1h1v1h-1zM353.9 276.9h1v1h-1zM357.9 280.6h1v1h-1zM355.0 275.6h1v1h-1zM355.3 279.7h1v1h-1zM357.4 274.7h1v1h-1zM355.6 275.4h1v1h-1zM351.7 276.6h1v1h-1zM364.9 277.0h1v1h-1zM356.9 298.9h1v1h-1zM359.5 303.2h1v1h-1zM354.4 300.1h1v1h-1zM358.9 304.0h1v1h-1zM353.0 304.6h1v1h-1zM359.1 303.2h1v1h-1zM352.8 302.4h1v1h-1zM352.3 304.4h1v1h-1zM353.7 307.2h1v1h-1zM358.4 305.5h1v1h-1zM357.4 298.9h1v1h-1zM358.0 298.5h1v1h-1zM353.7 299.8h1v1h-1zM358.9 301.1h1v1h-1zM352.3 302.3h1v1h-1zM358.8 305.3h1v1h-1zM355.0 298.0h1v1h-1zM354.0 298.9h1v1h-1zM352.6 303.3h1v1h-1zM352.3 302.9h1v1h-1zM355.6 299.0h1v1h-1zM355.1 297.8h1v1h-1zM359.2 299.6h1v1h-1zM357.1 306.7h1v1h-1zM358.8 301.1h1v1h-1zM358.6 300.8h1v1h-1zM354.4 307.8h1v1h-1zM356.0 308.1h1v1h-1zM359.4 301.8h1v1h-1zM356.0 307.8h1v1h-1zM358.5 298.6h1v1h-1zM355.4 298.5h1v1h-1zM356.6 307.5h1v1h-1zM353.4 299.4h1v1h-1zM355.1 306.1h1v1h-1zM355.3 299.4h1v1h-1zM352.8 304.0h1v1h-1zM356.2 307.2h1v1h-1zM358.7 304.4h1v1h-1zM353.4 306.0h1v1h-1zM359.0 301.7h1v1h-1zM357.9 306.3h1v1h-1zM357.1 307.8h1v1h-1zM358.7 301.1h1v1h-1zM356.2 307.6h1v1h-1zM358.5 303.1h1v1h-1zM353.4 305.0h1v1h-1zM352.8 303.1h1v1h-1zM352.8 305.7h1v1h-1zM355.1 297.7h1v1h-1zM356.5 298.7h1v1h-1zM354.9 306.9h1v1h-1zM358.7 301.2h1v1h-1zM352.5 305.4h1v1h-1zM354.8 305.7h1v1h-1zM353.6 300.6h1v1h-1zM354.2 298.0h1v1h-1zM358.6 298.8h1v1h-1zM356.7 297.8h1v1h-1zM359.4 302.8h1v1h-1zM357.7 305.7h1v1h-1zM358.3 298.5h1v1h-1zM356.1 298.0h1v1h-1zM355.4 297.6h1v1h-1zM359.5 303.8h1v1h-1zM357.9 299.7h1v1h-1zM353.3 301.6h1v1h-1zM352.7 302.4h1v1h-1zM356.7 305.5h1v1h-1zM358.7 303.1h1v1h-1zM352.8 304.5h1v1h-1zM357.7 305.9h1v1h-1zM354.6 298.8h1v1h-1zM356.6 307.7h1v1h-1zM354.6 300.0h1v1h-1zM357.9 298.0h1v1h-1zM356.7 298.0h1v1h-1zM354.9 307.0h1v1h-1zM356.4 298.1h1v1h-1zM352.1 304.6h1v1h-1zM355.7 307.3h1v1h-1zM357.2 304.8h1v1h-1zM353.1 302.4h1v1h-1zM353.0 301.2h1v1h-1zM358.5 303.1h1v1h-1zM354.9 299.9h1v1h-1zM353.3 298.9h1v1h-1zM353.2 305.2h1v1h-1zM354.6 306.9h1v1h-1zM356.1 305.7h1v1h-1zM356.4 308.1h1v1h-1zM354.6 299.9h1v1h-1zM356.9 306.3h1v1h-1zM353.8 306.8h1v1h-1zM354.3 307.4h1v1h-1zM357.7 305.5h1v1h-1zM356.0 307.7h1v1h-1zM357.3 299.8h1v1h-1zM355.8 297.1h1v1h-1zM354.7 300.3h1v1h-1zM352.8 303.6h1v1h-1zM354.1 305.6h1v1h-1zM355.7 308.1h1v1h-1zM359.1 303.6h1v1h-1zM357.4 306.0h1v1h-1zM355.8 299.0h1v1h-1zM358.5 300.5h1v1h-1zM354.0 305.6h1v1h-1zM355.3 306.0h1v1h-1zM357.1 298.8h1v1h-1zM352.6 302.0h1v1h-1zM354.2 298.4h1v1h-1zM353.6 299.3h1v1h-1zM355.0 306.0h1v1h-1zM355.8 306.6h1v1h-1zM358.7 302.0h1v1h-1zM358.4 300.5h1v1h-1zM355.5 306.6h1v1h-1zM355.2 306.1h1v1h-1zM355.2 305.9h1v1h-1zM358.2 305.3h1v1h-1zM355.7 297.8h1v1h-1zM354.1 299.8h1v1h-1zM356.5 298.3h1v1h-1zM353.2 301.1h1v1h-1zM355.4 299.0h1v1h-1zM353.8 298.6h1v1h-1zM354.8 306.1h1v1h-1zM353.4 300.8h1v1h-1zM359.3 300.2h1v1h-1zM352.7 303.4h1v1h-1zM354.4 299.4h1v1h-1zM357.8 298.6h1v1h-1zM357.1 299.5h1v1h-1zM359.8 302.2h1v1h-1zM352.3 304.0h1v1h-1zM353.5 299.4h1v1h-1zM358.7 300.3h1v1h-1z" fill="rgb(86, 123, 161)" opacity="0.71"/>
<path d="M333.9 275.5h1v1h-1zM336.2 275.3h1v1h-1zM335.0 274.6h1v1h-1zM337.9 275.3h1v1h-1zM332.8 275.5h1v1h-1zM334.7 274.5h1v1h-1zM334.0 275.4h1v1h-1zM334.3 275.6h1v1h-1zM337.6 275.0h1v1h-1zM355.1 277.6h1v1h-1zM355.9 275.8h1v1h-1zM333.7 275.6h1v1h-1zM333.7 275.4h1v1h-1zM334.0 274.8h1v1h-1zM334.8 274.0h1v1h-1zM328.5 274.7h1v1h-1zM335.5 274.1h1v1h-1zM334.9 274.3h1v1h-1zM337.5 274.9h1v1h-1zM332.8 274.7h1v1h-1zM334.3 275.0h1v1h-1zM335.2 275.8h1v1h-1zM334.1 275.6h1v1h-1zM333.4 275.7h1v1h-1zM337.1 274.9h1v1h-1zM336.7 274.6h1v1h-1zM335.1 274.9h1v1h-1zM336.0 275.5h1v1h-1zM328.7 274.7h1v1h-1zM337.9 275.4h1v1h-1zM334.8 275.1h1v1h-1zM333.0 275.1h1v1h-1zM336.6 275.6h1v1h-1zM333.9 274.5h1v1h-1zM337.5 275.2h1v1h-1zM333.0 274.7h1v1h-1zM355.3 276.1h1v1h-1zM336.0 275.6h1v1h-1zM354.4 277.3h1v1h-1zM335.3 275.9h1v1h-1zM335.6 274.4h1v1h-1zM334.3 274.5h1v1h-1zM335.6 275.5h1v1h-1zM332.3 275.1h1v1h-1zM336.2 274.3h1v1h-1zM354.9 278.6h1v1h-1zM333.2 274.6h1v1h-1zM333.0 275.1h1v1h-1zM334.5 274.2h1v1h-1zM335.0 275.1h1v1h-1zM336.1 275.7h1v1h-1zM335.0 275.4h1v1h-1zM337.4 275.2h1v1h-1zM335.9 275.5h1v1h-1zM364.0 276.6h1v1h-1zM334.5 274.6h1v1h-1zM335.0 274.7h1v1h-1zM335.8 275.7h1v1h-1zM332.5 275.1h1v1h-1zM334.3 274.1h1v1h-1zM337.7 274.8h1v1h-1zM337.7 274.7h1v1h-1zM332.3 275.2h1v1h-1zM355.0 278.5h1v1h-1zM354.6 277.0h1v1h-1zM362.5 274.9h1v1h-1zM355.3 278.7h1v1h-1zM364.1 276.5h1v1h-1zM355.7 276.0h1v1h-1zM363.1 279.8h1v1h-1zM359.9 280.7h1v1h-1zM359.9 280.5h1v1h-1zM363.1 279.3h1v1h-1zM359.3 274.5h1v1h-1zM358.3 274.8h1v1h-1zM355.1 278.5h1v1h-1zM355.4 278.9h1v1h-1zM363.4 278.9h1v1h-1zM360.6 274.5h1v1h-1zM360.4 274.7h1v1h-1zM364.0 276.5h1v1h-1zM355.2 278.7h1v1h-1zM364.1 278.4h1v1h-1zM356.3 279.6h1v1h-1zM356.7 275.3h1v1h-1zM363.1 275.1h1v1h-1zM363.4 278.9h1v1h-1zM363.6 275.8h1v1h-1zM358.3 280.4h1v1h-1zM356.9 279.6h1v1h-1zM358.7 280.3h1v1h-1zM364.2 277.1h1v1h-1zM362.7 275.2h1v1h-1zM362.8 280.0h1v1h-1zM355.0 277.8h1v1h-1zM354.9 276.5h1v1h-1zM359.0 280.6h1v1h-1zM359.6 274.4h1v1h-1zM363.9 279.1h1v1h-1zM357.0 275.5h1v1h-1zM364.3 276.2h1v1h-1zM358.3 280.5h1v1h-1zM362.6 279.6h1v1h-1zM362.2 280.3h1v1h-1zM355.4 278.3h1v1h-1zM363.4 275.5h1v1h-1zM364.5 277.6h1v1h-1zM363.6 275.7h1v1h-1zM355.0 278.3h1v1h-1zM356.6 279.3h1v1h-1zM359.0 274.8h1v1h-1zM364.2 278.2h1v1h-1zM357.9 280.2h1v1h-1zM359.9 280.6h1v1h-1zM362.9 279.6h1v1h-1zM359.3 274.7h1v1h-1zM363.0 275.0h1v1h-1zM354.7 278.2h1v1h-1zM354.8 304.8h1v1h-1zM353.9 302.0h1v1h-1zM356.4 304.4h1v1h-1zM354.6 303.1h1v1h-1zM356.8 305.1h1v1h-1zM357.8 301.0h1v1h-1zM357.2 301.4h1v1h-1zM354.4 305.0h1v1h-1zM355.9 303.3h1v1h-1zM357.8 303.8h1v1h-1zM357.0 303.3h1v1h-1zM357.2 303.4h1v1h-1zM354.6 302.7h1v1h-1zM356.6 300.8h1v1h-1zM355.5 303.8h1v1h-1zM357.2 303.0h1v1h-1zM357.5 301.5h1v1h-1zM355.0 303.6h1v1h-1zM356.8 301.1h1v1h-1zM357.4 301.0h1v1h-1zM357.2 300.8h1v1h-1zM357.6 302.9h1v1h-1zM355.7 303.2h1v1h-1zM355.2 300.5h1v1h-1zM354.7 301.7h1v1h-1zM357.5 301.0h1v1h-1zM357.5 302.3h1v1h-1zM356.2 305.2h1v1h-1zM353.8 304.6h1v1h-1zM354.4 302.3h1v1h-1zM354.6 300.9h1v1h-1zM357.5 302.2h1v1h-1zM357.3 303.1h1v1h-1zM355.8 303.9h1v1h-1zM357.3 301.9h1v1h-1zM355.6 301.2h1v1h-1zM354.0 303.7h1v1h-1zM354.4 302.3h1v1h-1zM356.8 303.0h1v1h-1zM356.9 304.0h1v1h-1zM353.9 303.4h1v1h-1zM356.9 300.2h1v1h-1zM358.4 300.7h1v1h-1zM357.4 303.8h1v1h-1zM354.5 302.6h1v1h-1zM354.6 302.7h1v1h-1zM354.0 301.3h1v1h-1zM358.0 301.8h1v1h-1zM355.9 305.3h1v1h-1zM354.2 301.5h1v1h-1zM357.7 304.2h1v1h-1zM355.2 304.6h1v1h-1zM356.4 303.6h1v1h-1zM354.2 301.1h1v1h-1zM355.6 305.5h1v1h-1zM353.8 303.1h1v1h-1zM355.5 303.8h1v1h-1zM355.8 305.4h1v1h-1zM353.6 304.6h1v1h-1zM354.4 302.7h1v1h-1zM356.9 302.7h1v1h-1zM360.0 280.5h1v1h-1zM356.0 304.0h1v1h-1zM355.4 302.7h1v1h-1zM355.4 304.4h1v1h-1zM354.7 300.9h1v1h-1zM354.5 304.3h1v1h-1zM354.4 302.9h1v1h-1zM356.8 300.6h1v1h-1zM358.0 300.9h1v1h-1zM355.4 301.5h1v1h-1zM354.3 301.5h1v1h-1zM357.0 301.1h1v1h-1zM356.5 303.1h1v1h-1zM355.4 303.3h1v1h-1zM354.0 303.1h1v1h-1zM357.7 300.9h1v1h-1zM355.4 301.9h1v1h-1zM354.3 303.9h1v1h-1zM355.5 304.3h1v1h-1zM356.7 302.9h1v1h-1zM357.9 300.7h1v1h-1zM353.7 303.1h1v1h-1zM355.6 302.6h1v1h-1zM357.4 300.8h1v1h-1zM357.4 302.8h1v1h-1zM354.3 301.4h1v1h-1zM356.9 300.2h1v1h-1zM355.9 301.9h1v1h-1zM356.8 301.4h1v1h-1zM357.2 303.7h1v1h-1zM353.7 301.8h1v1h-1zM357.3 301.3h1v1h-1zM357.8 304.0h1v1h-1zM354.9 304.2h1v1h-1zM354.5 302.5h1v1h-1zM358.2 301.1h1v1h-1zM353.5 302.9h1v1h-1zM353.4 302.4h1v1h-1zM357.9 300.8h1v1h-1zM353.4 303.8h1v1h-1zM357.1 300.2h1v1h-1zM355.5 301.2h1v1h-1zM355.5 302.6h1v1h-1zM356.2 302.7h1v1h-1zM357.8 300.1h1v1h-1zM354.3 303.2h1v1h-1zM357.2 303.8h1v1h-1zM355.0 304.8h1v1h-1zM354.6 303.5h1v1h-1zM356.7 302.8h1v1h-1zM354.6 303.5h1v1h-1zM356.3 304.5h1v1h-1zM355.7 305.0h1v1h-1zM357.8 302.0h1v1h-1zM356.4 303.6h1v1h-1z" fill="rgb(77, 132, 152)" opacity="0.79"/>
<path d="M355.6 277.2h1v1h-1zM355.7 276.6h1v1h-1zM363.4 276.8h1v1h-1zM355.8 277.3h1v1h-1zM363.2 278.2h1v1h-1zM356.8 279.1h1v1h-1zM363.4 277.4h1v1h-1zM363.1 278.2h1v1h-1zM363.0 276.2h1v1h-1zM357.4 275.4h1v1h-1zM359.6 275.3h1v1h-1zM357.8 275.5h1v1h-1zM356.5 276.5h1v1h-1zM355.8 278.4h1v1h-1zM358.4 279.9h1v1h-1zM363.6 277.9h1v1h-1zM363.5 277.3h1v1h-1zM356.3 276.8h1v1h-1zM361.7 280.0h1v1h-1zM363.7 278.1h1v1h-1zM363.8 277.4h1v1h-1zM356.5 276.2h1v1h-1zM357.3 276.0h1v1h-1zM363.2 279.1h1v1h-1zM358.4 275.3h1v1h-1zM361.8 279.7h1v1h-1zM363.8 276.9h1v1h-1zM355.7 276.7h1v1h-1zM356.1 278.7h1v1h-1zM355.7 277.2h1v1h-1zM362.5 279.2h1v1h-1zM356.5 278.3h1v1h-1zM362.0 279.5h1v1h-1zM356.3 278.6h1v1h-1zM358.3 280.1h1v1h-1zM356.4 277.0h1v1h-1zM358.4 275.1h1v1h-1zM363.4 276.6h1v1h-1zM356.8 275.8h1v1h-1zM356.3 278.5h1v1h-1zM359.3 274.9h1v1h-1zM362.7 275.5h1v1h-1zM356.5 276.5h1v1h-1zM360.3 280.3h1v1h-1zM358.0 275.3h1v1h-1zM356.7 279.3h1v1h-1zM360.0 280.0h1v1h-1zM361.6 275.3h1v1h-1zM363.4 276.0h1v1h-1zM356.2 278.1h1v1h-1zM357.0 278.9h1v1h-1zM355.8 278.1h1v1h-1zM361.6 280.0h1v1h-1zM356.6 278.4h1v1h-1zM361.0 275.1h1v1h-1zM358.7 275.0h1v1h-1zM363.8 277.0h1v1h-1zM362.6 279.3h1v1h-1zM356.4 278.1h1v1h-1zM361.6 275.0h1v1h-1zM362.0 279.6h1v1h-1zM355.5 277.8h1v1h-1zM355.7 278.1h1v1h-1zM358.9 279.9h1v1h-1zM355.6 276.8h1v1h-1zM361.8 275.5h1v1h-1zM358.0 279.5h1v1h-1zM358.1 280.0h1v1h-1zM356.4 278.2h1v1h-1zM359.3 275.1h1v1h-1z" fill="rgb(88, 146, 130)" opacity="0.89"/>
<path d="M363.0 276.7h1v1h-1zM356.5 278.1h1v1h-1zM360.5 279.7h1v1h-1zM358.0 278.9h1v1h-1zM357.7 276.1h1v1h-1zM356.5 277.1h1v1h-1zM360.6 275.7h1v1h-1zM358.3 276.0h1v1h-1zM361.3 275.9h1v1h-1zM362.4 278.7h1v1h-1zM362.3 278.8h1v1h-1zM362.1 278.9h1v1h-1zM358.3 279.5h1v1h-1zM361.7 275.5h1v1h-1zM362.9 276.9h1v1h-1zM356.6 277.4h1v1h-1zM362.5 276.4h1v1h-1zM357.3 276.5h1v1h-1zM362.2 276.2h1v1h-1zM361.9 279.4h1v1h-1zM360.1 279.8h1v1h-1zM358.6 276.0h1v1h-1zM362.7 276.5h1v1h-1zM356.4 277.3h1v1h-1zM361.3 275.7h1v1h-1zM357.2 278.0h1v1h-1zM357.1 278.7h1v1h-1zM356.8 278.1h1v1h-1zM362.5 275.9h1v1h-1zM360.3 275.6h1v1h-1zM357.3 276.6h1v1h-1zM359.5 275.6h1v1h-1zM362.1 276.0h1v1h-1zM359.9 279.6h1v1h-1zM359.9 279.6h1v1h-1zM360.9 279.6h1v1h-1zM357.0 277.4h1v1h-1zM358.1 279.3h1v1h-1zM362.2 278.9h1v1h-1zM359.5 279.4h1v1h-1zM362.5 278.6h1v1h-1zM358.0 279.4h1v1h-1zM359.3 279.7h1v1h-1zM359.6 275.4h1v1h-1zM358.7 279.4h1v1h-1zM359.7 275.5h1v1h-1zM358.2 275.7h1v1h-1zM359.3 279.6h1v1h-1zM357.4 276.4h1v1h-1zM358.2 276.2h1v1h-1zM356.7 277.4h1v1h-1zM357.8 279.0h1v1h-1zM360.5 279.7h1v1h-1zM360.1 275.3h1v1h-1zM360.5 275.3h1v1h-1zM357.0 276.5h1v1h-1zM358.0 279.0h1v1h-1zM362.2 275.9h1v1h-1zM357.1 278.3h1v1h-1zM356.6 278.3h1v1h-1zM360.2 275.7h1v1h-1zM361.8 275.8h1v1h-1zM358.9 279.8h1v1h-1z" fill="rgb(107, 163, 101)" opacity="0.90"/>
<path d="M362.3 277.1h1v1h-1zM362.1 276.7h1v1h-1zM358.4 276.3h1v1h-1zM359.5 276.1h1v1h-1zM357.9 278.2h1v1h-1zM360.8 279.2h1v1h-1zM361.4 276.0h1v1h-1zM358.1 278.7h1v1h-1zM357.7 278.2h1v1h-1zM361.7 278.2h1v1h-1zM359.3 279.1h1v1h-1zM358.2 277.2h1v1h-1zM359.3 278.9h1v1h-1zM358.6 278.5h1v1h-1zM361.4 276.6h1v1h-1zM360.3 279.3h1v1h-1zM358.0 277.7h1v1h-1zM358.1 277.7h1v1h-1zM358.3 277.7h1v1h-1zM359.7 276.4h1v1h-1zM362.0 277.5h1v1h-1zM358.8 279.0h1v1h-1zM361.7 278.3h1v1h-1zM360.9 279.2h1v1h-1zM361.9 278.7h1v1h-1zM362.3 277.7h1v1h-1zM358.6 276.9h1v1h-1zM358.2 276.6h1v1h-1zM361.4 276.7h1v1h-1zM361.6 278.7h1v1h-1zM361.1 276.2h1v1h-1zM361.8 276.4h1v1h-1zM360.9 279.1h1v1h-1zM362.0 277.8h1v1h-1zM358.5 276.3h1v1h-1zM359.1 276.3h1v1h-1zM360.8 279.1h1v1h-1zM361.8 276.4h1v1h-1zM358.3 278.6h1v1h-1zM360.4 278.9h1v1h-1zM362.0 277.7h1v1h-1zM358.5 277.0h1v1h-1zM362.3 276.7h1v1h-1zM358.0 277.1h1v1h-1zM357.9 277.7h1v1h-1zM361.5 278.5h1v1h-1zM359.5 276.4h1v1h-1zM360.8 278.8h1v1h-1zM362.4 277.1h1v1h-1zM359.3 276.0h1v1h-1zM358.2 277.1h1v1h-1zM357.3 277.4h1v1h-1zM361.1 276.1h1v1h-1zM358.8 276.0h1v1h-1zM358.6 276.2h1v1h-1zM362.0 277.5h1v1h-1zM360.8 278.9h1v1h-1zM359.5 279.0h1v1h-1zM360.2 279.4h1v1h-1zM358.1 277.2h1v1h-1zM362.1 278.1h1v1h-1zM360.2 276.3h1v1h-1zM359.6 275.9h1v1h-1zM360.0 279.1h1v1h-1zM361.0 276.3h1v1h-1zM358.1 277.2h1v1h-1zM357.5 277.5h1v1h-1zM357.7 277.8h1v1h-1zM358.1 277.2h1v1h-1zM358.5 276.7h1v1h-1zM357.8 277.5h1v1h-1zM359.2 276.1h1v1h-1zM360.3 276.1h1v1h-1zM361.7 278.7h1v1h-1zM362.0 277.3h1v1h-1zM361.7 276.5h1v1h-1zM360.6 276.1h1v1h-1zM361.8 278.3h1v1h-1zM357.9 278.0h1v1h-1zM358.5 277.0h1v1h-1zM361.8 278.0h1v1h-1zM360.3 276.3h1v1h-1z" fill="rgb(138, 176, 81)" opacity="0.90"/>
<path d="M361.3 277.6h1v1h-1zM361.7 277.7h1v1h-1zM359.8 276.5h1v1h-1zM359.5 278.3h1v1h-1zM358.8 277.7h1v1h-1zM361.2 278.0h1v1h-1zM360.5 277.1h1v1h-1zM359.9 278.5h1v1h-1zM359.5 278.7h1v1h-1zM359.3 277.8h1v1h-1zM359.5 277.8h1v1h-1zM360.0 276.8h1v1h-1zM358.9 277.8h1v1h-1zM359.2 278.4h1v1h-1zM359.8 278.6h1v1h-1zM361.5 276.9h1v1h-1zM360.3 277.4h1v1h-1zM360.9 277.4h1v1h-1zM361.7 278.1h1v1h-1zM361.9 277.5h1v1h-1zM360.0 276.7h1v1h-1zM360.8 278.8h1v1h-1zM358.7 277.8h1v1h-1zM361.0 276.9h1v1h-1zM361.0 278.1h1v1h-1zM360.5 278.0h1v1h-1zM360.1 277.9h1v1h-1zM361.4 278.1h1v1h-1zM360.3 276.7h1v1h-1zM360.3 278.9h1v1h-1zM359.9 277.2h1v1h-1zM359.8 278.8h1v1h-1zM361.1 277.3h1v1h-1zM360.5 277.7h1v1h-1zM361.5 277.2h1v1h-1zM358.5 277.5h1v1h-1zM361.7 277.9h1v1h-1zM360.1 278.5h1v1h-1zM359.0 277.4h1v1h-1zM360.2 276.8h1v1h-1zM359.3 278.3h1v1h-1zM361.2 277.7h1v1h-1zM359.1 277.9h1v1h-1zM360.5 278.4h1v1h-1zM361.1 277.6h1v1h-1zM360.1 278.4h1v1h-1zM361.0 276.9h1v1h-1zM359.1 276.6h1v1h-1zM359.1 278.3h1v1h-1zM360.3 278.7h1v1h-1zM359.7 277.7h1v1h-1zM359.0 277.6h1v1h-1zM358.9 278.5h1v1h-1zM361.1 277.6h1v1h-1zM361.0 277.4h1v1h-1zM359.7 276.7h1v1h-1zM361.5 277.9h1v1h-1zM360.8 278.4h1v1h-1zM360.7 276.9h1v1h-1zM361.3 277.7h1v1h-1zM361.3 276.8h1v1h-1zM359.6 278.1h1v1h-1zM359.7 277.7h1v1h-1zM359.5 278.0h1v1h-1zM361.0 277.5h1v1h-1zM359.9 278.7h1v1h-1zM360.4 277.6h1v1h-1zM361.2 277.0h1v1h-1zM360.6 276.7h1v1h-1zM360.0 277.0h1v1h-1zM361.4 276.8h1v1h-1zM360.0 278.1h1v1h-1zM359.3 277.4h1v1h-1zM359.4 278.5h1v1h-1zM358.3 277.5h1v1h-1zM359.7 277.9h1v1h-1zM359.4 277.7h1v1h-1zM360.8 277.7h1v1h-1zM361.1 277.7h1v1h-1z" fill="rgb(179, 186, 65)" opacity="0.90"/>
<rect x="345.2" y="290.5" width="21.100000000000023" height="24.899999999999977" fill="none" stroke="#222" stroke-width="0.9" />
<text x="309.8" y="311.4" font-family="'Liberation Serif', serif" font-size="11.2" text-anchor="start" fill="#222" >27.1%</text>
<text x="335.4" y="252" font-family="'Liberation Serif', serif" font-size="9.6" text-anchor="middle" fill="#111" >shNdel1-3</text>
<line x1="299.3" y1="268.09999999999997" x2="300.5" y2="268.09999999999997" stroke="#333" stroke-width="0.7" />
<text x="297.9" y="269.5" font-family="Liberation Serif, serif" font-size="3.8" text-anchor="end" fill="#333">10<tspan font-size="2.8" dy="-1.3">5</tspan></text>
<line x1="299.3" y1="283.5" x2="300.5" y2="283.5" stroke="#333" stroke-width="0.7" />
<text x="297.9" y="284.9" font-family="Liberation Serif, serif" font-size="3.8" text-anchor="end" fill="#333">10<tspan font-size="2.8" dy="-1.3">4</tspan></text>
<line x1="299.3" y1="299.09999999999997" x2="300.5" y2="299.09999999999997" stroke="#333" stroke-width="0.7" />
<text x="297.9" y="300.5" font-family="Liberation Serif, serif" font-size="3.8" text-anchor="end" fill="#333">10<tspan font-size="2.8" dy="-1.3">3</tspan></text>
<line x1="299.3" y1="315.5" x2="300.5" y2="315.5" stroke="#333" stroke-width="0.7" />
<text x="297.9" y="316.9" font-family="Liberation Serif, serif" font-size="3.8" text-anchor="end" fill="#333">10<tspan font-size="2.8" dy="-1.3">2</tspan></text>
<text x="296.5" y="324.6" font-family="Liberation Serif, serif" font-size="3.8" text-anchor="end" fill="#333">0</text>
<line x1="299.3" y1="323.2" x2="300.5" y2="323.2" stroke="#333" stroke-width="0.7" />
<line x1="306.9683760683761" y1="329.4" x2="306.9683760683761" y2="330.59999999999997" stroke="#333" stroke-width="0.7" />
<text x="307.0" y="336.4" font-family="Liberation Serif, serif" font-size="3.8" text-anchor="middle" fill="#333">0</text>
<line x1="315.102849002849" y1="329.4" x2="315.102849002849" y2="330.59999999999997" stroke="#333" stroke-width="0.7" />
<text x="314.5" y="336.4" font-family="Liberation Serif, serif" font-size="3.8" text-anchor="middle" fill="#333">10<tspan font-size="2.8" dy="-1.3">2</tspan></text>
<line x1="330.0977207977208" y1="329.4" x2="330.0977207977208" y2="330.59999999999997" stroke="#333" stroke-width="0.7" />
<text x="329.5" y="336.4" font-family="Liberation Serif, serif" font-size="3.8" text-anchor="middle" fill="#333">10<tspan font-size="2.8" dy="-1.3">3</tspan></text>
<line x1="346.3666666666667" y1="329.4" x2="346.3666666666667" y2="330.59999999999997" stroke="#333" stroke-width="0.7" />
<text x="345.8" y="336.4" font-family="Liberation Serif, serif" font-size="3.8" text-anchor="middle" fill="#333">10<tspan font-size="2.8" dy="-1.3">4</tspan></text>
<line x1="358.5193732193732" y1="329.4" x2="358.5193732193732" y2="330.59999999999997" stroke="#333" stroke-width="0.7" />
<text x="357.9" y="336.4" font-family="Liberation Serif, serif" font-size="3.8" text-anchor="middle" fill="#333">10<tspan font-size="2.8" dy="-1.3">5</tspan></text>
<path d="M24.75,338.6 V296" stroke="#000" stroke-width="1.5" fill="none"/>
<path d="M23,297.8 L24.75,292.8 L26.5,297.8 Z" fill="#000"/>
<path d="M24,338.6 H66" stroke="#000" stroke-width="1.5" fill="none"/>
<path d="M64.2,336.8 L69,338.6 L64.2,340.4 Z" fill="#000"/>
<text x="0" y="0" font-family="'Liberation Serif', serif" font-size="7.9" text-anchor="middle" fill="#000" transform="translate(21.3,319) rotate(-90)" fill="#111">Hoechst</text>
<text x="29.6" y="347.5" font-family="'Liberation Serif', serif" font-size="8" text-anchor="start" fill="#111" >Ter 119</text>
<path d="M373.4,278.3 L378.6,275.40000000000003 L377.2,278.3 L378.6,281.2 Z" fill="#111"/>
<line x1="376.5" y1="278.3" x2="380.6" y2="278.3" stroke="#111" stroke-width="1" />
<path d="M373.4,301.9 L378.6,299.0 L377.2,301.9 L378.6,304.79999999999995 Z" fill="#111"/>
<line x1="376.5" y1="301.9" x2="380.6" y2="301.9" stroke="#111" stroke-width="1" />
<text x="383.7" y="276.3" font-family="'Liberation Sans', sans-serif" font-size="8" text-anchor="start" fill="#222" >nucleated</text>
<text x="383.7" y="286.3" font-family="'Liberation Sans', sans-serif" font-size="8" text-anchor="start" fill="#222" >erythroid</text>
<text x="383.7" y="304.2" font-family="'Liberation Sans', sans-serif" font-size="8" text-anchor="start" fill="#222" >reticulocyte</text>
<line x1="446.8" y1="229.8" x2="446.8" y2="330.3" stroke="#000" stroke-width="1.2" />
<line x1="446.2" y1="330.3" x2="514.2" y2="330.3" stroke="#000" stroke-width="1.2" />
<line x1="444.5" y1="230.5" x2="446.8" y2="230.5" stroke="#000" stroke-width="1" />
<text x="442.5" y="233.1" font-family="'Liberation Sans', sans-serif" font-size="7.0" text-anchor="end" font-weight="bold" fill="#111" >60</text>
<line x1="444.5" y1="263.8" x2="446.8" y2="263.8" stroke="#000" stroke-width="1" />
<text x="442.5" y="266.40000000000003" font-family="'Liberation Sans', sans-serif" font-size="7.0" text-anchor="end" font-weight="bold" fill="#111" >40</text>
<line x1="444.5" y1="297" x2="446.8" y2="297" stroke="#000" stroke-width="1" />
<text x="442.5" y="299.6" font-family="'Liberation Sans', sans-serif" font-size="7.0" text-anchor="end" font-weight="bold" fill="#111" >20</text>
<line x1="444.5" y1="330.3" x2="446.8" y2="330.3" stroke="#000" stroke-width="1" />
<text x="442.5" y="332.90000000000003" font-family="'Liberation Sans', sans-serif" font-size="7.0" text-anchor="end" font-weight="bold" fill="#111" >0</text>
<text x="0" y="0" font-family="'Liberation Serif', serif" font-size="9.6" text-anchor="middle" font-weight="bold" fill="#000" transform="translate(432.3,278.5) rotate(-90)" fill="#111">Enucleation rate (%)</text>
<rect x="449" y="250.5" width="12.1" height="79.8" fill="#000" stroke="none" stroke-width="0" />
<line x1="455.05" y1="240.4" x2="455.05" y2="250.5" stroke="#000" stroke-width="1.2" />
<line x1="452" y1="240.4" x2="458.1" y2="240.4" stroke="#000" stroke-width="1.2" />
<rect x="465.3" y="311.9" width="12.5" height="18.4" fill="#d42424" stroke="none" stroke-width="0" />
<line x1="471.5" y1="310" x2="471.5" y2="311.9" stroke="#d42424" stroke-width="1.2" />
<line x1="468" y1="310" x2="475" y2="310" stroke="#d42424" stroke-width="1.2" />
<rect x="482.2" y="307.8" width="12.3" height="22.5" fill="#62b84a" stroke="none" stroke-width="0" />
<rect x="498.8" y="291.1" width="12.3" height="39.2" fill="#2c3c9c" stroke="none" stroke-width="0" />
<line x1="504.95" y1="285.6" x2="504.95" y2="291.1" stroke="#2c3c9c" stroke-width="1.3" />
<line x1="501.2" y1="285.6" x2="508.5" y2="285.6" stroke="#2c3c9c" stroke-width="1.3" />
<line x1="455" y1="330.3" x2="455" y2="332.3" stroke="#000" stroke-width="0.9" />
<line x1="471.5" y1="330.3" x2="471.5" y2="332.3" stroke="#000" stroke-width="0.9" />
<line x1="487.9" y1="330.3" x2="487.9" y2="332.3" stroke="#000" stroke-width="0.9" />
<line x1="504.7" y1="330.3" x2="504.7" y2="332.3" stroke="#000" stroke-width="0.9" />
<text x="470.4" y="311.2" font-family="'Liberation Sans', sans-serif" font-size="10.0" text-anchor="middle" font-weight="bold" fill="#444" stroke="#444" stroke-width="0.45">**</text>
<text x="488.5" y="306.8" font-family="'Liberation Sans', sans-serif" font-size="10.0" text-anchor="middle" font-weight="bold" fill="#444" stroke="#444" stroke-width="0.45">**</text>
<text x="504.9" y="285.2" font-family="'Liberation Sans', sans-serif" font-size="10.0" text-anchor="middle" font-weight="bold" fill="#444" stroke="#444" stroke-width="0.45">**</text>
<text x="444" y="344.2" font-family="'Liberation Sans', sans-serif" font-size="8.7" text-anchor="start" fill="#111" >shLuc</text>
<text x="472.3" y="344.5" font-family="'Liberation Sans', sans-serif" font-size="9.2" text-anchor="middle" fill="#111" >1</text>
<text x="489.6" y="344.5" font-family="'Liberation Sans', sans-serif" font-size="9.2" text-anchor="middle" fill="#111" >2</text>
<text x="506" y="344.5" font-family="'Liberation Sans', sans-serif" font-size="9.2" text-anchor="middle" fill="#111" >3</text>
<line x1="466.4" y1="347.4" x2="518.4" y2="347.4" stroke="#444" stroke-width="1" />
<text x="473.5" y="360" font-family="'Liberation Sans', sans-serif" font-size="8.8" text-anchor="start" fill="#111" >shNdel1</text>
<text x="0.8" y="366" font-family="'Liberation Sans', sans-serif" font-size="10.5" text-anchor="start" font-weight="bold" fill="#000" >E</text>
<line x1="34.6" y1="373" x2="34.6" y2="392.3" stroke="#000" stroke-width="1.1" />
<line x1="31.8" y1="392.3" x2="37.6" y2="392.3" stroke="#000" stroke-width="1.1" />
<line x1="34.6" y1="399.8" x2="34.6" y2="473.8" stroke="#000" stroke-width="1.1" />
<line x1="31.8" y1="399.8" x2="37.6" y2="399.8" stroke="#000" stroke-width="1.1" />
<line x1="34" y1="473.8" x2="101.5" y2="473.8" stroke="#000" stroke-width="1.1" />
<line x1="31.2" y1="378.4" x2="34.6" y2="378.4" stroke="#000" stroke-width="1" />
<text x="28.9" y="381.8" font-family="'Liberation Serif', serif" font-size="7.3" text-anchor="end" font-weight="bold" fill="#222" letter-spacing="0.9">1000</text>
<line x1="31.2" y1="386.1" x2="34.6" y2="386.1" stroke="#000" stroke-width="1" />
<text x="28.9" y="389.2" font-family="'Liberation Serif', serif" font-size="7.3" text-anchor="end" font-weight="bold" fill="#222" letter-spacing="0.9">500</text>
<line x1="31.6" y1="412.3" x2="34.6" y2="412.3" stroke="#000" stroke-width="1" />
<text x="28.6" y="414.5" font-family="'Liberation Serif', serif" font-size="6.6" text-anchor="end" font-weight="bold" fill="#222" letter-spacing="0.4">1.0</text>
<line x1="31.6" y1="442.9" x2="34.6" y2="442.9" stroke="#000" stroke-width="1" />
<text x="28.6" y="445.09999999999997" font-family="'Liberation Serif', serif" font-size="6.6" text-anchor="end" font-weight="bold" fill="#222" letter-spacing="0.4">0.5</text>
<line x1="31.6" y1="473.6" x2="34.6" y2="473.6" stroke="#000" stroke-width="1" />
<text x="28.6" y="475.8" font-family="'Liberation Serif', serif" font-size="6.6" text-anchor="end" font-weight="bold" fill="#222" letter-spacing="0.4">0.0</text>
<text x="0" y="0" font-family="'Liberation Serif', serif" font-size="9.4" text-anchor="middle" fill="#000" transform="translate(8.6,427) rotate(-90)" fill="#222">Relative Expression Level</text>
<rect x="37.4" y="411.7" width="6" height="62" fill="#000" stroke="none" stroke-width="0" />
<rect x="44.2" y="459.5" width="6" height="14.2" fill="#d42a2a" stroke="none" stroke-width="0" />
<line x1="47.2" y1="453" x2="47.2" y2="459.5" stroke="#d42a2a" stroke-width="1.1" />
<line x1="45.4" y1="453" x2="49" y2="453" stroke="#d42a2a" stroke-width="1.1" />
<rect x="51.6" y="400.3" width="6" height="73.4" fill="#6cb84c" stroke="none" stroke-width="0" />
<path d="M51.6,392 V386.5 A3,2.8 0 0 1 57.6,386.5 V392 Z" fill="#6cb84c"/>
<rect x="58.8" y="432.3" width="6" height="41.4" fill="#2e3c9e" stroke="none" stroke-width="0" />
<line x1="61.8" y1="422.2" x2="61.8" y2="432.3" stroke="#2e3c9e" stroke-width="1.1" />
<line x1="60" y1="422.2" x2="63.6" y2="422.2" stroke="#2e3c9e" stroke-width="1.1" />
<rect x="70.4" y="411.7" width="6.2" height="62" fill="#000" stroke="none" stroke-width="0" />
<rect x="77.8" y="465.5" width="5.8" height="8.2" fill="#d42a2a" stroke="none" stroke-width="0" />
<line x1="80.7" y1="461.5" x2="80.7" y2="465.5" stroke="#d42a2a" stroke-width="1.1" />
<line x1="78.9" y1="461.5" x2="82.5" y2="461.5" stroke="#d42a2a" stroke-width="1.1" />
<path d="M84.8,473.7 V470.5 A3,2.5 0 0 1 90.8,470.5 V473.7 Z" fill="#6cb84c"/>
<rect x="91.9" y="400.3" width="6" height="73.4" fill="#2e3c9e" stroke="none" stroke-width="0" />
<rect x="91.9" y="384.6" width="6" height="7.4" fill="#2e3c9e" stroke="none" stroke-width="0" />
<line x1="94.9" y1="378.2" x2="94.9" y2="384.6" stroke="#2e3c9e" stroke-width="1.1" />
<line x1="93" y1="378.2" x2="96.8" y2="378.2" stroke="#2e3c9e" stroke-width="1.1" />
<text x="47" y="454.1" font-family="'Liberation Sans', sans-serif" font-size="10.96" text-anchor="middle" font-weight="bold" fill="#666" stroke="#666" stroke-width="0.45">**</text>
<text x="62.5" y="424.34" font-family="'Liberation Sans', sans-serif" font-size="10.27" text-anchor="middle" font-weight="bold" fill="#666" stroke="#666" stroke-width="0.45">**</text>
<text x="80.9" y="462.49" font-family="'Liberation Sans', sans-serif" font-size="9.59" text-anchor="middle" font-weight="bold" fill="#666" stroke="#666" stroke-width="0.45">**</text>
<text x="88.2" y="469.89" font-family="'Liberation Sans', sans-serif" font-size="9.59" text-anchor="middle" font-weight="bold" fill="#666" stroke="#666" stroke-width="0.45">**</text>
<text x="54.85" y="383.7" font-family="'Liberation Sans', sans-serif" font-size="10.0" text-anchor="middle" font-weight="bold" fill="#666" stroke="#666" stroke-width="0.45">**</text>
<text x="94.85" y="379.9" font-family="'Liberation Sans', sans-serif" font-size="10.96" text-anchor="middle" font-weight="bold" fill="#666" stroke="#666" stroke-width="0.45">**</text>
<line x1="50.2" y1="473.8" x2="50.2" y2="475.8" stroke="#000" stroke-width="1" />
<line x1="84" y1="473.8" x2="84" y2="475.8" stroke="#000" stroke-width="1" />
<text x="51.15" y="486.6" font-family="'Liberation Serif', serif" font-size="9.4" text-anchor="middle" fill="#222" >Exc.</text>
<text x="86.45" y="486.6" font-family="'Liberation Serif', serif" font-size="9.4" text-anchor="middle" fill="#222" >Inc.</text>
<line x1="33.8" y1="490" x2="93.8" y2="490" stroke="#333" stroke-width="1" />
<text x="50.2" y="499.8" font-family="'Liberation Serif', serif" font-size="9.4" text-anchor="start" fill="#222" >Ndel1</text>
<text x="152" y="366" font-family="'Liberation Sans', sans-serif" font-size="10.3" text-anchor="start" font-weight="bold" fill="#000" >F</text>
<line x1="166" y1="381.6" x2="166" y2="467.6" stroke="#000" stroke-width="1.1" />
<line x1="165.5" y1="467.6" x2="285.6" y2="467.6" stroke="#000" stroke-width="1.1" />
<line x1="165" y1="382" x2="166" y2="382" stroke="#000" stroke-width="1" />
<text x="166.0" y="384.7" font-family="'Liberation Serif', serif" font-size="8.2" text-anchor="end" font-weight="bold" fill="#222" letter-spacing="1.3">32</text>
<line x1="165" y1="396.6" x2="166" y2="396.6" stroke="#000" stroke-width="1" />
<text x="166.0" y="399.3" font-family="'Liberation Serif', serif" font-size="8.2" text-anchor="end" font-weight="bold" fill="#222" letter-spacing="1.3">16</text>
<line x1="165" y1="410.7" x2="166" y2="410.7" stroke="#000" stroke-width="1" />
<text x="166.0" y="413.4" font-family="'Liberation Serif', serif" font-size="8.2" text-anchor="end" font-weight="bold" fill="#222" letter-spacing="1.3">8</text>
<line x1="165" y1="425" x2="166" y2="425" stroke="#000" stroke-width="1" />
<text x="166.0" y="427.7" font-family="'Liberation Serif', serif" font-size="8.2" text-anchor="end" font-weight="bold" fill="#222" letter-spacing="1.3">4</text>
<line x1="165" y1="439" x2="166" y2="439" stroke="#000" stroke-width="1" />
<text x="166.0" y="441.7" font-family="'Liberation Serif', serif" font-size="8.2" text-anchor="end" font-weight="bold" fill="#222" letter-spacing="1.3">2</text>
<line x1="165" y1="452.8" x2="166" y2="452.8" stroke="#000" stroke-width="1" />
<text x="166.0" y="455.5" font-family="'Liberation Serif', serif" font-size="8.2" text-anchor="end" font-weight="bold" fill="#222" letter-spacing="1.3">1</text>
<line x1="165" y1="467" x2="166" y2="467" stroke="#000" stroke-width="1" />
<text x="166.0" y="469.7" font-family="'Liberation Serif', serif" font-size="8.2" text-anchor="end" font-weight="bold" fill="#222" letter-spacing="1.3">0.5</text>
<text x="0" y="0" font-family="'Liberation Serif', serif" font-size="9.3" text-anchor="middle" fill="#000" transform="translate(152.4,426) rotate(-90)" fill="#222">Fold Cell Proliferation</text>
<line x1="186.6" y1="467.6" x2="186.6" y2="470" stroke="#000" stroke-width="1" />
<text x="186.5" y="480.6" font-family="'Liberation Sans', sans-serif" font-size="9.6" text-anchor="middle" fill="#222" >0</text>
<line x1="227" y1="467.6" x2="227" y2="470" stroke="#000" stroke-width="1" />
<text x="228.5" y="480.6" font-family="'Liberation Sans', sans-serif" font-size="9.6" text-anchor="middle" fill="#222" >24</text>
<line x1="266.8" y1="467.6" x2="266.8" y2="470" stroke="#000" stroke-width="1" />
<text x="265.3" y="480.6" font-family="'Liberation Sans', sans-serif" font-size="9.6" text-anchor="middle" fill="#222" >48</text>
<text x="223.9" y="489.6" font-family="'Liberation Sans', sans-serif" font-size="8" text-anchor="middle" fill="#222" >Culture time (hour)</text>
<polyline points="186.6,452.8 227,441.2 266.8,440.2" fill="none" stroke="#6cb050" stroke-width="1.1"/>
<polyline points="186.6,452.8 227,435.2 266.8,432" fill="none" stroke="#d02c2c" stroke-width="1.1"/>
<polyline points="186.6,452.8 227,428 266.8,421.7" fill="none" stroke="#3a48a8" stroke-width="1.1"/>
<polyline points="186.6,452.8 227,420.5 266.8,396.5" fill="none" stroke="#000" stroke-width="1.1"/>
<line x1="227" y1="435" x2="227" y2="448" stroke="#6cb050" stroke-width="1.1" />
<line x1="225.2" y1="435" x2="228.8" y2="435" stroke="#6cb050" stroke-width="1.1" />
<line x1="225.2" y1="448" x2="228.8" y2="448" stroke="#6cb050" stroke-width="1.1" />
<line x1="266.8" y1="427" x2="266.8" y2="457" stroke="#6cb050" stroke-width="1.1" />
<line x1="265.0" y1="427" x2="268.6" y2="427" stroke="#6cb050" stroke-width="1.1" />
<line x1="265.0" y1="457" x2="268.6" y2="457" stroke="#6cb050" stroke-width="1.1" />
<line x1="227" y1="431" x2="227" y2="439" stroke="#d02c2c" stroke-width="1.1" />
<line x1="225.2" y1="431" x2="228.8" y2="431" stroke="#d02c2c" stroke-width="1.1" />
<line x1="225.2" y1="439" x2="228.8" y2="439" stroke="#d02c2c" stroke-width="1.1" />
<line x1="266.8" y1="428.5" x2="266.8" y2="436" stroke="#d02c2c" stroke-width="1.1" />
<line x1="265.0" y1="428.5" x2="268.6" y2="428.5" stroke="#d02c2c" stroke-width="1.1" />
<line x1="265.0" y1="436" x2="268.6" y2="436" stroke="#d02c2c" stroke-width="1.1" />
<line x1="227" y1="417.3" x2="227" y2="424" stroke="#000" stroke-width="1.1" />
<line x1="225.2" y1="417.3" x2="228.8" y2="417.3" stroke="#000" stroke-width="1.1" />
<line x1="225.2" y1="424" x2="228.8" y2="424" stroke="#000" stroke-width="1.1" />
<line x1="266.8" y1="391.7" x2="266.8" y2="402.5" stroke="#000" stroke-width="1.1" />
<line x1="265.0" y1="391.7" x2="268.6" y2="391.7" stroke="#000" stroke-width="1.1" />
<line x1="265.0" y1="402.5" x2="268.6" y2="402.5" stroke="#000" stroke-width="1.1" />
<line x1="266.8" y1="402.5" x2="266.8" y2="420" stroke="#333" stroke-width="0.9" stroke-dasharray="2,1.5"/>
<circle cx="227" cy="420.5" r="1.4" fill="#000"/>
<circle cx="266.8" cy="396.5" r="1.4" fill="#000"/>
<circle cx="227" cy="435.2" r="1.4" fill="#d02c2c"/>
<circle cx="266.8" cy="432" r="1.4" fill="#d02c2c"/>
<circle cx="227" cy="441.2" r="1.4" fill="#6cb050"/>
<circle cx="266.8" cy="440.2" r="1.4" fill="#6cb050"/>
<circle cx="186.6" cy="452.8" r="1.4" fill="#000"/>
<path d="M225.3,429.3 L227,426.3 L228.7,429.3 Z" fill="#3a48a8"/>
<path d="M265.1,423.0 L266.8,420.0 L268.5,423.0 Z" fill="#3a48a8"/>
<text x="265.3" y="418.33" font-family="'Liberation Sans', sans-serif" font-size="9.86" text-anchor="middle" font-weight="bold" fill="#777" stroke="#777" stroke-width="0.45">**</text>
<path d="M271.6,419.9 H277 V432.1 H271.6 M271.6,419.2 H287.2 V438.9 H271.6" fill="none" stroke="#000" stroke-width="0.9"/>
<text x="281.4" y="431.43" font-family="'Liberation Sans', sans-serif" font-size="9.86" text-anchor="middle" font-weight="bold" fill="#333" stroke="#333" stroke-width="0.45">**</text>
<text x="289.2" y="435.57" font-family="'Liberation Sans', sans-serif" font-size="9.17" text-anchor="middle" font-weight="bold" fill="#333" stroke="#333" stroke-width="0.45">*</text>
<line x1="304.6" y1="366" x2="312.7" y2="366" stroke="#000" stroke-width="1.1" />
<circle cx="308.6" cy="366" r="1.1" fill="#000"/>
<text x="314.3" y="368.3" font-family="'Liberation Serif', serif" font-size="6.95" text-anchor="start" fill="#222" >N.S shRNA+DsRed</text>
<line x1="304.6" y1="375.3" x2="312.7" y2="375.3" stroke="#d02c2c" stroke-width="1.1" />
<circle cx="308.6" cy="375.3" r="1.1" fill="#d02c2c"/>
<text x="314.3" y="377.6" font-family="'Liberation Serif', serif" font-size="6.95" text-anchor="start" fill="#222" >shNdel1-2+DsRed</text>
<line x1="304.6" y1="384.5" x2="312.7" y2="384.5" stroke="#3a48a8" stroke-width="1.1" />
<circle cx="308.6" cy="384.5" r="1.1" fill="#3a48a8"/>
<text x="314.3" y="386.8" font-family="'Liberation Serif', serif" font-size="6.95" text-anchor="start" fill="#222" >shNdel1-2+Ndel1 inc.</text>
<line x1="304.6" y1="393" x2="312.7" y2="393" stroke="#6cb050" stroke-width="1.1" />
<circle cx="308.6" cy="393" r="1.1" fill="#6cb050"/>
<text x="314.3" y="395.3" font-family="'Liberation Serif', serif" font-size="6.95" text-anchor="start" fill="#222" >shNdel1-2+Ndel1 exc.</text></svg>
</body></html>
